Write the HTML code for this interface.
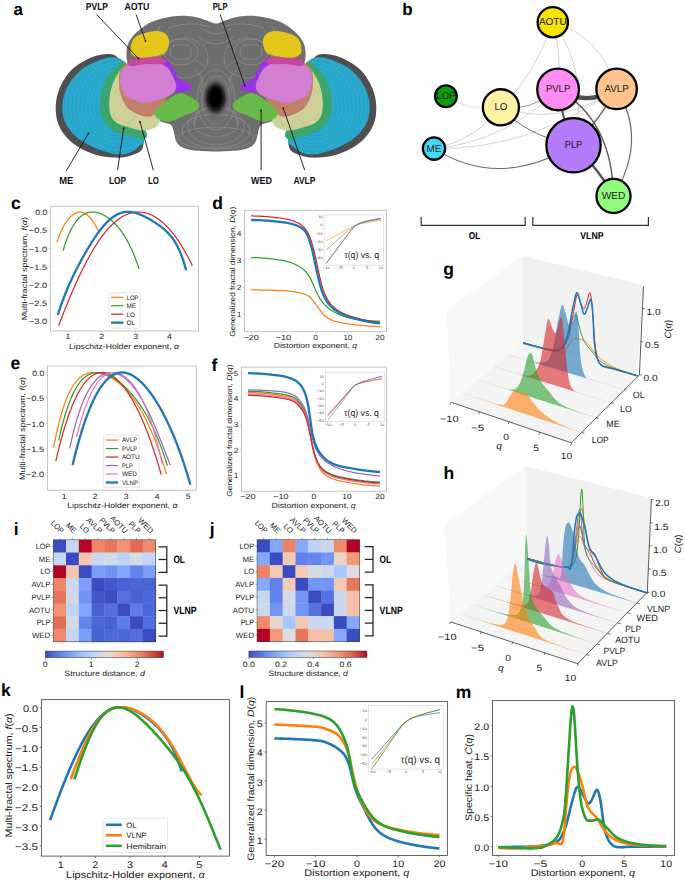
<!DOCTYPE html>
<html><head><meta charset="utf-8"><style>
html,body{margin:0;padding:0;background:#fff;}
body{width:685px;height:883px;overflow:hidden;}
svg{display:block;font-family:"Liberation Sans",sans-serif;text-rendering:geometricPrecision;}
</style></head><body>
<svg width="685" height="883" viewBox="0 0 685 883">
<rect width="685" height="883" fill="#fff"/>
<rect x="50.40" y="206.30" width="148.10" height="124.70" fill="#fff" stroke="#bdbdbd" stroke-width="0.90"/>
<line x1="67.87" y1="331.00" x2="67.87" y2="332.60" stroke="#bdbdbd" stroke-width="0.80"/>
<text x="67.87" y="339.34" font-size="7.75" text-anchor="middle" fill="#1a1a1a" textLength="4.84" lengthAdjust="spacingAndGlyphs">1</text>
<line x1="101.74" y1="331.00" x2="101.74" y2="332.60" stroke="#bdbdbd" stroke-width="0.80"/>
<text x="101.74" y="339.34" font-size="7.75" text-anchor="middle" fill="#1a1a1a" textLength="4.84" lengthAdjust="spacingAndGlyphs">2</text>
<line x1="135.61" y1="331.00" x2="135.61" y2="332.60" stroke="#bdbdbd" stroke-width="0.80"/>
<text x="135.61" y="339.34" font-size="7.75" text-anchor="middle" fill="#1a1a1a" textLength="4.84" lengthAdjust="spacingAndGlyphs">3</text>
<line x1="169.48" y1="331.00" x2="169.48" y2="332.60" stroke="#bdbdbd" stroke-width="0.80"/>
<text x="169.48" y="339.34" font-size="7.75" text-anchor="middle" fill="#1a1a1a" textLength="4.84" lengthAdjust="spacingAndGlyphs">4</text>
<line x1="48.80" y1="212.20" x2="50.40" y2="212.20" stroke="#bdbdbd" stroke-width="0.80"/>
<text x="47.30" y="215.37" font-size="7.75" text-anchor="end" fill="#1a1a1a" textLength="12.09" lengthAdjust="spacingAndGlyphs">0.0</text>
<line x1="48.80" y1="230.30" x2="50.40" y2="230.30" stroke="#bdbdbd" stroke-width="0.80"/>
<text x="47.30" y="233.47" font-size="7.75" text-anchor="end" fill="#1a1a1a" textLength="18.45" lengthAdjust="spacingAndGlyphs">−0.5</text>
<line x1="48.80" y1="248.40" x2="50.40" y2="248.40" stroke="#bdbdbd" stroke-width="0.80"/>
<text x="47.30" y="251.57" font-size="7.75" text-anchor="end" fill="#1a1a1a" textLength="18.45" lengthAdjust="spacingAndGlyphs">−1.0</text>
<line x1="48.80" y1="266.50" x2="50.40" y2="266.50" stroke="#bdbdbd" stroke-width="0.80"/>
<text x="47.30" y="269.67" font-size="7.75" text-anchor="end" fill="#1a1a1a" textLength="18.45" lengthAdjust="spacingAndGlyphs">−1.5</text>
<line x1="48.80" y1="284.60" x2="50.40" y2="284.60" stroke="#bdbdbd" stroke-width="0.80"/>
<text x="47.30" y="287.77" font-size="7.75" text-anchor="end" fill="#1a1a1a" textLength="18.45" lengthAdjust="spacingAndGlyphs">−2.0</text>
<line x1="48.80" y1="302.70" x2="50.40" y2="302.70" stroke="#bdbdbd" stroke-width="0.80"/>
<text x="47.30" y="305.87" font-size="7.75" text-anchor="end" fill="#1a1a1a" textLength="18.45" lengthAdjust="spacingAndGlyphs">−2.5</text>
<line x1="48.80" y1="320.80" x2="50.40" y2="320.80" stroke="#bdbdbd" stroke-width="0.80"/>
<text x="47.30" y="323.97" font-size="7.75" text-anchor="end" fill="#1a1a1a" textLength="18.45" lengthAdjust="spacingAndGlyphs">−3.0</text>
<text x="124.00" y="349.00" font-size="7.75" text-anchor="middle" fill="#1a1a1a" textLength="109.90" lengthAdjust="spacingAndGlyphs">Lipschitz-Holder exponent, <tspan font-style="italic">α</tspan></text>
<text x="26.70" y="268.70" font-size="7.75" text-anchor="middle" fill="#1a1a1a" textLength="103.20" lengthAdjust="spacingAndGlyphs" transform="rotate(-90 26.70 268.70)">Multi-fractal spectrum, <tspan font-style="italic">f</tspan>(<tspan font-style="italic">α</tspan>)</text>
<path d="M56.8 242.4 57.0 241.8 57.2 241.2 57.4 240.6 57.6 239.9 57.8 239.4 58.0 238.8 58.3 238.2 58.5 237.6 58.7 237.1 58.9 236.5 59.1 236.0 59.3 235.4 59.6 234.9 59.8 234.4 60.0 233.9 60.2 233.4 60.4 232.9 60.6 232.4 60.8 231.9 61.1 231.4 61.3 230.9 61.5 230.5 61.7 230.0 61.9 229.6 62.1 229.1 62.3 228.7 62.6 228.3 62.8 227.9 63.0 227.4 63.2 227.0 63.4 226.6 63.6 226.2 63.8 225.8 64.1 225.5 64.3 225.1 64.5 224.7 64.7 224.4 64.9 224.0 65.1 223.6 65.4 223.3 65.6 223.0 65.8 222.6 66.0 222.3 66.2 222.0 66.4 221.7 66.6 221.4 66.9 221.1 67.1 220.8 67.3 220.5 67.5 220.2 67.7 219.9 67.9 219.6 68.1 219.3 68.4 219.1 68.6 218.8 68.8 218.6 69.0 218.3 69.2 218.1 69.4 217.8 69.6 217.6 69.9 217.4 70.1 217.1 70.3 216.9 70.5 216.7 70.7 216.5 70.9 216.3 71.2 216.1 71.4 215.9 71.6 215.7 71.8 215.5 72.0 215.4 72.2 215.2 72.4 215.0 72.7 214.8 72.9 214.7 73.1 214.5 73.3 214.4 73.5 214.2 73.7 214.1 73.9 214.0 74.2 213.8 74.4 213.7 74.6 213.6 74.8 213.5 75.0 213.4 75.2 213.3 75.4 213.2 75.7 213.1 75.9 213.0 76.1 212.9 76.3 212.8 76.5 212.7 76.7 212.7 77.0 212.6 77.2 212.5 77.4 212.5 77.6 212.4 77.8 212.4 78.0 212.3 78.2 212.3 78.5 212.2 78.7 212.2 78.9 212.2 79.1 212.2 79.3 212.2 79.5 212.1 79.7 212.1 80.0 212.1 80.2 212.1 80.4 212.2 80.6 212.2 80.8 212.2 81.0 212.2 81.2 212.2 81.5 212.3 81.7 212.3 81.9 212.4 82.1 212.4 82.3 212.5 82.5 212.5 82.8 212.6 83.0 212.6 83.2 212.7 83.4 212.8 83.6 212.9 83.8 213.0 84.0 213.1 84.3 213.2 84.5 213.3 84.7 213.4 84.9 213.5 85.1 213.6 85.3 213.7 85.5 213.8 85.8 214.0 86.0 214.1 86.2 214.3 86.4 214.4 86.6 214.6 86.8 214.7 87.0 214.9 87.3 215.0 87.5 215.2 87.7 215.4 87.9 215.6 88.1 215.8 88.3 216.0 88.6 216.2 88.8 216.4 89.0 216.6 89.2 216.8 89.4 217.0 89.6 217.2 89.8 217.5 90.1 217.7 90.3 217.9 90.5 218.2 90.7 218.4 90.9 218.7 91.1 219.0 91.3 219.2 91.6 219.5 91.8 219.8 92.0 220.1 92.2 220.4 92.4 220.6 92.6 220.9 92.8 221.3 93.1 221.6 93.3 221.9 93.5 222.2 93.7 222.5 93.9 222.9 94.1 223.2 94.3 223.5 94.6 223.9 94.8 224.2 95.0 224.6 95.2 225.0 95.4 225.3 95.6 225.7 95.9 226.1 96.1 226.5 96.3 226.9 96.5 227.2 96.7 227.6 96.9 228.1 97.1 228.5 97.4 228.9 97.6 229.3 97.8 229.7 98.0 230.2 98.2 230.6 98.4 231.0 98.6 231.5 98.9 231.9 99.1 232.4 99.3 232.9 99.5 233.3" fill="none" stroke="#ff7f0e" stroke-width="1.25" stroke-linejoin="round" stroke-linecap="butt"/>
<path d="M63.1 250.6 63.5 249.3 63.9 248.0 64.2 246.8 64.6 245.6 65.0 244.5 65.4 243.3 65.8 242.2 66.2 241.1 66.5 240.1 66.9 239.1 67.3 238.1 67.7 237.1 68.1 236.1 68.4 235.2 68.8 234.3 69.2 233.4 69.6 232.6 70.0 231.8 70.4 231.0 70.7 230.2 71.1 229.4 71.5 228.7 71.9 228.0 72.3 227.3 72.7 226.6 73.0 225.9 73.4 225.3 73.8 224.7 74.2 224.1 74.6 223.5 75.0 222.9 75.3 222.4 75.7 221.8 76.1 221.3 76.5 220.8 76.9 220.4 77.2 219.9 77.6 219.4 78.0 219.0 78.4 218.6 78.8 218.2 79.2 217.8 79.5 217.5 79.9 217.1 80.3 216.8 80.7 216.4 81.1 216.1 81.5 215.8 81.8 215.5 82.2 215.3 82.6 215.0 83.0 214.8 83.4 214.5 83.7 214.3 84.1 214.1 84.5 213.9 84.9 213.7 85.3 213.5 85.7 213.4 86.0 213.2 86.4 213.1 86.8 212.9 87.2 212.8 87.6 212.7 88.0 212.6 88.3 212.5 88.7 212.4 89.1 212.3 89.5 212.2 89.9 212.2 90.2 212.1 90.6 212.1 91.0 212.1 91.4 212.0 91.8 212.0 92.2 212.0 92.5 212.0 92.9 212.0 93.3 212.0 93.7 212.1 94.1 212.1 94.5 212.1 94.8 212.2 95.2 212.2 95.6 212.3 96.0 212.4 96.4 212.4 96.7 212.5 97.1 212.6 97.5 212.7 97.9 212.8 98.3 212.9 98.7 213.0 99.0 213.1 99.4 213.3 99.8 213.4 100.2 213.5 100.6 213.7 101.0 213.8 101.3 214.0 101.7 214.2 102.1 214.3 102.5 214.5 102.9 214.7 103.3 214.9 103.6 215.1 104.0 215.3 104.4 215.5 104.8 215.7 105.2 215.9 105.5 216.2 105.9 216.4 106.3 216.6 106.7 216.9 107.1 217.1 107.5 217.4 107.8 217.6 108.2 217.9 108.6 218.2 109.0 218.5 109.4 218.8 109.8 219.1 110.1 219.4 110.5 219.7 110.9 220.0 111.3 220.3 111.7 220.6 112.0 221.0 112.4 221.3 112.8 221.6 113.2 222.0 113.6 222.4 114.0 222.7 114.3 223.1 114.7 223.5 115.1 223.9 115.5 224.3 115.9 224.7 116.3 225.1 116.6 225.5 117.0 225.9 117.4 226.4 117.8 226.8 118.2 227.3 118.5 227.7 118.9 228.2 119.3 228.7 119.7 229.2 120.1 229.7 120.5 230.2 120.8 230.7 121.2 231.2 121.6 231.7 122.0 232.3 122.4 232.8 122.8 233.4 123.1 234.0 123.5 234.5 123.9 235.1 124.3 235.7 124.7 236.3 125.0 237.0 125.4 237.6 125.8 238.2 126.2 238.9 126.6 239.6 127.0 240.2 127.3 240.9 127.7 241.6 128.1 242.3 128.5 243.1 128.9 243.8 129.3 244.5 129.6 245.3 130.0 246.1 130.4 246.9 130.8 247.7 131.2 248.5 131.6 249.3 131.9 250.2 132.3 251.0 132.7 251.9 133.1 252.8 133.5 253.7 133.8 254.6 134.2 255.5 134.6 256.5 135.0 257.4 135.4 258.4 135.8 259.4 136.1 260.4 136.5 261.4 136.9 262.5 137.3 263.6 137.7 264.6 138.1 265.7 138.4 266.8 138.8 268.0 139.2 269.1" fill="none" stroke="#2ca02c" stroke-width="1.25" stroke-linejoin="round" stroke-linecap="butt"/>
<path d="M58.7 325.4 59.4 323.7 60.1 321.9 60.7 320.2 61.4 318.4 62.1 316.7 62.8 315.0 63.4 313.3 64.1 311.6 64.8 309.9 65.4 308.2 66.1 306.6 66.8 304.9 67.5 303.3 68.1 301.6 68.8 300.0 69.5 298.4 70.1 296.8 70.8 295.2 71.5 293.6 72.2 292.0 72.8 290.5 73.5 288.9 74.2 287.4 74.8 285.9 75.5 284.3 76.2 282.8 76.9 281.4 77.5 279.9 78.2 278.4 78.9 277.0 79.6 275.6 80.2 274.1 80.9 272.7 81.6 271.3 82.2 270.0 82.9 268.6 83.6 267.3 84.3 265.9 84.9 264.6 85.6 263.3 86.3 262.0 86.9 260.8 87.6 259.5 88.3 258.3 89.0 257.0 89.6 255.8 90.3 254.6 91.0 253.5 91.6 252.3 92.3 251.1 93.0 250.0 93.7 248.9 94.3 247.8 95.0 246.7 95.7 245.6 96.3 244.6 97.0 243.6 97.7 242.5 98.4 241.5 99.0 240.5 99.7 239.6 100.4 238.6 101.0 237.7 101.7 236.8 102.4 235.9 103.1 235.0 103.7 234.1 104.4 233.3 105.1 232.4 105.7 231.6 106.4 230.8 107.1 230.0 107.8 229.2 108.4 228.5 109.1 227.8 109.8 227.0 110.5 226.3 111.1 225.7 111.8 225.0 112.5 224.3 113.1 223.7 113.8 223.1 114.5 222.5 115.2 221.9 115.8 221.3 116.5 220.8 117.2 220.2 117.8 219.7 118.5 219.2 119.2 218.7 119.9 218.3 120.5 217.8 121.2 217.4 121.9 217.0 122.5 216.6 123.2 216.2 123.9 215.8 124.6 215.5 125.2 215.2 125.9 214.8 126.6 214.5 127.2 214.3 127.9 214.0 128.6 213.7 129.3 213.5 129.9 213.3 130.6 213.1 131.3 212.9 131.9 212.8 132.6 212.6 133.3 212.5 134.0 212.4 134.6 212.3 135.3 212.2 136.0 212.1 136.7 212.0 137.3 212.0 138.0 212.0 138.7 212.0 139.3 212.0 140.0 212.0 140.7 212.1 141.4 212.1 142.0 212.2 142.7 212.3 143.4 212.4 144.0 212.6 144.7 212.7 145.4 212.9 146.1 213.0 146.7 213.2 147.4 213.4 148.1 213.7 148.7 213.9 149.4 214.2 150.1 214.4 150.8 214.7 151.4 215.0 152.1 215.3 152.8 215.7 153.4 216.0 154.1 216.4 154.8 216.8 155.5 217.2 156.1 217.6 156.8 218.0 157.5 218.5 158.1 219.0 158.8 219.4 159.5 219.9 160.2 220.5 160.8 221.0 161.5 221.5 162.2 222.1 162.9 222.7 163.5 223.3 164.2 223.9 164.9 224.5 165.5 225.2 166.2 225.8 166.9 226.5 167.6 227.2 168.2 227.9 168.9 228.7 169.6 229.4 170.2 230.2 170.9 231.0 171.6 231.8 172.3 232.6 172.9 233.4 173.6 234.3 174.3 235.1 174.9 236.0 175.6 236.9 176.3 237.9 177.0 238.8 177.6 239.8 178.3 240.7 179.0 241.7 179.6 242.7 180.3 243.8 181.0 244.8 181.7 245.9 182.3 247.0 183.0 248.1 183.7 249.2 184.3 250.4 185.0 251.5 185.7 252.7 186.4 253.9 187.0 255.2 187.7 256.4 188.4 257.7 189.1 259.0 189.7 260.3 190.4 261.6 191.1 262.9 191.7 264.3 192.4 265.7" fill="none" stroke="#d62728" stroke-width="1.25" stroke-linejoin="round" stroke-linecap="butt"/>
<path d="M57.9 315.0 58.6 312.9 59.2 310.8 59.8 308.8 60.5 306.9 61.1 305.0 61.8 303.2 62.4 301.4 63.1 299.6 63.7 297.9 64.4 296.2 65.0 294.6 65.6 293.0 66.3 291.4 66.9 289.8 67.6 288.3 68.2 286.8 68.9 285.3 69.5 283.9 70.1 282.4 70.8 281.0 71.4 279.6 72.1 278.3 72.7 276.9 73.4 275.6 74.0 274.2 74.7 272.9 75.3 271.6 75.9 270.3 76.6 269.1 77.2 267.8 77.9 266.6 78.5 265.3 79.2 264.1 79.8 262.9 80.5 261.7 81.1 260.5 81.7 259.3 82.4 258.1 83.0 257.0 83.7 255.8 84.3 254.7 85.0 253.5 85.6 252.4 86.3 251.3 86.9 250.2 87.5 249.1 88.2 248.0 88.8 247.0 89.5 245.9 90.1 244.8 90.8 243.8 91.4 242.8 92.0 241.8 92.7 240.8 93.3 239.8 94.0 238.8 94.6 237.8 95.3 236.9 95.9 235.9 96.6 235.0 97.2 234.1 97.8 233.2 98.5 232.3 99.1 231.4 99.8 230.6 100.4 229.8 101.1 228.9 101.7 228.1 102.4 227.4 103.0 226.6 103.6 225.8 104.3 225.1 104.9 224.4 105.6 223.7 106.2 223.0 106.9 222.4 107.5 221.7 108.1 221.1 108.8 220.5 109.4 219.9 110.1 219.4 110.7 218.8 111.4 218.3 112.0 217.8 112.7 217.3 113.3 216.8 113.9 216.4 114.6 216.0 115.2 215.6 115.9 215.2 116.5 214.9 117.2 214.5 117.8 214.2 118.5 213.9 119.1 213.6 119.7 213.4 120.4 213.1 121.0 212.9 121.7 212.7 122.3 212.5 123.0 212.4 123.6 212.3 124.2 212.1 124.9 212.0 125.5 212.0 126.2 211.9 126.8 211.9 127.5 211.8 128.1 211.8 128.8 211.8 129.4 211.9 130.0 211.9 130.7 212.0 131.3 212.0 132.0 212.1 132.6 212.2 133.3 212.4 133.9 212.5 134.6 212.6 135.2 212.8 135.8 213.0 136.5 213.2 137.1 213.4 137.8 213.6 138.4 213.8 139.1 214.1 139.7 214.3 140.3 214.6 141.0 214.8 141.6 215.1 142.3 215.4 142.9 215.7 143.6 216.0 144.2 216.3 144.9 216.6 145.5 217.0 146.1 217.3 146.8 217.6 147.4 218.0 148.1 218.3 148.7 218.7 149.4 219.1 150.0 219.4 150.7 219.8 151.3 220.2 151.9 220.6 152.6 221.0 153.2 221.4 153.9 221.8 154.5 222.2 155.2 222.6 155.8 223.1 156.5 223.5 157.1 223.9 157.7 224.4 158.4 224.8 159.0 225.3 159.7 225.8 160.3 226.3 161.0 226.7 161.6 227.2 162.2 227.8 162.9 228.3 163.5 228.8 164.2 229.4 164.8 229.9 165.5 230.5 166.1 231.1 166.8 231.7 167.4 232.4 168.0 233.0 168.7 233.7 169.3 234.4 170.0 235.1 170.6 235.9 171.3 236.7 171.9 237.5 172.6 238.4 173.2 239.3 173.8 240.2 174.5 241.2 175.1 242.2 175.8 243.3 176.4 244.5 177.1 245.6 177.7 246.9 178.3 248.2 179.0 249.6 179.6 251.0 180.3 252.5 180.9 254.1 181.6 255.8 182.2 257.5 182.9 259.4 183.5 261.4 184.1 263.4 184.8 265.6 185.4 267.8 186.1 270.2" fill="none" stroke="#1f77b4" stroke-width="2.30" stroke-linejoin="round" stroke-linecap="butt"/>
<rect x="109.00" y="292.60" width="31.20" height="35.60" fill="#fff" stroke="#dcdcdc" stroke-width="0.70" rx="1.5"/>
<line x1="110.90" y1="297.30" x2="123.40" y2="297.30" stroke="#ff7f0e" stroke-width="1.25"/>
<text x="126.60" y="299.60" font-size="6.43" text-anchor="start" fill="#1a1a1a" textLength="12.04" lengthAdjust="spacingAndGlyphs">LOP</text>
<line x1="110.90" y1="305.75" x2="123.40" y2="305.75" stroke="#2ca02c" stroke-width="1.25"/>
<text x="126.60" y="308.05" font-size="6.43" text-anchor="start" fill="#1a1a1a" textLength="9.42" lengthAdjust="spacingAndGlyphs">ME</text>
<line x1="110.90" y1="314.20" x2="123.40" y2="314.20" stroke="#d62728" stroke-width="1.25"/>
<text x="126.60" y="316.50" font-size="6.43" text-anchor="start" fill="#1a1a1a" textLength="8.25" lengthAdjust="spacingAndGlyphs">LO</text>
<line x1="110.90" y1="322.65" x2="123.40" y2="322.65" stroke="#1f77b4" stroke-width="2.30"/>
<text x="126.60" y="324.95" font-size="6.43" text-anchor="start" fill="#1a1a1a" textLength="8.47" lengthAdjust="spacingAndGlyphs">OL</text>
<rect x="47.40" y="366.10" width="149.00" height="124.10" fill="#fff" stroke="#bdbdbd" stroke-width="0.90"/>
<line x1="64.20" y1="490.20" x2="64.20" y2="491.80" stroke="#bdbdbd" stroke-width="0.80"/>
<text x="64.20" y="498.54" font-size="7.75" text-anchor="middle" fill="#1a1a1a" textLength="4.84" lengthAdjust="spacingAndGlyphs">1</text>
<line x1="95.20" y1="490.20" x2="95.20" y2="491.80" stroke="#bdbdbd" stroke-width="0.80"/>
<text x="95.20" y="498.54" font-size="7.75" text-anchor="middle" fill="#1a1a1a" textLength="4.84" lengthAdjust="spacingAndGlyphs">2</text>
<line x1="126.20" y1="490.20" x2="126.20" y2="491.80" stroke="#bdbdbd" stroke-width="0.80"/>
<text x="126.20" y="498.54" font-size="7.75" text-anchor="middle" fill="#1a1a1a" textLength="4.84" lengthAdjust="spacingAndGlyphs">3</text>
<line x1="157.20" y1="490.20" x2="157.20" y2="491.80" stroke="#bdbdbd" stroke-width="0.80"/>
<text x="157.20" y="498.54" font-size="7.75" text-anchor="middle" fill="#1a1a1a" textLength="4.84" lengthAdjust="spacingAndGlyphs">4</text>
<line x1="188.20" y1="490.20" x2="188.20" y2="491.80" stroke="#bdbdbd" stroke-width="0.80"/>
<text x="188.20" y="498.54" font-size="7.75" text-anchor="middle" fill="#1a1a1a" textLength="4.84" lengthAdjust="spacingAndGlyphs">5</text>
<line x1="45.80" y1="372.50" x2="47.40" y2="372.50" stroke="#bdbdbd" stroke-width="0.80"/>
<text x="44.30" y="375.67" font-size="7.75" text-anchor="end" fill="#1a1a1a" textLength="12.09" lengthAdjust="spacingAndGlyphs">0.0</text>
<line x1="45.80" y1="397.93" x2="47.40" y2="397.93" stroke="#bdbdbd" stroke-width="0.80"/>
<text x="44.30" y="401.10" font-size="7.75" text-anchor="end" fill="#1a1a1a" textLength="18.45" lengthAdjust="spacingAndGlyphs">−0.5</text>
<line x1="45.80" y1="423.35" x2="47.40" y2="423.35" stroke="#bdbdbd" stroke-width="0.80"/>
<text x="44.30" y="426.52" font-size="7.75" text-anchor="end" fill="#1a1a1a" textLength="18.45" lengthAdjust="spacingAndGlyphs">−1.0</text>
<line x1="45.80" y1="448.77" x2="47.40" y2="448.77" stroke="#bdbdbd" stroke-width="0.80"/>
<text x="44.30" y="451.95" font-size="7.75" text-anchor="end" fill="#1a1a1a" textLength="18.45" lengthAdjust="spacingAndGlyphs">−1.5</text>
<line x1="45.80" y1="474.20" x2="47.40" y2="474.20" stroke="#bdbdbd" stroke-width="0.80"/>
<text x="44.30" y="477.37" font-size="7.75" text-anchor="end" fill="#1a1a1a" textLength="18.45" lengthAdjust="spacingAndGlyphs">−2.0</text>
<text x="122.35" y="508.40" font-size="7.75" text-anchor="middle" fill="#1a1a1a" textLength="110.10" lengthAdjust="spacingAndGlyphs">Lipschitz-Holder exponent, <tspan font-style="italic">α</tspan></text>
<text x="24.70" y="428.50" font-size="7.75" text-anchor="middle" fill="#1a1a1a" textLength="102.90" lengthAdjust="spacingAndGlyphs" transform="rotate(-90 24.70 428.50)">Multi-fractal spectrum, <tspan font-style="italic">f</tspan>(<tspan font-style="italic">α</tspan>)</text>
<path d="M53.7 447.7 54.2 444.7 54.8 441.7 55.4 438.9 55.9 436.2 56.5 433.5 57.1 431.0 57.6 428.5 58.2 426.1 58.8 423.8 59.3 421.5 59.9 419.3 60.5 417.2 61.0 415.2 61.6 413.2 62.2 411.3 62.7 409.5 63.3 407.7 63.9 406.0 64.4 404.4 65.0 402.8 65.6 401.2 66.1 399.8 66.7 398.3 67.3 397.0 67.8 395.6 68.4 394.4 69.0 393.2 69.5 392.0 70.1 390.9 70.7 389.8 71.2 388.8 71.8 387.8 72.4 386.8 72.9 385.9 73.5 385.1 74.1 384.2 74.6 383.4 75.2 382.7 75.8 382.0 76.3 381.3 76.9 380.6 77.5 380.0 78.0 379.4 78.6 378.8 79.2 378.3 79.7 377.8 80.3 377.3 80.9 376.9 81.4 376.5 82.0 376.1 82.6 375.7 83.1 375.4 83.7 375.0 84.3 374.7 84.8 374.5 85.4 374.2 86.0 374.0 86.5 373.8 87.1 373.6 87.7 373.4 88.2 373.2 88.8 373.1 89.4 373.0 90.0 372.9 90.5 372.8 91.1 372.7 91.7 372.6 92.2 372.6 92.8 372.6 93.4 372.6 93.9 372.6 94.5 372.6 95.1 372.6 95.6 372.6 96.2 372.7 96.8 372.7 97.3 372.8 97.9 372.9 98.5 373.0 99.0 373.1 99.6 373.2 100.2 373.4 100.7 373.5 101.3 373.7 101.9 373.8 102.4 374.0 103.0 374.2 103.6 374.4 104.1 374.6 104.7 374.8 105.3 375.0 105.8 375.2 106.4 375.5 107.0 375.7 107.5 376.0 108.1 376.2 108.7 376.5 109.2 376.8 109.8 377.1 110.4 377.4 110.9 377.7 111.5 378.0 112.1 378.4 112.6 378.7 113.2 379.1 113.8 379.4 114.3 379.8 114.9 380.2 115.5 380.5 116.0 380.9 116.6 381.3 117.2 381.8 117.7 382.2 118.3 382.6 118.9 383.1 119.4 383.5 120.0 384.0 120.6 384.5 121.1 385.0 121.7 385.5 122.3 386.0 122.8 386.5 123.4 387.0 124.0 387.6 124.5 388.1 125.1 388.7 125.7 389.3 126.2 389.9 126.8 390.5 127.4 391.1 127.9 391.7 128.5 392.4 129.1 393.0 129.6 393.7 130.2 394.4 130.8 395.1 131.3 395.8 131.9 396.5 132.5 397.2 133.0 398.0 133.6 398.8 134.2 399.6 134.7 400.4 135.3 401.2 135.9 402.0 136.4 402.8 137.0 403.7 137.6 404.6 138.1 405.5 138.7 406.4 139.3 407.3 139.8 408.3 140.4 409.2 141.0 410.2 141.6 411.2 142.1 412.2 142.7 413.2 143.3 414.3 143.8 415.4 144.4 416.5 145.0 417.6 145.5 418.7 146.1 419.8 146.7 421.0 147.2 422.2 147.8 423.4 148.4 424.6 148.9 425.8 149.5 427.1 150.1 428.4 150.6 429.7 151.2 431.0 151.8 432.3 152.3 433.7 152.9 435.1 153.5 436.4 154.0 437.9 154.6 439.3 155.2 440.8 155.7 442.2 156.3 443.7 156.9 445.3 157.4 446.8 158.0 448.4 158.6 449.9 159.1 451.5 159.7 453.2 160.3 454.8 160.8 456.5 161.4 458.1 162.0 459.8 162.5 461.6 163.1 463.3 163.7 465.1 164.2 466.8 164.8 468.6 165.4 470.5 165.9 472.3 166.5 474.2" fill="none" stroke="#ff7f0e" stroke-width="1.25" stroke-linejoin="round" stroke-linecap="butt"/>
<path d="M58.6 440.6 59.2 438.1 59.7 435.7 60.3 433.3 60.8 431.0 61.4 428.8 61.9 426.6 62.4 424.5 63.0 422.5 63.5 420.5 64.1 418.5 64.6 416.6 65.2 414.8 65.7 413.0 66.3 411.3 66.8 409.6 67.4 408.0 67.9 406.4 68.5 404.8 69.0 403.4 69.6 401.9 70.1 400.5 70.6 399.2 71.2 397.9 71.7 396.6 72.3 395.4 72.8 394.2 73.4 393.1 73.9 392.0 74.5 390.9 75.0 389.9 75.6 388.9 76.1 388.0 76.7 387.0 77.2 386.2 77.8 385.3 78.3 384.5 78.9 383.7 79.4 383.0 79.9 382.3 80.5 381.6 81.0 380.9 81.6 380.3 82.1 379.7 82.7 379.2 83.2 378.6 83.8 378.1 84.3 377.6 84.9 377.2 85.4 376.7 86.0 376.3 86.5 375.9 87.1 375.6 87.6 375.2 88.1 374.9 88.7 374.6 89.2 374.3 89.8 374.1 90.3 373.9 90.9 373.7 91.4 373.5 92.0 373.3 92.5 373.1 93.1 373.0 93.6 372.9 94.2 372.8 94.7 372.7 95.3 372.6 95.8 372.6 96.3 372.6 96.9 372.5 97.4 372.5 98.0 372.6 98.5 372.6 99.1 372.6 99.6 372.7 100.2 372.8 100.7 372.8 101.3 372.9 101.8 373.1 102.4 373.2 102.9 373.3 103.5 373.5 104.0 373.6 104.5 373.8 105.1 374.0 105.6 374.2 106.2 374.4 106.7 374.6 107.3 374.8 107.8 375.1 108.4 375.3 108.9 375.6 109.5 375.8 110.0 376.1 110.6 376.4 111.1 376.7 111.7 377.0 112.2 377.3 112.8 377.6 113.3 378.0 113.8 378.3 114.4 378.6 114.9 379.0 115.5 379.4 116.0 379.7 116.6 380.1 117.1 380.5 117.7 380.9 118.2 381.3 118.8 381.8 119.3 382.2 119.9 382.6 120.4 383.1 121.0 383.5 121.5 384.0 122.0 384.4 122.6 384.9 123.1 385.4 123.7 385.9 124.2 386.4 124.8 386.9 125.3 387.4 125.9 387.9 126.4 388.5 127.0 389.0 127.5 389.6 128.1 390.1 128.6 390.7 129.2 391.3 129.7 391.9 130.2 392.5 130.8 393.1 131.3 393.7 131.9 394.3 132.4 395.0 133.0 395.6 133.5 396.3 134.1 396.9 134.6 397.6 135.2 398.3 135.7 399.0 136.3 399.7 136.8 400.4 137.4 401.2 137.9 401.9 138.5 402.7 139.0 403.4 139.5 404.2 140.1 405.0 140.6 405.8 141.2 406.6 141.7 407.4 142.3 408.3 142.8 409.1 143.4 410.0 143.9 410.9 144.5 411.8 145.0 412.7 145.6 413.6 146.1 414.5 146.7 415.5 147.2 416.5 147.7 417.4 148.3 418.4 148.8 419.5 149.4 420.5 149.9 421.5 150.5 422.6 151.0 423.7 151.6 424.8 152.1 425.9 152.7 427.0 153.2 428.2 153.8 429.4 154.3 430.6 154.9 431.8 155.4 433.0 155.9 434.2 156.5 435.5 157.0 436.8 157.6 438.1 158.1 439.5 158.7 440.8 159.2 442.2 159.8 443.6 160.3 445.0 160.9 446.5 161.4 447.9 162.0 449.4 162.5 450.9 163.1 452.5 163.6 454.0 164.1 455.6 164.7 457.2 165.2 458.9 165.8 460.6 166.3 462.2 166.9 464.0 167.4 465.7" fill="none" stroke="#2ca02c" stroke-width="1.25" stroke-linejoin="round" stroke-linecap="butt"/>
<path d="M55.8 461.0 56.4 458.7 56.9 456.4 57.4 454.2 57.9 452.0 58.5 449.9 59.0 447.8 59.5 445.7 60.1 443.7 60.6 441.7 61.1 439.7 61.7 437.8 62.2 435.9 62.7 434.0 63.2 432.1 63.8 430.3 64.3 428.6 64.8 426.8 65.4 425.1 65.9 423.5 66.4 421.8 67.0 420.2 67.5 418.7 68.0 417.1 68.5 415.6 69.1 414.1 69.6 412.7 70.1 411.2 70.7 409.8 71.2 408.5 71.7 407.1 72.2 405.8 72.8 404.6 73.3 403.3 73.8 402.1 74.4 400.9 74.9 399.7 75.4 398.6 76.0 397.5 76.5 396.4 77.0 395.4 77.5 394.3 78.1 393.3 78.6 392.4 79.1 391.4 79.7 390.5 80.2 389.6 80.7 388.7 81.3 387.9 81.8 387.1 82.3 386.3 82.8 385.5 83.4 384.7 83.9 384.0 84.4 383.3 85.0 382.6 85.5 382.0 86.0 381.4 86.5 380.7 87.1 380.2 87.6 379.6 88.1 379.1 88.7 378.6 89.2 378.1 89.7 377.6 90.3 377.1 90.8 376.7 91.3 376.3 91.8 375.9 92.4 375.6 92.9 375.2 93.4 374.9 94.0 374.6 94.5 374.3 95.0 374.0 95.6 373.8 96.1 373.6 96.6 373.4 97.1 373.2 97.7 373.0 98.2 372.9 98.7 372.8 99.3 372.7 99.8 372.6 100.3 372.5 100.9 372.5 101.4 372.5 101.9 372.4 102.4 372.4 103.0 372.5 103.5 372.5 104.0 372.6 104.6 372.7 105.1 372.8 105.6 372.9 106.1 373.0 106.7 373.2 107.2 373.3 107.7 373.5 108.3 373.7 108.8 373.9 109.3 374.2 109.9 374.4 110.4 374.7 110.9 375.0 111.4 375.3 112.0 375.6 112.5 375.9 113.0 376.3 113.6 376.7 114.1 377.0 114.6 377.4 115.2 377.9 115.7 378.3 116.2 378.7 116.7 379.2 117.3 379.7 117.8 380.2 118.3 380.7 118.9 381.2 119.4 381.8 119.9 382.3 120.4 382.9 121.0 383.5 121.5 384.1 122.0 384.7 122.6 385.3 123.1 386.0 123.6 386.6 124.2 387.3 124.7 388.0 125.2 388.7 125.7 389.5 126.3 390.2 126.8 390.9 127.3 391.7 127.9 392.5 128.4 393.3 128.9 394.1 129.5 395.0 130.0 395.8 130.5 396.7 131.0 397.5 131.6 398.4 132.1 399.3 132.6 400.3 133.2 401.2 133.7 402.2 134.2 403.1 134.7 404.1 135.3 405.1 135.8 406.1 136.3 407.2 136.9 408.2 137.4 409.3 137.9 410.3 138.5 411.4 139.0 412.6 139.5 413.7 140.0 414.8 140.6 416.0 141.1 417.1 141.6 418.3 142.2 419.5 142.7 420.8 143.2 422.0 143.8 423.3 144.3 424.5 144.8 425.8 145.3 427.1 145.9 428.5 146.4 429.8 146.9 431.1 147.5 432.5 148.0 433.9 148.5 435.3 149.0 436.7 149.6 438.2 150.1 439.6 150.6 441.1 151.2 442.6 151.7 444.1 152.2 445.7 152.8 447.2 153.3 448.8 153.8 450.4 154.3 452.0 154.9 453.6 155.4 455.3 155.9 456.9 156.5 458.6 157.0 460.3 157.5 462.1 158.1 463.8 158.6 465.6 159.1 467.4 159.6 469.2 160.2 471.0 160.7 472.8 161.2 474.7" fill="none" stroke="#d62728" stroke-width="1.25" stroke-linejoin="round" stroke-linecap="butt"/>
<path d="M69.8 448.3 70.3 445.9 70.8 443.5 71.3 441.3 71.8 439.0 72.3 436.9 72.8 434.7 73.3 432.7 73.8 430.7 74.3 428.7 74.8 426.8 75.3 424.9 75.8 423.1 76.3 421.3 76.8 419.6 77.4 417.9 77.9 416.3 78.4 414.7 78.9 413.1 79.4 411.6 79.9 410.2 80.4 408.7 80.9 407.3 81.4 406.0 81.9 404.6 82.4 403.4 82.9 402.1 83.4 400.9 83.9 399.7 84.4 398.6 84.9 397.4 85.4 396.4 85.9 395.3 86.4 394.3 86.9 393.3 87.4 392.3 88.0 391.4 88.5 390.5 89.0 389.6 89.5 388.8 90.0 388.0 90.5 387.2 91.0 386.4 91.5 385.6 92.0 384.9 92.5 384.2 93.0 383.6 93.5 382.9 94.0 382.3 94.5 381.7 95.0 381.1 95.5 380.6 96.0 380.0 96.5 379.5 97.0 379.0 97.5 378.5 98.0 378.1 98.5 377.7 99.1 377.2 99.6 376.9 100.1 376.5 100.6 376.1 101.1 375.8 101.6 375.5 102.1 375.2 102.6 374.9 103.1 374.6 103.6 374.4 104.1 374.2 104.6 373.9 105.1 373.7 105.6 373.6 106.1 373.4 106.6 373.3 107.1 373.1 107.6 373.0 108.1 372.9 108.6 372.8 109.1 372.8 109.7 372.7 110.2 372.7 110.7 372.7 111.2 372.7 111.7 372.7 112.2 372.7 112.7 372.7 113.2 372.8 113.7 372.9 114.2 373.0 114.7 373.1 115.2 373.2 115.7 373.3 116.2 373.4 116.7 373.6 117.2 373.8 117.7 374.0 118.2 374.2 118.7 374.4 119.2 374.6 119.7 374.9 120.3 375.1 120.8 375.4 121.3 375.7 121.8 376.0 122.3 376.3 122.8 376.6 123.3 377.0 123.8 377.3 124.3 377.7 124.8 378.1 125.3 378.5 125.8 378.9 126.3 379.3 126.8 379.8 127.3 380.2 127.8 380.7 128.3 381.2 128.8 381.7 129.3 382.2 129.8 382.7 130.3 383.3 130.9 383.8 131.4 384.4 131.9 385.0 132.4 385.6 132.9 386.2 133.4 386.8 133.9 387.5 134.4 388.1 134.9 388.8 135.4 389.5 135.9 390.2 136.4 390.9 136.9 391.6 137.4 392.4 137.9 393.1 138.4 393.9 138.9 394.7 139.4 395.5 139.9 396.3 140.4 397.1 140.9 398.0 141.5 398.8 142.0 399.7 142.5 400.6 143.0 401.5 143.5 402.4 144.0 403.3 144.5 404.2 145.0 405.2 145.5 406.1 146.0 407.1 146.5 408.1 147.0 409.1 147.5 410.1 148.0 411.1 148.5 412.2 149.0 413.2 149.5 414.3 150.0 415.4 150.5 416.4 151.0 417.5 151.5 418.7 152.0 419.8 152.6 420.9 153.1 422.0 153.6 423.2 154.1 424.4 154.6 425.5 155.1 426.7 155.6 427.9 156.1 429.1 156.6 430.3 157.1 431.5 157.6 432.8 158.1 434.0 158.6 435.2 159.1 436.5 159.6 437.7 160.1 439.0 160.6 440.3 161.1 441.6 161.6 442.8 162.1 444.1 162.6 445.4 163.2 446.7 163.7 448.0 164.2 449.3 164.7 450.6 165.2 451.9 165.7 453.2 166.2 454.6 166.7 455.9 167.2 457.2 167.7 458.5 168.2 459.8 168.7 461.1 169.2 462.4 169.7 463.8 170.2 465.1" fill="none" stroke="#9467bd" stroke-width="1.25" stroke-linejoin="round" stroke-linecap="butt"/>
<path d="M76.6 437.0 77.0 435.3 77.5 433.6 77.9 431.9 78.3 430.2 78.7 428.6 79.2 427.0 79.6 425.4 80.0 423.9 80.5 422.4 80.9 420.9 81.3 419.4 81.8 418.0 82.2 416.6 82.6 415.2 83.0 413.9 83.5 412.6 83.9 411.3 84.3 410.0 84.8 408.8 85.2 407.6 85.6 406.4 86.1 405.2 86.5 404.1 86.9 403.0 87.3 401.9 87.8 400.8 88.2 399.8 88.6 398.8 89.1 397.8 89.5 396.8 89.9 395.9 90.4 395.0 90.8 394.1 91.2 393.2 91.6 392.3 92.1 391.5 92.5 390.7 92.9 389.9 93.4 389.1 93.8 388.4 94.2 387.6 94.7 386.9 95.1 386.2 95.5 385.6 95.9 384.9 96.4 384.3 96.8 383.7 97.2 383.1 97.7 382.5 98.1 381.9 98.5 381.4 99.0 380.9 99.4 380.4 99.8 379.9 100.2 379.4 100.7 379.0 101.1 378.5 101.5 378.1 102.0 377.7 102.4 377.3 102.8 376.9 103.3 376.6 103.7 376.3 104.1 375.9 104.5 375.6 105.0 375.3 105.4 375.1 105.8 374.8 106.3 374.6 106.7 374.3 107.1 374.1 107.6 373.9 108.0 373.7 108.4 373.6 108.8 373.4 109.3 373.3 109.7 373.1 110.1 373.0 110.6 372.9 111.0 372.8 111.4 372.7 111.9 372.7 112.3 372.6 112.7 372.6 113.1 372.6 113.6 372.6 114.0 372.6 114.4 372.6 114.9 372.6 115.3 372.6 115.7 372.7 116.2 372.7 116.6 372.8 117.0 372.9 117.4 373.0 117.9 373.1 118.3 373.3 118.7 373.4 119.2 373.5 119.6 373.7 120.0 373.9 120.5 374.1 120.9 374.3 121.3 374.5 121.7 374.7 122.2 374.9 122.6 375.2 123.0 375.4 123.5 375.7 123.9 376.0 124.3 376.3 124.8 376.6 125.2 376.9 125.6 377.2 126.0 377.6 126.5 377.9 126.9 378.3 127.3 378.7 127.8 379.0 128.2 379.4 128.6 379.9 129.1 380.3 129.5 380.7 129.9 381.2 130.3 381.6 130.8 382.1 131.2 382.6 131.6 383.1 132.1 383.6 132.5 384.1 132.9 384.7 133.4 385.2 133.8 385.8 134.2 386.4 134.6 387.0 135.1 387.6 135.5 388.2 135.9 388.9 136.4 389.5 136.8 390.2 137.2 390.8 137.7 391.5 138.1 392.3 138.5 393.0 138.9 393.7 139.4 394.5 139.8 395.2 140.2 396.0 140.7 396.8 141.1 397.6 141.5 398.5 142.0 399.3 142.4 400.2 142.8 401.1 143.2 402.0 143.7 402.9 144.1 403.8 144.5 404.8 145.0 405.8 145.4 406.8 145.8 407.8 146.3 408.8 146.7 409.9 147.1 410.9 147.5 412.0 148.0 413.1 148.4 414.3 148.8 415.4 149.3 416.6 149.7 417.8 150.1 419.0 150.6 420.3 151.0 421.5 151.4 422.8 151.8 424.1 152.3 425.4 152.7 426.8 153.1 428.2 153.6 429.6 154.0 431.0 154.4 432.5 154.9 434.0 155.3 435.5 155.7 437.0 156.1 438.6 156.6 440.2 157.0 441.8 157.4 443.4 157.9 445.1 158.3 446.8 158.7 448.5 159.2 450.3 159.6 452.1 160.0 453.9 160.4 455.8 160.9 457.7 161.3 459.6 161.7 461.6 162.2 463.6" fill="none" stroke="#e377c2" stroke-width="1.25" stroke-linejoin="round" stroke-linecap="butt"/>
<path d="M72.6 465.0 73.2 462.6 73.8 460.1 74.3 457.8 74.9 455.4 75.5 453.1 76.1 450.8 76.7 448.6 77.3 446.4 77.9 444.3 78.5 442.1 79.1 440.1 79.7 438.0 80.3 436.0 80.9 434.0 81.4 432.1 82.0 430.2 82.6 428.3 83.2 426.5 83.8 424.7 84.4 422.9 85.0 421.2 85.6 419.5 86.2 417.9 86.8 416.2 87.4 414.6 88.0 413.1 88.6 411.6 89.1 410.1 89.7 408.6 90.3 407.2 90.9 405.8 91.5 404.4 92.1 403.1 92.7 401.8 93.3 400.5 93.9 399.3 94.5 398.1 95.1 396.9 95.7 395.8 96.2 394.7 96.8 393.6 97.4 392.5 98.0 391.5 98.6 390.5 99.2 389.6 99.8 388.6 100.4 387.7 101.0 386.9 101.6 386.0 102.2 385.2 102.8 384.4 103.4 383.6 103.9 382.9 104.5 382.2 105.1 381.5 105.7 380.9 106.3 380.2 106.9 379.6 107.5 379.1 108.1 378.5 108.7 378.0 109.3 377.5 109.9 377.0 110.5 376.6 111.0 376.1 111.6 375.7 112.2 375.4 112.8 375.0 113.4 374.7 114.0 374.4 114.6 374.1 115.2 373.8 115.8 373.6 116.4 373.4 117.0 373.2 117.6 373.0 118.2 372.9 118.7 372.8 119.3 372.7 119.9 372.6 120.5 372.5 121.1 372.5 121.7 372.5 122.3 372.5 122.9 372.5 123.5 372.5 124.1 372.6 124.7 372.7 125.3 372.8 125.8 372.9 126.4 373.0 127.0 373.2 127.6 373.4 128.2 373.5 128.8 373.8 129.4 374.0 130.0 374.2 130.6 374.5 131.2 374.8 131.8 375.1 132.4 375.4 132.9 375.7 133.5 376.1 134.1 376.5 134.7 376.9 135.3 377.3 135.9 377.7 136.5 378.1 137.1 378.6 137.7 379.0 138.3 379.5 138.9 380.0 139.5 380.5 140.1 381.1 140.6 381.6 141.2 382.2 141.8 382.8 142.4 383.4 143.0 384.0 143.6 384.6 144.2 385.2 144.8 385.9 145.4 386.6 146.0 387.2 146.6 387.9 147.2 388.7 147.7 389.4 148.3 390.1 148.9 390.9 149.5 391.7 150.1 392.4 150.7 393.2 151.3 394.1 151.9 394.9 152.5 395.7 153.1 396.6 153.7 397.5 154.3 398.4 154.9 399.3 155.4 400.2 156.0 401.1 156.6 402.1 157.2 403.0 157.8 404.0 158.4 405.0 159.0 406.0 159.6 407.0 160.2 408.0 160.8 409.1 161.4 410.2 162.0 411.2 162.5 412.3 163.1 413.4 163.7 414.6 164.3 415.7 164.9 416.9 165.5 418.0 166.1 419.2 166.7 420.4 167.3 421.7 167.9 422.9 168.5 424.2 169.1 425.4 169.7 426.7 170.2 428.0 170.8 429.3 171.4 430.7 172.0 432.1 172.6 433.4 173.2 434.8 173.8 436.2 174.4 437.7 175.0 439.1 175.6 440.6 176.2 442.1 176.8 443.6 177.3 445.1 177.9 446.7 178.5 448.3 179.1 449.9 179.7 451.5 180.3 453.1 180.9 454.8 181.5 456.5 182.1 458.2 182.7 459.9 183.3 461.7 183.9 463.5 184.5 465.3 185.0 467.1 185.6 468.9 186.2 470.8 186.8 472.7 187.4 474.7 188.0 476.6 188.6 478.6 189.2 480.6 189.8 482.7 190.4 484.8" fill="none" stroke="#1f77b4" stroke-width="2.30" stroke-linejoin="round" stroke-linecap="butt"/>
<rect x="103.60" y="435.10" width="35.70" height="52.30" fill="#fff" stroke="#dcdcdc" stroke-width="0.70" rx="1.5"/>
<line x1="105.90" y1="440.10" x2="118.10" y2="440.10" stroke="#ff7f0e" stroke-width="1.25"/>
<text x="121.90" y="442.40" font-size="6.43" text-anchor="start" fill="#1a1a1a" textLength="15.53" lengthAdjust="spacingAndGlyphs">AVLP</text>
<line x1="105.90" y1="448.58" x2="118.10" y2="448.58" stroke="#2ca02c" stroke-width="1.25"/>
<text x="121.90" y="450.88" font-size="6.43" text-anchor="start" fill="#1a1a1a" textLength="15.42" lengthAdjust="spacingAndGlyphs">PVLP</text>
<line x1="105.90" y1="457.06" x2="118.10" y2="457.06" stroke="#d62728" stroke-width="1.25"/>
<text x="121.90" y="459.36" font-size="6.43" text-anchor="start" fill="#1a1a1a" textLength="17.62" lengthAdjust="spacingAndGlyphs">AOTU</text>
<line x1="105.90" y1="465.54" x2="118.10" y2="465.54" stroke="#9467bd" stroke-width="1.25"/>
<text x="121.90" y="467.84" font-size="6.43" text-anchor="start" fill="#1a1a1a" textLength="11.11" lengthAdjust="spacingAndGlyphs">PLP</text>
<line x1="105.90" y1="474.02" x2="118.10" y2="474.02" stroke="#e377c2" stroke-width="1.25"/>
<text x="121.90" y="476.32" font-size="6.43" text-anchor="start" fill="#1a1a1a" textLength="15.06" lengthAdjust="spacingAndGlyphs">WED</text>
<line x1="105.90" y1="482.50" x2="118.10" y2="482.50" stroke="#1f77b4" stroke-width="2.30"/>
<text x="121.90" y="484.80" font-size="6.43" text-anchor="start" fill="#1a1a1a" textLength="16.33" lengthAdjust="spacingAndGlyphs">VLNP</text>
<rect x="41.50" y="699.60" width="188.00" height="156.50" fill="#fff" stroke="#555" stroke-width="0.90"/>
<line x1="60.68" y1="856.10" x2="60.68" y2="857.90" stroke="#555" stroke-width="0.80"/>
<text x="60.68" y="867.63" font-size="9.69" text-anchor="middle" fill="#1a1a1a" textLength="6.04" lengthAdjust="spacingAndGlyphs">1</text>
<line x1="95.36" y1="856.10" x2="95.36" y2="857.90" stroke="#555" stroke-width="0.80"/>
<text x="95.36" y="867.63" font-size="9.69" text-anchor="middle" fill="#1a1a1a" textLength="6.04" lengthAdjust="spacingAndGlyphs">2</text>
<line x1="130.04" y1="856.10" x2="130.04" y2="857.90" stroke="#555" stroke-width="0.80"/>
<text x="130.04" y="867.63" font-size="9.69" text-anchor="middle" fill="#1a1a1a" textLength="6.04" lengthAdjust="spacingAndGlyphs">3</text>
<line x1="164.72" y1="856.10" x2="164.72" y2="857.90" stroke="#555" stroke-width="0.80"/>
<text x="164.72" y="867.63" font-size="9.69" text-anchor="middle" fill="#1a1a1a" textLength="6.04" lengthAdjust="spacingAndGlyphs">4</text>
<line x1="199.40" y1="856.10" x2="199.40" y2="857.90" stroke="#555" stroke-width="0.80"/>
<text x="199.40" y="867.63" font-size="9.69" text-anchor="middle" fill="#1a1a1a" textLength="6.04" lengthAdjust="spacingAndGlyphs">5</text>
<line x1="39.70" y1="707.80" x2="41.50" y2="707.80" stroke="#555" stroke-width="0.80"/>
<text x="38.10" y="712.26" font-size="9.69" text-anchor="end" fill="#1a1a1a" textLength="15.11" lengthAdjust="spacingAndGlyphs">0.0</text>
<line x1="39.70" y1="727.52" x2="41.50" y2="727.52" stroke="#555" stroke-width="0.80"/>
<text x="38.10" y="731.99" font-size="9.69" text-anchor="end" fill="#1a1a1a" textLength="23.07" lengthAdjust="spacingAndGlyphs">−0.5</text>
<line x1="39.70" y1="747.25" x2="41.50" y2="747.25" stroke="#555" stroke-width="0.80"/>
<text x="38.10" y="751.71" font-size="9.69" text-anchor="end" fill="#1a1a1a" textLength="23.07" lengthAdjust="spacingAndGlyphs">−1.0</text>
<line x1="39.70" y1="766.97" x2="41.50" y2="766.97" stroke="#555" stroke-width="0.80"/>
<text x="38.10" y="771.44" font-size="9.69" text-anchor="end" fill="#1a1a1a" textLength="23.07" lengthAdjust="spacingAndGlyphs">−1.5</text>
<line x1="39.70" y1="786.70" x2="41.50" y2="786.70" stroke="#555" stroke-width="0.80"/>
<text x="38.10" y="791.16" font-size="9.69" text-anchor="end" fill="#1a1a1a" textLength="23.07" lengthAdjust="spacingAndGlyphs">−2.0</text>
<line x1="39.70" y1="806.42" x2="41.50" y2="806.42" stroke="#555" stroke-width="0.80"/>
<text x="38.10" y="810.89" font-size="9.69" text-anchor="end" fill="#1a1a1a" textLength="23.07" lengthAdjust="spacingAndGlyphs">−2.5</text>
<line x1="39.70" y1="826.15" x2="41.50" y2="826.15" stroke="#555" stroke-width="0.80"/>
<text x="38.10" y="830.61" font-size="9.69" text-anchor="end" fill="#1a1a1a" textLength="23.07" lengthAdjust="spacingAndGlyphs">−3.0</text>
<line x1="39.70" y1="845.88" x2="41.50" y2="845.88" stroke="#555" stroke-width="0.80"/>
<text x="38.10" y="850.34" font-size="9.69" text-anchor="end" fill="#1a1a1a" textLength="23.07" lengthAdjust="spacingAndGlyphs">−3.5</text>
<text x="135.40" y="877.70" font-size="9.69" text-anchor="middle" fill="#1a1a1a" textLength="138.60" lengthAdjust="spacingAndGlyphs">Lipschitz-Holder exponent, <tspan font-style="italic">α</tspan></text>
<text x="11.60" y="775.40" font-size="9.49" text-anchor="middle" fill="#1a1a1a" textLength="124.10" lengthAdjust="spacingAndGlyphs" transform="rotate(-90 11.60 775.40)">Multi-fractal spectrum, <tspan font-style="italic">f</tspan>(<tspan font-style="italic">α</tspan>)</text>
<path d="M50.1 820.2 50.8 818.3 51.4 816.5 52.1 814.6 52.7 812.8 53.4 810.9 54.1 809.1 54.7 807.3 55.4 805.5 56.1 803.7 56.7 801.9 57.4 800.1 58.0 798.4 58.7 796.6 59.4 794.9 60.0 793.1 60.7 791.4 61.3 789.7 62.0 788.0 62.7 786.3 63.3 784.6 64.0 783.0 64.7 781.3 65.3 779.7 66.0 778.1 66.6 776.4 67.3 774.8 68.0 773.2 68.6 771.7 69.3 770.1 69.9 768.5 70.6 767.0 71.3 765.5 71.9 764.0 72.6 762.5 73.3 761.0 73.9 759.6 74.6 758.1 75.2 756.7 75.9 755.3 76.6 753.9 77.2 752.5 77.9 751.1 78.5 749.8 79.2 748.5 79.9 747.2 80.5 745.9 81.2 744.6 81.8 743.3 82.5 742.1 83.2 740.9 83.8 739.7 84.5 738.5 85.2 737.4 85.8 736.2 86.5 735.1 87.1 734.0 87.8 733.0 88.5 731.9 89.1 730.9 89.8 729.9 90.4 728.9 91.1 727.9 91.8 727.0 92.4 726.1 93.1 725.2 93.8 724.3 94.4 723.4 95.1 722.6 95.7 721.8 96.4 721.0 97.1 720.2 97.7 719.5 98.4 718.8 99.0 718.1 99.7 717.4 100.4 716.7 101.0 716.1 101.7 715.5 102.4 714.9 103.0 714.4 103.7 713.8 104.3 713.3 105.0 712.8 105.7 712.3 106.3 711.9 107.0 711.5 107.6 711.0 108.3 710.7 109.0 710.3 109.6 710.0 110.3 709.6 110.9 709.3 111.6 709.1 112.3 708.8 112.9 708.6 113.6 708.3 114.3 708.1 114.9 708.0 115.6 707.8 116.2 707.7 116.9 707.5 117.6 707.4 118.2 707.4 118.9 707.3 119.5 707.3 120.2 707.2 120.9 707.2 121.5 707.2 122.2 707.3 122.9 707.3 123.5 707.4 124.2 707.4 124.8 707.5 125.5 707.6 126.2 707.7 126.8 707.9 127.5 708.0 128.1 708.2 128.8 708.4 129.5 708.6 130.1 708.8 130.8 709.0 131.4 709.2 132.1 709.5 132.8 709.7 133.4 710.0 134.1 710.3 134.8 710.6 135.4 710.9 136.1 711.2 136.7 711.5 137.4 711.9 138.1 712.2 138.7 712.6 139.4 713.0 140.0 713.3 140.7 713.7 141.4 714.1 142.0 714.6 142.7 715.0 143.4 715.4 144.0 715.8 144.7 716.3 145.3 716.8 146.0 717.2 146.7 717.7 147.3 718.2 148.0 718.7 148.6 719.2 149.3 719.7 150.0 720.2 150.6 720.8 151.3 721.3 152.0 721.9 152.6 722.5 153.3 723.1 153.9 723.6 154.6 724.3 155.3 724.9 155.9 725.5 156.6 726.2 157.2 726.8 157.9 727.5 158.6 728.2 159.2 728.9 159.9 729.6 160.5 730.4 161.2 731.1 161.9 731.9 162.5 732.7 163.2 733.5 163.9 734.4 164.5 735.3 165.2 736.1 165.8 737.1 166.5 738.0 167.2 739.0 167.8 740.0 168.5 741.0 169.1 742.1 169.8 743.2 170.5 744.4 171.1 745.5 171.8 746.8 172.5 748.0 173.1 749.3 173.8 750.7 174.4 752.1 175.1 753.5 175.8 755.0 176.4 756.6 177.1 758.2 177.7 759.8 178.4 761.6 179.1 763.4 179.7 765.2 180.4 767.2 181.1 769.2 181.7 771.3" fill="none" stroke="#1f77b4" stroke-width="2.60" stroke-linejoin="round" stroke-linecap="butt"/>
<path d="M70.7 779.1 71.4 777.4 72.0 775.7 72.7 774.0 73.3 772.3 74.0 770.6 74.6 768.9 75.3 767.2 76.0 765.5 76.6 763.8 77.3 762.1 77.9 760.4 78.6 758.7 79.3 757.1 79.9 755.4 80.6 753.8 81.2 752.2 81.9 750.6 82.5 749.1 83.2 747.5 83.9 746.0 84.5 744.5 85.2 743.1 85.8 741.6 86.5 740.2 87.1 738.8 87.8 737.5 88.5 736.2 89.1 734.9 89.8 733.6 90.4 732.4 91.1 731.2 91.7 730.0 92.4 728.9 93.1 727.8 93.7 726.7 94.4 725.7 95.0 724.6 95.7 723.7 96.4 722.7 97.0 721.8 97.7 720.9 98.3 720.1 99.0 719.2 99.6 718.5 100.3 717.7 101.0 717.0 101.6 716.3 102.3 715.6 102.9 715.0 103.6 714.3 104.2 713.8 104.9 713.2 105.6 712.7 106.2 712.2 106.9 711.7 107.5 711.3 108.2 710.8 108.8 710.5 109.5 710.1 110.2 709.7 110.8 709.4 111.5 709.1 112.1 708.9 112.8 708.6 113.5 708.4 114.1 708.2 114.8 708.0 115.4 707.8 116.1 707.7 116.7 707.5 117.4 707.4 118.1 707.4 118.7 707.3 119.4 707.2 120.0 707.2 120.7 707.2 121.3 707.2 122.0 707.2 122.7 707.2 123.3 707.3 124.0 707.3 124.6 707.4 125.3 707.5 125.9 707.6 126.6 707.7 127.3 707.8 127.9 708.0 128.6 708.1 129.2 708.3 129.9 708.5 130.6 708.6 131.2 708.8 131.9 709.1 132.5 709.3 133.2 709.5 133.8 709.8 134.5 710.0 135.2 710.3 135.8 710.6 136.5 710.8 137.1 711.1 137.8 711.5 138.4 711.8 139.1 712.1 139.8 712.4 140.4 712.8 141.1 713.2 141.7 713.5 142.4 713.9 143.0 714.3 143.7 714.7 144.4 715.1 145.0 715.6 145.7 716.0 146.3 716.4 147.0 716.9 147.7 717.4 148.3 717.9 149.0 718.4 149.6 718.9 150.3 719.4 150.9 719.9 151.6 720.5 152.3 721.1 152.9 721.6 153.6 722.2 154.2 722.8 154.9 723.4 155.5 724.1 156.2 724.7 156.9 725.4 157.5 726.1 158.2 726.8 158.8 727.5 159.5 728.2 160.1 729.0 160.8 729.7 161.5 730.5 162.1 731.3 162.8 732.1 163.4 732.9 164.1 733.8 164.8 734.7 165.4 735.5 166.1 736.4 166.7 737.4 167.4 738.3 168.0 739.3 168.7 740.2 169.4 741.2 170.0 742.2 170.7 743.2 171.3 744.3 172.0 745.3 172.6 746.4 173.3 747.5 174.0 748.6 174.6 749.7 175.3 750.9 175.9 752.0 176.6 753.2 177.2 754.4 177.9 755.6 178.6 756.8 179.2 758.0 179.9 759.2 180.5 760.5 181.2 761.7 181.9 763.0 182.5 764.2 183.2 765.5 183.8 766.8 184.5 768.0 185.1 769.3 185.8 770.6 186.5 771.8 187.1 773.1 187.8 774.4 188.4 775.6 189.1 776.9 189.7 778.1 190.4 779.3 191.1 780.5 191.7 781.7 192.4 782.9 193.0 784.0 193.7 785.1 194.4 786.2 195.0 787.2 195.7 788.2 196.3 789.2 197.0 790.1 197.6 791.0 198.3 791.8 199.0 792.6 199.6 793.3 200.3 793.9 200.9 794.5 201.6 795.0" fill="none" stroke="#ff7f0e" stroke-width="2.60" stroke-linejoin="round" stroke-linecap="butt"/>
<path d="M74.4 779.3 75.1 777.0 75.9 774.8 76.6 772.6 77.4 770.4 78.1 768.2 78.8 766.0 79.6 763.8 80.3 761.7 81.0 759.6 81.8 757.6 82.5 755.5 83.2 753.5 84.0 751.6 84.7 749.6 85.4 747.7 86.2 745.9 86.9 744.1 87.6 742.3 88.4 740.5 89.1 738.8 89.8 737.2 90.6 735.6 91.3 734.0 92.0 732.5 92.8 731.0 93.5 729.6 94.2 728.2 95.0 726.8 95.7 725.6 96.4 724.3 97.2 723.1 97.9 721.9 98.7 720.8 99.4 719.8 100.1 718.8 100.9 717.8 101.6 716.9 102.3 716.0 103.1 715.1 103.8 714.4 104.5 713.6 105.3 712.9 106.0 712.3 106.7 711.6 107.5 711.1 108.2 710.6 108.9 710.1 109.7 709.6 110.4 709.2 111.1 708.9 111.9 708.5 112.6 708.2 113.3 708.0 114.1 707.8 114.8 707.6 115.5 707.5 116.3 707.4 117.0 707.3 117.8 707.3 118.5 707.3 119.2 707.3 120.0 707.4 120.7 707.5 121.4 707.6 122.2 707.7 122.9 707.9 123.6 708.1 124.4 708.4 125.1 708.6 125.8 708.9 126.6 709.2 127.3 709.5 128.0 709.9 128.8 710.3 129.5 710.7 130.2 711.1 131.0 711.5 131.7 712.0 132.4 712.5 133.2 713.0 133.9 713.5 134.6 714.0 135.4 714.5 136.1 715.1 136.9 715.7 137.6 716.3 138.3 716.9 139.1 717.5 139.8 718.1 140.5 718.7 141.3 719.4 142.0 720.1 142.7 720.7 143.5 721.4 144.2 722.1 144.9 722.8 145.7 723.5 146.4 724.2 147.1 724.9 147.9 725.7 148.6 726.4 149.3 727.2 150.1 727.9 150.8 728.7 151.5 729.4 152.3 730.2 153.0 731.0 153.7 731.8 154.5 732.6 155.2 733.4 155.9 734.2 156.7 735.0 157.4 735.8 158.2 736.6 158.9 737.5 159.6 738.3 160.4 739.1 161.1 740.0 161.8 740.8 162.6 741.7 163.3 742.6 164.0 743.4 164.8 744.3 165.5 745.2 166.2 746.1 167.0 747.0 167.7 747.9 168.4 748.8 169.2 749.7 169.9 750.7 170.6 751.6 171.4 752.6 172.1 753.5 172.8 754.5 173.6 755.5 174.3 756.5 175.0 757.5 175.8 758.5 176.5 759.5 177.3 760.6 178.0 761.6 178.7 762.7 179.5 763.8 180.2 764.8 180.9 765.9 181.7 767.1 182.4 768.2 183.1 769.3 183.9 770.5 184.6 771.7 185.3 772.9 186.1 774.1 186.8 775.3 187.5 776.6 188.3 777.8 189.0 779.1 189.7 780.4 190.5 781.7 191.2 783.1 191.9 784.4 192.7 785.8 193.4 787.2 194.1 788.6 194.9 790.0 195.6 791.5 196.3 793.0 197.1 794.4 197.8 795.9 198.6 797.5 199.3 799.0 200.0 800.6 200.8 802.2 201.5 803.8 202.2 805.4 203.0 807.0 203.7 808.7 204.4 810.4 205.2 812.0 205.9 813.7 206.6 815.5 207.4 817.2 208.1 818.9 208.8 820.7 209.6 822.5 210.3 824.2 211.0 826.0 211.8 827.8 212.5 829.6 213.2 831.5 214.0 833.3 214.7 835.1 215.4 836.9 216.2 838.8 216.9 840.6 217.7 842.4 218.4 844.2 219.1 846.0 219.9 847.8 220.6 849.6" fill="none" stroke="#2ca02c" stroke-width="2.60" stroke-linejoin="round" stroke-linecap="butt"/>
<rect x="103.10" y="818.30" width="64.40" height="34.20" fill="#fff" stroke="#dcdcdc" stroke-width="0.70" rx="1.5"/>
<line x1="105.90" y1="824.80" x2="121.80" y2="824.80" stroke="#1f77b4" stroke-width="2.60"/>
<text x="126.30" y="827.61" font-size="7.85" text-anchor="start" fill="#1a1a1a" textLength="10.35" lengthAdjust="spacingAndGlyphs">OL</text>
<line x1="105.90" y1="835.30" x2="121.80" y2="835.30" stroke="#ff7f0e" stroke-width="2.60"/>
<text x="126.30" y="838.11" font-size="7.85" text-anchor="start" fill="#1a1a1a" textLength="19.96" lengthAdjust="spacingAndGlyphs">VLNP</text>
<line x1="105.90" y1="845.80" x2="121.80" y2="845.80" stroke="#2ca02c" stroke-width="2.60"/>
<text x="126.30" y="848.61" font-size="7.85" text-anchor="start" fill="#1a1a1a" textLength="39.96" lengthAdjust="spacingAndGlyphs">Hemibrain</text>
<rect x="244.50" y="210.30" width="142.00" height="121.40" fill="#fff" stroke="#bdbdbd" stroke-width="0.90"/>
<line x1="251.20" y1="331.70" x2="251.20" y2="333.30" stroke="#bdbdbd" stroke-width="0.80"/>
<text x="251.20" y="339.82" font-size="7.45" text-anchor="middle" fill="#1a1a1a" textLength="15.41" lengthAdjust="spacingAndGlyphs">−20</text>
<line x1="283.40" y1="331.70" x2="283.40" y2="333.30" stroke="#bdbdbd" stroke-width="0.80"/>
<text x="283.40" y="339.82" font-size="7.45" text-anchor="middle" fill="#1a1a1a" textLength="15.41" lengthAdjust="spacingAndGlyphs">−10</text>
<line x1="315.60" y1="331.70" x2="315.60" y2="333.30" stroke="#bdbdbd" stroke-width="0.80"/>
<text x="315.60" y="339.82" font-size="7.45" text-anchor="middle" fill="#1a1a1a" textLength="4.64" lengthAdjust="spacingAndGlyphs">0</text>
<line x1="347.80" y1="331.70" x2="347.80" y2="333.30" stroke="#bdbdbd" stroke-width="0.80"/>
<text x="347.80" y="339.82" font-size="7.45" text-anchor="middle" fill="#1a1a1a" textLength="9.29" lengthAdjust="spacingAndGlyphs">10</text>
<line x1="380.00" y1="331.70" x2="380.00" y2="333.30" stroke="#bdbdbd" stroke-width="0.80"/>
<text x="380.00" y="339.82" font-size="7.45" text-anchor="middle" fill="#1a1a1a" textLength="9.29" lengthAdjust="spacingAndGlyphs">20</text>
<line x1="242.90" y1="314.20" x2="244.50" y2="314.20" stroke="#bdbdbd" stroke-width="0.80"/>
<text x="241.40" y="317.26" font-size="7.45" text-anchor="end" fill="#1a1a1a" textLength="4.64" lengthAdjust="spacingAndGlyphs">1</text>
<line x1="242.90" y1="287.20" x2="244.50" y2="287.20" stroke="#bdbdbd" stroke-width="0.80"/>
<text x="241.40" y="290.26" font-size="7.45" text-anchor="end" fill="#1a1a1a" textLength="4.64" lengthAdjust="spacingAndGlyphs">2</text>
<line x1="242.90" y1="260.20" x2="244.50" y2="260.20" stroke="#bdbdbd" stroke-width="0.80"/>
<text x="241.40" y="263.26" font-size="7.45" text-anchor="end" fill="#1a1a1a" textLength="4.64" lengthAdjust="spacingAndGlyphs">3</text>
<line x1="242.90" y1="233.20" x2="244.50" y2="233.20" stroke="#bdbdbd" stroke-width="0.80"/>
<text x="241.40" y="236.26" font-size="7.45" text-anchor="end" fill="#1a1a1a" textLength="4.64" lengthAdjust="spacingAndGlyphs">4</text>
<text x="315.35" y="348.40" font-size="7.45" text-anchor="middle" fill="#1a1a1a" textLength="83.10" lengthAdjust="spacingAndGlyphs">Distortion exponent, <tspan font-style="italic">q</tspan></text>
<text x="235.30" y="271.80" font-size="7.45" text-anchor="middle" fill="#1a1a1a" textLength="130.10" lengthAdjust="spacingAndGlyphs" transform="rotate(-90 235.30 271.80)">Generalized fractal dimension, <tspan font-style="italic">D</tspan>(<tspan font-style="italic">q</tspan>)</text>
<path d="M251.2 289.9 251.8 289.9 252.5 289.9 253.1 289.9 253.8 289.9 254.4 289.9 255.1 289.9 255.7 289.9 256.4 289.9 257.0 289.9 257.7 289.9 258.3 289.9 259.0 290.0 259.6 290.0 260.3 290.0 260.9 290.0 261.6 290.0 262.2 290.0 262.9 290.0 263.5 290.0 264.1 290.0 264.8 290.1 265.4 290.1 266.1 290.1 266.7 290.1 267.4 290.1 268.0 290.1 268.7 290.2 269.3 290.2 270.0 290.2 270.6 290.2 271.3 290.2 271.9 290.2 272.6 290.3 273.2 290.3 273.9 290.3 274.5 290.3 275.1 290.4 275.8 290.4 276.4 290.4 277.1 290.4 277.7 290.4 278.4 290.5 279.0 290.5 279.7 290.5 280.3 290.5 281.0 290.6 281.6 290.6 282.3 290.6 282.9 290.7 283.6 290.7 284.2 290.7 284.9 290.8 285.5 290.8 286.2 290.9 286.8 290.9 287.4 291.0 288.1 291.0 288.7 291.1 289.4 291.1 290.0 291.2 290.7 291.3 291.3 291.4 292.0 291.4 292.6 291.5 293.3 291.6 293.9 291.7 294.6 291.8 295.2 291.9 295.9 292.0 296.5 292.1 297.2 292.3 297.8 292.4 298.4 292.5 299.1 292.6 299.7 292.8 300.4 292.9 301.0 293.1 301.7 293.2 302.3 293.4 303.0 293.6 303.6 293.8 304.3 294.0 304.9 294.3 305.6 294.5 306.2 294.8 306.9 295.2 307.5 295.5 308.2 295.9 308.8 296.3 309.5 296.8 310.1 297.3 310.7 297.9 311.4 298.6 312.0 299.3 312.7 300.0 313.3 300.8 314.0 301.7 314.6 302.5 315.3 303.4 315.9 304.4 316.6 305.3 317.2 306.2 317.9 307.2 318.5 308.1 319.2 309.0 319.8 309.9 320.5 310.8 321.1 311.6 321.7 312.4 322.4 313.2 323.0 313.9 323.7 314.6 324.3 315.3 325.0 315.9 325.6 316.4 326.3 316.9 326.9 317.4 327.6 317.8 328.2 318.2 328.9 318.6 329.5 318.9 330.2 319.3 330.8 319.6 331.5 319.9 332.1 320.1 332.8 320.4 333.4 320.6 334.0 320.9 334.7 321.1 335.3 321.3 336.0 321.5 336.6 321.7 337.3 321.9 337.9 322.0 338.6 322.2 339.2 322.3 339.9 322.5 340.5 322.6 341.2 322.7 341.8 322.9 342.5 323.0 343.1 323.1 343.8 323.2 344.4 323.3 345.0 323.4 345.7 323.5 346.3 323.6 347.0 323.7 347.6 323.8 348.3 323.9 348.9 324.0 349.6 324.1 350.2 324.2 350.9 324.3 351.5 324.3 352.2 324.4 352.8 324.5 353.5 324.6 354.1 324.6 354.8 324.7 355.4 324.8 356.1 324.8 356.7 324.9 357.3 325.0 358.0 325.0 358.6 325.1 359.3 325.2 359.9 325.2 360.6 325.3 361.2 325.4 361.9 325.4 362.5 325.5 363.2 325.5 363.8 325.6 364.5 325.6 365.1 325.7 365.8 325.7 366.4 325.8 367.1 325.9 367.7 325.9 368.3 326.0 369.0 326.0 369.6 326.0 370.3 326.1 370.9 326.1 371.6 326.2 372.2 326.2 372.9 326.3 373.5 326.3 374.2 326.3 374.8 326.4 375.5 326.4 376.1 326.4 376.8 326.5 377.4 326.5 378.1 326.5 378.7 326.6 379.4 326.6 380.0 326.6" fill="none" stroke="#ff7f0e" stroke-width="1.25" stroke-linejoin="round" stroke-linecap="butt"/>
<path d="M251.2 257.5 251.8 257.5 252.5 257.5 253.1 257.5 253.8 257.6 254.4 257.6 255.1 257.6 255.7 257.6 256.4 257.6 257.0 257.7 257.7 257.7 258.3 257.7 259.0 257.7 259.6 257.8 260.3 257.8 260.9 257.9 261.6 257.9 262.2 258.0 262.9 258.0 263.5 258.1 264.1 258.1 264.8 258.2 265.4 258.2 266.1 258.3 266.7 258.4 267.4 258.4 268.0 258.5 268.7 258.6 269.3 258.6 270.0 258.7 270.6 258.8 271.3 258.9 271.9 258.9 272.6 259.0 273.2 259.1 273.9 259.2 274.5 259.3 275.1 259.4 275.8 259.5 276.4 259.5 277.1 259.6 277.7 259.7 278.4 259.8 279.0 259.9 279.7 260.0 280.3 260.1 281.0 260.2 281.6 260.3 282.3 260.4 282.9 260.6 283.6 260.7 284.2 260.8 284.9 260.9 285.5 261.1 286.2 261.2 286.8 261.4 287.4 261.5 288.1 261.7 288.7 261.9 289.4 262.1 290.0 262.3 290.7 262.5 291.3 262.8 292.0 263.0 292.6 263.2 293.3 263.5 293.9 263.8 294.6 264.1 295.2 264.3 295.9 264.6 296.5 265.0 297.2 265.3 297.8 265.6 298.4 266.0 299.1 266.4 299.7 266.7 300.4 267.2 301.0 267.6 301.7 268.0 302.3 268.5 303.0 269.0 303.6 269.6 304.3 270.2 304.9 270.8 305.6 271.5 306.2 272.2 306.9 273.0 307.5 273.8 308.2 274.7 308.8 275.7 309.5 276.7 310.1 277.9 310.7 279.1 311.4 280.4 312.0 281.8 312.7 283.3 313.3 284.7 314.0 286.2 314.6 287.7 315.3 289.2 315.9 290.7 316.6 292.1 317.2 293.5 317.9 294.8 318.5 296.0 319.2 297.2 319.8 298.3 320.5 299.3 321.1 300.3 321.7 301.2 322.4 302.1 323.0 302.9 323.7 303.7 324.3 304.4 325.0 305.1 325.6 305.7 326.3 306.3 326.9 306.9 327.6 307.5 328.2 308.0 328.9 308.5 329.5 309.0 330.2 309.5 330.8 310.0 331.5 310.4 332.1 310.8 332.8 311.2 333.4 311.6 334.0 312.0 334.7 312.3 335.3 312.7 336.0 313.0 336.6 313.3 337.3 313.6 337.9 314.0 338.6 314.3 339.2 314.5 339.9 314.8 340.5 315.1 341.2 315.4 341.8 315.6 342.5 315.8 343.1 316.1 343.8 316.3 344.4 316.5 345.0 316.7 345.7 316.9 346.3 317.1 347.0 317.3 347.6 317.4 348.3 317.6 348.9 317.7 349.6 317.9 350.2 318.0 350.9 318.1 351.5 318.3 352.2 318.4 352.8 318.5 353.5 318.6 354.1 318.7 354.8 318.8 355.4 318.9 356.1 319.0 356.7 319.1 357.3 319.2 358.0 319.3 358.6 319.4 359.3 319.5 359.9 319.6 360.6 319.7 361.2 319.8 361.9 319.9 362.5 320.0 363.2 320.0 363.8 320.1 364.5 320.2 365.1 320.3 365.8 320.3 366.4 320.4 367.1 320.5 367.7 320.5 368.3 320.6 369.0 320.7 369.6 320.7 370.3 320.8 370.9 320.8 371.6 320.9 372.2 320.9 372.9 321.0 373.5 321.0 374.2 321.0 374.8 321.1 375.5 321.1 376.1 321.1 376.8 321.1 377.4 321.2 378.1 321.2 378.7 321.2 379.4 321.2 380.0 321.2" fill="none" stroke="#2ca02c" stroke-width="1.25" stroke-linejoin="round" stroke-linecap="butt"/>
<path d="M251.2 215.9 251.8 215.9 252.5 215.9 253.1 215.9 253.8 216.0 254.4 216.0 255.1 216.0 255.7 216.0 256.4 216.0 257.0 216.0 257.7 216.1 258.3 216.1 259.0 216.1 259.6 216.1 260.3 216.2 260.9 216.2 261.6 216.3 262.2 216.3 262.9 216.3 263.5 216.4 264.1 216.4 264.8 216.5 265.4 216.5 266.1 216.6 266.7 216.6 267.4 216.7 268.0 216.7 268.7 216.8 269.3 216.9 270.0 216.9 270.6 217.0 271.3 217.0 271.9 217.1 272.6 217.2 273.2 217.3 273.9 217.3 274.5 217.4 275.1 217.5 275.8 217.5 276.4 217.6 277.1 217.7 277.7 217.8 278.4 217.9 279.0 217.9 279.7 218.0 280.3 218.1 281.0 218.2 281.6 218.3 282.3 218.4 282.9 218.5 283.6 218.6 284.2 218.7 284.9 218.8 285.5 218.9 286.2 219.0 286.8 219.1 287.4 219.3 288.1 219.4 288.7 219.6 289.4 219.7 290.0 219.9 290.7 220.1 291.3 220.3 292.0 220.5 292.6 220.7 293.3 220.9 293.9 221.1 294.6 221.4 295.2 221.6 295.9 221.9 296.5 222.2 297.2 222.5 297.8 222.8 298.4 223.1 299.1 223.5 299.7 223.9 300.4 224.3 301.0 224.8 301.7 225.3 302.3 225.8 303.0 226.4 303.6 227.0 304.3 227.7 304.9 228.4 305.6 229.2 306.2 230.1 306.9 231.1 307.5 232.2 308.2 233.4 308.8 234.7 309.5 236.1 310.1 237.7 310.7 239.5 311.4 241.3 312.0 243.4 312.7 245.7 313.3 248.1 314.0 250.7 314.6 253.5 315.3 256.4 315.9 259.3 316.6 262.4 317.2 265.5 317.9 268.5 318.5 271.5 319.2 274.5 319.8 277.3 320.5 280.0 321.1 282.6 321.7 284.9 322.4 287.1 323.0 289.2 323.7 291.0 324.3 292.7 325.0 294.3 325.6 295.8 326.3 297.1 326.9 298.4 327.6 299.5 328.2 300.6 328.9 301.6 329.5 302.5 330.2 303.4 330.8 304.2 331.5 304.9 332.1 305.6 332.8 306.3 333.4 306.9 334.0 307.5 334.7 308.0 335.3 308.6 336.0 309.1 336.6 309.5 337.3 310.0 337.9 310.4 338.6 310.8 339.2 311.2 339.9 311.6 340.5 312.0 341.2 312.3 341.8 312.6 342.5 312.9 343.1 313.2 343.8 313.5 344.4 313.8 345.0 314.1 345.7 314.4 346.3 314.7 347.0 314.9 347.6 315.2 348.3 315.4 348.9 315.6 349.6 315.9 350.2 316.1 350.9 316.3 351.5 316.5 352.2 316.7 352.8 317.0 353.5 317.1 354.1 317.3 354.8 317.5 355.4 317.7 356.1 317.9 356.7 318.1 357.3 318.2 358.0 318.4 358.6 318.6 359.3 318.7 359.9 318.9 360.6 319.0 361.2 319.2 361.9 319.3 362.5 319.5 363.2 319.6 363.8 319.7 364.5 319.9 365.1 320.0 365.8 320.1 366.4 320.3 367.1 320.4 367.7 320.5 368.3 320.7 369.0 320.8 369.6 320.9 370.3 321.0 370.9 321.1 371.6 321.2 372.2 321.3 372.9 321.4 373.5 321.5 374.2 321.6 374.8 321.7 375.5 321.8 376.1 321.9 376.8 322.0 377.4 322.0 378.1 322.1 378.7 322.2 379.4 322.2 380.0 322.3" fill="none" stroke="#d62728" stroke-width="1.25" stroke-linejoin="round" stroke-linecap="butt"/>
<path d="M251.2 220.0 251.8 220.0 252.5 220.0 253.1 220.0 253.8 220.0 254.4 220.0 255.1 220.0 255.7 220.0 256.4 220.1 257.0 220.1 257.7 220.1 258.3 220.1 259.0 220.1 259.6 220.2 260.3 220.2 260.9 220.2 261.6 220.3 262.2 220.3 262.9 220.3 263.5 220.4 264.1 220.4 264.8 220.5 265.4 220.5 266.1 220.5 266.7 220.6 267.4 220.6 268.0 220.7 268.7 220.7 269.3 220.8 270.0 220.9 270.6 220.9 271.3 221.0 271.9 221.0 272.6 221.1 273.2 221.2 273.9 221.2 274.5 221.3 275.1 221.3 275.8 221.4 276.4 221.5 277.1 221.6 277.7 221.6 278.4 221.7 279.0 221.8 279.7 221.8 280.3 221.9 281.0 222.0 281.6 222.1 282.3 222.2 282.9 222.2 283.6 222.3 284.2 222.4 284.9 222.5 285.5 222.6 286.2 222.7 286.8 222.8 287.4 222.9 288.1 223.0 288.7 223.2 289.4 223.3 290.0 223.4 290.7 223.6 291.3 223.8 292.0 223.9 292.6 224.1 293.3 224.3 293.9 224.5 294.6 224.7 295.2 224.9 295.9 225.2 296.5 225.4 297.2 225.7 297.8 226.0 298.4 226.2 299.1 226.6 299.7 226.9 300.4 227.2 301.0 227.6 301.7 228.0 302.3 228.5 303.0 229.0 303.6 229.6 304.3 230.2 304.9 231.0 305.6 231.9 306.2 233.0 306.9 234.2 307.5 235.5 308.2 236.9 308.8 238.6 309.5 240.4 310.1 242.3 310.7 244.5 311.4 246.8 312.0 249.3 312.7 252.0 313.3 254.9 314.0 257.8 314.6 260.8 315.3 263.9 315.9 266.9 316.6 270.0 317.2 273.0 317.9 275.9 318.5 278.8 319.2 281.5 319.8 284.0 320.5 286.4 321.1 288.5 321.7 290.5 322.4 292.3 323.0 294.0 323.7 295.5 324.3 296.9 325.0 298.1 325.6 299.3 326.3 300.4 326.9 301.5 327.6 302.4 328.2 303.3 328.9 304.1 329.5 304.9 330.2 305.6 330.8 306.3 331.5 306.9 332.1 307.5 332.8 308.1 333.4 308.6 334.0 309.2 334.7 309.7 335.3 310.1 336.0 310.6 336.6 311.0 337.3 311.4 337.9 311.8 338.6 312.2 339.2 312.6 339.9 312.9 340.5 313.2 341.2 313.6 341.8 313.9 342.5 314.2 343.1 314.5 343.8 314.8 344.4 315.0 345.0 315.3 345.7 315.6 346.3 315.8 347.0 316.1 347.6 316.3 348.3 316.6 348.9 316.8 349.6 317.0 350.2 317.2 350.9 317.5 351.5 317.7 352.2 317.9 352.8 318.1 353.5 318.3 354.1 318.5 354.8 318.6 355.4 318.8 356.1 319.0 356.7 319.2 357.3 319.3 358.0 319.5 358.6 319.6 359.3 319.8 359.9 320.0 360.6 320.1 361.2 320.2 361.9 320.4 362.5 320.5 363.2 320.7 363.8 320.8 364.5 320.9 365.1 321.1 365.8 321.2 366.4 321.3 367.1 321.5 367.7 321.6 368.3 321.7 369.0 321.8 369.6 321.9 370.3 322.1 370.9 322.2 371.6 322.3 372.2 322.4 372.9 322.5 373.5 322.6 374.2 322.7 374.8 322.8 375.5 322.9 376.1 322.9 376.8 323.0 377.4 323.1 378.1 323.2 378.7 323.2 379.4 323.3 380.0 323.4" fill="none" stroke="#1f77b4" stroke-width="2.30" stroke-linejoin="round" stroke-linecap="butt"/>
<rect x="324.10" y="214.90" width="59.20" height="50.20" fill="#fff" stroke="#d0d0d0" stroke-width="0.60"/>
<line x1="323.20" y1="216.72" x2="324.10" y2="216.72" stroke="#bbb" stroke-width="0.40"/>
<text x="322.50" y="217.96" font-size="3.47" text-anchor="end" fill="#444" textLength="4.33" lengthAdjust="spacingAndGlyphs">10</text>
<line x1="323.20" y1="225.00" x2="324.10" y2="225.00" stroke="#bbb" stroke-width="0.40"/>
<text x="322.50" y="226.24" font-size="3.47" text-anchor="end" fill="#444" textLength="2.16" lengthAdjust="spacingAndGlyphs">0</text>
<line x1="323.20" y1="233.28" x2="324.10" y2="233.28" stroke="#bbb" stroke-width="0.40"/>
<text x="322.50" y="234.52" font-size="3.47" text-anchor="end" fill="#444" textLength="7.18" lengthAdjust="spacingAndGlyphs">−10</text>
<line x1="323.20" y1="241.56" x2="324.10" y2="241.56" stroke="#bbb" stroke-width="0.40"/>
<text x="322.50" y="242.80" font-size="3.47" text-anchor="end" fill="#444" textLength="7.18" lengthAdjust="spacingAndGlyphs">−20</text>
<line x1="323.20" y1="249.84" x2="324.10" y2="249.84" stroke="#bbb" stroke-width="0.40"/>
<text x="322.50" y="251.08" font-size="3.47" text-anchor="end" fill="#444" textLength="7.18" lengthAdjust="spacingAndGlyphs">−30</text>
<line x1="323.20" y1="258.12" x2="324.10" y2="258.12" stroke="#bbb" stroke-width="0.40"/>
<text x="322.50" y="259.36" font-size="3.47" text-anchor="end" fill="#444" textLength="7.18" lengthAdjust="spacingAndGlyphs">−40</text>
<line x1="326.30" y1="265.10" x2="326.30" y2="266.00" stroke="#bbb" stroke-width="0.40"/>
<text x="326.30" y="268.60" font-size="3.47" text-anchor="middle" fill="#444" textLength="7.18" lengthAdjust="spacingAndGlyphs">−10</text>
<line x1="339.97" y1="265.10" x2="339.97" y2="266.00" stroke="#bbb" stroke-width="0.40"/>
<text x="339.97" y="268.60" font-size="3.47" text-anchor="middle" fill="#444" textLength="5.01" lengthAdjust="spacingAndGlyphs">−5</text>
<line x1="353.65" y1="265.10" x2="353.65" y2="266.00" stroke="#bbb" stroke-width="0.40"/>
<text x="353.65" y="268.60" font-size="3.47" text-anchor="middle" fill="#444" textLength="2.16" lengthAdjust="spacingAndGlyphs">0</text>
<line x1="367.32" y1="265.10" x2="367.32" y2="266.00" stroke="#bbb" stroke-width="0.40"/>
<text x="367.32" y="268.60" font-size="3.47" text-anchor="middle" fill="#444" textLength="2.16" lengthAdjust="spacingAndGlyphs">5</text>
<line x1="381.00" y1="265.10" x2="381.00" y2="266.00" stroke="#bbb" stroke-width="0.40"/>
<text x="381.00" y="268.60" font-size="3.47" text-anchor="middle" fill="#444" textLength="4.33" lengthAdjust="spacingAndGlyphs">10</text>
<path d="M326.3 240.9 327.0 240.5 327.7 240.1 328.4 239.7 329.0 239.4 329.7 239.0 330.4 238.6 331.1 238.2 331.8 237.8 332.5 237.5 333.1 237.1 333.8 236.7 334.5 236.3 335.2 235.9 335.9 235.6 336.6 235.2 337.2 234.8 337.9 234.4 338.6 234.1 339.3 233.7 340.0 233.3 340.7 232.9 341.3 232.6 342.0 232.2 342.7 231.8 343.4 231.4 344.1 231.1 344.8 230.7 345.4 230.3 346.1 230.0 346.8 229.6 347.5 229.2 348.2 228.9 348.9 228.5 349.5 228.1 350.2 227.8 350.9 227.4 351.6 227.1 352.3 226.7 353.0 226.4 353.6 226.1 354.3 225.8 355.0 225.5 355.7 225.2 356.4 225.0 357.1 224.8 357.8 224.6 358.4 224.4 359.1 224.2 359.8 224.0 360.5 223.9 361.2 223.7 361.9 223.6 362.5 223.5 363.2 223.3 363.9 223.2 364.6 223.1 365.3 222.9 366.0 222.8 366.6 222.7 367.3 222.6 368.0 222.5 368.7 222.4 369.4 222.3 370.1 222.2 370.7 222.1 371.4 221.9 372.1 221.8 372.8 221.7 373.5 221.6 374.2 221.5 374.8 221.4 375.5 221.3 376.2 221.2 376.9 221.1 377.6 221.0 378.3 220.9 378.9 220.8 379.6 220.7 380.3 220.7 381.0 220.6" fill="none" stroke="#ff7f0e" stroke-width="0.60" stroke-linejoin="round" stroke-linecap="butt"/>
<path d="M326.3 250.0 327.0 249.4 327.7 248.8 328.4 248.2 329.0 247.6 329.7 246.9 330.4 246.3 331.1 245.7 331.8 245.1 332.5 244.5 333.1 243.8 333.8 243.2 334.5 242.6 335.2 242.0 335.9 241.3 336.6 240.7 337.2 240.1 337.9 239.5 338.6 238.9 339.3 238.3 340.0 237.7 340.7 237.1 341.3 236.5 342.0 235.9 342.7 235.3 343.4 234.7 344.1 234.1 344.8 233.5 345.4 232.9 346.1 232.3 346.8 231.7 347.5 231.1 348.2 230.6 348.9 230.0 349.5 229.5 350.2 228.9 350.9 228.3 351.6 227.8 352.3 227.3 353.0 226.9 353.6 226.4 354.3 226.0 355.0 225.7 355.7 225.3 356.4 225.0 357.1 224.7 357.8 224.4 358.4 224.2 359.1 223.9 359.8 223.7 360.5 223.4 361.2 223.2 361.9 223.0 362.5 222.8 363.2 222.6 363.9 222.4 364.6 222.2 365.3 222.1 366.0 221.9 366.6 221.7 367.3 221.6 368.0 221.4 368.7 221.3 369.4 221.1 370.1 221.0 370.7 220.8 371.4 220.7 372.1 220.5 372.8 220.4 373.5 220.3 374.2 220.2 374.8 220.0 375.5 219.9 376.2 219.8 376.9 219.7 377.6 219.6 378.3 219.5 378.9 219.4 379.6 219.2 380.3 219.1 381.0 219.0" fill="none" stroke="#2ca02c" stroke-width="0.60" stroke-linejoin="round" stroke-linecap="butt"/>
<path d="M326.3 263.5 327.0 262.6 327.7 261.7 328.4 260.8 329.0 259.8 329.7 258.9 330.4 258.0 331.1 257.1 331.8 256.2 332.5 255.2 333.1 254.3 333.8 253.4 334.5 252.5 335.2 251.6 335.9 250.6 336.6 249.7 337.2 248.8 337.9 247.9 338.6 247.0 339.3 246.1 340.0 245.1 340.7 244.2 341.3 243.3 342.0 242.4 342.7 241.4 343.4 240.5 344.1 239.6 344.8 238.7 345.4 237.8 346.1 236.9 346.8 235.9 347.5 235.0 348.2 234.1 348.9 233.2 349.5 232.3 350.2 231.4 350.9 230.6 351.6 229.8 352.3 228.9 353.0 228.1 353.6 227.4 354.3 226.7 355.0 226.1 355.7 225.5 356.4 225.0 357.1 224.5 357.8 224.1 358.4 223.8 359.1 223.5 359.8 223.2 360.5 222.9 361.2 222.6 361.9 222.4 362.5 222.2 363.2 222.0 363.9 221.8 364.6 221.6 365.3 221.4 366.0 221.3 366.6 221.1 367.3 220.9 368.0 220.8 368.7 220.6 369.4 220.5 370.1 220.3 370.7 220.2 371.4 220.0 372.1 219.9 372.8 219.8 373.5 219.6 374.2 219.5 374.8 219.4 375.5 219.3 376.2 219.1 376.9 219.0 377.6 218.9 378.3 218.8 378.9 218.7 379.6 218.6 380.3 218.4 381.0 218.3" fill="none" stroke="#d62728" stroke-width="0.60" stroke-linejoin="round" stroke-linecap="butt"/>
<path d="M326.3 263.1 327.0 262.2 327.7 261.3 328.4 260.4 329.0 259.5 329.7 258.6 330.4 257.7 331.1 256.8 331.8 255.9 332.5 255.0 333.1 254.1 333.8 253.2 334.5 252.3 335.2 251.4 335.9 250.5 336.6 249.6 337.2 248.6 337.9 247.7 338.6 246.8 339.3 245.9 340.0 245.0 340.7 244.1 341.3 243.2 342.0 242.3 342.7 241.4 343.4 240.5 344.1 239.6 344.8 238.7 345.4 237.8 346.1 236.8 346.8 235.9 347.5 234.9 348.2 234.0 348.9 233.0 349.5 232.1 350.2 231.2 350.9 230.3 351.6 229.5 352.3 228.7 353.0 227.9 353.6 227.2 354.3 226.6 355.0 226.0 355.7 225.5 356.4 225.0 357.1 224.6 357.8 224.2 358.4 223.9 359.1 223.6 359.8 223.3 360.5 223.0 361.2 222.8 361.9 222.5 362.5 222.3 363.2 222.1 363.9 221.9 364.6 221.8 365.3 221.6 366.0 221.4 366.6 221.2 367.3 221.1 368.0 220.9 368.7 220.7 369.4 220.6 370.1 220.4 370.7 220.3 371.4 220.2 372.1 220.0 372.8 219.9 373.5 219.8 374.2 219.6 374.8 219.5 375.5 219.4 376.2 219.3 376.9 219.2 377.6 219.0 378.3 218.9 378.9 218.8 379.6 218.7 380.3 218.6 381.0 218.5" fill="none" stroke="#1f77b4" stroke-width="0.60" stroke-linejoin="round" stroke-linecap="butt"/>
<text x="344.20" y="257.60" font-size="9.18" text-anchor="start" fill="#222" textLength="35.00" lengthAdjust="spacingAndGlyphs">τ(q) vs. q</text>
<rect x="241.50" y="367.10" width="145.00" height="124.10" fill="#fff" stroke="#bdbdbd" stroke-width="0.90"/>
<line x1="247.90" y1="491.20" x2="247.90" y2="492.80" stroke="#bdbdbd" stroke-width="0.80"/>
<text x="247.90" y="499.32" font-size="7.45" text-anchor="middle" fill="#1a1a1a" textLength="15.41" lengthAdjust="spacingAndGlyphs">−20</text>
<line x1="280.90" y1="491.20" x2="280.90" y2="492.80" stroke="#bdbdbd" stroke-width="0.80"/>
<text x="280.90" y="499.32" font-size="7.45" text-anchor="middle" fill="#1a1a1a" textLength="15.41" lengthAdjust="spacingAndGlyphs">−10</text>
<line x1="313.90" y1="491.20" x2="313.90" y2="492.80" stroke="#bdbdbd" stroke-width="0.80"/>
<text x="313.90" y="499.32" font-size="7.45" text-anchor="middle" fill="#1a1a1a" textLength="4.64" lengthAdjust="spacingAndGlyphs">0</text>
<line x1="346.90" y1="491.20" x2="346.90" y2="492.80" stroke="#bdbdbd" stroke-width="0.80"/>
<text x="346.90" y="499.32" font-size="7.45" text-anchor="middle" fill="#1a1a1a" textLength="9.29" lengthAdjust="spacingAndGlyphs">10</text>
<line x1="379.90" y1="491.20" x2="379.90" y2="492.80" stroke="#bdbdbd" stroke-width="0.80"/>
<text x="379.90" y="499.32" font-size="7.45" text-anchor="middle" fill="#1a1a1a" textLength="9.29" lengthAdjust="spacingAndGlyphs">20</text>
<line x1="239.90" y1="475.42" x2="241.50" y2="475.42" stroke="#bdbdbd" stroke-width="0.80"/>
<text x="238.40" y="478.48" font-size="7.45" text-anchor="end" fill="#1a1a1a" textLength="4.64" lengthAdjust="spacingAndGlyphs">1</text>
<line x1="239.90" y1="449.74" x2="241.50" y2="449.74" stroke="#bdbdbd" stroke-width="0.80"/>
<text x="238.40" y="452.80" font-size="7.45" text-anchor="end" fill="#1a1a1a" textLength="4.64" lengthAdjust="spacingAndGlyphs">2</text>
<line x1="239.90" y1="424.06" x2="241.50" y2="424.06" stroke="#bdbdbd" stroke-width="0.80"/>
<text x="238.40" y="427.12" font-size="7.45" text-anchor="end" fill="#1a1a1a" textLength="4.64" lengthAdjust="spacingAndGlyphs">3</text>
<line x1="239.90" y1="398.38" x2="241.50" y2="398.38" stroke="#bdbdbd" stroke-width="0.80"/>
<text x="238.40" y="401.44" font-size="7.45" text-anchor="end" fill="#1a1a1a" textLength="4.64" lengthAdjust="spacingAndGlyphs">4</text>
<line x1="239.90" y1="372.70" x2="241.50" y2="372.70" stroke="#bdbdbd" stroke-width="0.80"/>
<text x="238.40" y="375.76" font-size="7.45" text-anchor="end" fill="#1a1a1a" textLength="4.64" lengthAdjust="spacingAndGlyphs">5</text>
<text x="313.60" y="508.40" font-size="7.45" text-anchor="middle" fill="#1a1a1a" textLength="84.20" lengthAdjust="spacingAndGlyphs">Distortion exponent, <tspan font-style="italic">q</tspan></text>
<text x="231.80" y="430.60" font-size="7.45" text-anchor="middle" fill="#1a1a1a" textLength="132.40" lengthAdjust="spacingAndGlyphs" transform="rotate(-90 231.80 430.60)">Generalized fractal dimension, <tspan font-style="italic">D</tspan>(<tspan font-style="italic">q</tspan>)</text>
<path d="M247.9 392.5 248.6 392.5 249.2 392.5 249.9 392.5 250.6 392.6 251.2 392.6 251.9 392.6 252.5 392.6 253.2 392.6 253.9 392.6 254.5 392.7 255.2 392.7 255.9 392.7 256.5 392.8 257.2 392.8 257.8 392.8 258.5 392.9 259.2 392.9 259.8 393.0 260.5 393.0 261.2 393.1 261.8 393.1 262.5 393.2 263.2 393.2 263.8 393.3 264.5 393.3 265.1 393.4 265.8 393.5 266.5 393.5 267.1 393.6 267.8 393.7 268.5 393.7 269.1 393.8 269.8 393.9 270.5 393.9 271.1 394.0 271.8 394.1 272.4 394.2 273.1 394.2 273.8 394.3 274.4 394.4 275.1 394.5 275.8 394.6 276.4 394.6 277.1 394.7 277.7 394.8 278.4 394.9 279.1 395.0 279.7 395.1 280.4 395.2 281.1 395.2 281.7 395.3 282.4 395.4 283.1 395.6 283.7 395.7 284.4 395.8 285.0 395.9 285.7 396.1 286.4 396.2 287.0 396.4 287.7 396.5 288.4 396.7 289.0 396.9 289.7 397.1 290.4 397.3 291.0 397.5 291.7 397.8 292.3 398.0 293.0 398.3 293.7 398.6 294.3 399.0 295.0 399.4 295.7 399.9 296.3 400.4 297.0 401.0 297.6 401.7 298.3 402.4 299.0 403.2 299.6 404.0 300.3 404.8 301.0 405.7 301.6 406.6 302.3 407.6 303.0 408.6 303.6 409.8 304.3 411.1 304.9 412.5 305.6 414.2 306.3 416.2 306.9 418.6 307.6 421.3 308.3 424.3 308.9 427.6 309.6 431.1 310.3 434.6 310.9 438.1 311.6 441.6 312.2 445.0 312.9 448.3 313.6 451.3 314.2 454.2 314.9 456.7 315.6 458.9 316.2 460.9 316.9 462.7 317.5 464.2 318.2 465.7 318.9 467.0 319.5 468.2 320.2 469.3 320.9 470.3 321.5 471.1 322.2 471.9 322.9 472.6 323.5 473.2 324.2 473.7 324.8 474.3 325.5 474.8 326.2 475.3 326.8 475.7 327.5 476.2 328.2 476.6 328.8 476.9 329.5 477.3 330.2 477.6 330.8 478.0 331.5 478.3 332.1 478.5 332.8 478.8 333.5 479.1 334.1 479.3 334.8 479.5 335.5 479.7 336.1 479.9 336.8 480.1 337.4 480.3 338.1 480.5 338.8 480.6 339.4 480.8 340.1 480.9 340.8 481.1 341.4 481.2 342.1 481.4 342.8 481.5 343.4 481.6 344.1 481.7 344.7 481.9 345.4 482.0 346.1 482.1 346.7 482.2 347.4 482.3 348.1 482.4 348.7 482.6 349.4 482.7 350.1 482.8 350.7 482.9 351.4 483.0 352.0 483.2 352.7 483.3 353.4 483.4 354.0 483.5 354.7 483.6 355.4 483.7 356.0 483.8 356.7 483.9 357.3 484.0 358.0 484.1 358.7 484.2 359.3 484.3 360.0 484.4 360.7 484.5 361.3 484.6 362.0 484.7 362.7 484.8 363.3 484.8 364.0 484.9 364.6 485.0 365.3 485.0 366.0 485.1 366.6 485.2 367.3 485.2 368.0 485.3 368.6 485.4 369.3 485.4 370.0 485.5 370.6 485.5 371.3 485.6 371.9 485.6 372.6 485.7 373.3 485.7 373.9 485.8 374.6 485.8 375.3 485.9 375.9 485.9 376.6 486.0 377.2 486.0 377.9 486.0 378.6 486.1 379.2 486.1 379.9 486.1" fill="none" stroke="#ff7f0e" stroke-width="1.25" stroke-linejoin="round" stroke-linecap="butt"/>
<path d="M247.9 391.2 248.6 391.2 249.2 391.3 249.9 391.3 250.6 391.3 251.2 391.3 251.9 391.3 252.5 391.3 253.2 391.3 253.9 391.4 254.5 391.4 255.2 391.4 255.9 391.4 256.5 391.5 257.2 391.5 257.8 391.6 258.5 391.6 259.2 391.6 259.8 391.7 260.5 391.7 261.2 391.8 261.8 391.8 262.5 391.9 263.2 391.9 263.8 392.0 264.5 392.1 265.1 392.1 265.8 392.2 266.5 392.2 267.1 392.3 267.8 392.4 268.5 392.4 269.1 392.5 269.8 392.6 270.5 392.6 271.1 392.7 271.8 392.8 272.4 392.9 273.1 393.0 273.8 393.0 274.4 393.1 275.1 393.2 275.8 393.3 276.4 393.4 277.1 393.4 277.7 393.5 278.4 393.6 279.1 393.7 279.7 393.8 280.4 393.9 281.1 394.0 281.7 394.1 282.4 394.2 283.1 394.3 283.7 394.4 284.4 394.5 285.0 394.6 285.7 394.8 286.4 394.9 287.0 395.1 287.7 395.3 288.4 395.4 289.0 395.6 289.7 395.8 290.4 396.0 291.0 396.3 291.7 396.5 292.3 396.8 293.0 397.0 293.7 397.3 294.3 397.7 295.0 398.1 295.7 398.6 296.3 399.2 297.0 399.8 297.6 400.4 298.3 401.1 299.0 401.9 299.6 402.7 300.3 403.5 301.0 404.4 301.6 405.3 302.3 406.3 303.0 407.3 303.6 408.5 304.3 409.8 304.9 411.2 305.6 413.0 306.3 415.0 306.9 417.5 307.6 420.4 308.3 423.6 308.9 427.1 309.6 430.7 310.3 434.4 310.9 437.9 311.6 441.4 312.2 444.6 312.9 447.6 313.6 450.3 314.2 452.8 314.9 455.0 315.6 456.9 316.2 458.7 316.9 460.2 317.5 461.7 318.2 463.0 318.9 464.2 319.5 465.3 320.2 466.3 320.9 467.1 321.5 467.9 322.2 468.6 322.9 469.2 323.5 469.8 324.2 470.3 324.8 470.8 325.5 471.2 326.2 471.6 326.8 472.0 327.5 472.4 328.2 472.8 328.8 473.1 329.5 473.4 330.2 473.7 330.8 474.0 331.5 474.3 332.1 474.5 332.8 474.8 333.5 475.0 334.1 475.2 334.8 475.4 335.5 475.6 336.1 475.8 336.8 476.0 337.4 476.2 338.1 476.3 338.8 476.5 339.4 476.7 340.1 476.8 340.8 477.0 341.4 477.1 342.1 477.2 342.8 477.4 343.4 477.5 344.1 477.6 344.7 477.8 345.4 477.9 346.1 478.0 346.7 478.1 347.4 478.2 348.1 478.4 348.7 478.5 349.4 478.6 350.1 478.7 350.7 478.8 351.4 479.0 352.0 479.1 352.7 479.2 353.4 479.3 354.0 479.4 354.7 479.5 355.4 479.6 356.0 479.7 356.7 479.9 357.3 480.0 358.0 480.1 358.7 480.2 359.3 480.3 360.0 480.3 360.7 480.4 361.3 480.5 362.0 480.6 362.7 480.7 363.3 480.7 364.0 480.8 364.6 480.9 365.3 481.0 366.0 481.0 366.6 481.1 367.3 481.2 368.0 481.2 368.6 481.3 369.3 481.3 370.0 481.4 370.6 481.5 371.3 481.5 371.9 481.6 372.6 481.6 373.3 481.7 373.9 481.7 374.6 481.8 375.3 481.8 375.9 481.8 376.6 481.9 377.2 481.9 377.9 482.0 378.6 482.0 379.2 482.0 379.9 482.0" fill="none" stroke="#2ca02c" stroke-width="1.25" stroke-linejoin="round" stroke-linecap="butt"/>
<path d="M247.9 394.0 248.6 394.0 249.2 394.0 249.9 394.0 250.6 394.0 251.2 394.1 251.9 394.1 252.5 394.1 253.2 394.1 253.9 394.1 254.5 394.2 255.2 394.2 255.9 394.2 256.5 394.3 257.2 394.3 257.8 394.3 258.5 394.4 259.2 394.4 259.8 394.5 260.5 394.5 261.2 394.6 261.8 394.6 262.5 394.7 263.2 394.7 263.8 394.8 264.5 394.8 265.1 394.9 265.8 394.9 266.5 395.0 267.1 395.1 267.8 395.1 268.5 395.2 269.1 395.3 269.8 395.4 270.5 395.4 271.1 395.5 271.8 395.6 272.4 395.6 273.1 395.7 273.8 395.8 274.4 395.9 275.1 396.0 275.8 396.0 276.4 396.1 277.1 396.2 277.7 396.3 278.4 396.4 279.1 396.5 279.7 396.6 280.4 396.6 281.1 396.7 281.7 396.8 282.4 396.9 283.1 397.0 283.7 397.2 284.4 397.3 285.0 397.4 285.7 397.6 286.4 397.7 287.0 397.9 287.7 398.0 288.4 398.2 289.0 398.4 289.7 398.6 290.4 398.8 291.0 399.0 291.7 399.3 292.3 399.5 293.0 399.8 293.7 400.1 294.3 400.5 295.0 400.9 295.7 401.4 296.3 401.9 297.0 402.5 297.6 403.2 298.3 403.9 299.0 404.7 299.6 405.5 300.3 406.3 301.0 407.2 301.6 408.1 302.3 409.1 303.0 410.2 303.6 411.3 304.3 412.6 304.9 414.0 305.6 415.7 306.3 417.6 306.9 419.8 307.6 422.4 308.3 425.2 308.9 428.3 309.6 431.5 310.3 434.9 310.9 438.3 311.6 441.6 312.2 444.8 312.9 447.9 313.6 450.8 314.2 453.4 314.9 455.7 315.6 457.8 316.2 459.7 316.9 461.3 317.5 462.8 318.2 464.2 318.9 465.5 319.5 466.6 320.2 467.6 320.9 468.6 321.5 469.4 322.2 470.1 322.9 470.7 323.5 471.3 324.2 471.8 324.8 472.4 325.5 472.8 326.2 473.3 326.8 473.7 327.5 474.1 328.2 474.5 328.8 474.8 329.5 475.2 330.2 475.5 330.8 475.8 331.5 476.1 332.1 476.3 332.8 476.6 333.5 476.8 334.1 477.1 334.8 477.3 335.5 477.5 336.1 477.7 336.8 477.9 337.4 478.0 338.1 478.2 338.8 478.4 339.4 478.5 340.1 478.7 340.8 478.8 341.4 479.0 342.1 479.1 342.8 479.2 343.4 479.4 344.1 479.5 344.7 479.6 345.4 479.7 346.1 479.9 346.7 480.0 347.4 480.1 348.1 480.2 348.7 480.3 349.4 480.4 350.1 480.6 350.7 480.7 351.4 480.8 352.0 480.9 352.7 481.0 353.4 481.1 354.0 481.3 354.7 481.4 355.4 481.5 356.0 481.6 356.7 481.7 357.3 481.8 358.0 481.9 358.7 482.0 359.3 482.1 360.0 482.2 360.7 482.3 361.3 482.4 362.0 482.4 362.7 482.5 363.3 482.6 364.0 482.7 364.6 482.7 365.3 482.8 366.0 482.9 366.6 482.9 367.3 483.0 368.0 483.1 368.6 483.1 369.3 483.2 370.0 483.2 370.6 483.3 371.3 483.4 371.9 483.4 372.6 483.5 373.3 483.5 373.9 483.6 374.6 483.6 375.3 483.7 375.9 483.7 376.6 483.7 377.2 483.8 377.9 483.8 378.6 483.8 379.2 483.9 379.9 483.9" fill="none" stroke="#e377c2" stroke-width="1.25" stroke-linejoin="round" stroke-linecap="butt"/>
<path d="M247.9 395.3 248.6 395.3 249.2 395.3 249.9 395.3 250.6 395.4 251.2 395.4 251.9 395.4 252.5 395.4 253.2 395.4 253.9 395.4 254.5 395.5 255.2 395.5 255.9 395.5 256.5 395.6 257.2 395.6 257.8 395.6 258.5 395.7 259.2 395.7 259.8 395.8 260.5 395.8 261.2 395.9 261.8 395.9 262.5 396.0 263.2 396.0 263.8 396.1 264.5 396.1 265.1 396.2 265.8 396.3 266.5 396.3 267.1 396.4 267.8 396.5 268.5 396.5 269.1 396.6 269.8 396.7 270.5 396.7 271.1 396.8 271.8 396.9 272.4 397.0 273.1 397.0 273.8 397.1 274.4 397.2 275.1 397.3 275.8 397.4 276.4 397.4 277.1 397.5 277.7 397.6 278.4 397.7 279.1 397.8 279.7 397.9 280.4 398.0 281.1 398.0 281.7 398.1 282.4 398.2 283.1 398.4 283.7 398.5 284.4 398.6 285.0 398.7 285.7 398.9 286.4 399.0 287.0 399.2 287.7 399.3 288.4 399.5 289.0 399.7 289.7 399.9 290.4 400.1 291.0 400.3 291.7 400.6 292.3 400.8 293.0 401.1 293.7 401.4 294.3 401.8 295.0 402.2 295.7 402.7 296.3 403.2 297.0 403.8 297.6 404.5 298.3 405.2 299.0 406.0 299.6 406.8 300.3 407.6 301.0 408.5 301.6 409.4 302.3 410.4 303.0 411.5 303.6 412.7 304.3 413.9 304.9 415.4 305.6 417.0 306.3 418.8 306.9 420.9 307.6 423.3 308.3 426.0 308.9 428.9 309.6 431.9 310.3 435.1 310.9 438.4 311.6 441.6 312.2 444.7 312.9 447.7 313.6 450.5 314.2 453.0 314.9 455.2 315.6 457.3 316.2 459.0 316.9 460.6 317.5 462.1 318.2 463.4 318.9 464.7 319.5 465.8 320.2 466.8 320.9 467.7 321.5 468.5 322.2 469.2 322.9 469.8 323.5 470.3 324.2 470.9 324.8 471.4 325.5 471.8 326.2 472.2 326.8 472.7 327.5 473.0 328.2 473.4 328.8 473.8 329.5 474.1 330.2 474.4 330.8 474.7 331.5 474.9 332.1 475.2 332.8 475.5 333.5 475.7 334.1 475.9 334.8 476.1 335.5 476.3 336.1 476.5 336.8 476.7 337.4 476.9 338.1 477.0 338.8 477.2 339.4 477.4 340.1 477.5 340.8 477.7 341.4 477.8 342.1 477.9 342.8 478.1 343.4 478.2 344.1 478.3 344.7 478.5 345.4 478.6 346.1 478.7 346.7 478.8 347.4 478.9 348.1 479.1 348.7 479.2 349.4 479.3 350.1 479.4 350.7 479.5 351.4 479.6 352.0 479.8 352.7 479.9 353.4 480.0 354.0 480.1 354.7 480.2 355.4 480.3 356.0 480.4 356.7 480.5 357.3 480.6 358.0 480.8 358.7 480.8 359.3 480.9 360.0 481.0 360.7 481.1 361.3 481.2 362.0 481.3 362.7 481.4 363.3 481.4 364.0 481.5 364.6 481.6 365.3 481.6 366.0 481.7 366.6 481.8 367.3 481.8 368.0 481.9 368.6 482.0 369.3 482.0 370.0 482.1 370.6 482.1 371.3 482.2 371.9 482.3 372.6 482.3 373.3 482.4 373.9 482.4 374.6 482.5 375.3 482.5 375.9 482.5 376.6 482.6 377.2 482.6 377.9 482.6 378.6 482.7 379.2 482.7 379.9 482.7" fill="none" stroke="#d62728" stroke-width="1.25" stroke-linejoin="round" stroke-linecap="butt"/>
<path d="M247.9 389.9 248.6 389.9 249.2 389.9 249.9 389.9 250.6 389.9 251.2 389.9 251.9 389.9 252.5 389.9 253.2 390.0 253.9 390.0 254.5 390.0 255.2 390.0 255.9 390.0 256.5 390.0 257.2 390.1 257.8 390.1 258.5 390.1 259.2 390.1 259.8 390.1 260.5 390.2 261.2 390.2 261.8 390.2 262.5 390.3 263.2 390.3 263.8 390.3 264.5 390.4 265.1 390.4 265.8 390.4 266.5 390.5 267.1 390.5 267.8 390.6 268.5 390.6 269.1 390.6 269.8 390.7 270.5 390.7 271.1 390.8 271.8 390.8 272.4 390.9 273.1 390.9 273.8 391.0 274.4 391.0 275.1 391.1 275.8 391.1 276.4 391.2 277.1 391.2 277.7 391.3 278.4 391.4 279.1 391.4 279.7 391.5 280.4 391.6 281.1 391.6 281.7 391.7 282.4 391.8 283.1 391.9 283.7 392.0 284.4 392.2 285.0 392.3 285.7 392.5 286.4 392.6 287.0 392.8 287.7 393.0 288.4 393.2 289.0 393.4 289.7 393.6 290.4 393.8 291.0 394.1 291.7 394.3 292.3 394.6 293.0 394.9 293.7 395.2 294.3 395.6 295.0 396.0 295.7 396.4 296.3 397.0 297.0 397.5 297.6 398.2 298.3 398.9 299.0 399.6 299.6 400.4 300.3 401.3 301.0 402.2 301.6 403.1 302.3 404.1 303.0 405.2 303.6 406.4 304.3 407.8 304.9 409.3 305.6 410.9 306.3 412.8 306.9 414.9 307.6 417.3 308.3 419.9 308.9 422.9 309.6 426.0 310.3 429.1 310.9 432.1 311.6 435.0 312.2 437.7 312.9 440.1 313.6 442.4 314.2 444.4 314.9 446.2 315.6 447.9 316.2 449.4 316.9 450.8 317.5 452.1 318.2 453.2 318.9 454.3 319.5 455.3 320.2 456.1 320.9 456.9 321.5 457.7 322.2 458.4 322.9 459.0 323.5 459.6 324.2 460.2 324.8 460.7 325.5 461.2 326.2 461.8 326.8 462.2 327.5 462.7 328.2 463.1 328.8 463.5 329.5 464.0 330.2 464.3 330.8 464.7 331.5 465.1 332.1 465.4 332.8 465.7 333.5 466.1 334.1 466.4 334.8 466.7 335.5 467.0 336.1 467.3 336.8 467.5 337.4 467.8 338.1 468.1 338.8 468.3 339.4 468.6 340.1 468.8 340.8 469.0 341.4 469.3 342.1 469.5 342.8 469.7 343.4 469.9 344.1 470.1 344.7 470.3 345.4 470.5 346.1 470.7 346.7 470.9 347.4 471.0 348.1 471.2 348.7 471.4 349.4 471.5 350.1 471.7 350.7 471.9 351.4 472.0 352.0 472.1 352.7 472.3 353.4 472.4 354.0 472.6 354.7 472.7 355.4 472.8 356.0 472.9 356.7 473.1 357.3 473.2 358.0 473.3 358.7 473.4 359.3 473.5 360.0 473.6 360.7 473.7 361.3 473.8 362.0 473.9 362.7 474.0 363.3 474.1 364.0 474.2 364.6 474.3 365.3 474.4 366.0 474.5 366.6 474.6 367.3 474.7 368.0 474.7 368.6 474.8 369.3 474.9 370.0 475.0 370.6 475.1 371.3 475.1 371.9 475.2 372.6 475.3 373.3 475.3 373.9 475.4 374.6 475.5 375.3 475.5 375.9 475.6 376.6 475.7 377.2 475.7 377.9 475.8 378.6 475.8 379.2 475.9 379.9 475.9" fill="none" stroke="#9467bd" stroke-width="1.25" stroke-linejoin="round" stroke-linecap="butt"/>
<path d="M247.9 373.2 248.6 373.2 249.2 373.2 249.9 373.2 250.6 373.2 251.2 373.3 251.9 373.3 252.5 373.3 253.2 373.3 253.9 373.3 254.5 373.4 255.2 373.4 255.9 373.4 256.5 373.4 257.2 373.5 257.8 373.5 258.5 373.5 259.2 373.6 259.8 373.6 260.5 373.7 261.2 373.7 261.8 373.8 262.5 373.8 263.2 373.9 263.8 373.9 264.5 374.0 265.1 374.0 265.8 374.1 266.5 374.2 267.1 374.2 267.8 374.3 268.5 374.4 269.1 374.4 269.8 374.5 270.5 374.6 271.1 374.6 271.8 374.7 272.4 374.8 273.1 374.9 273.8 374.9 274.4 375.0 275.1 375.1 275.8 375.2 276.4 375.2 277.1 375.3 277.7 375.4 278.4 375.5 279.1 375.6 279.7 375.7 280.4 375.8 281.1 375.9 281.7 376.0 282.4 376.1 283.1 376.2 283.7 376.4 284.4 376.5 285.0 376.6 285.7 376.8 286.4 377.0 287.0 377.2 287.7 377.4 288.4 377.6 289.0 377.8 289.7 378.0 290.4 378.2 291.0 378.5 291.7 378.7 292.3 379.0 293.0 379.3 293.7 379.6 294.3 379.9 295.0 380.3 295.7 380.7 296.3 381.1 297.0 381.6 297.6 382.2 298.3 382.7 299.0 383.4 299.6 384.0 300.3 384.8 301.0 385.6 301.6 386.5 302.3 387.5 303.0 388.6 303.6 389.9 304.3 391.4 304.9 393.0 305.6 394.9 306.3 397.1 306.9 399.7 307.6 402.7 308.3 406.2 308.9 410.3 309.6 414.9 310.3 419.6 310.9 424.3 311.6 428.6 312.2 432.4 312.9 435.7 313.6 438.5 314.2 440.8 314.9 442.8 315.6 444.6 316.2 446.2 316.9 447.7 317.5 449.1 318.2 450.3 318.9 451.4 319.5 452.5 320.2 453.4 320.9 454.3 321.5 455.1 322.2 455.9 322.9 456.6 323.5 457.3 324.2 457.9 324.8 458.5 325.5 459.1 326.2 459.6 326.8 460.1 327.5 460.6 328.2 461.1 328.8 461.5 329.5 461.9 330.2 462.3 330.8 462.6 331.5 463.0 332.1 463.3 332.8 463.6 333.5 463.9 334.1 464.2 334.8 464.5 335.5 464.7 336.1 465.0 336.8 465.2 337.4 465.4 338.1 465.6 338.8 465.8 339.4 466.0 340.1 466.2 340.8 466.4 341.4 466.5 342.1 466.7 342.8 466.8 343.4 467.0 344.1 467.1 344.7 467.2 345.4 467.3 346.1 467.5 346.7 467.6 347.4 467.7 348.1 467.8 348.7 467.9 349.4 468.0 350.1 468.1 350.7 468.2 351.4 468.3 352.0 468.5 352.7 468.6 353.4 468.7 354.0 468.8 354.7 468.9 355.4 469.0 356.0 469.1 356.7 469.3 357.3 469.4 358.0 469.5 358.7 469.6 359.3 469.7 360.0 469.8 360.7 469.9 361.3 470.0 362.0 470.1 362.7 470.2 363.3 470.3 364.0 470.4 364.6 470.4 365.3 470.5 366.0 470.6 366.6 470.7 367.3 470.8 368.0 470.9 368.6 470.9 369.3 471.0 370.0 471.1 370.6 471.2 371.3 471.2 371.9 471.3 372.6 471.4 373.3 471.5 373.9 471.5 374.6 471.6 375.3 471.7 375.9 471.7 376.6 471.8 377.2 471.9 377.9 471.9 378.6 472.0 379.2 472.0 379.9 472.1" fill="none" stroke="#1f77b4" stroke-width="2.30" stroke-linejoin="round" stroke-linecap="butt"/>
<rect x="325.40" y="372.10" width="59.40" height="49.70" fill="#fff" stroke="#d0d0d0" stroke-width="0.60"/>
<line x1="324.50" y1="376.62" x2="325.40" y2="376.62" stroke="#bbb" stroke-width="0.40"/>
<text x="323.80" y="377.86" font-size="3.47" text-anchor="end" fill="#444" textLength="4.33" lengthAdjust="spacingAndGlyphs">10</text>
<line x1="324.50" y1="383.90" x2="325.40" y2="383.90" stroke="#bbb" stroke-width="0.40"/>
<text x="323.80" y="385.14" font-size="3.47" text-anchor="end" fill="#444" textLength="2.16" lengthAdjust="spacingAndGlyphs">0</text>
<line x1="324.50" y1="391.18" x2="325.40" y2="391.18" stroke="#bbb" stroke-width="0.40"/>
<text x="323.80" y="392.42" font-size="3.47" text-anchor="end" fill="#444" textLength="7.18" lengthAdjust="spacingAndGlyphs">−10</text>
<line x1="324.50" y1="398.46" x2="325.40" y2="398.46" stroke="#bbb" stroke-width="0.40"/>
<text x="323.80" y="399.70" font-size="3.47" text-anchor="end" fill="#444" textLength="7.18" lengthAdjust="spacingAndGlyphs">−20</text>
<line x1="324.50" y1="405.74" x2="325.40" y2="405.74" stroke="#bbb" stroke-width="0.40"/>
<text x="323.80" y="406.98" font-size="3.47" text-anchor="end" fill="#444" textLength="7.18" lengthAdjust="spacingAndGlyphs">−30</text>
<line x1="324.50" y1="413.02" x2="325.40" y2="413.02" stroke="#bbb" stroke-width="0.40"/>
<text x="323.80" y="414.26" font-size="3.47" text-anchor="end" fill="#444" textLength="7.18" lengthAdjust="spacingAndGlyphs">−40</text>
<line x1="324.50" y1="420.30" x2="325.40" y2="420.30" stroke="#bbb" stroke-width="0.40"/>
<text x="323.80" y="421.54" font-size="3.47" text-anchor="end" fill="#444" textLength="7.18" lengthAdjust="spacingAndGlyphs">−50</text>
<line x1="328.00" y1="421.80" x2="328.00" y2="422.70" stroke="#bbb" stroke-width="0.40"/>
<text x="328.00" y="426.00" font-size="3.47" text-anchor="middle" fill="#444" textLength="7.18" lengthAdjust="spacingAndGlyphs">−10</text>
<line x1="341.53" y1="421.80" x2="341.53" y2="422.70" stroke="#bbb" stroke-width="0.40"/>
<text x="341.53" y="426.00" font-size="3.47" text-anchor="middle" fill="#444" textLength="5.01" lengthAdjust="spacingAndGlyphs">−5</text>
<line x1="355.05" y1="421.80" x2="355.05" y2="422.70" stroke="#bbb" stroke-width="0.40"/>
<text x="355.05" y="426.00" font-size="3.47" text-anchor="middle" fill="#444" textLength="2.16" lengthAdjust="spacingAndGlyphs">0</text>
<line x1="368.57" y1="421.80" x2="368.57" y2="422.70" stroke="#bbb" stroke-width="0.40"/>
<text x="368.57" y="426.00" font-size="3.47" text-anchor="middle" fill="#444" textLength="2.16" lengthAdjust="spacingAndGlyphs">5</text>
<line x1="382.10" y1="421.80" x2="382.10" y2="422.70" stroke="#bbb" stroke-width="0.40"/>
<text x="382.10" y="426.00" font-size="3.47" text-anchor="middle" fill="#444" textLength="4.33" lengthAdjust="spacingAndGlyphs">10</text>
<path d="M328.0 415.3 328.7 414.5 329.4 413.8 330.0 413.0 330.7 412.3 331.4 411.5 332.1 410.8 332.7 410.0 333.4 409.3 334.1 408.5 334.8 407.7 335.4 407.0 336.1 406.2 336.8 405.5 337.5 404.7 338.1 404.0 338.8 403.2 339.5 402.4 340.2 401.6 340.8 400.8 341.5 400.0 342.2 399.2 342.9 398.4 343.6 397.6 344.2 396.8 344.9 396.0 345.6 395.2 346.3 394.5 346.9 393.7 347.6 392.9 348.3 392.1 349.0 391.3 349.6 390.5 350.3 389.7 351.0 388.8 351.7 388.1 352.3 387.4 353.0 386.7 353.7 386.2 354.4 385.6 355.1 385.2 355.7 384.8 356.4 384.5 357.1 384.2 357.8 383.9 358.4 383.7 359.1 383.4 359.8 383.2 360.5 383.1 361.1 382.9 361.8 382.7 362.5 382.6 363.2 382.4 363.8 382.3 364.5 382.1 365.2 382.0 365.9 381.9 366.5 381.7 367.2 381.6 367.9 381.5 368.6 381.4 369.3 381.3 369.9 381.2 370.6 381.1 371.3 380.9 372.0 380.8 372.6 380.7 373.3 380.6 374.0 380.5 374.7 380.4 375.3 380.3 376.0 380.2 376.7 380.1 377.4 380.0 378.0 379.9 378.7 379.8 379.4 379.7 380.1 379.6 380.7 379.5 381.4 379.4 382.1 379.3" fill="none" stroke="#ff7f0e" stroke-width="0.60" stroke-linejoin="round" stroke-linecap="butt"/>
<path d="M328.0 416.3 328.7 415.6 329.4 414.8 330.0 414.0 330.7 413.3 331.4 412.5 332.1 411.7 332.7 410.9 333.4 410.1 334.1 409.3 334.8 408.6 335.4 407.8 336.1 407.0 336.8 406.2 337.5 405.4 338.1 404.6 338.8 403.8 339.5 403.0 340.2 402.2 340.8 401.4 341.5 400.6 342.2 399.8 342.9 398.9 343.6 398.1 344.2 397.3 344.9 396.5 345.6 395.7 346.3 394.9 346.9 394.1 347.6 393.2 348.3 392.4 349.0 391.6 349.6 390.8 350.3 390.0 351.0 389.2 351.7 388.4 352.3 387.7 353.0 387.0 353.7 386.4 354.4 385.9 355.1 385.4 355.7 385.0 356.4 384.6 357.1 384.2 357.8 383.9 358.4 383.6 359.1 383.3 359.8 383.0 360.5 382.7 361.1 382.4 361.8 382.2 362.5 381.9 363.2 381.7 363.8 381.4 364.5 381.2 365.2 381.0 365.9 380.8 366.5 380.6 367.2 380.4 367.9 380.2 368.6 380.0 369.3 379.8 369.9 379.6 370.6 379.4 371.3 379.2 372.0 379.0 372.6 378.8 373.3 378.7 374.0 378.5 374.7 378.3 375.3 378.2 376.0 378.0 376.7 377.8 377.4 377.7 378.0 377.5 378.7 377.4 379.4 377.2 380.1 377.0 380.7 376.9 381.4 376.7 382.1 376.6" fill="none" stroke="#9467bd" stroke-width="0.60" stroke-linejoin="round" stroke-linecap="butt"/>
<path d="M328.0 414.4 328.7 413.7 329.4 413.0 330.0 412.3 330.7 411.5 331.4 410.8 332.1 410.1 332.7 409.3 333.4 408.6 334.1 407.8 334.8 407.1 335.4 406.4 336.1 405.6 336.8 404.9 337.5 404.2 338.1 403.4 338.8 402.7 339.5 401.9 340.2 401.1 340.8 400.4 341.5 399.6 342.2 398.8 342.9 398.0 343.6 397.2 344.2 396.4 344.9 395.7 345.6 394.9 346.3 394.1 346.9 393.4 347.6 392.6 348.3 391.9 349.0 391.1 349.6 390.3 350.3 389.5 351.0 388.8 351.7 388.1 352.3 387.4 353.0 386.7 353.7 386.2 354.4 385.7 355.1 385.2 355.7 384.8 356.4 384.5 357.1 384.2 357.8 383.9 358.4 383.6 359.1 383.4 359.8 383.2 360.5 383.0 361.1 382.8 361.8 382.6 362.5 382.4 363.2 382.3 363.8 382.1 364.5 381.9 365.2 381.8 365.9 381.6 366.5 381.5 367.2 381.3 367.9 381.2 368.6 381.0 369.3 380.9 369.9 380.8 370.6 380.6 371.3 380.5 372.0 380.4 372.6 380.2 373.3 380.1 374.0 380.0 374.7 379.8 375.3 379.7 376.0 379.6 376.7 379.5 377.4 379.3 378.0 379.2 378.7 379.1 379.4 379.0 380.1 378.9 380.7 378.7 381.4 378.6 382.1 378.5" fill="none" stroke="#d62728" stroke-width="0.60" stroke-linejoin="round" stroke-linecap="butt"/>
<path d="M328.0 420.0 328.7 419.2 329.4 418.3 330.0 417.5 330.7 416.6 331.4 415.7 332.1 414.9 332.7 414.0 333.4 413.1 334.1 412.3 334.8 411.4 335.4 410.5 336.1 409.6 336.8 408.8 337.5 407.9 338.1 407.0 338.8 406.2 339.5 405.3 340.2 404.4 340.8 403.5 341.5 402.7 342.2 401.8 342.9 400.9 343.6 400.0 344.2 399.1 344.9 398.2 345.6 397.3 346.3 396.4 346.9 395.5 347.6 394.6 348.3 393.7 349.0 392.8 349.6 391.8 350.3 390.9 351.0 389.9 351.7 389.0 352.3 388.0 353.0 387.2 353.7 386.6 354.4 386.0 355.1 385.5 355.7 385.0 356.4 384.6 357.1 384.3 357.8 383.9 358.4 383.6 359.1 383.3 359.8 383.0 360.5 382.7 361.1 382.4 361.8 382.1 362.5 381.9 363.2 381.6 363.8 381.4 364.5 381.1 365.2 380.9 365.9 380.7 366.5 380.5 367.2 380.3 367.9 380.1 368.6 379.8 369.3 379.6 369.9 379.4 370.6 379.2 371.3 379.0 372.0 378.8 372.6 378.6 373.3 378.5 374.0 378.3 374.7 378.1 375.3 377.9 376.0 377.7 376.7 377.5 377.4 377.3 378.0 377.1 378.7 376.9 379.4 376.8 380.1 376.6 380.7 376.4 381.4 376.2 382.1 376.0" fill="none" stroke="#1f77b4" stroke-width="0.60" stroke-linejoin="round" stroke-linecap="butt"/>
<text x="344.10" y="415.60" font-size="9.18" text-anchor="start" fill="#222" textLength="34.80" lengthAdjust="spacingAndGlyphs">τ(q) vs. q</text>
<rect x="266.20" y="701.60" width="181.20" height="153.90" fill="#fff" stroke="#555" stroke-width="0.90"/>
<line x1="274.40" y1="855.50" x2="274.40" y2="857.30" stroke="#555" stroke-width="0.80"/>
<text x="274.40" y="866.88" font-size="9.49" text-anchor="middle" fill="#1a1a1a" textLength="19.63" lengthAdjust="spacingAndGlyphs">−20</text>
<line x1="315.65" y1="855.50" x2="315.65" y2="857.30" stroke="#555" stroke-width="0.80"/>
<text x="315.65" y="866.88" font-size="9.49" text-anchor="middle" fill="#1a1a1a" textLength="19.63" lengthAdjust="spacingAndGlyphs">−10</text>
<line x1="356.90" y1="855.50" x2="356.90" y2="857.30" stroke="#555" stroke-width="0.80"/>
<text x="356.90" y="866.88" font-size="9.49" text-anchor="middle" fill="#1a1a1a" textLength="5.92" lengthAdjust="spacingAndGlyphs">0</text>
<line x1="398.15" y1="855.50" x2="398.15" y2="857.30" stroke="#555" stroke-width="0.80"/>
<text x="398.15" y="866.88" font-size="9.49" text-anchor="middle" fill="#1a1a1a" textLength="11.83" lengthAdjust="spacingAndGlyphs">10</text>
<line x1="439.40" y1="855.50" x2="439.40" y2="857.30" stroke="#555" stroke-width="0.80"/>
<text x="439.40" y="866.88" font-size="9.49" text-anchor="middle" fill="#1a1a1a" textLength="11.83" lengthAdjust="spacingAndGlyphs">20</text>
<line x1="264.40" y1="839.17" x2="266.20" y2="839.17" stroke="#555" stroke-width="0.80"/>
<text x="262.80" y="843.56" font-size="9.49" text-anchor="end" fill="#1a1a1a" textLength="5.92" lengthAdjust="spacingAndGlyphs">1</text>
<line x1="264.40" y1="810.14" x2="266.20" y2="810.14" stroke="#555" stroke-width="0.80"/>
<text x="262.80" y="814.53" font-size="9.49" text-anchor="end" fill="#1a1a1a" textLength="5.92" lengthAdjust="spacingAndGlyphs">2</text>
<line x1="264.40" y1="781.11" x2="266.20" y2="781.11" stroke="#555" stroke-width="0.80"/>
<text x="262.80" y="785.50" font-size="9.49" text-anchor="end" fill="#1a1a1a" textLength="5.92" lengthAdjust="spacingAndGlyphs">3</text>
<line x1="264.40" y1="752.08" x2="266.20" y2="752.08" stroke="#555" stroke-width="0.80"/>
<text x="262.80" y="756.47" font-size="9.49" text-anchor="end" fill="#1a1a1a" textLength="5.92" lengthAdjust="spacingAndGlyphs">4</text>
<line x1="264.40" y1="723.05" x2="266.20" y2="723.05" stroke="#555" stroke-width="0.80"/>
<text x="262.80" y="727.44" font-size="9.49" text-anchor="end" fill="#1a1a1a" textLength="5.92" lengthAdjust="spacingAndGlyphs">5</text>
<text x="356.80" y="876.20" font-size="9.49" text-anchor="middle" fill="#1a1a1a" textLength="105.00" lengthAdjust="spacingAndGlyphs">Distortion exponent, <tspan font-style="italic">q</tspan></text>
<text x="254.50" y="778.70" font-size="9.38" text-anchor="middle" fill="#1a1a1a" textLength="163.90" lengthAdjust="spacingAndGlyphs" transform="rotate(-90 254.50 778.70)">Generalized fractal dimension, <tspan font-style="italic">D</tspan>(<tspan font-style="italic">q</tspan>)</text>
<path d="M274.4 738.4 275.2 738.5 276.1 738.5 276.9 738.5 277.7 738.5 278.5 738.5 279.4 738.5 280.2 738.6 281.0 738.6 281.9 738.6 282.7 738.6 283.5 738.7 284.3 738.7 285.2 738.7 286.0 738.7 286.8 738.8 287.7 738.8 288.5 738.8 289.3 738.9 290.2 738.9 291.0 738.9 291.8 739.0 292.6 739.0 293.5 739.0 294.3 739.1 295.1 739.1 296.0 739.2 296.8 739.2 297.6 739.2 298.4 739.3 299.3 739.3 300.1 739.4 300.9 739.4 301.8 739.4 302.6 739.5 303.4 739.5 304.2 739.6 305.1 739.6 305.9 739.6 306.7 739.7 307.6 739.7 308.4 739.8 309.2 739.8 310.1 739.9 310.9 739.9 311.7 740.0 312.5 740.1 313.4 740.1 314.2 740.2 315.0 740.3 315.9 740.3 316.7 740.4 317.5 740.5 318.3 740.6 319.2 740.7 320.0 740.8 320.8 741.0 321.7 741.1 322.5 741.3 323.3 741.6 324.1 741.8 325.0 742.1 325.8 742.4 326.6 742.7 327.5 743.0 328.3 743.4 329.1 743.7 330.0 744.1 330.8 744.5 331.6 744.9 332.4 745.3 333.3 745.7 334.1 746.2 334.9 746.7 335.8 747.2 336.6 747.8 337.4 748.4 338.2 749.0 339.1 749.6 339.9 750.3 340.7 750.9 341.6 751.7 342.4 752.5 343.2 753.3 344.0 754.3 344.9 755.5 345.7 756.8 346.5 758.3 347.4 760.1 348.2 762.3 349.0 764.7 349.9 767.6 350.7 770.8 351.5 774.3 352.3 777.8 353.2 781.2 354.0 784.4 354.8 787.3 355.7 789.9 356.5 792.4 357.3 794.6 358.1 796.6 359.0 798.4 359.8 800.1 360.6 801.7 361.5 803.3 362.3 804.9 363.1 806.6 363.9 808.3 364.8 810.0 365.6 811.7 366.4 813.4 367.3 815.1 368.1 816.7 368.9 818.2 369.8 819.6 370.6 821.0 371.4 822.4 372.2 823.7 373.1 825.0 373.9 826.2 374.7 827.3 375.6 828.4 376.4 829.3 377.2 830.2 378.0 831.0 378.9 831.8 379.7 832.5 380.5 833.1 381.4 833.7 382.2 834.3 383.0 834.9 383.8 835.4 384.7 835.9 385.5 836.4 386.3 836.8 387.2 837.2 388.0 837.6 388.8 838.0 389.7 838.3 390.5 838.7 391.3 839.0 392.1 839.3 393.0 839.6 393.8 839.9 394.6 840.2 395.5 840.5 396.3 840.7 397.1 841.0 397.9 841.2 398.8 841.5 399.6 841.7 400.4 841.9 401.3 842.1 402.1 842.4 402.9 842.6 403.7 842.8 404.6 843.0 405.4 843.2 406.2 843.4 407.1 843.6 407.9 843.8 408.7 843.9 409.6 844.1 410.4 844.3 411.2 844.5 412.0 844.6 412.9 844.8 413.7 845.0 414.5 845.1 415.4 845.3 416.2 845.4 417.0 845.5 417.8 845.7 418.7 845.8 419.5 846.0 420.3 846.1 421.2 846.2 422.0 846.3 422.8 846.5 423.6 846.6 424.5 846.7 425.3 846.8 426.1 847.0 427.0 847.1 427.8 847.2 428.6 847.3 429.5 847.4 430.3 847.5 431.1 847.6 431.9 847.7 432.8 847.8 433.6 847.9 434.4 848.0 435.3 848.1 436.1 848.2 436.9 848.2 437.7 848.3 438.6 848.4 439.4 848.5" fill="none" stroke="#1f77b4" stroke-width="2.60" stroke-linejoin="round" stroke-linecap="butt"/>
<path d="M274.4 724.5 275.2 724.5 276.1 724.6 276.9 724.6 277.7 724.6 278.5 724.6 279.4 724.7 280.2 724.7 281.0 724.7 281.9 724.8 282.7 724.8 283.5 724.9 284.3 724.9 285.2 724.9 286.0 725.0 286.8 725.0 287.7 725.0 288.5 725.1 289.3 725.1 290.2 725.2 291.0 725.2 291.8 725.3 292.6 725.3 293.5 725.3 294.3 725.4 295.1 725.4 296.0 725.5 296.8 725.5 297.6 725.6 298.4 725.6 299.3 725.7 300.1 725.7 300.9 725.8 301.8 725.8 302.6 725.9 303.4 725.9 304.2 725.9 305.1 726.0 305.9 726.0 306.7 726.1 307.6 726.1 308.4 726.2 309.2 726.2 310.1 726.3 310.9 726.3 311.7 726.4 312.5 726.5 313.4 726.5 314.2 726.6 315.0 726.7 315.9 726.7 316.7 726.8 317.5 726.9 318.3 727.0 319.2 727.1 320.0 727.2 320.8 727.4 321.7 727.6 322.5 727.8 323.3 728.0 324.1 728.3 325.0 728.5 325.8 728.8 326.6 729.2 327.5 729.5 328.3 729.8 329.1 730.2 330.0 730.5 330.8 730.8 331.6 731.2 332.4 731.5 333.3 731.9 334.1 732.3 334.9 732.8 335.8 733.3 336.6 733.8 337.4 734.5 338.2 735.2 339.1 736.0 339.9 737.0 340.7 738.0 341.6 739.2 342.4 740.4 343.2 741.7 344.0 743.1 344.9 744.7 345.7 746.3 346.5 748.2 347.4 750.4 348.2 752.9 349.0 755.9 349.9 759.3 350.7 763.1 351.5 767.1 352.3 771.0 353.2 774.7 354.0 778.2 354.8 781.4 355.7 784.5 356.5 787.4 357.3 790.1 358.1 792.7 359.0 795.1 359.8 797.4 360.6 799.5 361.5 801.5 362.3 803.4 363.1 805.1 363.9 806.8 364.8 808.4 365.6 809.9 366.4 811.3 367.3 812.6 368.1 813.8 368.9 814.9 369.8 816.0 370.6 816.9 371.4 817.8 372.2 818.6 373.1 819.4 373.9 820.2 374.7 820.9 375.6 821.5 376.4 822.1 377.2 822.7 378.0 823.2 378.9 823.7 379.7 824.1 380.5 824.4 381.4 824.8 382.2 825.1 383.0 825.4 383.8 825.7 384.7 826.0 385.5 826.3 386.3 826.6 387.2 826.8 388.0 827.1 388.8 827.3 389.7 827.5 390.5 827.8 391.3 828.0 392.1 828.2 393.0 828.4 393.8 828.6 394.6 828.8 395.5 828.9 396.3 829.1 397.1 829.3 397.9 829.5 398.8 829.6 399.6 829.8 400.4 830.0 401.3 830.2 402.1 830.3 402.9 830.5 403.7 830.7 404.6 830.8 405.4 831.0 406.2 831.1 407.1 831.3 407.9 831.4 408.7 831.6 409.6 831.7 410.4 831.9 411.2 832.0 412.0 832.1 412.9 832.2 413.7 832.4 414.5 832.5 415.4 832.6 416.2 832.7 417.0 832.8 417.8 833.0 418.7 833.1 419.5 833.2 420.3 833.3 421.2 833.4 422.0 833.5 422.8 833.6 423.6 833.7 424.5 833.8 425.3 833.8 426.1 833.9 427.0 834.0 427.8 834.1 428.6 834.2 429.5 834.3 430.3 834.4 431.1 834.4 431.9 834.5 432.8 834.6 433.6 834.7 434.4 834.7 435.3 834.8 436.1 834.9 436.9 834.9 437.7 835.0 438.6 835.0 439.4 835.1" fill="none" stroke="#ff7f0e" stroke-width="2.60" stroke-linejoin="round" stroke-linecap="butt"/>
<path d="M274.4 709.1 275.2 709.2 276.1 709.2 276.9 709.2 277.7 709.3 278.5 709.3 279.4 709.4 280.2 709.5 281.0 709.5 281.9 709.6 282.7 709.7 283.5 709.7 284.3 709.8 285.2 709.9 286.0 710.0 286.8 710.0 287.7 710.1 288.5 710.2 289.3 710.3 290.2 710.4 291.0 710.5 291.8 710.6 292.6 710.7 293.5 710.7 294.3 710.8 295.1 710.9 296.0 711.0 296.8 711.1 297.6 711.2 298.4 711.4 299.3 711.5 300.1 711.6 300.9 711.7 301.8 711.8 302.6 711.9 303.4 712.0 304.2 712.1 305.1 712.3 305.9 712.4 306.7 712.5 307.6 712.7 308.4 712.8 309.2 712.9 310.1 713.1 310.9 713.3 311.7 713.4 312.5 713.6 313.4 713.7 314.2 713.9 315.0 714.1 315.9 714.3 316.7 714.5 317.5 714.7 318.3 714.9 319.2 715.1 320.0 715.3 320.8 715.6 321.7 715.8 322.5 716.1 323.3 716.4 324.1 716.7 325.0 717.0 325.8 717.3 326.6 717.7 327.5 718.1 328.3 718.5 329.1 718.9 330.0 719.4 330.8 719.9 331.6 720.5 332.4 721.1 333.3 721.8 334.1 722.5 334.9 723.3 335.8 724.2 336.6 725.1 337.4 726.1 338.2 727.3 339.1 728.5 339.9 729.9 340.7 731.3 341.6 732.9 342.4 734.5 343.2 736.3 344.0 738.2 344.9 740.2 345.7 742.4 346.5 744.9 347.4 747.9 348.2 751.4 349.0 755.6 349.9 760.2 350.7 765.2 351.5 770.1 352.3 774.7 353.2 778.8 354.0 782.2 354.8 785.1 355.7 787.6 356.5 789.7 357.3 791.6 358.1 793.4 359.0 795.0 359.8 796.6 360.6 798.2 361.5 799.7 362.3 801.3 363.1 802.8 363.9 804.3 364.8 805.8 365.6 807.2 366.4 808.5 367.3 809.8 368.1 811.1 368.9 812.3 369.8 813.4 370.6 814.5 371.4 815.6 372.2 816.6 373.1 817.6 373.9 818.5 374.7 819.3 375.6 820.1 376.4 820.8 377.2 821.4 378.0 822.0 378.9 822.6 379.7 823.2 380.5 823.7 381.4 824.2 382.2 824.7 383.0 825.1 383.8 825.6 384.7 826.0 385.5 826.4 386.3 826.7 387.2 827.1 388.0 827.4 388.8 827.7 389.7 828.0 390.5 828.3 391.3 828.5 392.1 828.8 393.0 829.0 393.8 829.3 394.6 829.5 395.5 829.7 396.3 829.9 397.1 830.1 397.9 830.3 398.8 830.5 399.6 830.7 400.4 830.9 401.3 831.1 402.1 831.3 402.9 831.5 403.7 831.7 404.6 831.8 405.4 832.0 406.2 832.2 407.1 832.4 407.9 832.6 408.7 832.7 409.6 832.9 410.4 833.1 411.2 833.2 412.0 833.4 412.9 833.5 413.7 833.7 414.5 833.8 415.4 834.0 416.2 834.1 417.0 834.2 417.8 834.4 418.7 834.5 419.5 834.6 420.3 834.8 421.2 834.9 422.0 835.0 422.8 835.1 423.6 835.2 424.5 835.3 425.3 835.5 426.1 835.6 427.0 835.7 427.8 835.8 428.6 835.9 429.5 836.0 430.3 836.1 431.1 836.2 431.9 836.3 432.8 836.4 433.6 836.5 434.4 836.5 435.3 836.6 436.1 836.7 436.9 836.8 437.7 836.9 438.6 836.9 439.4 837.0" fill="none" stroke="#2ca02c" stroke-width="2.60" stroke-linejoin="round" stroke-linecap="butt"/>
<rect x="368.50" y="705.60" width="75.20" height="63.50" fill="#fff" stroke="#d0d0d0" stroke-width="0.60"/>
<line x1="367.60" y1="710.60" x2="368.50" y2="710.60" stroke="#bbb" stroke-width="0.40"/>
<text x="366.90" y="711.84" font-size="3.47" text-anchor="end" fill="#444" textLength="4.33" lengthAdjust="spacingAndGlyphs">10</text>
<line x1="367.60" y1="719.50" x2="368.50" y2="719.50" stroke="#bbb" stroke-width="0.40"/>
<text x="366.90" y="720.74" font-size="3.47" text-anchor="end" fill="#444" textLength="2.16" lengthAdjust="spacingAndGlyphs">0</text>
<line x1="367.60" y1="728.40" x2="368.50" y2="728.40" stroke="#bbb" stroke-width="0.40"/>
<text x="366.90" y="729.64" font-size="3.47" text-anchor="end" fill="#444" textLength="7.18" lengthAdjust="spacingAndGlyphs">−10</text>
<line x1="367.60" y1="737.30" x2="368.50" y2="737.30" stroke="#bbb" stroke-width="0.40"/>
<text x="366.90" y="738.54" font-size="3.47" text-anchor="end" fill="#444" textLength="7.18" lengthAdjust="spacingAndGlyphs">−20</text>
<line x1="367.60" y1="746.20" x2="368.50" y2="746.20" stroke="#bbb" stroke-width="0.40"/>
<text x="366.90" y="747.44" font-size="3.47" text-anchor="end" fill="#444" textLength="7.18" lengthAdjust="spacingAndGlyphs">−30</text>
<line x1="367.60" y1="755.10" x2="368.50" y2="755.10" stroke="#bbb" stroke-width="0.40"/>
<text x="366.90" y="756.34" font-size="3.47" text-anchor="end" fill="#444" textLength="7.18" lengthAdjust="spacingAndGlyphs">−40</text>
<line x1="367.60" y1="764.00" x2="368.50" y2="764.00" stroke="#bbb" stroke-width="0.40"/>
<text x="366.90" y="765.24" font-size="3.47" text-anchor="end" fill="#444" textLength="7.18" lengthAdjust="spacingAndGlyphs">−50</text>
<line x1="371.70" y1="769.10" x2="371.70" y2="770.00" stroke="#bbb" stroke-width="0.40"/>
<text x="371.70" y="773.00" font-size="3.47" text-anchor="middle" fill="#444" textLength="7.18" lengthAdjust="spacingAndGlyphs">−10</text>
<line x1="388.80" y1="769.10" x2="388.80" y2="770.00" stroke="#bbb" stroke-width="0.40"/>
<text x="388.80" y="773.00" font-size="3.47" text-anchor="middle" fill="#444" textLength="5.01" lengthAdjust="spacingAndGlyphs">−5</text>
<line x1="405.90" y1="769.10" x2="405.90" y2="770.00" stroke="#bbb" stroke-width="0.40"/>
<text x="405.90" y="773.00" font-size="3.47" text-anchor="middle" fill="#444" textLength="2.16" lengthAdjust="spacingAndGlyphs">0</text>
<line x1="423.00" y1="769.10" x2="423.00" y2="770.00" stroke="#bbb" stroke-width="0.40"/>
<text x="423.00" y="773.00" font-size="3.47" text-anchor="middle" fill="#444" textLength="2.16" lengthAdjust="spacingAndGlyphs">5</text>
<line x1="440.10" y1="769.10" x2="440.10" y2="770.00" stroke="#bbb" stroke-width="0.40"/>
<text x="440.10" y="773.00" font-size="3.47" text-anchor="middle" fill="#444" textLength="4.33" lengthAdjust="spacingAndGlyphs">10</text>
<path d="M371.7 759.2 372.6 758.2 373.4 757.3 374.3 756.4 375.1 755.4 376.0 754.5 376.8 753.6 377.7 752.6 378.5 751.6 379.4 750.6 380.2 749.7 381.1 748.7 382.0 747.7 382.8 746.7 383.7 745.7 384.5 744.8 385.4 743.8 386.2 742.8 387.1 741.9 387.9 740.9 388.8 739.9 389.7 739.0 390.5 738.0 391.4 737.0 392.2 736.1 393.1 735.1 393.9 734.2 394.8 733.2 395.6 732.3 396.5 731.4 397.3 730.4 398.2 729.4 399.1 728.4 399.9 727.4 400.8 726.4 401.6 725.4 402.5 724.5 403.3 723.7 404.2 722.9 405.0 722.2 405.9 721.6 406.8 721.0 407.6 720.5 408.5 720.0 409.3 719.5 410.2 719.1 411.0 718.6 411.9 718.2 412.7 717.9 413.6 717.6 414.4 717.3 415.3 717.0 416.2 716.7 417.0 716.5 417.9 716.3 418.7 716.1 419.6 715.9 420.4 715.7 421.3 715.6 422.1 715.4 423.0 715.3 423.9 715.1 424.7 715.0 425.6 714.8 426.4 714.7 427.3 714.5 428.1 714.4 429.0 714.3 429.8 714.1 430.7 714.0 431.5 713.9 432.4 713.8 433.3 713.6 434.1 713.5 435.0 713.4 435.8 713.3 436.7 713.1 437.5 713.0 438.4 712.9 439.2 712.8 440.1 712.7" fill="none" stroke="#1f77b4" stroke-width="0.80" stroke-linejoin="round" stroke-linecap="butt"/>
<path d="M371.7 764.4 372.6 763.3 373.4 762.2 374.3 761.2 375.1 760.1 376.0 759.1 376.8 758.0 377.7 756.9 378.5 755.8 379.4 754.7 380.2 753.6 381.1 752.5 382.0 751.4 382.8 750.3 383.7 749.3 384.5 748.2 385.4 747.1 386.2 746.0 387.1 745.0 387.9 743.9 388.8 742.8 389.7 741.7 390.5 740.6 391.4 739.5 392.2 738.3 393.1 737.2 393.9 736.1 394.8 735.0 395.6 733.8 396.5 732.7 397.3 731.6 398.2 730.5 399.1 729.4 399.9 728.3 400.8 727.1 401.6 726.0 402.5 725.0 403.3 724.1 404.2 723.2 405.0 722.5 405.9 721.8 406.8 721.1 407.6 720.5 408.5 720.0 409.3 719.5 410.2 719.0 411.0 718.6 411.9 718.2 412.7 717.8 413.6 717.4 414.4 717.1 415.3 716.8 416.2 716.5 417.0 716.2 417.9 715.9 418.7 715.6 419.6 715.3 420.4 715.1 421.3 714.8 422.1 714.5 423.0 714.3 423.9 714.0 424.7 713.8 425.6 713.5 426.4 713.3 427.3 713.0 428.1 712.8 429.0 712.5 429.8 712.3 430.7 712.0 431.5 711.8 432.4 711.6 433.3 711.3 434.1 711.1 435.0 710.8 435.8 710.6 436.7 710.4 437.5 710.1 438.4 709.9 439.2 709.7 440.1 709.5" fill="none" stroke="#ff7f0e" stroke-width="0.80" stroke-linejoin="round" stroke-linecap="butt"/>
<path d="M371.7 768.8 372.6 767.6 373.4 766.4 374.3 765.2 375.1 764.0 376.0 762.9 376.8 761.7 377.7 760.5 378.5 759.3 379.4 758.0 380.2 756.8 381.1 755.6 382.0 754.4 382.8 753.2 383.7 752.0 384.5 750.8 385.4 749.6 386.2 748.3 387.1 747.1 387.9 745.8 388.8 744.6 389.7 743.3 390.5 742.1 391.4 740.8 392.2 739.5 393.1 738.3 393.9 737.0 394.8 735.8 395.6 734.5 396.5 733.3 397.3 732.1 398.2 730.9 399.1 729.6 399.9 728.3 400.8 727.0 401.6 725.8 402.5 724.7 403.3 723.9 404.2 723.1 405.0 722.4 405.9 721.7 406.8 721.1 407.6 720.6 408.5 720.0 409.3 719.5 410.2 719.0 411.0 718.5 411.9 718.1 412.7 717.7 413.6 717.3 414.4 717.0 415.3 716.6 416.2 716.3 417.0 716.0 417.9 715.7 418.7 715.4 419.6 715.1 420.4 714.9 421.3 714.6 422.1 714.3 423.0 714.1 423.9 713.8 424.7 713.6 425.6 713.4 426.4 713.1 427.3 712.9 428.1 712.7 429.0 712.4 429.8 712.2 430.7 712.0 431.5 711.8 432.4 711.5 433.3 711.3 434.1 711.1 435.0 710.9 435.8 710.7 436.7 710.4 437.5 710.2 438.4 710.0 439.2 709.8 440.1 709.6" fill="none" stroke="#2ca02c" stroke-width="0.80" stroke-linejoin="round" stroke-linecap="butt"/>
<text x="400.60" y="763.30" font-size="10.20" text-anchor="start" fill="#222" textLength="39.40" lengthAdjust="spacingAndGlyphs">τ(q) vs. q</text>
<rect x="492.50" y="700.60" width="182.00" height="154.80" fill="#fff" stroke="#555" stroke-width="0.90"/>
<line x1="498.25" y1="855.40" x2="498.25" y2="857.20" stroke="#555" stroke-width="0.80"/>
<text x="498.25" y="866.78" font-size="9.49" text-anchor="middle" fill="#1a1a1a" textLength="19.63" lengthAdjust="spacingAndGlyphs">−10</text>
<line x1="540.23" y1="855.40" x2="540.23" y2="857.20" stroke="#555" stroke-width="0.80"/>
<text x="540.23" y="866.78" font-size="9.49" text-anchor="middle" fill="#1a1a1a" textLength="13.71" lengthAdjust="spacingAndGlyphs">−5</text>
<line x1="582.20" y1="855.40" x2="582.20" y2="857.20" stroke="#555" stroke-width="0.80"/>
<text x="582.20" y="866.78" font-size="9.49" text-anchor="middle" fill="#1a1a1a" textLength="5.92" lengthAdjust="spacingAndGlyphs">0</text>
<line x1="624.18" y1="855.40" x2="624.18" y2="857.20" stroke="#555" stroke-width="0.80"/>
<text x="624.18" y="866.78" font-size="9.49" text-anchor="middle" fill="#1a1a1a" textLength="5.92" lengthAdjust="spacingAndGlyphs">5</text>
<line x1="666.15" y1="855.40" x2="666.15" y2="857.20" stroke="#555" stroke-width="0.80"/>
<text x="666.15" y="866.78" font-size="9.49" text-anchor="middle" fill="#1a1a1a" textLength="11.83" lengthAdjust="spacingAndGlyphs">10</text>
<line x1="490.70" y1="846.60" x2="492.50" y2="846.60" stroke="#555" stroke-width="0.80"/>
<text x="489.10" y="850.99" font-size="9.49" text-anchor="end" fill="#1a1a1a" textLength="14.79" lengthAdjust="spacingAndGlyphs">0.0</text>
<line x1="490.70" y1="816.43" x2="492.50" y2="816.43" stroke="#555" stroke-width="0.80"/>
<text x="489.10" y="820.81" font-size="9.49" text-anchor="end" fill="#1a1a1a" textLength="14.79" lengthAdjust="spacingAndGlyphs">0.5</text>
<line x1="490.70" y1="786.25" x2="492.50" y2="786.25" stroke="#555" stroke-width="0.80"/>
<text x="489.10" y="790.64" font-size="9.49" text-anchor="end" fill="#1a1a1a" textLength="14.79" lengthAdjust="spacingAndGlyphs">1.0</text>
<line x1="490.70" y1="756.08" x2="492.50" y2="756.08" stroke="#555" stroke-width="0.80"/>
<text x="489.10" y="760.46" font-size="9.49" text-anchor="end" fill="#1a1a1a" textLength="14.79" lengthAdjust="spacingAndGlyphs">1.5</text>
<line x1="490.70" y1="725.90" x2="492.50" y2="725.90" stroke="#555" stroke-width="0.80"/>
<text x="489.10" y="730.29" font-size="9.49" text-anchor="end" fill="#1a1a1a" textLength="14.79" lengthAdjust="spacingAndGlyphs">2.0</text>
<text x="582.80" y="876.20" font-size="9.49" text-anchor="middle" fill="#1a1a1a" textLength="104.20" lengthAdjust="spacingAndGlyphs">Distortion exponent, <tspan font-style="italic">q</tspan></text>
<text x="472.20" y="777.50" font-size="9.49" text-anchor="middle" fill="#1a1a1a" textLength="86.90" lengthAdjust="spacingAndGlyphs" transform="rotate(-90 472.20 777.50)">Specific heat, <tspan font-style="italic">C</tspan>(<tspan font-style="italic">q</tspan>)</text>
<path d="M498.3 847.2 498.8 847.2 499.4 847.2 499.9 847.2 500.5 847.2 501.1 847.2 501.6 847.1 502.2 847.1 502.7 847.1 503.3 847.1 503.9 847.1 504.4 847.1 505.0 847.1 505.6 847.1 506.1 847.1 506.7 847.1 507.2 847.0 507.8 847.0 508.4 847.0 508.9 847.0 509.5 847.0 510.0 847.0 510.6 847.0 511.2 847.0 511.7 847.0 512.3 847.0 512.9 846.9 513.4 846.9 514.0 846.9 514.5 846.9 515.1 846.9 515.7 846.9 516.2 846.9 516.8 846.9 517.3 846.9 517.9 846.9 518.5 846.8 519.0 846.8 519.6 846.8 520.2 846.8 520.7 846.8 521.3 846.8 521.8 846.8 522.4 846.8 523.0 846.8 523.5 846.8 524.1 846.7 524.6 846.7 525.2 846.7 525.8 846.7 526.3 846.7 526.9 846.7 527.5 846.7 528.0 846.6 528.6 846.6 529.1 846.6 529.7 846.6 530.3 846.6 530.8 846.5 531.4 846.5 531.9 846.5 532.5 846.5 533.1 846.4 533.6 846.4 534.2 846.4 534.8 846.3 535.3 846.3 535.9 846.2 536.4 846.2 537.0 846.1 537.6 846.1 538.1 846.0 538.7 846.0 539.2 845.9 539.8 845.9 540.4 845.8 540.9 845.7 541.5 845.7 542.1 845.6 542.6 845.5 543.2 845.5 543.7 845.4 544.3 845.3 544.9 845.2 545.4 845.2 546.0 845.1 546.5 845.0 547.1 844.9 547.7 844.8 548.2 844.7 548.8 844.6 549.4 844.5 549.9 844.3 550.5 844.2 551.0 844.0 551.6 843.9 552.2 843.7 552.7 843.5 553.3 843.3 553.8 843.1 554.4 842.8 555.0 842.5 555.5 842.3 556.1 842.0 556.7 841.7 557.2 841.3 557.8 840.9 558.3 840.5 558.9 840.0 559.5 839.4 560.0 838.7 560.6 837.9 561.1 836.9 561.7 835.9 562.3 834.8 562.8 833.6 563.4 832.3 564.0 831.0 564.5 829.6 565.1 828.1 565.6 826.5 566.2 824.8 566.8 823.0 567.3 820.9 567.9 818.7 568.4 816.4 569.0 814.0 569.6 811.6 570.1 809.2 570.7 806.9 571.2 804.7 571.8 802.6 572.4 800.5 572.9 798.5 573.5 796.5 574.1 794.5 574.6 792.6 575.2 790.9 575.7 789.4 576.3 788.2 576.9 787.4 577.4 787.0 578.0 786.9 578.6 787.2 579.1 787.7 579.7 788.5 580.2 789.4 580.8 790.4 581.4 791.5 581.9 792.6 582.5 793.7 583.0 794.7 583.6 795.8 584.2 797.0 584.7 798.1 585.3 799.3 585.9 800.4 586.4 801.5 587.0 802.3 587.5 803.0 588.1 803.4 588.7 803.5 589.2 803.3 589.8 802.9 590.3 802.2 590.9 801.3 591.5 800.3 592.0 799.2 592.6 798.1 593.2 796.9 593.7 795.6 594.3 794.3 594.8 792.9 595.4 791.6 596.0 790.6 596.5 789.9 597.1 789.8 597.6 790.3 598.2 791.4 598.8 793.1 599.3 795.3 599.9 797.9 600.5 800.9 601.0 804.3 601.6 808.2 602.1 812.4 602.7 816.7 603.3 820.8 603.8 824.4 604.4 827.5 604.9 830.1 605.5 832.4 606.1 834.3 606.6 836.0 607.2 837.4 607.8 838.7 608.3 839.8 608.9 840.8 609.4 841.7 610.0 842.5 610.6 843.2 611.1 843.8 611.7 844.4 612.2 844.9 612.8 845.3 613.4 845.7 613.9 846.1 614.5 846.4 615.1 846.6 615.6 846.8 616.2 846.9 616.7 847.0 617.3 847.0 617.9 847.1 618.4 847.1 619.0 847.2 619.5 847.2 620.1 847.2 620.7 847.2 621.2 847.2 621.8 847.2 622.4 847.2 622.9 847.1 623.5 847.1 624.0 847.1 624.6 847.0 625.2 847.0 625.7 847.0 626.3 846.9 626.8 846.9 627.4 846.8 628.0 846.8 628.5 846.8 629.1 846.7 629.6 846.7 630.2 846.7 630.8 846.6 631.3 846.6 631.9 846.6 632.5 846.6 633.0 846.6 633.6 846.6 634.1 846.6 634.7 846.6 635.3 846.6 635.8 846.6 636.4 846.6 637.0 846.6 637.5 846.6 638.1 846.6 638.6 846.6 639.2 846.6 639.8 846.6 640.3 846.6 640.9 846.6 641.4 846.6 642.0 846.6 642.6 846.6 643.1 846.6 643.7 846.6 644.2 846.6 644.8 846.6 645.4 846.6 645.9 846.6 646.5 846.6 647.1 846.6 647.6 846.6 648.2 846.6 648.7 846.6 649.3 846.6 649.9 846.6 650.4 846.6 651.0 846.6 651.6 846.6 652.1 846.6 652.7 846.6 653.2 846.6 653.8 846.6 654.4 846.6 654.9 846.6 655.5 846.6 656.0 846.6 656.6 846.6 657.2 846.6 657.7 846.6 658.3 846.6 658.9 846.6 659.4 846.6 660.0 846.6 660.5 846.6 661.1 846.6 661.7 846.6 662.2 846.6 662.8 846.6 663.3 846.6 663.9 846.6 664.5 846.6 665.0 846.6 665.6 846.6 666.2 846.6" fill="none" stroke="#1f77b4" stroke-width="2.60" stroke-linejoin="round" stroke-linecap="butt"/>
<path d="M498.3 847.8 498.8 847.9 499.4 847.9 499.9 848.0 500.5 848.0 501.1 848.0 501.6 848.1 502.2 848.1 502.7 848.2 503.3 848.2 503.9 848.2 504.4 848.2 505.0 848.3 505.6 848.3 506.1 848.3 506.7 848.3 507.2 848.3 507.8 848.3 508.4 848.4 508.9 848.4 509.5 848.4 510.0 848.4 510.6 848.4 511.2 848.4 511.7 848.4 512.3 848.4 512.9 848.4 513.4 848.4 514.0 848.4 514.5 848.4 515.1 848.4 515.7 848.4 516.2 848.4 516.8 848.4 517.3 848.3 517.9 848.3 518.5 848.3 519.0 848.3 519.6 848.2 520.2 848.2 520.7 848.1 521.3 848.1 521.8 848.0 522.4 848.0 523.0 847.9 523.5 847.8 524.1 847.8 524.6 847.7 525.2 847.6 525.8 847.6 526.3 847.5 526.9 847.5 527.5 847.4 528.0 847.3 528.6 847.3 529.1 847.2 529.7 847.2 530.3 847.1 530.8 847.1 531.4 847.0 531.9 846.9 532.5 846.9 533.1 846.8 533.6 846.8 534.2 846.7 534.8 846.6 535.3 846.6 535.9 846.5 536.4 846.5 537.0 846.4 537.6 846.3 538.1 846.3 538.7 846.2 539.2 846.1 539.8 846.0 540.4 846.0 540.9 845.9 541.5 845.8 542.1 845.8 542.6 845.7 543.2 845.6 543.7 845.5 544.3 845.5 544.9 845.4 545.4 845.3 546.0 845.2 546.5 845.2 547.1 845.1 547.7 845.0 548.2 844.9 548.8 844.8 549.4 844.7 549.9 844.6 550.5 844.5 551.0 844.4 551.6 844.2 552.2 844.1 552.7 843.9 553.3 843.7 553.8 843.5 554.4 843.3 555.0 843.2 555.5 843.1 556.1 843.1 556.7 843.1 557.2 843.1 557.8 843.2 558.3 843.3 558.9 843.5 559.5 843.8 560.0 844.0 560.6 844.1 561.1 844.0 561.7 843.3 562.3 842.1 562.8 840.3 563.4 837.5 564.0 833.6 564.5 828.5 565.1 822.1 565.6 814.8 566.2 807.3 566.8 800.2 567.3 793.8 567.9 788.4 568.4 783.8 569.0 780.0 569.6 776.7 570.1 774.0 570.7 771.8 571.2 770.2 571.8 769.0 572.4 768.2 572.9 767.5 573.5 767.1 574.1 766.8 574.6 766.8 575.2 767.0 575.7 767.5 576.3 768.3 576.9 769.4 577.4 770.7 578.0 772.0 578.6 773.5 579.1 775.0 579.7 776.7 580.2 778.4 580.8 780.2 581.4 782.2 581.9 784.2 582.5 786.3 583.0 788.6 583.6 790.9 584.2 793.4 584.7 795.8 585.3 798.2 585.9 800.5 586.4 802.6 587.0 804.4 587.5 806.1 588.1 807.4 588.7 808.6 589.2 809.6 589.8 810.5 590.3 811.3 590.9 812.1 591.5 812.7 592.0 813.3 592.6 813.8 593.2 814.3 593.7 814.8 594.3 815.3 594.8 815.8 595.4 816.4 596.0 817.0 596.5 817.8 597.1 818.5 597.6 819.3 598.2 820.1 598.8 821.0 599.3 821.9 599.9 822.8 600.5 823.8 601.0 824.7 601.6 825.6 602.1 826.5 602.7 827.4 603.3 828.2 603.8 829.0 604.4 829.8 604.9 830.6 605.5 831.3 606.1 832.1 606.6 832.8 607.2 833.5 607.8 834.1 608.3 834.7 608.9 835.3 609.4 835.9 610.0 836.4 610.6 836.9 611.1 837.3 611.7 837.7 612.2 838.0 612.8 838.4 613.4 838.7 613.9 839.0 614.5 839.3 615.1 839.6 615.6 839.9 616.2 840.2 616.7 840.5 617.3 840.7 617.9 840.9 618.4 841.2 619.0 841.4 619.5 841.6 620.1 841.8 620.7 842.0 621.2 842.2 621.8 842.3 622.4 842.5 622.9 842.7 623.5 842.8 624.0 842.9 624.6 843.1 625.2 843.2 625.7 843.3 626.3 843.4 626.8 843.5 627.4 843.6 628.0 843.7 628.5 843.9 629.1 844.0 629.6 844.1 630.2 844.1 630.8 844.2 631.3 844.3 631.9 844.4 632.5 844.5 633.0 844.6 633.6 844.7 634.1 844.7 634.7 844.8 635.3 844.9 635.8 844.9 636.4 845.0 637.0 845.1 637.5 845.1 638.1 845.2 638.6 845.2 639.2 845.3 639.8 845.3 640.3 845.3 640.9 845.4 641.4 845.4 642.0 845.5 642.6 845.5 643.1 845.5 643.7 845.6 644.2 845.6 644.8 845.6 645.4 845.6 645.9 845.7 646.5 845.7 647.1 845.7 647.6 845.8 648.2 845.8 648.7 845.8 649.3 845.8 649.9 845.9 650.4 845.9 651.0 845.9 651.6 846.0 652.1 846.0 652.7 846.0 653.2 846.0 653.8 846.0 654.4 846.1 654.9 846.1 655.5 846.1 656.0 846.1 656.6 846.1 657.2 846.2 657.7 846.2 658.3 846.2 658.9 846.2 659.4 846.2 660.0 846.2 660.5 846.2 661.1 846.3 661.7 846.3 662.2 846.3 662.8 846.3 663.3 846.3 663.9 846.3 664.5 846.3 665.0 846.3 665.6 846.3 666.2 846.3" fill="none" stroke="#ff7f0e" stroke-width="2.60" stroke-linejoin="round" stroke-linecap="butt"/>
<path d="M498.3 847.2 498.8 847.2 499.4 847.2 499.9 847.3 500.5 847.3 501.1 847.3 501.6 847.3 502.2 847.3 502.7 847.4 503.3 847.4 503.9 847.4 504.4 847.4 505.0 847.4 505.6 847.5 506.1 847.5 506.7 847.5 507.2 847.5 507.8 847.5 508.4 847.6 508.9 847.6 509.5 847.6 510.0 847.6 510.6 847.6 511.2 847.7 511.7 847.7 512.3 847.7 512.9 847.7 513.4 847.7 514.0 847.8 514.5 847.8 515.1 847.8 515.7 847.8 516.2 847.9 516.8 847.9 517.3 847.9 517.9 847.9 518.5 848.0 519.0 848.0 519.6 848.0 520.2 848.1 520.7 848.1 521.3 848.1 521.8 848.2 522.4 848.2 523.0 848.2 523.5 848.2 524.1 848.3 524.6 848.3 525.2 848.3 525.8 848.3 526.3 848.4 526.9 848.4 527.5 848.4 528.0 848.4 528.6 848.4 529.1 848.4 529.7 848.4 530.3 848.4 530.8 848.4 531.4 848.4 531.9 848.4 532.5 848.4 533.1 848.3 533.6 848.3 534.2 848.3 534.8 848.2 535.3 848.2 535.9 848.2 536.4 848.1 537.0 848.1 537.6 848.1 538.1 848.0 538.7 848.0 539.2 847.9 539.8 847.8 540.4 847.8 540.9 847.7 541.5 847.6 542.1 847.4 542.6 847.2 543.2 847.0 543.7 846.7 544.3 846.5 544.9 846.2 545.4 845.9 546.0 845.6 546.5 845.3 547.1 845.0 547.7 844.7 548.2 844.4 548.8 844.0 549.4 843.7 549.9 843.4 550.5 843.0 551.0 842.7 551.6 842.3 552.2 841.9 552.7 841.5 553.3 841.0 553.8 840.5 554.4 840.0 555.0 839.4 555.5 838.8 556.1 838.1 556.7 837.4 557.2 836.6 557.8 835.7 558.3 834.7 558.9 833.5 559.5 832.2 560.0 830.7 560.6 829.1 561.1 827.3 561.7 825.3 562.3 823.2 562.8 820.8 563.4 818.1 564.0 814.9 564.5 810.6 565.1 805.0 565.6 798.0 566.2 790.1 566.8 781.6 567.3 772.7 567.9 763.9 568.4 755.2 569.0 746.4 569.6 737.2 570.1 728.3 570.7 720.3 571.2 713.8 571.8 709.1 572.4 706.4 572.9 706.6 573.5 709.6 574.1 714.7 574.6 721.6 575.2 730.2 575.7 740.0 576.3 750.1 576.9 759.4 577.4 767.4 578.0 774.6 578.6 781.0 579.1 786.8 579.7 791.9 580.2 796.5 580.8 800.6 581.4 804.2 581.9 807.1 582.5 809.4 583.0 811.4 583.6 813.2 584.2 814.9 584.7 816.4 585.3 817.7 585.9 818.8 586.4 819.7 587.0 820.2 587.5 820.5 588.1 820.6 588.7 820.6 589.2 820.6 589.8 820.6 590.3 820.6 590.9 820.6 591.5 820.6 592.0 820.6 592.6 820.6 593.2 820.5 593.7 820.4 594.3 820.3 594.8 820.1 595.4 819.9 596.0 819.8 596.5 819.6 597.1 819.5 597.6 819.5 598.2 819.6 598.8 819.7 599.3 820.0 599.9 820.4 600.5 820.8 601.0 821.3 601.6 821.9 602.1 822.5 602.7 823.1 603.3 823.8 603.8 824.5 604.4 825.1 604.9 825.7 605.5 826.3 606.1 826.9 606.6 827.4 607.2 828.0 607.8 828.6 608.3 829.2 608.9 829.8 609.4 830.5 610.0 831.1 610.6 831.7 611.1 832.4 611.7 833.0 612.2 833.6 612.8 834.2 613.4 834.7 613.9 835.3 614.5 835.8 615.1 836.3 615.6 836.7 616.2 837.1 616.7 837.5 617.3 837.8 617.9 838.1 618.4 838.4 619.0 838.7 619.5 838.9 620.1 839.2 620.7 839.5 621.2 839.7 621.8 839.9 622.4 840.2 622.9 840.4 623.5 840.6 624.0 840.8 624.6 841.1 625.2 841.3 625.7 841.4 626.3 841.6 626.8 841.8 627.4 842.0 628.0 842.1 628.5 842.3 629.1 842.4 629.6 842.6 630.2 842.7 630.8 842.8 631.3 842.9 631.9 843.1 632.5 843.2 633.0 843.3 633.6 843.4 634.1 843.5 634.7 843.6 635.3 843.7 635.8 843.8 636.4 843.9 637.0 844.0 637.5 844.1 638.1 844.2 638.6 844.2 639.2 844.3 639.8 844.4 640.3 844.5 640.9 844.6 641.4 844.6 642.0 844.7 642.6 844.8 643.1 844.9 643.7 844.9 644.2 845.0 644.8 845.0 645.4 845.1 645.9 845.1 646.5 845.2 647.1 845.2 647.6 845.3 648.2 845.3 648.7 845.4 649.3 845.4 649.9 845.4 650.4 845.5 651.0 845.5 651.6 845.5 652.1 845.5 652.7 845.6 653.2 845.6 653.8 845.6 654.4 845.7 654.9 845.7 655.5 845.7 656.0 845.7 656.6 845.8 657.2 845.8 657.7 845.8 658.3 845.8 658.9 845.9 659.4 845.9 660.0 845.9 660.5 845.9 661.1 845.9 661.7 845.9 662.2 846.0 662.8 846.0 663.3 846.0 663.9 846.0 664.5 846.0 665.0 846.0 665.6 846.0 666.2 846.0" fill="none" stroke="#2ca02c" stroke-width="2.60" stroke-linejoin="round" stroke-linecap="butt"/>
<rect x="53.20" y="539.80" width="13.16" height="13.10" fill="#3b4cc0" stroke="none" stroke-width="1.00"/>
<rect x="66.01" y="539.80" width="13.16" height="13.10" fill="#c5d6f2" stroke="none" stroke-width="1.00"/>
<rect x="78.83" y="539.80" width="13.16" height="13.10" fill="#b40426" stroke="none" stroke-width="1.00"/>
<rect x="91.64" y="539.80" width="13.16" height="13.10" fill="#ee8468" stroke="none" stroke-width="1.00"/>
<rect x="104.45" y="539.80" width="13.16" height="13.10" fill="#e8765c" stroke="none" stroke-width="1.00"/>
<rect x="117.26" y="539.80" width="13.16" height="13.10" fill="#f29274" stroke="none" stroke-width="1.00"/>
<rect x="130.07" y="539.80" width="13.16" height="13.10" fill="#e36c55" stroke="none" stroke-width="1.00"/>
<rect x="142.89" y="539.80" width="13.16" height="13.10" fill="#f08a6c" stroke="none" stroke-width="1.00"/>
<rect x="53.20" y="552.55" width="13.16" height="13.10" fill="#c5d6f2" stroke="none" stroke-width="1.00"/>
<rect x="66.01" y="552.55" width="13.16" height="13.10" fill="#3b4cc0" stroke="none" stroke-width="1.00"/>
<rect x="78.83" y="552.55" width="13.16" height="13.10" fill="#f4c6af" stroke="none" stroke-width="1.00"/>
<rect x="91.64" y="552.55" width="13.16" height="13.10" fill="#c9d7f0" stroke="none" stroke-width="1.00"/>
<rect x="104.45" y="552.55" width="13.16" height="13.10" fill="#d1dae9" stroke="none" stroke-width="1.00"/>
<rect x="117.26" y="552.55" width="13.16" height="13.10" fill="#bfd3f6" stroke="none" stroke-width="1.00"/>
<rect x="130.07" y="552.55" width="13.16" height="13.10" fill="#d5dbe5" stroke="none" stroke-width="1.00"/>
<rect x="142.89" y="552.55" width="13.16" height="13.10" fill="#c3d5f4" stroke="none" stroke-width="1.00"/>
<rect x="53.20" y="565.30" width="13.16" height="13.10" fill="#b40426" stroke="none" stroke-width="1.00"/>
<rect x="66.01" y="565.30" width="13.16" height="13.10" fill="#f4c6af" stroke="none" stroke-width="1.00"/>
<rect x="78.83" y="565.30" width="13.16" height="13.10" fill="#3b4cc0" stroke="none" stroke-width="1.00"/>
<rect x="91.64" y="565.30" width="13.16" height="13.10" fill="#7b9ff9" stroke="none" stroke-width="1.00"/>
<rect x="104.45" y="565.30" width="13.16" height="13.10" fill="#6f92f3" stroke="none" stroke-width="1.00"/>
<rect x="117.26" y="565.30" width="13.16" height="13.10" fill="#84a7fc" stroke="none" stroke-width="1.00"/>
<rect x="130.07" y="565.30" width="13.16" height="13.10" fill="#6485ec" stroke="none" stroke-width="1.00"/>
<rect x="142.89" y="565.30" width="13.16" height="13.10" fill="#7a9df8" stroke="none" stroke-width="1.00"/>
<rect x="53.20" y="578.05" width="13.16" height="13.10" fill="#ee8468" stroke="none" stroke-width="1.00"/>
<rect x="66.01" y="578.05" width="13.16" height="13.10" fill="#c9d7f0" stroke="none" stroke-width="1.00"/>
<rect x="78.83" y="578.05" width="13.16" height="13.10" fill="#7b9ff9" stroke="none" stroke-width="1.00"/>
<rect x="91.64" y="578.05" width="13.16" height="13.10" fill="#3b4cc0" stroke="none" stroke-width="1.00"/>
<rect x="104.45" y="578.05" width="13.16" height="13.10" fill="#4257c9" stroke="none" stroke-width="1.00"/>
<rect x="117.26" y="578.05" width="13.16" height="13.10" fill="#4961d2" stroke="none" stroke-width="1.00"/>
<rect x="130.07" y="578.05" width="13.16" height="13.10" fill="#4c66d6" stroke="none" stroke-width="1.00"/>
<rect x="142.89" y="578.05" width="13.16" height="13.10" fill="#4a63d3" stroke="none" stroke-width="1.00"/>
<rect x="53.20" y="590.80" width="13.16" height="13.10" fill="#e8765c" stroke="none" stroke-width="1.00"/>
<rect x="66.01" y="590.80" width="13.16" height="13.10" fill="#d1dae9" stroke="none" stroke-width="1.00"/>
<rect x="78.83" y="590.80" width="13.16" height="13.10" fill="#6f92f3" stroke="none" stroke-width="1.00"/>
<rect x="91.64" y="590.80" width="13.16" height="13.10" fill="#4257c9" stroke="none" stroke-width="1.00"/>
<rect x="104.45" y="590.80" width="13.16" height="13.10" fill="#3b4cc0" stroke="none" stroke-width="1.00"/>
<rect x="117.26" y="590.80" width="13.16" height="13.10" fill="#5470de" stroke="none" stroke-width="1.00"/>
<rect x="130.07" y="590.80" width="13.16" height="13.10" fill="#4961d2" stroke="none" stroke-width="1.00"/>
<rect x="142.89" y="590.80" width="13.16" height="13.10" fill="#4f69d9" stroke="none" stroke-width="1.00"/>
<rect x="53.20" y="603.55" width="13.16" height="13.10" fill="#f29274" stroke="none" stroke-width="1.00"/>
<rect x="66.01" y="603.55" width="13.16" height="13.10" fill="#bfd3f6" stroke="none" stroke-width="1.00"/>
<rect x="78.83" y="603.55" width="13.16" height="13.10" fill="#84a7fc" stroke="none" stroke-width="1.00"/>
<rect x="91.64" y="603.55" width="13.16" height="13.10" fill="#4961d2" stroke="none" stroke-width="1.00"/>
<rect x="104.45" y="603.55" width="13.16" height="13.10" fill="#5470de" stroke="none" stroke-width="1.00"/>
<rect x="117.26" y="603.55" width="13.16" height="13.10" fill="#3b4cc0" stroke="none" stroke-width="1.00"/>
<rect x="130.07" y="603.55" width="13.16" height="13.10" fill="#5d7ce6" stroke="none" stroke-width="1.00"/>
<rect x="142.89" y="603.55" width="13.16" height="13.10" fill="#4c66d6" stroke="none" stroke-width="1.00"/>
<rect x="53.20" y="616.30" width="13.16" height="13.10" fill="#e36c55" stroke="none" stroke-width="1.00"/>
<rect x="66.01" y="616.30" width="13.16" height="13.10" fill="#d5dbe5" stroke="none" stroke-width="1.00"/>
<rect x="78.83" y="616.30" width="13.16" height="13.10" fill="#6485ec" stroke="none" stroke-width="1.00"/>
<rect x="91.64" y="616.30" width="13.16" height="13.10" fill="#4c66d6" stroke="none" stroke-width="1.00"/>
<rect x="104.45" y="616.30" width="13.16" height="13.10" fill="#4961d2" stroke="none" stroke-width="1.00"/>
<rect x="117.26" y="616.30" width="13.16" height="13.10" fill="#5d7ce6" stroke="none" stroke-width="1.00"/>
<rect x="130.07" y="616.30" width="13.16" height="13.10" fill="#3b4cc0" stroke="none" stroke-width="1.00"/>
<rect x="142.89" y="616.30" width="13.16" height="13.10" fill="#536edd" stroke="none" stroke-width="1.00"/>
<rect x="53.20" y="629.05" width="13.16" height="13.10" fill="#f08a6c" stroke="none" stroke-width="1.00"/>
<rect x="66.01" y="629.05" width="13.16" height="13.10" fill="#c3d5f4" stroke="none" stroke-width="1.00"/>
<rect x="78.83" y="629.05" width="13.16" height="13.10" fill="#7a9df8" stroke="none" stroke-width="1.00"/>
<rect x="91.64" y="629.05" width="13.16" height="13.10" fill="#4a63d3" stroke="none" stroke-width="1.00"/>
<rect x="104.45" y="629.05" width="13.16" height="13.10" fill="#4f69d9" stroke="none" stroke-width="1.00"/>
<rect x="117.26" y="629.05" width="13.16" height="13.10" fill="#4c66d6" stroke="none" stroke-width="1.00"/>
<rect x="130.07" y="629.05" width="13.16" height="13.10" fill="#536edd" stroke="none" stroke-width="1.00"/>
<rect x="142.89" y="629.05" width="13.16" height="13.10" fill="#3b4cc0" stroke="none" stroke-width="1.00"/>
<rect x="53.20" y="539.80" width="102.50" height="102.00" fill="none" stroke="#333" stroke-width="0.50"/>
<line x1="51.40" y1="546.17" x2="53.20" y2="546.17" stroke="#666" stroke-width="0.60"/>
<text x="50.20" y="548.95" font-size="7.75" text-anchor="end" fill="#1a1a1a" textLength="14.53" lengthAdjust="spacingAndGlyphs">LOP</text>
<line x1="59.61" y1="538.00" x2="59.61" y2="539.80" stroke="#666" stroke-width="0.60"/>
<text x="60.61" y="533.90" font-size="7.75" text-anchor="end" fill="#1a1a1a" textLength="14.53" lengthAdjust="spacingAndGlyphs" transform="rotate(45 60.61 533.90)">LOP</text>
<line x1="51.40" y1="558.92" x2="53.20" y2="558.92" stroke="#666" stroke-width="0.60"/>
<text x="50.20" y="561.70" font-size="7.75" text-anchor="end" fill="#1a1a1a" textLength="11.36" lengthAdjust="spacingAndGlyphs">ME</text>
<line x1="72.42" y1="538.00" x2="72.42" y2="539.80" stroke="#666" stroke-width="0.60"/>
<text x="73.42" y="533.90" font-size="7.75" text-anchor="end" fill="#1a1a1a" textLength="11.36" lengthAdjust="spacingAndGlyphs" transform="rotate(45 73.42 533.90)">ME</text>
<line x1="51.40" y1="571.67" x2="53.20" y2="571.67" stroke="#666" stroke-width="0.60"/>
<text x="50.20" y="574.45" font-size="7.75" text-anchor="end" fill="#1a1a1a" textLength="9.95" lengthAdjust="spacingAndGlyphs">LO</text>
<line x1="85.23" y1="538.00" x2="85.23" y2="539.80" stroke="#666" stroke-width="0.60"/>
<text x="86.23" y="533.90" font-size="7.75" text-anchor="end" fill="#1a1a1a" textLength="9.95" lengthAdjust="spacingAndGlyphs" transform="rotate(45 86.23 533.90)">LO</text>
<line x1="51.40" y1="584.42" x2="53.20" y2="584.42" stroke="#666" stroke-width="0.60"/>
<text x="50.20" y="587.20" font-size="7.75" text-anchor="end" fill="#1a1a1a" textLength="18.73" lengthAdjust="spacingAndGlyphs">AVLP</text>
<line x1="98.04" y1="538.00" x2="98.04" y2="539.80" stroke="#666" stroke-width="0.60"/>
<text x="99.04" y="533.90" font-size="7.75" text-anchor="end" fill="#1a1a1a" textLength="18.73" lengthAdjust="spacingAndGlyphs" transform="rotate(45 99.04 533.90)">AVLP</text>
<line x1="51.40" y1="597.17" x2="53.20" y2="597.17" stroke="#666" stroke-width="0.60"/>
<text x="50.20" y="599.95" font-size="7.75" text-anchor="end" fill="#1a1a1a" textLength="18.60" lengthAdjust="spacingAndGlyphs">PVLP</text>
<line x1="110.86" y1="538.00" x2="110.86" y2="539.80" stroke="#666" stroke-width="0.60"/>
<text x="111.86" y="533.90" font-size="7.75" text-anchor="end" fill="#1a1a1a" textLength="18.60" lengthAdjust="spacingAndGlyphs" transform="rotate(45 111.86 533.90)">PVLP</text>
<line x1="51.40" y1="609.92" x2="53.20" y2="609.92" stroke="#666" stroke-width="0.60"/>
<text x="50.20" y="612.70" font-size="7.75" text-anchor="end" fill="#1a1a1a" textLength="21.25" lengthAdjust="spacingAndGlyphs">AOTU</text>
<line x1="123.67" y1="538.00" x2="123.67" y2="539.80" stroke="#666" stroke-width="0.60"/>
<text x="124.67" y="533.90" font-size="7.75" text-anchor="end" fill="#1a1a1a" textLength="21.25" lengthAdjust="spacingAndGlyphs" transform="rotate(45 124.67 533.90)">AOTU</text>
<line x1="51.40" y1="622.67" x2="53.20" y2="622.67" stroke="#666" stroke-width="0.60"/>
<text x="50.20" y="625.45" font-size="7.75" text-anchor="end" fill="#1a1a1a" textLength="13.40" lengthAdjust="spacingAndGlyphs">PLP</text>
<line x1="136.48" y1="538.00" x2="136.48" y2="539.80" stroke="#666" stroke-width="0.60"/>
<text x="137.48" y="533.90" font-size="7.75" text-anchor="end" fill="#1a1a1a" textLength="13.40" lengthAdjust="spacingAndGlyphs" transform="rotate(45 137.48 533.90)">PLP</text>
<line x1="51.40" y1="635.42" x2="53.20" y2="635.42" stroke="#666" stroke-width="0.60"/>
<text x="50.20" y="638.20" font-size="7.75" text-anchor="end" fill="#1a1a1a" textLength="18.17" lengthAdjust="spacingAndGlyphs">WED</text>
<line x1="149.29" y1="538.00" x2="149.29" y2="539.80" stroke="#666" stroke-width="0.60"/>
<text x="150.29" y="533.90" font-size="7.75" text-anchor="end" fill="#1a1a1a" textLength="18.17" lengthAdjust="spacingAndGlyphs" transform="rotate(45 150.29 533.90)">WED</text>
<path d="M158.60 546.77 L166.80 546.77 L166.80 572.27 L158.60 572.27" fill="none" stroke="#222" stroke-width="1.25"/>
<line x1="158.60" y1="559.52" x2="166.80" y2="559.52" stroke="#222" stroke-width="1.25"/>
<text x="173.40" y="563.40" font-size="10.60" font-weight="bold" text-anchor="start" fill="#000" textLength="11.50" lengthAdjust="spacingAndGlyphs">OL</text>
<path d="M158.60 585.02 L166.80 585.02 L166.80 636.02 L158.60 636.02" fill="none" stroke="#222" stroke-width="1.25"/>
<line x1="158.60" y1="597.77" x2="166.80" y2="597.77" stroke="#222" stroke-width="1.25"/>
<line x1="158.60" y1="610.52" x2="166.80" y2="610.52" stroke="#222" stroke-width="1.25"/>
<line x1="158.60" y1="623.27" x2="166.80" y2="623.27" stroke="#222" stroke-width="1.25"/>
<text x="173.40" y="614.10" font-size="10.60" font-weight="bold" text-anchor="start" fill="#000" textLength="23.20" lengthAdjust="spacingAndGlyphs">VLNP</text>
<defs><linearGradient id="g53" x1="0" y1="0" x2="1" y2="0"><stop offset="0.000" stop-color="#3b4cc0"/><stop offset="0.017" stop-color="#3f53c6"/><stop offset="0.033" stop-color="#445acc"/><stop offset="0.050" stop-color="#4961d2"/><stop offset="0.067" stop-color="#4f69d9"/><stop offset="0.083" stop-color="#5470de"/><stop offset="0.100" stop-color="#5977e3"/><stop offset="0.117" stop-color="#5e7de7"/><stop offset="0.133" stop-color="#6485ec"/><stop offset="0.150" stop-color="#6a8bef"/><stop offset="0.167" stop-color="#6f92f3"/><stop offset="0.183" stop-color="#7597f6"/><stop offset="0.200" stop-color="#7b9ff9"/><stop offset="0.217" stop-color="#81a4fb"/><stop offset="0.233" stop-color="#86a9fc"/><stop offset="0.250" stop-color="#8db0fe"/><stop offset="0.267" stop-color="#93b5fe"/><stop offset="0.283" stop-color="#98b9ff"/><stop offset="0.300" stop-color="#9ebeff"/><stop offset="0.317" stop-color="#a5c3fe"/><stop offset="0.333" stop-color="#aac7fd"/><stop offset="0.350" stop-color="#afcafc"/><stop offset="0.367" stop-color="#b5cdfa"/><stop offset="0.383" stop-color="#bbd1f8"/><stop offset="0.400" stop-color="#c0d4f5"/><stop offset="0.417" stop-color="#c5d6f2"/><stop offset="0.433" stop-color="#cad8ef"/><stop offset="0.450" stop-color="#cfdaea"/><stop offset="0.467" stop-color="#d4dbe6"/><stop offset="0.483" stop-color="#d8dce2"/><stop offset="0.500" stop-color="#dddcdc"/><stop offset="0.517" stop-color="#e1dad6"/><stop offset="0.533" stop-color="#e5d8d1"/><stop offset="0.550" stop-color="#e9d5cb"/><stop offset="0.567" stop-color="#edd2c3"/><stop offset="0.583" stop-color="#efcebd"/><stop offset="0.600" stop-color="#f2cbb7"/><stop offset="0.617" stop-color="#f3c7b1"/><stop offset="0.633" stop-color="#f5c1a9"/><stop offset="0.650" stop-color="#f6bda2"/><stop offset="0.667" stop-color="#f7b89c"/><stop offset="0.683" stop-color="#f7b396"/><stop offset="0.700" stop-color="#f7ac8e"/><stop offset="0.717" stop-color="#f7a688"/><stop offset="0.733" stop-color="#f5a081"/><stop offset="0.750" stop-color="#f4987a"/><stop offset="0.767" stop-color="#f29274"/><stop offset="0.783" stop-color="#f08b6e"/><stop offset="0.800" stop-color="#ee8468"/><stop offset="0.817" stop-color="#ea7b60"/><stop offset="0.833" stop-color="#e7745b"/><stop offset="0.850" stop-color="#e36c55"/><stop offset="0.867" stop-color="#e0654f"/><stop offset="0.883" stop-color="#da5a49"/><stop offset="0.900" stop-color="#d65244"/><stop offset="0.917" stop-color="#d1493f"/><stop offset="0.933" stop-color="#cc403a"/><stop offset="0.950" stop-color="#c53334"/><stop offset="0.967" stop-color="#c0282f"/><stop offset="0.983" stop-color="#ba162b"/><stop offset="1.000" stop-color="#b40426"/></linearGradient></defs>
<rect x="45.30" y="651.10" width="118.10" height="6.60" fill="url(#g53)" stroke="#333" stroke-width="0.50"/>
<line x1="45.30" y1="657.70" x2="45.30" y2="659.50" stroke="#444" stroke-width="0.60"/>
<text x="45.30" y="666.80" font-size="7.75" text-anchor="middle" fill="#1a1a1a" textLength="4.84" lengthAdjust="spacingAndGlyphs">0</text>
<line x1="91.25" y1="657.70" x2="91.25" y2="659.50" stroke="#444" stroke-width="0.60"/>
<text x="91.25" y="666.80" font-size="7.75" text-anchor="middle" fill="#1a1a1a" textLength="4.84" lengthAdjust="spacingAndGlyphs">1</text>
<line x1="137.21" y1="657.70" x2="137.21" y2="659.50" stroke="#444" stroke-width="0.60"/>
<text x="137.21" y="666.80" font-size="7.75" text-anchor="middle" fill="#1a1a1a" textLength="4.84" lengthAdjust="spacingAndGlyphs">2</text>
<text x="104.55" y="676.30" font-size="7.75" text-anchor="middle" fill="#1a1a1a" textLength="80.50" lengthAdjust="spacingAndGlyphs">Structure distance, <tspan font-style="italic">d</tspan></text>
<rect x="257.05" y="539.70" width="13.16" height="13.09" fill="#3b4cc0" stroke="none" stroke-width="1.00"/>
<rect x="269.86" y="539.70" width="13.16" height="13.09" fill="#84a7fc" stroke="none" stroke-width="1.00"/>
<rect x="282.66" y="539.70" width="13.16" height="13.09" fill="#ee8468" stroke="none" stroke-width="1.00"/>
<rect x="295.47" y="539.70" width="13.16" height="13.09" fill="#86a9fc" stroke="none" stroke-width="1.00"/>
<rect x="308.27" y="539.70" width="13.16" height="13.09" fill="#bfd3f6" stroke="none" stroke-width="1.00"/>
<rect x="321.08" y="539.70" width="13.16" height="13.09" fill="#c9d7f0" stroke="none" stroke-width="1.00"/>
<rect x="333.89" y="539.70" width="13.16" height="13.09" fill="#f08a6c" stroke="none" stroke-width="1.00"/>
<rect x="346.69" y="539.70" width="13.16" height="13.09" fill="#b40426" stroke="none" stroke-width="1.00"/>
<rect x="257.05" y="552.44" width="13.16" height="13.09" fill="#84a7fc" stroke="none" stroke-width="1.00"/>
<rect x="269.86" y="552.44" width="13.16" height="13.09" fill="#3b4cc0" stroke="none" stroke-width="1.00"/>
<rect x="282.66" y="552.44" width="13.16" height="13.09" fill="#f2cbb7" stroke="none" stroke-width="1.00"/>
<rect x="295.47" y="552.44" width="13.16" height="13.09" fill="#6180e9" stroke="none" stroke-width="1.00"/>
<rect x="308.27" y="552.44" width="13.16" height="13.09" fill="#6384eb" stroke="none" stroke-width="1.00"/>
<rect x="321.08" y="552.44" width="13.16" height="13.09" fill="#7396f5" stroke="none" stroke-width="1.00"/>
<rect x="333.89" y="552.44" width="13.16" height="13.09" fill="#ead4c8" stroke="none" stroke-width="1.00"/>
<rect x="346.69" y="552.44" width="13.16" height="13.09" fill="#f4987a" stroke="none" stroke-width="1.00"/>
<rect x="257.05" y="565.18" width="13.16" height="13.09" fill="#ee8468" stroke="none" stroke-width="1.00"/>
<rect x="269.86" y="565.18" width="13.16" height="13.09" fill="#f2cbb7" stroke="none" stroke-width="1.00"/>
<rect x="282.66" y="565.18" width="13.16" height="13.09" fill="#3b4cc0" stroke="none" stroke-width="1.00"/>
<rect x="295.47" y="565.18" width="13.16" height="13.09" fill="#f2cab5" stroke="none" stroke-width="1.00"/>
<rect x="308.27" y="565.18" width="13.16" height="13.09" fill="#d5dbe5" stroke="none" stroke-width="1.00"/>
<rect x="321.08" y="565.18" width="13.16" height="13.09" fill="#cbd8ee" stroke="none" stroke-width="1.00"/>
<rect x="333.89" y="565.18" width="13.16" height="13.09" fill="#aac7fd" stroke="none" stroke-width="1.00"/>
<rect x="346.69" y="565.18" width="13.16" height="13.09" fill="#dddcdc" stroke="none" stroke-width="1.00"/>
<rect x="257.05" y="577.91" width="13.16" height="13.09" fill="#86a9fc" stroke="none" stroke-width="1.00"/>
<rect x="269.86" y="577.91" width="13.16" height="13.09" fill="#6180e9" stroke="none" stroke-width="1.00"/>
<rect x="282.66" y="577.91" width="13.16" height="13.09" fill="#f2cab5" stroke="none" stroke-width="1.00"/>
<rect x="295.47" y="577.91" width="13.16" height="13.09" fill="#3b4cc0" stroke="none" stroke-width="1.00"/>
<rect x="308.27" y="577.91" width="13.16" height="13.09" fill="#7396f5" stroke="none" stroke-width="1.00"/>
<rect x="321.08" y="577.91" width="13.16" height="13.09" fill="#7396f5" stroke="none" stroke-width="1.00"/>
<rect x="333.89" y="577.91" width="13.16" height="13.09" fill="#f2c9b4" stroke="none" stroke-width="1.00"/>
<rect x="346.69" y="577.91" width="13.16" height="13.09" fill="#e8765c" stroke="none" stroke-width="1.00"/>
<rect x="257.05" y="590.65" width="13.16" height="13.09" fill="#c5d6f2" stroke="none" stroke-width="1.00"/>
<rect x="269.86" y="590.65" width="13.16" height="13.09" fill="#6384eb" stroke="none" stroke-width="1.00"/>
<rect x="282.66" y="590.65" width="13.16" height="13.09" fill="#d5dbe5" stroke="none" stroke-width="1.00"/>
<rect x="295.47" y="590.65" width="13.16" height="13.09" fill="#7396f5" stroke="none" stroke-width="1.00"/>
<rect x="308.27" y="590.65" width="13.16" height="13.09" fill="#3b4cc0" stroke="none" stroke-width="1.00"/>
<rect x="321.08" y="590.65" width="13.16" height="13.09" fill="#5572df" stroke="none" stroke-width="1.00"/>
<rect x="333.89" y="590.65" width="13.16" height="13.09" fill="#cad8ef" stroke="none" stroke-width="1.00"/>
<rect x="346.69" y="590.65" width="13.16" height="13.09" fill="#f5c0a7" stroke="none" stroke-width="1.00"/>
<rect x="257.05" y="603.39" width="13.16" height="13.09" fill="#cbd8ee" stroke="none" stroke-width="1.00"/>
<rect x="269.86" y="603.39" width="13.16" height="13.09" fill="#7396f5" stroke="none" stroke-width="1.00"/>
<rect x="282.66" y="603.39" width="13.16" height="13.09" fill="#cbd8ee" stroke="none" stroke-width="1.00"/>
<rect x="295.47" y="603.39" width="13.16" height="13.09" fill="#7396f5" stroke="none" stroke-width="1.00"/>
<rect x="308.27" y="603.39" width="13.16" height="13.09" fill="#5572df" stroke="none" stroke-width="1.00"/>
<rect x="321.08" y="603.39" width="13.16" height="13.09" fill="#3b4cc0" stroke="none" stroke-width="1.00"/>
<rect x="333.89" y="603.39" width="13.16" height="13.09" fill="#cad8ef" stroke="none" stroke-width="1.00"/>
<rect x="346.69" y="603.39" width="13.16" height="13.09" fill="#f5c0a7" stroke="none" stroke-width="1.00"/>
<rect x="257.05" y="616.12" width="13.16" height="13.09" fill="#f08a6c" stroke="none" stroke-width="1.00"/>
<rect x="269.86" y="616.12" width="13.16" height="13.09" fill="#e6d7cf" stroke="none" stroke-width="1.00"/>
<rect x="282.66" y="616.12" width="13.16" height="13.09" fill="#aac7fd" stroke="none" stroke-width="1.00"/>
<rect x="295.47" y="616.12" width="13.16" height="13.09" fill="#f2c9b4" stroke="none" stroke-width="1.00"/>
<rect x="308.27" y="616.12" width="13.16" height="13.09" fill="#cad8ef" stroke="none" stroke-width="1.00"/>
<rect x="321.08" y="616.12" width="13.16" height="13.09" fill="#cad8ef" stroke="none" stroke-width="1.00"/>
<rect x="333.89" y="616.12" width="13.16" height="13.09" fill="#3b4cc0" stroke="none" stroke-width="1.00"/>
<rect x="346.69" y="616.12" width="13.16" height="13.09" fill="#86a9fc" stroke="none" stroke-width="1.00"/>
<rect x="257.05" y="628.86" width="13.16" height="13.09" fill="#b40426" stroke="none" stroke-width="1.00"/>
<rect x="269.86" y="628.86" width="13.16" height="13.09" fill="#f4987a" stroke="none" stroke-width="1.00"/>
<rect x="282.66" y="628.86" width="13.16" height="13.09" fill="#dddcdc" stroke="none" stroke-width="1.00"/>
<rect x="295.47" y="628.86" width="13.16" height="13.09" fill="#e8765c" stroke="none" stroke-width="1.00"/>
<rect x="308.27" y="628.86" width="13.16" height="13.09" fill="#f5c0a7" stroke="none" stroke-width="1.00"/>
<rect x="321.08" y="628.86" width="13.16" height="13.09" fill="#f5c0a7" stroke="none" stroke-width="1.00"/>
<rect x="333.89" y="628.86" width="13.16" height="13.09" fill="#86a9fc" stroke="none" stroke-width="1.00"/>
<rect x="346.69" y="628.86" width="13.16" height="13.09" fill="#3b4cc0" stroke="none" stroke-width="1.00"/>
<rect x="257.05" y="539.70" width="102.45" height="101.90" fill="none" stroke="#333" stroke-width="0.50"/>
<line x1="255.25" y1="546.07" x2="257.05" y2="546.07" stroke="#666" stroke-width="0.60"/>
<text x="254.05" y="548.84" font-size="7.75" text-anchor="end" fill="#1a1a1a" textLength="14.53" lengthAdjust="spacingAndGlyphs">LOP</text>
<line x1="263.45" y1="537.90" x2="263.45" y2="539.70" stroke="#666" stroke-width="0.60"/>
<text x="264.45" y="533.80" font-size="7.75" text-anchor="end" fill="#1a1a1a" textLength="14.53" lengthAdjust="spacingAndGlyphs" transform="rotate(45 264.45 533.80)">LOP</text>
<line x1="255.25" y1="558.81" x2="257.05" y2="558.81" stroke="#666" stroke-width="0.60"/>
<text x="254.05" y="561.58" font-size="7.75" text-anchor="end" fill="#1a1a1a" textLength="11.36" lengthAdjust="spacingAndGlyphs">ME</text>
<line x1="276.26" y1="537.90" x2="276.26" y2="539.70" stroke="#666" stroke-width="0.60"/>
<text x="277.26" y="533.80" font-size="7.75" text-anchor="end" fill="#1a1a1a" textLength="11.36" lengthAdjust="spacingAndGlyphs" transform="rotate(45 277.26 533.80)">ME</text>
<line x1="255.25" y1="571.54" x2="257.05" y2="571.54" stroke="#666" stroke-width="0.60"/>
<text x="254.05" y="574.31" font-size="7.75" text-anchor="end" fill="#1a1a1a" textLength="9.95" lengthAdjust="spacingAndGlyphs">LO</text>
<line x1="289.07" y1="537.90" x2="289.07" y2="539.70" stroke="#666" stroke-width="0.60"/>
<text x="290.07" y="533.80" font-size="7.75" text-anchor="end" fill="#1a1a1a" textLength="9.95" lengthAdjust="spacingAndGlyphs" transform="rotate(45 290.07 533.80)">LO</text>
<line x1="255.25" y1="584.28" x2="257.05" y2="584.28" stroke="#666" stroke-width="0.60"/>
<text x="254.05" y="587.05" font-size="7.75" text-anchor="end" fill="#1a1a1a" textLength="18.73" lengthAdjust="spacingAndGlyphs">AVLP</text>
<line x1="301.87" y1="537.90" x2="301.87" y2="539.70" stroke="#666" stroke-width="0.60"/>
<text x="302.87" y="533.80" font-size="7.75" text-anchor="end" fill="#1a1a1a" textLength="18.73" lengthAdjust="spacingAndGlyphs" transform="rotate(45 302.87 533.80)">AVLP</text>
<line x1="255.25" y1="597.02" x2="257.05" y2="597.02" stroke="#666" stroke-width="0.60"/>
<text x="254.05" y="599.79" font-size="7.75" text-anchor="end" fill="#1a1a1a" textLength="18.60" lengthAdjust="spacingAndGlyphs">PVLP</text>
<line x1="314.68" y1="537.90" x2="314.68" y2="539.70" stroke="#666" stroke-width="0.60"/>
<text x="315.68" y="533.80" font-size="7.75" text-anchor="end" fill="#1a1a1a" textLength="18.60" lengthAdjust="spacingAndGlyphs" transform="rotate(45 315.68 533.80)">PVLP</text>
<line x1="255.25" y1="609.76" x2="257.05" y2="609.76" stroke="#666" stroke-width="0.60"/>
<text x="254.05" y="612.53" font-size="7.75" text-anchor="end" fill="#1a1a1a" textLength="21.25" lengthAdjust="spacingAndGlyphs">AOTU</text>
<line x1="327.48" y1="537.90" x2="327.48" y2="539.70" stroke="#666" stroke-width="0.60"/>
<text x="328.48" y="533.80" font-size="7.75" text-anchor="end" fill="#1a1a1a" textLength="21.25" lengthAdjust="spacingAndGlyphs" transform="rotate(45 328.48 533.80)">AOTU</text>
<line x1="255.25" y1="622.49" x2="257.05" y2="622.49" stroke="#666" stroke-width="0.60"/>
<text x="254.05" y="625.26" font-size="7.75" text-anchor="end" fill="#1a1a1a" textLength="13.40" lengthAdjust="spacingAndGlyphs">PLP</text>
<line x1="340.29" y1="537.90" x2="340.29" y2="539.70" stroke="#666" stroke-width="0.60"/>
<text x="341.29" y="533.80" font-size="7.75" text-anchor="end" fill="#1a1a1a" textLength="13.40" lengthAdjust="spacingAndGlyphs" transform="rotate(45 341.29 533.80)">PLP</text>
<line x1="255.25" y1="635.23" x2="257.05" y2="635.23" stroke="#666" stroke-width="0.60"/>
<text x="254.05" y="638.00" font-size="7.75" text-anchor="end" fill="#1a1a1a" textLength="18.17" lengthAdjust="spacingAndGlyphs">WED</text>
<line x1="353.10" y1="537.90" x2="353.10" y2="539.70" stroke="#666" stroke-width="0.60"/>
<text x="354.10" y="533.80" font-size="7.75" text-anchor="end" fill="#1a1a1a" textLength="18.17" lengthAdjust="spacingAndGlyphs" transform="rotate(45 354.10 533.80)">WED</text>
<path d="M364.80 546.67 L373.00 546.67 L373.00 572.14 L364.80 572.14" fill="none" stroke="#222" stroke-width="1.25"/>
<line x1="364.80" y1="559.41" x2="373.00" y2="559.41" stroke="#222" stroke-width="1.25"/>
<text x="379.60" y="563.40" font-size="10.60" font-weight="bold" text-anchor="start" fill="#000" textLength="11.50" lengthAdjust="spacingAndGlyphs">OL</text>
<path d="M364.80 584.88 L373.00 584.88 L373.00 635.83 L364.80 635.83" fill="none" stroke="#222" stroke-width="1.25"/>
<line x1="364.80" y1="597.62" x2="373.00" y2="597.62" stroke="#222" stroke-width="1.25"/>
<line x1="364.80" y1="610.36" x2="373.00" y2="610.36" stroke="#222" stroke-width="1.25"/>
<line x1="364.80" y1="623.09" x2="373.00" y2="623.09" stroke="#222" stroke-width="1.25"/>
<text x="379.60" y="614.10" font-size="10.60" font-weight="bold" text-anchor="start" fill="#000" textLength="23.20" lengthAdjust="spacingAndGlyphs">VLNP</text>
<defs><linearGradient id="g257" x1="0" y1="0" x2="1" y2="0"><stop offset="0.000" stop-color="#3b4cc0"/><stop offset="0.017" stop-color="#3f53c6"/><stop offset="0.033" stop-color="#445acc"/><stop offset="0.050" stop-color="#4961d2"/><stop offset="0.067" stop-color="#4f69d9"/><stop offset="0.083" stop-color="#5470de"/><stop offset="0.100" stop-color="#5977e3"/><stop offset="0.117" stop-color="#5e7de7"/><stop offset="0.133" stop-color="#6485ec"/><stop offset="0.150" stop-color="#6a8bef"/><stop offset="0.167" stop-color="#6f92f3"/><stop offset="0.183" stop-color="#7597f6"/><stop offset="0.200" stop-color="#7b9ff9"/><stop offset="0.217" stop-color="#81a4fb"/><stop offset="0.233" stop-color="#86a9fc"/><stop offset="0.250" stop-color="#8db0fe"/><stop offset="0.267" stop-color="#93b5fe"/><stop offset="0.283" stop-color="#98b9ff"/><stop offset="0.300" stop-color="#9ebeff"/><stop offset="0.317" stop-color="#a5c3fe"/><stop offset="0.333" stop-color="#aac7fd"/><stop offset="0.350" stop-color="#afcafc"/><stop offset="0.367" stop-color="#b5cdfa"/><stop offset="0.383" stop-color="#bbd1f8"/><stop offset="0.400" stop-color="#c0d4f5"/><stop offset="0.417" stop-color="#c5d6f2"/><stop offset="0.433" stop-color="#cad8ef"/><stop offset="0.450" stop-color="#cfdaea"/><stop offset="0.467" stop-color="#d4dbe6"/><stop offset="0.483" stop-color="#d8dce2"/><stop offset="0.500" stop-color="#dddcdc"/><stop offset="0.517" stop-color="#e1dad6"/><stop offset="0.533" stop-color="#e5d8d1"/><stop offset="0.550" stop-color="#e9d5cb"/><stop offset="0.567" stop-color="#edd2c3"/><stop offset="0.583" stop-color="#efcebd"/><stop offset="0.600" stop-color="#f2cbb7"/><stop offset="0.617" stop-color="#f3c7b1"/><stop offset="0.633" stop-color="#f5c1a9"/><stop offset="0.650" stop-color="#f6bda2"/><stop offset="0.667" stop-color="#f7b89c"/><stop offset="0.683" stop-color="#f7b396"/><stop offset="0.700" stop-color="#f7ac8e"/><stop offset="0.717" stop-color="#f7a688"/><stop offset="0.733" stop-color="#f5a081"/><stop offset="0.750" stop-color="#f4987a"/><stop offset="0.767" stop-color="#f29274"/><stop offset="0.783" stop-color="#f08b6e"/><stop offset="0.800" stop-color="#ee8468"/><stop offset="0.817" stop-color="#ea7b60"/><stop offset="0.833" stop-color="#e7745b"/><stop offset="0.850" stop-color="#e36c55"/><stop offset="0.867" stop-color="#e0654f"/><stop offset="0.883" stop-color="#da5a49"/><stop offset="0.900" stop-color="#d65244"/><stop offset="0.917" stop-color="#d1493f"/><stop offset="0.933" stop-color="#cc403a"/><stop offset="0.950" stop-color="#c53334"/><stop offset="0.967" stop-color="#c0282f"/><stop offset="0.983" stop-color="#ba162b"/><stop offset="1.000" stop-color="#b40426"/></linearGradient></defs>
<rect x="248.90" y="651.00" width="118.00" height="6.40" fill="url(#g257)" stroke="#333" stroke-width="0.50"/>
<line x1="248.90" y1="657.40" x2="248.90" y2="659.20" stroke="#444" stroke-width="0.60"/>
<text x="248.90" y="666.80" font-size="7.75" text-anchor="middle" fill="#1a1a1a" textLength="12.09" lengthAdjust="spacingAndGlyphs">0.0</text>
<line x1="281.14" y1="657.40" x2="281.14" y2="659.20" stroke="#444" stroke-width="0.60"/>
<text x="281.14" y="666.80" font-size="7.75" text-anchor="middle" fill="#1a1a1a" textLength="12.09" lengthAdjust="spacingAndGlyphs">0.2</text>
<line x1="313.38" y1="657.40" x2="313.38" y2="659.20" stroke="#444" stroke-width="0.60"/>
<text x="313.38" y="666.80" font-size="7.75" text-anchor="middle" fill="#1a1a1a" textLength="12.09" lengthAdjust="spacingAndGlyphs">0.4</text>
<line x1="345.62" y1="657.40" x2="345.62" y2="659.20" stroke="#444" stroke-width="0.60"/>
<text x="345.62" y="666.80" font-size="7.75" text-anchor="middle" fill="#1a1a1a" textLength="12.09" lengthAdjust="spacingAndGlyphs">0.6</text>
<text x="308.20" y="676.30" font-size="7.75" text-anchor="middle" fill="#1a1a1a" textLength="79.30" lengthAdjust="spacingAndGlyphs">Structure distance, <tspan font-style="italic">d</tspan></text>
<path d="M216.00 23.60 C213.00 23.60 210.33 21.57 207.00 20.50 C203.67 19.43 200.33 17.98 196.00 17.20 C191.67 16.42 185.83 15.75 181.00 15.80 C176.17 15.85 171.83 16.50 167.00 17.50 C162.17 18.50 156.33 19.97 152.00 21.80 C147.67 23.63 144.08 26.22 141.00 28.50 C137.92 30.78 135.58 33.08 133.50 35.50 C131.42 37.92 129.67 40.25 128.50 43.00 C127.33 45.75 126.58 48.50 126.50 52.00 C126.42 55.50 126.08 57.67 128.00 64.00 C129.92 70.33 134.33 82.00 138.00 90.00 C141.67 98.00 146.33 106.83 150.00 112.00 C153.67 117.17 156.50 118.83 160.00 121.00 C163.50 123.17 168.67 123.00 171.00 125.00 C173.33 127.00 173.00 130.00 174.00 133.00 C175.00 136.00 175.17 140.42 177.00 143.00 C178.83 145.58 181.50 147.20 185.00 148.50 C188.50 149.80 192.83 150.30 198.00 150.80 C203.17 151.30 210.00 151.50 216.00 151.50 C222.00 151.50 228.83 151.30 234.00 150.80 C239.17 150.30 243.50 149.80 247.00 148.50 C250.50 147.20 253.17 145.58 255.00 143.00 C256.83 140.42 257.00 136.00 258.00 133.00 C259.00 130.00 258.67 127.00 261.00 125.00 C263.33 123.00 268.50 123.17 272.00 121.00 C275.50 118.83 278.33 117.17 282.00 112.00 C285.67 106.83 290.33 98.00 294.00 90.00 C297.67 82.00 302.08 70.33 304.00 64.00 C305.92 57.67 305.58 55.50 305.50 52.00 C305.42 48.50 304.67 45.75 303.50 43.00 C302.33 40.25 300.58 37.92 298.50 35.50 C296.42 33.08 294.08 30.78 291.00 28.50 C287.92 26.22 284.33 23.63 280.00 21.80 C275.67 19.97 269.83 18.50 265.00 17.50 C260.17 16.50 255.83 15.85 251.00 15.80 C246.17 15.75 240.33 16.42 236.00 17.20 C231.67 17.98 228.33 19.43 225.00 20.50 C221.67 21.57 219.00 23.60 216.00 23.60Z" fill="#6e6e6e" stroke="none" stroke-width="0.00"/>
<g fill="none" stroke="#a8a8a8" stroke-width="0.55" opacity="0.75">
<ellipse cx="181.0" cy="52.0" rx="11.0" ry="8.0"/>
<ellipse cx="251.0" cy="52.0" rx="11.0" ry="8.0"/>
<ellipse cx="181.0" cy="52.0" rx="17.0" ry="13.0"/>
<ellipse cx="251.0" cy="52.0" rx="17.0" ry="13.0"/>
<ellipse cx="184.0" cy="58.0" rx="24.0" ry="20.0"/>
<ellipse cx="248.0" cy="58.0" rx="24.0" ry="20.0"/>
<ellipse cx="216.0" cy="122.0" rx="22.0" ry="15.0"/>
<ellipse cx="216.0" cy="126.0" rx="28.0" ry="19.0"/>
<ellipse cx="216.0" cy="131.0" rx="34.0" ry="17.0"/>
<ellipse cx="216.0" cy="138.0" rx="38.0" ry="11.0"/>
<ellipse cx="216.0" cy="100.0" rx="14.0" ry="24.0"/>
<ellipse cx="216.0" cy="100.0" rx="19.0" ry="30.0"/>
<path d="M198 36 Q216 52 234 36 M200 28 Q216 40 232 28 M196 70 Q206 80 200 92 M236 70 Q226 80 232 92 M190 100 Q200 110 194 125 M242 100 Q232 110 238 125 M168 28 Q190 20 210 27 M264 28 Q242 20 222 27 M160 26 Q150 40 158 60 M272 26 Q282 40 274 60 M176 75 Q186 85 178 100 M256 75 Q246 85 254 100 M196 60 L204 66 M236 60 L228 66"/>
</g>
<defs><radialGradient id="hole" cx="0.5" cy="0.5" r="0.5"><stop offset="0" stop-color="#000"/><stop offset="0.45" stop-color="#050505"/><stop offset="0.7" stop-color="#2a2a2a"/><stop offset="1" stop-color="#5a5a5a" stop-opacity="0"/></radialGradient></defs>
<ellipse cx="215.5" cy="98" rx="13" ry="19" fill="url(#hole)"/>
<ellipse cx="215.5" cy="96.5" rx="5.2" ry="10" fill="#000"/>
<path d="M104.60 54.20 C99.48 54.40 93.08 56.30 87.30 59.20 C81.52 62.10 74.72 66.22 69.90 71.60 C65.08 76.98 60.75 84.80 58.40 91.50 C56.05 98.20 55.40 105.47 55.80 111.80 C56.20 118.13 57.68 124.03 60.80 129.50 C63.92 134.97 68.85 140.42 74.50 144.60 C80.15 148.78 88.02 152.43 94.70 154.60 C101.38 156.77 108.55 157.45 114.60 157.60 C120.65 157.75 126.27 157.27 131.00 155.50 C135.73 153.73 141.50 152.92 143.00 147.00 C144.50 141.08 143.00 131.17 140.00 120.00 C137.00 108.83 128.67 90.33 125.00 80.00 C121.33 69.67 121.40 62.30 118.00 58.00 C114.60 53.70 109.72 54.00 104.60 54.20Z" fill="#4f4f4f" stroke="none" stroke-width="0.00"/>
<path d="M314.00 58.00 C310.60 62.30 310.67 69.67 307.00 80.00 C303.33 90.33 295.00 108.83 292.00 120.00 C289.00 131.17 287.50 141.08 289.00 147.00 C290.50 152.92 296.27 153.73 301.00 155.50 C305.73 157.27 311.35 157.75 317.40 157.60 C323.45 157.45 330.62 156.77 337.30 154.60 C343.98 152.43 351.85 148.78 357.50 144.60 C363.15 140.42 368.08 134.97 371.20 129.50 C374.32 124.03 375.80 118.13 376.20 111.80 C376.60 105.47 375.95 98.20 373.60 91.50 C371.25 84.80 366.92 76.98 362.10 71.60 C357.28 66.22 350.48 62.10 344.70 59.20 C338.92 56.30 332.52 54.40 327.40 54.20 C322.28 54.00 317.40 53.70 314.00 58.00Z" fill="#4f4f4f" stroke="none" stroke-width="0.00"/>
<path d="M113.30 57.20 C108.83 56.87 102.78 58.72 97.20 61.00 C91.62 63.28 84.77 66.57 79.80 70.90 C74.83 75.23 70.30 81.42 67.40 87.00 C64.50 92.58 62.82 98.60 62.40 104.40 C61.98 110.20 62.62 116.42 64.90 121.80 C67.18 127.18 71.13 132.37 76.10 136.70 C81.07 141.03 88.28 144.92 94.70 147.80 C101.12 150.68 108.80 153.17 114.60 154.00 C120.40 154.83 125.17 154.25 129.50 152.80 C133.83 151.35 138.18 147.60 140.60 145.30 C143.02 143.00 144.93 143.55 144.00 139.00 C143.07 134.45 138.00 126.50 135.00 118.00 C132.00 109.50 127.83 97.17 126.00 88.00 C124.17 78.83 126.12 68.13 124.00 63.00 C121.88 57.87 117.77 57.53 113.30 57.20Z" fill="#2aa9cc" stroke="none" stroke-width="0.00"/>
<path d="M308.00 63.00 C305.88 68.13 307.83 78.83 306.00 88.00 C304.17 97.17 300.00 109.50 297.00 118.00 C294.00 126.50 288.93 134.45 288.00 139.00 C287.07 143.55 288.98 143.00 291.40 145.30 C293.82 147.60 298.17 151.35 302.50 152.80 C306.83 154.25 311.60 154.83 317.40 154.00 C323.20 153.17 330.88 150.68 337.30 147.80 C343.72 144.92 350.93 141.03 355.90 136.70 C360.87 132.37 364.82 127.18 367.10 121.80 C369.38 116.42 370.02 110.20 369.60 104.40 C369.18 98.60 367.50 92.58 364.60 87.00 C361.70 81.42 357.17 75.23 352.20 70.90 C347.23 66.57 340.38 63.28 334.80 61.00 C329.22 58.72 323.17 56.87 318.70 57.20 C314.23 57.53 310.12 57.87 308.00 63.00Z" fill="#2aa9cc" stroke="none" stroke-width="0.00"/>
<defs><clipPath id="meclipL"><path d="M113.30 57.20 C108.83 56.87 102.78 58.72 97.20 61.00 C91.62 63.28 84.77 66.57 79.80 70.90 C74.83 75.23 70.30 81.42 67.40 87.00 C64.50 92.58 62.82 98.60 62.40 104.40 C61.98 110.20 62.62 116.42 64.90 121.80 C67.18 127.18 71.13 132.37 76.10 136.70 C81.07 141.03 88.28 144.92 94.70 147.80 C101.12 150.68 108.80 153.17 114.60 154.00 C120.40 154.83 125.17 154.25 129.50 152.80 C133.83 151.35 138.18 147.60 140.60 145.30 C143.02 143.00 144.93 143.55 144.00 139.00 C143.07 134.45 138.00 126.50 135.00 118.00 C132.00 109.50 127.83 97.17 126.00 88.00 C124.17 78.83 126.12 68.13 124.00 63.00 C121.88 57.87 117.77 57.53 113.30 57.20Z"/></clipPath><clipPath id="meclipR"><path d="M308.00 63.00 C305.88 68.13 307.83 78.83 306.00 88.00 C304.17 97.17 300.00 109.50 297.00 118.00 C294.00 126.50 288.93 134.45 288.00 139.00 C287.07 143.55 288.98 143.00 291.40 145.30 C293.82 147.60 298.17 151.35 302.50 152.80 C306.83 154.25 311.60 154.83 317.40 154.00 C323.20 153.17 330.88 150.68 337.30 147.80 C343.72 144.92 350.93 141.03 355.90 136.70 C360.87 132.37 364.82 127.18 367.10 121.80 C369.38 116.42 370.02 110.20 369.60 104.40 C369.18 98.60 367.50 92.58 364.60 87.00 C361.70 81.42 357.17 75.23 352.20 70.90 C347.23 66.57 340.38 63.28 334.80 61.00 C329.22 58.72 323.17 56.87 318.70 57.20 C314.23 57.53 310.12 57.87 308.00 63.00Z"/></clipPath></defs>
<g clip-path="url(#meclipL)" fill="none" stroke="#1b8db0" stroke-width="0.5" opacity="0.55"><ellipse cx="118.0" cy="106" rx="18.0" ry="22.0"/><ellipse cx="118.0" cy="106" rx="22.0" ry="26.0"/><ellipse cx="118.0" cy="106" rx="26.0" ry="30.0"/><ellipse cx="118.0" cy="106" rx="30.0" ry="34.0"/><ellipse cx="118.0" cy="106" rx="34.0" ry="38.0"/><ellipse cx="118.0" cy="106" rx="38.0" ry="42.0"/><ellipse cx="118.0" cy="106" rx="42.0" ry="46.0"/><ellipse cx="118.0" cy="106" rx="46.0" ry="50.0"/><ellipse cx="118.0" cy="106" rx="50.0" ry="54.0"/><ellipse cx="118.0" cy="106" rx="54.0" ry="58.0"/></g>
<g clip-path="url(#meclipR)" fill="none" stroke="#1b8db0" stroke-width="0.5" opacity="0.55"><ellipse cx="314.0" cy="106" rx="18.0" ry="22.0"/><ellipse cx="314.0" cy="106" rx="22.0" ry="26.0"/><ellipse cx="314.0" cy="106" rx="26.0" ry="30.0"/><ellipse cx="314.0" cy="106" rx="30.0" ry="34.0"/><ellipse cx="314.0" cy="106" rx="34.0" ry="38.0"/><ellipse cx="314.0" cy="106" rx="38.0" ry="42.0"/><ellipse cx="314.0" cy="106" rx="42.0" ry="46.0"/><ellipse cx="314.0" cy="106" rx="46.0" ry="50.0"/><ellipse cx="314.0" cy="106" rx="50.0" ry="54.0"/><ellipse cx="314.0" cy="106" rx="54.0" ry="58.0"/></g>
<path d="M120.80 61.00 C119.35 60.95 120.58 62.02 118.30 64.70 C116.02 67.38 110.00 72.13 107.10 77.10 C104.20 82.07 101.93 88.72 100.90 94.50 C99.87 100.28 99.65 106.43 100.90 111.80 C102.15 117.17 104.88 123.00 108.40 126.70 C111.92 130.40 117.23 132.12 122.00 134.00 C126.77 135.88 133.50 137.08 137.00 138.00 C140.50 138.92 141.33 140.17 143.00 139.50 C144.67 138.83 147.83 137.58 147.00 134.00 C146.17 130.42 141.17 125.33 138.00 118.00 C134.83 110.67 129.83 98.83 128.00 90.00 C126.17 81.17 128.20 69.83 127.00 65.00 C125.80 60.17 122.25 61.05 120.80 61.00Z" fill="#3aa66c" stroke="none" stroke-width="0.00"/>
<path d="M305.00 65.00 C303.80 69.83 305.83 81.17 304.00 90.00 C302.17 98.83 297.17 110.67 294.00 118.00 C290.83 125.33 285.83 130.42 285.00 134.00 C284.17 137.58 287.33 138.83 289.00 139.50 C290.67 140.17 291.50 138.92 295.00 138.00 C298.50 137.08 305.23 135.88 310.00 134.00 C314.77 132.12 320.08 130.40 323.60 126.70 C327.12 123.00 329.85 117.17 331.10 111.80 C332.35 106.43 332.13 100.28 331.10 94.50 C330.07 88.72 327.80 82.07 324.90 77.10 C322.00 72.13 315.98 67.38 313.70 64.70 C311.42 62.02 312.65 60.95 311.20 61.00 C309.75 61.05 306.20 60.17 305.00 65.00Z" fill="#3aa66c" stroke="none" stroke-width="0.00"/>
<path d="M124.30 65.50 C121.40 68.10 117.05 74.37 114.60 79.60 C112.15 84.83 110.35 91.28 109.60 96.90 C108.85 102.52 108.95 108.98 110.10 113.30 C111.25 117.62 113.27 120.42 116.50 122.80 C119.73 125.18 125.25 126.33 129.50 127.60 C133.75 128.87 138.25 130.20 142.00 130.40 C145.75 130.60 149.25 129.78 152.00 128.80 C154.75 127.82 157.17 127.30 158.50 124.50 C159.83 121.70 161.42 119.42 160.00 112.00 C158.58 104.58 154.67 88.00 150.00 80.00 C145.33 72.00 136.28 66.42 132.00 64.00 C127.72 61.58 127.20 62.90 124.30 65.50Z" fill="#cdd197" stroke="none" stroke-width="0.00"/>
<path d="M300.00 64.00 C295.72 66.42 286.67 72.00 282.00 80.00 C277.33 88.00 273.42 104.58 272.00 112.00 C270.58 119.42 272.17 121.70 273.50 124.50 C274.83 127.30 277.25 127.82 280.00 128.80 C282.75 129.78 286.25 130.60 290.00 130.40 C293.75 130.20 298.25 128.87 302.50 127.60 C306.75 126.33 312.27 125.18 315.50 122.80 C318.73 120.42 320.75 117.62 321.90 113.30 C323.05 108.98 323.15 102.52 322.40 96.90 C321.65 91.28 319.85 84.83 317.40 79.60 C314.95 74.37 310.60 68.10 307.70 65.50 C304.80 62.90 304.28 61.58 300.00 64.00Z" fill="#cdd197" stroke="none" stroke-width="0.00"/>
<path d="M120.50 70.00 C122.00 67.17 124.42 64.50 128.00 63.00 C131.58 61.50 137.00 61.00 142.00 61.00 C147.00 61.00 154.00 60.67 158.00 63.00 C162.00 65.33 164.50 69.67 166.00 75.00 C167.50 80.33 168.00 89.17 167.00 95.00 C166.00 100.83 162.83 106.42 160.00 110.00 C157.17 113.58 153.83 115.83 150.00 116.50 C146.17 117.17 141.00 115.75 137.00 114.00 C133.00 112.25 128.83 109.67 126.00 106.00 C123.17 102.33 121.17 96.33 120.00 92.00 C118.83 87.67 118.92 83.67 119.00 80.00 C119.08 76.33 119.00 72.83 120.50 70.00Z" fill="#c2806a" stroke="none" stroke-width="0.00"/>
<path d="M313.00 80.00 C313.08 83.67 313.17 87.67 312.00 92.00 C310.83 96.33 308.83 102.33 306.00 106.00 C303.17 109.67 299.00 112.25 295.00 114.00 C291.00 115.75 285.83 117.17 282.00 116.50 C278.17 115.83 274.83 113.58 272.00 110.00 C269.17 106.42 266.00 100.83 265.00 95.00 C264.00 89.17 264.50 80.33 266.00 75.00 C267.50 69.67 270.00 65.33 274.00 63.00 C278.00 60.67 285.00 61.00 290.00 61.00 C295.00 61.00 300.42 61.50 304.00 63.00 C307.58 64.50 310.00 67.17 311.50 70.00 C313.00 72.83 312.92 76.33 313.00 80.00Z" fill="#c2806a" stroke="none" stroke-width="0.00"/>
<path d="M161.70 57.20 C163.15 55.90 167.13 60.13 169.20 62.20 C171.27 64.27 172.80 67.22 174.10 69.60 C175.40 71.98 175.33 74.52 177.00 76.50 C178.67 78.48 181.68 80.03 184.10 81.50 C186.52 82.97 190.38 84.00 191.50 85.30 C192.62 86.60 192.45 88.18 190.80 89.30 C189.15 90.42 184.65 91.63 181.60 92.00 C178.55 92.37 175.10 92.75 172.50 91.50 C169.90 90.25 168.00 88.08 166.00 84.50 C164.00 80.92 161.22 74.55 160.50 70.00 C159.78 65.45 160.25 58.50 161.70 57.20Z" fill="#9a33e6" stroke="none" stroke-width="0.00"/>
<path d="M271.50 70.00 C270.78 74.55 268.00 80.92 266.00 84.50 C264.00 88.08 262.10 90.25 259.50 91.50 C256.90 92.75 253.45 92.37 250.40 92.00 C247.35 91.63 242.85 90.42 241.20 89.30 C239.55 88.18 239.38 86.60 240.50 85.30 C241.62 84.00 245.48 82.97 247.90 81.50 C250.32 80.03 253.33 78.48 255.00 76.50 C256.67 74.52 256.60 71.98 257.90 69.60 C259.20 67.22 260.73 64.27 262.80 62.20 C264.87 60.13 268.85 55.90 270.30 57.20 C271.75 58.50 272.22 65.45 271.50 70.00Z" fill="#9a33e6" stroke="none" stroke-width="0.00"/>
<path d="M122.00 69.60 C123.95 66.72 128.27 65.93 132.00 64.70 C135.73 63.47 139.87 62.42 144.40 62.20 C148.93 61.98 155.07 62.17 159.20 63.40 C163.33 64.63 166.72 66.90 169.20 69.60 C171.68 72.30 172.92 76.70 174.10 79.60 C175.28 82.50 176.70 84.52 176.30 87.00 C175.90 89.48 174.55 92.43 171.70 94.50 C168.85 96.57 163.35 98.05 159.20 99.40 C155.05 100.75 150.93 102.47 146.80 102.60 C142.67 102.73 138.12 101.55 134.40 100.20 C130.68 98.85 126.85 97.53 124.50 94.50 C122.15 91.47 120.72 86.15 120.30 82.00 C119.88 77.85 120.05 72.48 122.00 69.60Z" fill="#d27fd2" stroke="none" stroke-width="0.00"/>
<path d="M311.70 82.00 C311.28 86.15 309.85 91.47 307.50 94.50 C305.15 97.53 301.32 98.85 297.60 100.20 C293.88 101.55 289.33 102.73 285.20 102.60 C281.07 102.47 276.95 100.75 272.80 99.40 C268.65 98.05 263.15 96.57 260.30 94.50 C257.45 92.43 256.10 89.48 255.70 87.00 C255.30 84.52 256.72 82.50 257.90 79.60 C259.08 76.70 260.32 72.30 262.80 69.60 C265.28 66.90 268.67 64.63 272.80 63.40 C276.93 62.17 283.07 61.98 287.60 62.20 C292.13 62.42 296.27 63.47 300.00 64.70 C303.73 65.93 308.05 66.72 310.00 69.60 C311.95 72.48 312.12 77.85 311.70 82.00Z" fill="#d27fd2" stroke="none" stroke-width="0.00"/>
<path d="M127.00 63.50 C127.17 62.20 130.50 59.42 134.00 58.20 C137.50 56.98 143.50 56.35 148.00 56.20 C152.50 56.05 157.83 56.33 161.00 57.30 C164.17 58.27 167.50 60.85 167.00 62.00 C166.50 63.15 161.67 63.87 158.00 64.20 C154.33 64.53 149.17 63.70 145.00 64.00 C140.83 64.30 136.00 66.08 133.00 66.00 C130.00 65.92 126.83 64.80 127.00 63.50Z" fill="#c8489e" stroke="none" stroke-width="0.00"/>
<path d="M299.00 66.00 C296.00 66.08 291.17 64.30 287.00 64.00 C282.83 63.70 277.67 64.53 274.00 64.20 C270.33 63.87 265.50 63.15 265.00 62.00 C264.50 60.85 267.83 58.27 271.00 57.30 C274.17 56.33 279.50 56.05 284.00 56.20 C288.50 56.35 294.50 56.98 298.00 58.20 C301.50 59.42 304.83 62.20 305.00 63.50 C305.17 64.80 302.00 65.92 299.00 66.00Z" fill="#c8489e" stroke="none" stroke-width="0.00"/>
<path d="M131.90 42.30 C132.93 39.60 134.42 37.75 136.90 36.10 C139.38 34.45 143.08 33.22 146.80 32.40 C150.52 31.58 155.88 30.78 159.20 31.20 C162.52 31.62 165.03 33.05 166.70 34.90 C168.37 36.75 169.20 39.62 169.20 42.30 C169.20 44.98 167.95 48.93 166.70 51.00 C165.45 53.07 164.60 53.67 161.70 54.70 C158.80 55.73 153.43 56.78 149.30 57.20 C145.17 57.62 140.00 58.02 136.90 57.20 C133.80 56.38 131.53 54.78 130.70 52.30 C129.87 49.82 130.87 45.00 131.90 42.30Z" fill="#e3c51b" stroke="none" stroke-width="0.00"/>
<path d="M301.30 52.30 C300.47 54.78 298.20 56.38 295.10 57.20 C292.00 58.02 286.83 57.62 282.70 57.20 C278.57 56.78 273.20 55.73 270.30 54.70 C267.40 53.67 266.55 53.07 265.30 51.00 C264.05 48.93 262.80 44.98 262.80 42.30 C262.80 39.62 263.63 36.75 265.30 34.90 C266.97 33.05 269.48 31.62 272.80 31.20 C276.12 30.78 281.48 31.58 285.20 32.40 C288.92 33.22 292.62 34.45 295.10 36.10 C297.58 37.75 299.07 39.60 300.10 42.30 C301.13 45.00 302.13 49.82 301.30 52.30Z" fill="#e3c51b" stroke="none" stroke-width="0.00"/>
<path d="M154.30 111.80 C155.12 109.53 158.80 106.88 161.70 104.40 C164.60 101.92 168.38 98.77 171.70 96.90 C175.02 95.03 178.50 93.20 181.60 93.20 C184.70 93.20 187.62 95.45 190.30 96.90 C192.98 98.35 196.25 100.23 197.70 101.90 C199.15 103.57 199.62 105.25 199.00 106.90 C198.38 108.55 196.48 110.35 194.00 111.80 C191.52 113.25 187.00 114.35 184.10 115.60 C181.20 116.85 179.50 118.27 176.60 119.30 C173.70 120.33 170.00 122.02 166.70 121.80 C163.40 121.58 158.87 119.67 156.80 118.00 C154.73 116.33 153.48 114.07 154.30 111.80Z" fill="#68bb4a" stroke="none" stroke-width="0.00"/>
<path d="M275.20 118.00 C273.13 119.67 268.60 121.58 265.30 121.80 C262.00 122.02 258.30 120.33 255.40 119.30 C252.50 118.27 250.80 116.85 247.90 115.60 C245.00 114.35 240.48 113.25 238.00 111.80 C235.52 110.35 233.62 108.55 233.00 106.90 C232.38 105.25 232.85 103.57 234.30 101.90 C235.75 100.23 239.02 98.35 241.70 96.90 C244.38 95.45 247.30 93.20 250.40 93.20 C253.50 93.20 256.98 95.03 260.30 96.90 C263.62 98.77 267.40 101.92 270.30 104.40 C273.20 106.88 276.88 109.53 277.70 111.80 C278.52 114.07 277.27 116.33 275.20 118.00Z" fill="#68bb4a" stroke="none" stroke-width="0.00"/>
<line x1="96.60" y1="14.50" x2="138.50" y2="58.50" stroke="#111" stroke-width="0.90"/>
<circle cx="138.5" cy="58.5" r="0.9" fill="#111"/>
<line x1="136.10" y1="14.50" x2="145.50" y2="41.00" stroke="#111" stroke-width="0.90"/>
<circle cx="145.5" cy="41.0" r="0.9" fill="#111"/>
<line x1="220.20" y1="14.50" x2="244.80" y2="85.50" stroke="#111" stroke-width="0.90"/>
<circle cx="244.8" cy="85.5" r="0.9" fill="#111"/>
<line x1="66.20" y1="170.90" x2="88.40" y2="133.50" stroke="#111" stroke-width="0.90"/>
<circle cx="88.4" cy="133.5" r="0.9" fill="#111"/>
<line x1="117.60" y1="170.20" x2="123.60" y2="128.20" stroke="#111" stroke-width="0.90"/>
<circle cx="123.6" cy="128.2" r="0.9" fill="#111"/>
<line x1="153.30" y1="170.20" x2="140.00" y2="121.90" stroke="#111" stroke-width="0.90"/>
<circle cx="140.0" cy="121.9" r="0.9" fill="#111"/>
<line x1="261.10" y1="170.10" x2="261.10" y2="110.50" stroke="#111" stroke-width="0.90"/>
<circle cx="261.1" cy="110.5" r="0.9" fill="#111"/>
<line x1="304.70" y1="170.10" x2="283.30" y2="108.20" stroke="#111" stroke-width="0.90"/>
<circle cx="283.3" cy="108.2" r="0.9" fill="#111"/>
<text x="85.80" y="9.90" font-size="10.20" font-weight="bold" text-anchor="start" fill="#111" textLength="22.20" lengthAdjust="spacingAndGlyphs">PVLP</text>
<text x="124.40" y="9.90" font-size="10.20" font-weight="bold" text-anchor="start" fill="#111" textLength="25.00" lengthAdjust="spacingAndGlyphs">AOTU</text>
<text x="212.70" y="9.90" font-size="10.20" font-weight="bold" text-anchor="start" fill="#111" textLength="14.90" lengthAdjust="spacingAndGlyphs">PLP</text>
<text x="59.20" y="183.50" font-size="10.20" font-weight="bold" text-anchor="start" fill="#111" textLength="14.00" lengthAdjust="spacingAndGlyphs">ME</text>
<text x="108.90" y="183.50" font-size="10.20" font-weight="bold" text-anchor="start" fill="#111" textLength="17.10" lengthAdjust="spacingAndGlyphs">LOP</text>
<text x="147.90" y="183.50" font-size="10.20" font-weight="bold" text-anchor="start" fill="#111" textLength="10.80" lengthAdjust="spacingAndGlyphs">LO</text>
<text x="251.00" y="183.50" font-size="10.20" font-weight="bold" text-anchor="start" fill="#111" textLength="21.00" lengthAdjust="spacingAndGlyphs">WED</text>
<text x="293.50" y="183.50" font-size="10.20" font-weight="bold" text-anchor="start" fill="#111" textLength="21.80" lengthAdjust="spacingAndGlyphs">AVLP</text>
<path d="M445.90 96.30 Q470.00 112.00 500.90 107.30" fill="none" stroke="#d4d4d4" stroke-width="0.75"/>
<path d="M434.00 148.60 Q475.00 140.00 500.90 107.30" fill="none" stroke="#c4c4c4" stroke-width="0.75"/>
<path d="M434.00 148.60 Q505.00 142.00 558.10 89.40" fill="none" stroke="#c4c4c4" stroke-width="0.75"/>
<path d="M434.00 148.60 Q530.00 150.00 616.60 88.90" fill="none" stroke="#c4c4c4" stroke-width="0.70"/>
<path d="M500.90 107.30 Q535.00 75.00 552.80 22.20" fill="none" stroke="#c4c4c4" stroke-width="0.75"/>
<path d="M500.90 107.30 Q560.00 128.00 616.60 88.90" fill="none" stroke="#c4c4c4" stroke-width="0.75"/>
<path d="M552.80 22.20 Q562.00 55.00 558.10 89.40" fill="none" stroke="#c4c4c4" stroke-width="0.75"/>
<path d="M552.80 22.20 Q600.00 35.00 616.60 88.90" fill="none" stroke="#c4c4c4" stroke-width="0.75"/>
<path d="M552.80 22.20 Q590.00 70.00 573.50 145.30" fill="none" stroke="#c4c4c4" stroke-width="0.75"/>
<path d="M500.90 107.30 Q530.00 112.00 558.10 89.40" fill="none" stroke="#8a8a8a" stroke-width="0.90"/>
<path d="M434.00 148.60 Q500.00 190.00 573.50 145.30" fill="none" stroke="#6a6a6a" stroke-width="1.10"/>
<path d="M500.90 107.30 Q525.00 135.00 573.50 145.30" fill="none" stroke="#707070" stroke-width="1.00"/>
<path d="M616.60 88.90 Q600.00 120.00 573.50 145.30" fill="none" stroke="#676767" stroke-width="1.40"/>
<path d="M616.60 88.90 Q648.00 140.00 613.50 196.00" fill="none" stroke="#6a6a6a" stroke-width="1.20"/>
<path d="M558.10 89.40 Q612.00 120.00 613.50 196.00" fill="none" stroke="#5a5a5a" stroke-width="1.40"/>
<path d="M558.10 89.40 Q587.00 107.00 616.60 88.90" fill="none" stroke="#505050" stroke-width="4.30"/>
<path d="M558.10 89.40 Q562.00 118.00 573.50 145.30" fill="none" stroke="#555" stroke-width="2.00"/>
<path d="M573.50 145.30 Q600.00 170.00 613.50 196.00" fill="none" stroke="#555" stroke-width="2.40"/>
<circle cx="552.80" cy="22.20" r="15.15" fill="#f5e400" stroke="#000" stroke-width="2.3"/>
<text x="552.80" y="25.10" font-size="10.10" text-anchor="middle" fill="#222" textLength="27.68" lengthAdjust="spacingAndGlyphs">AOTU</text>
<circle cx="445.90" cy="96.30" r="10.85" fill="#0aa00a" stroke="#000" stroke-width="2.3"/>
<text x="445.90" y="99.20" font-size="10.10" text-anchor="middle" fill="#222" textLength="18.93" lengthAdjust="spacingAndGlyphs">LOP</text>
<circle cx="500.90" cy="107.30" r="18.05" fill="#fdf1a6" stroke="#000" stroke-width="2.3"/>
<text x="500.90" y="110.20" font-size="10.10" text-anchor="middle" fill="#222" textLength="12.96" lengthAdjust="spacingAndGlyphs">LO</text>
<circle cx="558.10" cy="89.40" r="20.85" fill="#ff8cf2" stroke="#000" stroke-width="2.3"/>
<text x="558.10" y="92.30" font-size="10.10" text-anchor="middle" fill="#222" textLength="24.23" lengthAdjust="spacingAndGlyphs">PVLP</text>
<circle cx="616.60" cy="88.90" r="20.25" fill="#ffc48d" stroke="#000" stroke-width="2.3"/>
<text x="616.60" y="91.80" font-size="10.10" text-anchor="middle" fill="#222" textLength="24.40" lengthAdjust="spacingAndGlyphs">AVLP</text>
<circle cx="434.00" cy="148.60" r="11.15" fill="#3fdcf7" stroke="#000" stroke-width="2.3"/>
<text x="434.00" y="151.50" font-size="10.10" text-anchor="middle" fill="#222" textLength="14.80" lengthAdjust="spacingAndGlyphs">ME</text>
<circle cx="573.50" cy="145.30" r="27.15" fill="#b47bfa" stroke="#000" stroke-width="2.3"/>
<text x="573.50" y="148.20" font-size="10.10" text-anchor="middle" fill="#222" textLength="17.45" lengthAdjust="spacingAndGlyphs">PLP</text>
<circle cx="613.50" cy="196.00" r="17.05" fill="#8efb7d" stroke="#000" stroke-width="2.3"/>
<text x="613.50" y="198.90" font-size="10.10" text-anchor="middle" fill="#222" textLength="23.67" lengthAdjust="spacingAndGlyphs">WED</text>
<path d="M421.2 217 L421.2 225.4 L525.2 225.4 L525.2 217" fill="none" stroke="#333" stroke-width="1.2"/>
<path d="M532.8 217 L532.8 225.4 L648.4 225.4 L648.4 217" fill="none" stroke="#333" stroke-width="1.2"/>
<text x="468.80" y="239.20" font-size="10.00" font-weight="bold" text-anchor="start" fill="#000" textLength="11.60" lengthAdjust="spacingAndGlyphs">OL</text>
<text x="580.30" y="239.20" font-size="10.00" font-weight="bold" text-anchor="start" fill="#000" textLength="23.30" lengthAdjust="spacingAndGlyphs">VLNP</text>
<path d="M451.3 401.9 523.1 342.6 522.6 256.0 446.5 310.2Z" fill="#f8f8f8"/>
<path d="M523.1 342.6 637.5 375.8 643.4 285.0 522.6 256.0Z" fill="#f1f1f1"/>
<path d="M451.3 401.9 571.8 442.8 637.5 375.8 523.1 342.6Z" fill="#f4f4f4"/>
<path d="M523.1 342.6 523.6 342.7 524.1 342.9 524.6 343.0 525.1 343.1 525.6 343.3 526.1 343.4 526.6 343.6 527.0 343.7 527.5 343.8 528.0 344.0 528.5 344.1 529.0 344.3 529.5 344.4 530.0 344.5 530.5 344.7 531.0 344.8 531.5 344.9 532.0 345.1 532.5 345.2 533.0 345.4 533.5 345.5 534.0 345.6 534.5 345.8 535.0 345.9 535.4 346.0 535.9 346.2 536.4 346.3 536.9 346.4 537.4 346.6 537.9 346.7 538.4 346.9 538.9 347.0 539.4 347.1 539.9 347.3 540.4 347.4 540.9 347.5 541.4 347.7 541.9 347.8 542.4 347.9 542.9 348.1 543.4 348.2 543.9 348.3 544.4 348.5 544.9 348.6 545.4 348.8 545.9 348.9 546.5 349.0 547.0 349.2 547.5 349.3 548.0 349.4 548.5 349.6 549.0 349.7 549.5 349.8 550.0 350.0 550.5 350.1 551.0 350.2 551.5 350.4 552.0 350.5 552.5 350.6 553.0 350.8 553.5 350.9 554.0 351.0 554.5 351.2 555.1 351.3 555.6 351.4 556.1 351.5 556.6 351.7 557.1 351.8 557.6 351.9 558.1 352.0 558.6 352.1 559.1 352.2 559.6 352.3 560.2 352.4 560.7 352.5 561.2 352.5 561.7 352.6 562.2 352.6 562.7 352.6 563.2 352.4 563.8 352.1 564.3 351.6 564.8 351.0 565.4 350.3 565.9 349.7 566.4 349.0 567.0 348.1 567.5 347.2 568.0 346.2 568.6 345.3 569.1 344.3 569.7 343.5 570.2 342.7 570.7 341.9 571.3 341.2 571.8 340.5 572.4 339.9 572.9 339.5 573.4 339.2 574.0 339.0 574.5 338.9 575.0 338.8 575.6 338.7 576.1 338.7 576.6 338.7 577.2 338.8 577.7 338.9 578.2 338.9 578.7 339.0 579.3 339.1 579.8 339.2 580.3 339.3 580.9 339.5 581.4 339.6 581.9 339.8 582.5 340.0 583.0 340.2 583.5 340.4 584.0 340.6 584.6 340.8 585.1 341.1 585.6 341.4 586.2 341.8 586.7 342.4 587.2 343.0 587.7 343.6 588.2 344.3 588.7 345.0 589.2 345.7 589.8 346.4 590.3 347.1 590.8 347.8 591.3 348.4 591.8 349.1 592.3 349.8 592.9 350.5 593.4 351.2 593.9 351.9 594.4 352.5 594.9 353.2 595.4 353.8 596.0 354.3 596.5 354.9 597.0 355.4 597.5 355.9 598.0 356.4 598.6 356.8 599.1 357.3 599.6 357.8 600.1 358.2 600.7 358.6 601.2 359.1 601.7 359.5 602.2 359.9 602.8 360.3 603.3 360.7 603.8 361.1 604.4 361.5 604.9 361.8 605.4 362.2 606.0 362.5 606.5 362.9 607.0 363.2 607.5 363.6 608.1 363.9 608.6 364.2 609.1 364.6 609.7 364.9 610.2 365.2 610.7 365.5 611.3 365.8 611.8 366.2 612.4 366.5 612.9 366.7 613.4 367.0 614.0 367.3 614.5 367.6 615.0 367.8 615.6 368.0 616.1 368.3 616.7 368.5 617.2 368.7 617.8 368.9 618.3 369.1 618.8 369.4 619.4 369.6 619.9 369.8 620.5 370.0 621.0 370.2 621.6 370.4 622.1 370.6 622.7 370.8 623.2 371.0 623.7 371.2 624.3 371.4 624.8 371.6 625.4 371.8 625.9 372.0 626.5 372.2 627.0 372.4 627.6 372.6 628.1 372.8 628.7 373.0 629.2 373.2 629.8 373.4 630.3 373.6 630.9 373.8 631.4 373.9 632.0 374.1 632.5 374.3 633.1 374.5 633.7 374.7 634.2 374.8 634.8 375.0 635.3 375.2 635.9 375.3 636.4 375.5 637.0 375.7 637.5 375.8" fill="none" stroke="#ff7f0e" stroke-width="1.00" stroke-linejoin="round" stroke-linecap="butt"/>
<path d="M523.1 342.6 523.6 342.7 524.1 342.9 524.6 343.0 525.1 343.2 525.6 343.3 526.1 343.4 526.6 343.6 527.0 343.7 527.5 343.9 528.0 344.0 528.5 344.2 529.0 344.3 529.5 344.4 530.0 344.6 530.5 344.7 531.0 344.9 531.5 345.0 532.0 345.2 532.5 345.3 533.0 345.5 533.5 345.6 534.0 345.7 534.5 345.9 535.0 346.0 535.4 346.2 535.9 346.3 536.4 346.5 536.9 346.6 537.4 346.8 537.9 346.9 538.4 347.0 538.9 347.2 539.4 347.3 539.9 347.5 540.4 347.6 540.9 347.8 541.4 347.9 541.9 348.1 542.4 348.2 542.9 348.3 543.4 348.5 543.9 348.6 544.4 348.8 544.9 348.9 545.4 349.1 545.9 349.2 546.4 349.4 547.0 349.5 547.5 349.7 548.0 349.8 548.5 350.0 549.0 350.1 549.5 350.2 550.0 350.4 550.5 350.5 551.0 350.7 551.5 350.8 552.0 350.9 552.5 351.0 553.0 351.1 553.5 351.1 554.0 351.1 554.5 351.1 555.1 351.1 555.6 351.0 556.1 351.0 556.6 350.9 557.1 350.8 557.6 350.7 558.1 350.6 558.6 350.4 559.2 350.3 559.7 350.0 560.2 349.6 560.7 349.2 561.2 348.6 561.8 348.0 562.3 347.3 562.8 346.6 563.4 345.7 563.9 344.9 564.4 344.0 565.0 342.9 565.5 341.5 566.1 340.0 566.6 338.3 567.2 336.5 567.8 334.6 568.3 332.7 568.9 330.8 569.5 328.7 570.0 326.4 570.6 324.1 571.2 322.0 571.8 320.1 572.3 318.7 572.9 317.6 573.4 316.7 574.0 316.0 574.5 315.3 575.1 314.9 575.6 314.8 576.2 315.2 576.7 316.3 577.2 318.0 577.6 320.1 578.1 322.3 578.6 324.4 579.1 326.2 579.6 328.0 580.1 329.8 580.6 331.6 581.0 333.3 581.5 334.9 582.0 336.3 582.5 337.5 583.0 338.7 583.5 339.8 584.0 340.8 584.5 341.8 585.1 342.7 585.6 343.5 586.1 344.4 586.6 345.1 587.1 345.8 587.6 346.5 588.1 347.1 588.6 347.7 589.2 348.3 589.7 348.9 590.2 349.5 590.7 350.0 591.2 350.6 591.8 351.2 592.3 351.9 592.8 352.5 593.3 353.2 593.8 353.9 594.3 354.6 594.8 355.2 595.4 355.9 595.9 356.5 596.4 357.1 596.9 357.7 597.4 358.3 598.0 358.8 598.5 359.3 599.0 359.9 599.5 360.4 600.0 360.9 600.6 361.3 601.1 361.8 601.6 362.2 602.1 362.6 602.7 362.9 603.2 363.3 603.7 363.6 604.3 363.9 604.8 364.2 605.3 364.5 605.9 364.8 606.4 365.1 606.9 365.3 607.5 365.6 608.0 365.9 608.5 366.1 609.1 366.4 609.6 366.6 610.1 366.9 610.7 367.1 611.2 367.3 611.8 367.6 612.3 367.8 612.8 368.0 613.4 368.2 613.9 368.4 614.5 368.5 615.0 368.7 615.5 368.9 616.1 369.1 616.6 369.3 617.2 369.5 617.7 369.6 618.3 369.8 618.8 370.0 619.4 370.2 619.9 370.4 620.4 370.5 621.0 370.7 621.5 370.9 622.1 371.1 622.6 371.3 623.2 371.4 623.7 371.6 624.3 371.8 624.8 372.0 625.4 372.1 625.9 372.3 626.5 372.5 627.0 372.7 627.6 372.8 628.1 373.0 628.7 373.2 629.2 373.3 629.8 373.5 630.3 373.7 630.9 373.9 631.4 374.0 632.0 374.2 632.5 374.4 633.1 374.5 633.7 374.7 634.2 374.9 634.8 375.0 635.3 375.2 635.9 375.4 636.4 375.5 637.0 375.7 637.5 375.8" fill="none" stroke="#2ca02c" stroke-width="1.00" stroke-linejoin="round" stroke-linecap="butt"/>
<path d="M523.1 342.6 523.6 342.7 524.1 342.9 524.6 343.0 525.1 343.2 525.6 343.3 526.1 343.4 526.6 343.6 527.0 343.7 527.5 343.9 528.0 344.0 528.5 344.2 529.0 344.3 529.5 344.4 530.0 344.6 530.5 344.7 531.0 344.9 531.5 345.0 532.0 345.2 532.5 345.3 533.0 345.5 533.5 345.6 534.0 345.7 534.5 345.9 535.0 346.0 535.4 346.2 535.9 346.3 536.4 346.5 536.9 346.6 537.4 346.8 537.9 346.9 538.4 347.0 538.9 347.2 539.4 347.3 539.9 347.5 540.4 347.6 540.9 347.8 541.4 347.9 541.9 348.1 542.4 348.2 542.9 348.3 543.4 348.5 543.9 348.6 544.4 348.8 544.9 348.9 545.4 349.1 545.9 349.2 546.4 349.3 547.0 349.5 547.5 349.6 548.0 349.7 548.5 349.8 549.0 349.9 549.5 350.0 550.0 350.1 550.5 350.2 551.0 350.3 551.5 350.4 552.0 350.4 552.5 350.5 553.0 350.6 553.5 350.6 554.0 350.7 554.5 350.7 555.1 350.8 555.6 350.8 556.1 350.9 556.6 350.9 557.1 350.8 557.6 350.7 558.1 350.6 558.6 350.4 559.2 350.1 559.7 349.9 560.2 349.6 560.7 349.3 561.2 349.0 561.8 348.6 562.3 348.1 562.8 347.6 563.3 347.0 563.9 346.3 564.4 345.5 564.9 344.7 565.5 343.8 566.0 342.9 566.6 341.9 567.1 340.8 567.7 339.5 568.2 338.1 568.8 336.2 569.3 333.9 569.9 331.1 570.5 328.0 571.1 324.7 571.7 321.4 572.3 318.1 573.0 314.8 573.6 311.4 574.2 307.9 574.8 304.7 575.4 301.6 576.0 298.5 576.6 296.0 577.2 294.9 577.8 295.2 578.3 296.2 578.8 297.6 579.3 299.1 579.8 300.7 580.3 302.2 580.8 303.4 581.3 304.6 581.8 305.8 582.3 307.0 582.9 308.0 583.4 308.7 583.9 309.1 584.5 308.7 585.0 307.6 585.6 305.9 586.3 303.9 586.9 302.0 587.5 299.9 588.1 297.4 588.7 295.0 589.4 293.3 589.9 292.7 590.4 293.7 590.9 296.2 591.4 299.8 591.8 303.9 592.2 308.1 592.6 312.3 593.0 316.9 593.3 322.0 593.7 327.4 594.0 332.7 594.4 337.7 594.8 342.0 595.2 345.5 595.6 348.5 596.1 351.3 596.5 353.9 597.0 356.3 597.4 358.3 597.9 359.9 598.4 361.0 598.9 361.8 599.4 362.4 600.0 363.0 600.5 363.5 601.0 364.0 601.5 364.5 602.0 364.9 602.6 365.3 603.1 365.6 603.6 365.9 604.2 366.1 604.7 366.3 605.2 366.5 605.8 366.6 606.3 366.8 606.9 366.9 607.4 367.1 607.9 367.2 608.5 367.4 609.0 367.6 609.5 367.7 610.1 367.9 610.6 368.0 611.2 368.2 611.7 368.3 612.3 368.5 612.8 368.7 613.3 368.8 613.9 369.0 614.4 369.1 615.0 369.3 615.5 369.4 616.1 369.6 616.6 369.8 617.1 369.9 617.7 370.1 618.2 370.2 618.8 370.4 619.3 370.6 619.9 370.7 620.4 370.9 621.0 371.0 621.5 371.2 622.1 371.3 622.6 371.5 623.2 371.7 623.7 371.8 624.3 372.0 624.8 372.1 625.4 372.3 625.9 372.5 626.5 372.6 627.0 372.8 627.6 372.9 628.1 373.1 628.7 373.3 629.2 373.4 629.8 373.6 630.3 373.7 630.9 373.9 631.4 374.1 632.0 374.2 632.5 374.4 633.1 374.6 633.7 374.7 634.2 374.9 634.8 375.0 635.3 375.2 635.9 375.4 636.4 375.5 637.0 375.7 637.5 375.8" fill="none" stroke="#d62728" stroke-width="1.00" stroke-linejoin="round" stroke-linecap="butt"/>
<path d="M523.1 343.2 523.6 343.3 524.1 343.5 524.6 343.6 525.1 343.7 525.6 343.9 526.1 344.0 526.6 344.1 527.0 344.2 527.5 344.4 528.0 344.5 528.5 344.6 529.0 344.8 529.5 344.9 530.0 345.0 530.5 345.1 531.0 345.3 531.5 345.4 532.0 345.5 532.5 345.7 533.0 345.8 533.5 345.9 534.0 346.0 534.5 346.2 535.0 346.3 535.4 346.4 535.9 346.6 536.4 346.7 536.9 346.8 537.4 347.0 537.9 347.1 538.4 347.2 538.9 347.4 539.4 347.5 539.9 347.6 540.4 347.7 540.9 347.9 541.4 348.0 541.9 348.1 542.4 348.2 542.9 348.4 543.4 348.5 543.9 348.6 544.4 348.7 544.9 348.8 545.4 348.9 545.9 349.0 546.4 349.1 547.0 349.2 547.5 349.3 548.0 349.4 548.5 349.5 549.0 349.5 549.5 349.6 550.0 349.7 550.5 349.7 551.0 349.8 551.5 349.8 552.0 349.9 552.5 349.9 553.0 350.0 553.5 350.0 554.0 350.0 554.6 350.1 555.1 350.1 555.6 350.1 556.1 350.1 556.6 350.1 557.1 350.0 557.6 349.9 558.1 349.8 558.7 349.7 559.2 349.6 559.7 349.4 560.2 349.2 560.7 348.9 561.2 348.6 561.8 348.3 562.3 347.9 562.8 347.5 563.3 346.8 563.9 345.8 564.4 344.7 565.0 343.3 565.5 341.7 566.1 340.0 566.6 338.2 567.2 336.3 567.8 334.3 568.3 331.9 568.9 329.2 569.5 326.0 570.1 322.6 570.7 319.1 571.3 315.6 571.9 312.3 572.5 309.3 573.1 306.5 573.8 303.6 574.4 300.7 575.0 297.9 575.6 295.5 576.2 293.7 576.7 292.8 577.3 292.8 577.8 293.6 578.3 294.8 578.8 296.5 579.3 298.3 579.8 300.2 580.3 301.9 580.8 303.6 581.3 305.5 581.8 307.4 582.3 309.4 582.8 311.3 583.3 312.8 583.8 313.8 584.3 314.2 584.9 313.9 585.4 313.0 586.0 311.7 586.6 310.1 587.2 308.6 587.8 307.0 588.4 305.1 589.0 303.0 589.7 300.9 590.3 299.5 590.8 299.1 591.3 300.3 591.8 303.0 592.2 306.7 592.6 311.0 593.0 316.0 593.3 322.3 593.6 329.5 593.9 336.4 594.3 341.7 594.7 345.7 595.1 349.0 595.5 351.7 596.0 354.0 596.4 355.9 596.9 357.6 597.4 359.0 597.9 360.3 598.4 361.4 598.9 362.3 599.4 363.2 599.9 363.9 600.4 364.6 600.9 365.2 601.5 365.6 602.0 365.9 602.5 366.1 603.1 366.4 603.6 366.6 604.1 366.8 604.7 366.9 605.2 367.1 605.7 367.2 606.3 367.4 606.8 367.5 607.4 367.6 607.9 367.7 608.5 367.8 609.0 367.9 609.5 368.0 610.1 368.1 610.6 368.2 611.2 368.3 611.7 368.4 612.3 368.5 612.8 368.7 613.3 368.8 613.9 369.0 614.4 369.1 615.0 369.3 615.5 369.4 616.1 369.6 616.6 369.8 617.1 369.9 617.7 370.1 618.2 370.2 618.8 370.4 619.3 370.6 619.9 370.7 620.4 370.9 621.0 371.0 621.5 371.2 622.1 371.3 622.6 371.5 623.2 371.7 623.7 371.8 624.3 372.0 624.8 372.1 625.4 372.3 625.9 372.5 626.5 372.6 627.0 372.8 627.6 372.9 628.1 373.1 628.7 373.3 629.2 373.4 629.8 373.6 630.3 373.7 630.9 373.9 631.4 374.1 632.0 374.2 632.5 374.4 633.1 374.6 633.7 374.7 634.2 374.9 634.8 375.0 635.3 375.2 635.9 375.4 636.4 375.5 637.0 375.7 637.5 375.8" fill="none" stroke="#1f77b4" stroke-width="1.50" stroke-linejoin="round" stroke-linecap="butt"/>
<path d="M508.4 354.7 508.9 354.9 509.4 355.0 509.9 355.2 510.4 355.3 510.8 355.5 511.3 355.6 511.8 355.8 512.3 355.9 512.8 356.1 513.3 356.2 513.8 356.4 514.3 356.5 514.8 356.7 515.3 356.8 515.8 357.0 516.3 357.1 516.8 357.3 517.3 357.4 517.8 357.6 518.3 357.7 518.8 357.9 519.3 358.0 519.8 358.2 520.3 358.3 520.8 358.5 521.3 358.6 521.8 358.8 522.3 358.9 522.8 359.1 523.3 359.2 523.8 359.4 524.4 359.5 524.9 359.7 525.4 359.9 525.9 360.0 526.4 360.2 526.9 360.3 527.4 360.5 527.9 360.6 528.4 360.8 528.9 360.9 529.4 361.0 529.9 361.1 530.4 361.3 530.9 361.4 531.4 361.5 531.9 361.6 532.5 361.7 533.0 361.8 533.5 361.8 534.0 361.9 534.5 362.0 535.0 362.1 535.5 362.2 536.0 362.2 536.5 362.3 537.0 362.3 537.6 362.4 538.1 362.4 538.6 362.5 539.1 362.5 539.6 362.6 540.1 362.6 540.6 362.6 541.2 362.6 541.7 362.6 542.2 362.6 542.7 362.6 543.2 362.5 543.7 362.4 544.3 362.3 544.8 362.1 545.3 362.0 545.8 361.8 546.3 361.5 546.9 361.2 547.4 360.9 547.9 360.5 548.4 360.1 549.0 359.4 549.5 358.4 550.0 357.2 550.6 355.8 551.1 354.3 551.7 352.6 552.2 350.7 552.8 348.8 553.3 346.8 553.9 344.4 554.4 341.6 555.0 338.4 555.6 334.9 556.2 331.4 556.8 327.9 557.3 324.6 557.9 321.5 558.5 318.7 559.1 315.8 559.7 312.8 560.3 309.9 560.9 307.5 561.4 305.7 562.0 304.8 562.6 304.9 563.1 305.6 563.6 306.9 564.1 308.6 564.7 310.4 565.2 312.3 565.7 314.1 566.2 315.8 566.7 317.7 567.2 319.7 567.7 321.7 568.2 323.6 568.8 325.1 569.3 326.2 569.8 326.6 570.4 326.2 571.0 325.3 571.5 324.0 572.1 322.5 572.7 320.9 573.3 319.3 573.9 317.4 574.5 315.2 575.1 313.2 575.7 311.7 576.3 311.4 576.8 312.5 577.3 315.3 577.8 319.1 578.2 323.5 578.6 328.5 579.0 334.9 579.4 342.2 579.7 349.1 580.1 354.5 580.6 358.6 581.0 361.9 581.5 364.7 581.9 367.0 582.4 368.9 582.9 370.6 583.4 372.1 583.9 373.4 584.5 374.5 585.0 375.4 585.5 376.3 586.0 377.1 586.5 377.8 587.1 378.4 587.6 378.5 588.1 378.7 588.7 378.9 589.2 379.0 589.8 379.2 590.3 379.4 590.9 379.5 591.4 379.7 591.9 379.8 592.5 380.0 593.0 380.2 593.6 380.3 594.1 380.5 594.7 380.7 595.2 380.8 595.8 381.0 596.3 381.2 596.9 381.3 597.4 381.5 598.0 381.7 598.5 381.8 599.1 382.0 599.6 382.2 600.2 382.3 600.7 382.5 601.3 382.6 601.8 382.8 602.4 383.0 602.9 383.1 603.5 383.3 604.0 383.5 604.6 383.6 605.1 383.8 605.7 384.0 606.2 384.1 606.8 384.3 607.3 384.5 607.9 384.6 608.4 384.8 609.0 385.0 609.6 385.1 610.1 385.3 610.7 385.5 611.2 385.6 611.8 385.8 612.3 386.0 612.9 386.1 613.4 386.3 614.0 386.5 614.6 386.6 615.1 386.8 615.7 387.0 616.2 387.1 616.8 387.3 617.4 387.5 617.9 387.7 618.5 387.8 619.0 388.0 619.6 388.2 620.2 388.3 620.7 388.5 621.3 388.7 621.9 388.8 622.4 389.0 623.0 389.2 623.6 389.3 624.1 389.5 624.1 389.5 623.6 389.3 623.0 389.2 622.4 389.0 621.9 388.8 621.3 388.7 620.7 388.5 620.2 388.3 619.6 388.2 619.0 388.0 618.5 387.8 617.9 387.7 617.4 387.5 616.8 387.3 616.2 387.1 615.7 387.0 615.1 386.8 614.6 386.6 614.0 386.5 613.4 386.3 612.9 386.1 612.3 386.0 611.8 385.8 611.2 385.6 610.7 385.5 610.1 385.3 609.6 385.1 609.0 385.0 608.4 384.8 607.9 384.6 607.3 384.5 606.8 384.3 606.2 384.1 605.7 384.0 605.1 383.8 604.6 383.6 604.0 383.5 603.5 383.3 602.9 383.1 602.4 383.0 601.8 382.8 601.3 382.6 600.7 382.5 600.2 382.3 599.6 382.2 599.1 382.0 598.5 381.8 598.0 381.7 597.4 381.5 596.9 381.3 596.3 381.2 595.8 381.0 595.2 380.8 594.7 380.7 594.1 380.5 593.6 380.3 593.0 380.2 592.5 380.0 591.9 379.8 591.4 379.7 590.9 379.5 590.3 379.4 589.8 379.2 589.2 379.0 588.7 378.9 588.1 378.7 587.6 378.5 587.1 378.4 586.5 378.2 586.0 378.1 585.4 377.9 584.9 377.7 584.4 377.6 583.8 377.4 583.3 377.2 582.7 377.1 582.2 376.9 581.7 376.8 581.1 376.6 580.6 376.4 580.0 376.3 579.5 376.1 579.0 376.0 578.4 375.8 577.9 375.6 577.4 375.5 576.8 375.3 576.3 375.1 575.8 375.0 575.2 374.8 574.7 374.7 574.2 374.5 573.6 374.3 573.1 374.2 572.6 374.0 572.0 373.9 571.5 373.7 571.0 373.5 570.4 373.4 569.9 373.2 569.4 373.1 568.8 372.9 568.3 372.7 567.8 372.6 567.2 372.4 566.7 372.3 566.2 372.1 565.7 372.0 565.1 371.8 564.6 371.6 564.1 371.5 563.5 371.3 563.0 371.2 562.5 371.0 562.0 370.8 561.4 370.7 560.9 370.5 560.4 370.4 559.9 370.2 559.3 370.1 558.8 369.9 558.3 369.7 557.8 369.6 557.2 369.4 556.7 369.3 556.2 369.1 555.7 369.0 555.1 368.8 554.6 368.6 554.1 368.5 553.6 368.3 553.1 368.2 552.5 368.0 552.0 367.9 551.5 367.7 551.0 367.5 550.5 367.4 549.9 367.2 549.4 367.1 548.9 366.9 548.4 366.8 547.9 366.6 547.3 366.5 546.8 366.3 546.3 366.1 545.8 366.0 545.3 365.8 544.8 365.7 544.2 365.5 543.7 365.4 543.2 365.2 542.7 365.1 542.2 364.9 541.7 364.7 541.1 364.6 540.6 364.4 540.1 364.3 539.6 364.1 539.1 364.0 538.6 363.8 538.1 363.7 537.6 363.5 537.0 363.4 536.5 363.2 536.0 363.1 535.5 362.9 535.0 362.7 534.5 362.6 534.0 362.4 533.5 362.3 533.0 362.1 532.5 362.0 531.9 361.8 531.4 361.7 530.9 361.5 530.4 361.4 529.9 361.2 529.4 361.1 528.9 360.9 528.4 360.8 527.9 360.6 527.4 360.5 526.9 360.3 526.4 360.2 525.9 360.0 525.4 359.9 524.9 359.7 524.4 359.5 523.8 359.4 523.3 359.2 522.8 359.1 522.3 358.9 521.8 358.8 521.3 358.6 520.8 358.5 520.3 358.3 519.8 358.2 519.3 358.0 518.8 357.9 518.3 357.7 517.8 357.6 517.3 357.4 516.8 357.3 516.3 357.1 515.8 357.0 515.3 356.8 514.8 356.7 514.3 356.5 513.8 356.4 513.3 356.2 512.8 356.1 512.3 355.9 511.8 355.8 511.3 355.6 510.8 355.5 510.4 355.3 509.9 355.2 509.4 355.0 508.9 354.9 508.4 354.7Z" fill="#1f77b4" fill-opacity="0.60" stroke="none"/>
<path d="M508.4 354.7 508.9 354.9 509.4 355.0 509.9 355.2 510.4 355.3 510.8 355.5 511.3 355.6 511.8 355.8 512.3 355.9 512.8 356.1 513.3 356.2 513.8 356.4 514.3 356.5 514.8 356.7 515.3 356.8 515.8 357.0 516.3 357.1 516.8 357.3 517.3 357.4 517.8 357.6 518.3 357.7 518.8 357.9 519.3 358.0 519.8 358.2 520.3 358.3 520.8 358.5 521.3 358.6 521.8 358.8 522.3 358.9 522.8 359.1 523.3 359.2 523.8 359.4 524.4 359.5 524.9 359.7 525.4 359.9 525.9 360.0 526.4 360.2 526.9 360.3 527.4 360.5 527.9 360.6 528.4 360.8 528.9 360.9 529.4 361.1 529.9 361.2 530.4 361.4 530.9 361.5 531.4 361.7 531.9 361.8 532.5 362.0 533.0 362.1 533.5 362.3 534.0 362.4 534.5 362.6 535.0 362.7 535.5 362.9 536.0 363.1 536.5 363.2 537.0 363.4 537.6 363.5 538.1 363.7 538.6 363.8 539.1 364.0 539.6 364.1 540.1 364.3 540.6 364.4 541.1 364.6 541.7 364.7 542.2 364.9 542.7 365.1 543.2 365.2 543.7 365.4 544.2 365.5 544.8 365.7 545.3 365.8 545.8 366.0 546.3 366.1 546.8 366.3 547.3 366.5 547.9 366.6 548.4 366.8 548.9 366.9 549.4 367.1 549.9 367.2 550.5 367.4 551.0 367.5 551.5 367.7 552.0 367.9 552.5 368.0 553.1 368.2 553.6 368.3 554.1 368.5 554.6 368.6 555.1 368.8 555.7 369.0 556.2 369.1 556.7 369.3 557.2 369.4 557.8 369.6 558.3 369.7 558.8 369.9 559.3 370.1 559.9 370.2 560.4 370.4 560.9 370.5 561.4 370.7 562.0 370.8 562.5 371.0 563.0 371.2 563.5 371.3 564.1 371.5 564.6 371.6 565.1 371.8 565.7 372.0 566.2 372.1 566.7 372.3 567.2 372.4 567.8 372.6 568.3 372.7 568.8 372.9 569.4 373.1 569.9 373.2 570.4 373.4 571.0 373.5 571.5 373.7 572.0 373.9 572.6 374.0 573.1 374.2 573.6 374.3 574.2 374.5 574.7 374.7 575.2 374.8 575.8 375.0 576.3 375.1 576.8 375.3 577.4 375.5 577.9 375.6 578.4 375.8 579.0 376.0 579.5 376.1 580.0 376.3 580.6 376.4 581.1 376.6 581.7 376.8 582.2 376.9 582.7 377.1 583.3 377.2 583.8 377.4 584.4 377.6 584.9 377.7 585.4 377.9 586.0 378.1 586.5 378.2 587.1 378.4 587.6 378.5 588.1 378.7 588.7 378.9 589.2 379.0 589.8 379.2 590.3 379.4 590.9 379.5 591.4 379.7 591.9 379.8 592.5 380.0 593.0 380.2 593.6 380.3 594.1 380.5 594.7 380.7 595.2 380.8 595.8 381.0 596.3 381.2 596.9 381.3 597.4 381.5 598.0 381.7 598.5 381.8 599.1 382.0 599.6 382.2 600.2 382.3 600.7 382.5 601.3 382.6 601.8 382.8 602.4 383.0 602.9 383.1 603.5 383.3 604.0 383.5 604.6 383.6 605.1 383.8 605.7 384.0 606.2 384.1 606.8 384.3 607.3 384.5 607.9 384.6 608.4 384.8 609.0 385.0 609.6 385.1 610.1 385.3 610.7 385.5 611.2 385.6 611.8 385.8 612.3 386.0 612.9 386.1 613.4 386.3 614.0 386.5 614.6 386.6 615.1 386.8 615.7 387.0 616.2 387.1 616.8 387.3 617.4 387.5 617.9 387.7 618.5 387.8 619.0 388.0 619.6 388.2 620.2 388.3 620.7 388.5 621.3 388.7 621.9 388.8 622.4 389.0 623.0 389.2 623.6 389.3 624.1 389.5" fill="none" stroke="#1f77b4" stroke-width="0.60" stroke-opacity="0.16"/>
<path d="M494.1 366.5 494.6 366.7 495.1 366.8 495.6 367.0 496.1 367.1 496.6 367.3 497.1 367.4 497.6 367.6 498.1 367.7 498.6 367.9 499.1 368.1 499.6 368.2 500.1 368.4 500.6 368.5 501.1 368.7 501.6 368.8 502.1 369.0 502.7 369.1 503.2 369.3 503.7 369.5 504.2 369.6 504.7 369.8 505.2 369.9 505.7 370.1 506.2 370.2 506.7 370.4 507.2 370.6 507.7 370.7 508.2 370.9 508.7 371.0 509.2 371.2 509.7 371.3 510.3 371.5 510.8 371.7 511.3 371.8 511.8 372.0 512.3 372.1 512.8 372.3 513.3 372.5 513.8 372.6 514.3 372.8 514.8 372.9 515.4 373.1 515.9 373.2 516.4 373.4 516.9 373.6 517.4 373.7 517.9 373.8 518.4 374.0 518.9 374.1 519.5 374.2 520.0 374.4 520.5 374.5 521.0 374.6 521.5 374.7 522.0 374.8 522.6 374.9 523.1 375.0 523.6 375.1 524.1 375.2 524.6 375.2 525.1 375.3 525.7 375.4 526.2 375.4 526.7 375.5 527.2 375.6 527.7 375.6 528.3 375.6 528.8 375.6 529.3 375.5 529.8 375.3 530.3 375.1 530.9 374.9 531.4 374.7 531.9 374.4 532.4 374.1 532.9 373.7 533.5 373.4 534.0 372.9 534.5 372.4 535.0 371.8 535.6 371.0 536.1 370.3 536.6 369.4 537.2 368.6 537.7 367.6 538.2 366.6 538.8 365.5 539.3 364.2 539.8 362.7 540.4 360.8 540.9 358.4 541.5 355.6 542.0 352.4 542.6 349.1 543.1 345.7 543.7 342.4 544.3 339.0 544.8 335.5 545.4 332.0 546.0 328.7 546.5 325.5 547.1 322.3 547.7 319.8 548.3 318.7 548.8 319.0 549.4 320.0 549.9 321.4 550.4 323.0 551.0 324.7 551.5 326.2 552.1 327.4 552.6 328.7 553.1 329.9 553.7 331.1 554.2 332.1 554.8 332.9 555.3 333.3 555.9 333.0 556.5 331.8 557.0 330.1 557.6 328.1 558.2 326.1 558.8 323.9 559.4 321.4 560.0 319.0 560.6 317.2 561.2 316.6 561.7 317.7 562.2 320.2 562.7 323.9 563.2 328.1 563.7 332.4 564.2 336.7 564.7 341.5 565.1 346.8 565.6 352.3 566.0 357.7 566.5 362.8 567.0 367.2 567.4 370.9 567.9 373.9 568.4 376.8 568.9 379.5 569.4 381.9 569.9 384.0 570.4 385.6 571.0 386.8 571.5 387.6 572.0 388.2 572.6 388.8 573.1 389.4 573.6 389.9 574.2 390.4 574.7 390.9 575.3 391.3 575.8 391.6 576.4 391.9 576.9 392.1 577.5 392.3 578.0 392.5 578.6 392.7 579.1 392.8 579.7 393.0 580.2 393.2 580.8 393.4 581.3 393.5 581.9 393.7 582.4 393.9 583.0 394.0 583.5 394.2 584.1 394.4 584.6 394.6 585.2 394.7 585.7 394.9 586.3 395.1 586.9 395.2 587.4 395.4 588.0 395.6 588.5 395.8 589.1 395.9 589.6 396.1 590.2 396.3 590.8 396.5 591.3 396.6 591.9 396.8 592.4 397.0 593.0 397.1 593.6 397.3 594.1 397.5 594.7 397.7 595.2 397.8 595.8 398.0 596.4 398.2 596.9 398.4 597.5 398.5 598.1 398.7 598.6 398.9 599.2 399.1 599.7 399.2 600.3 399.4 600.9 399.6 601.4 399.8 602.0 399.9 602.6 400.1 603.1 400.3 603.7 400.5 604.3 400.6 604.8 400.8 605.4 401.0 606.0 401.2 606.5 401.3 607.1 401.5 607.7 401.7 608.2 401.9 608.8 402.0 609.4 402.2 610.0 402.4 610.5 402.6 611.1 402.8 611.1 402.8 610.5 402.6 610.0 402.4 609.4 402.2 608.8 402.0 608.2 401.9 607.7 401.7 607.1 401.5 606.5 401.3 606.0 401.2 605.4 401.0 604.8 400.8 604.3 400.6 603.7 400.5 603.1 400.3 602.6 400.1 602.0 399.9 601.4 399.8 600.9 399.6 600.3 399.4 599.7 399.2 599.2 399.1 598.6 398.9 598.1 398.7 597.5 398.5 596.9 398.4 596.4 398.2 595.8 398.0 595.2 397.8 594.7 397.7 594.1 397.5 593.6 397.3 593.0 397.1 592.4 397.0 591.9 396.8 591.3 396.6 590.8 396.5 590.2 396.3 589.6 396.1 589.1 395.9 588.5 395.8 588.0 395.6 587.4 395.4 586.9 395.2 586.3 395.1 585.7 394.9 585.2 394.7 584.6 394.6 584.1 394.4 583.5 394.2 583.0 394.0 582.4 393.9 581.9 393.7 581.3 393.5 580.8 393.4 580.2 393.2 579.7 393.0 579.1 392.8 578.6 392.7 578.0 392.5 577.5 392.3 576.9 392.2 576.4 392.0 575.8 391.8 575.3 391.6 574.7 391.5 574.2 391.3 573.6 391.1 573.1 391.0 572.5 390.8 572.0 390.6 571.4 390.5 570.9 390.3 570.3 390.1 569.8 390.0 569.2 389.8 568.7 389.6 568.2 389.4 567.6 389.3 567.1 389.1 566.5 388.9 566.0 388.8 565.4 388.6 564.9 388.4 564.4 388.3 563.8 388.1 563.3 387.9 562.7 387.8 562.2 387.6 561.6 387.4 561.1 387.3 560.6 387.1 560.0 386.9 559.5 386.8 558.9 386.6 558.4 386.4 557.9 386.3 557.3 386.1 556.8 385.9 556.3 385.8 555.7 385.6 555.2 385.4 554.6 385.3 554.1 385.1 553.6 384.9 553.0 384.8 552.5 384.6 552.0 384.4 551.4 384.3 550.9 384.1 550.4 383.9 549.8 383.8 549.3 383.6 548.8 383.4 548.2 383.3 547.7 383.1 547.2 382.9 546.6 382.8 546.1 382.6 545.6 382.5 545.1 382.3 544.5 382.1 544.0 382.0 543.5 381.8 542.9 381.6 542.4 381.5 541.9 381.3 541.4 381.1 540.8 381.0 540.3 380.8 539.8 380.6 539.2 380.5 538.7 380.3 538.2 380.2 537.7 380.0 537.1 379.8 536.6 379.7 536.1 379.5 535.6 379.3 535.0 379.2 534.5 379.0 534.0 378.9 533.5 378.7 532.9 378.5 532.4 378.4 531.9 378.2 531.4 378.1 530.9 377.9 530.3 377.7 529.8 377.6 529.3 377.4 528.8 377.2 528.3 377.1 527.7 376.9 527.2 376.8 526.7 376.6 526.2 376.4 525.7 376.3 525.1 376.1 524.6 376.0 524.1 375.8 523.6 375.6 523.1 375.5 522.6 375.3 522.0 375.2 521.5 375.0 521.0 374.8 520.5 374.7 520.0 374.5 519.5 374.4 518.9 374.2 518.4 374.0 517.9 373.9 517.4 373.7 516.9 373.6 516.4 373.4 515.9 373.2 515.4 373.1 514.8 372.9 514.3 372.8 513.8 372.6 513.3 372.5 512.8 372.3 512.3 372.1 511.8 372.0 511.3 371.8 510.8 371.7 510.3 371.5 509.7 371.3 509.2 371.2 508.7 371.0 508.2 370.9 507.7 370.7 507.2 370.6 506.7 370.4 506.2 370.2 505.7 370.1 505.2 369.9 504.7 369.8 504.2 369.6 503.7 369.5 503.2 369.3 502.7 369.1 502.1 369.0 501.6 368.8 501.1 368.7 500.6 368.5 500.1 368.4 499.6 368.2 499.1 368.1 498.6 367.9 498.1 367.7 497.6 367.6 497.1 367.4 496.6 367.3 496.1 367.1 495.6 367.0 495.1 366.8 494.6 366.7 494.1 366.5Z" fill="#d62728" fill-opacity="0.60" stroke="none"/>
<path d="M494.1 366.5 494.6 366.7 495.1 366.8 495.6 367.0 496.1 367.1 496.6 367.3 497.1 367.4 497.6 367.6 498.1 367.7 498.6 367.9 499.1 368.1 499.6 368.2 500.1 368.4 500.6 368.5 501.1 368.7 501.6 368.8 502.1 369.0 502.7 369.1 503.2 369.3 503.7 369.5 504.2 369.6 504.7 369.8 505.2 369.9 505.7 370.1 506.2 370.2 506.7 370.4 507.2 370.6 507.7 370.7 508.2 370.9 508.7 371.0 509.2 371.2 509.7 371.3 510.3 371.5 510.8 371.7 511.3 371.8 511.8 372.0 512.3 372.1 512.8 372.3 513.3 372.5 513.8 372.6 514.3 372.8 514.8 372.9 515.4 373.1 515.9 373.2 516.4 373.4 516.9 373.6 517.4 373.7 517.9 373.9 518.4 374.0 518.9 374.2 519.5 374.4 520.0 374.5 520.5 374.7 521.0 374.8 521.5 375.0 522.0 375.2 522.6 375.3 523.1 375.5 523.6 375.6 524.1 375.8 524.6 376.0 525.1 376.1 525.7 376.3 526.2 376.4 526.7 376.6 527.2 376.8 527.7 376.9 528.3 377.1 528.8 377.2 529.3 377.4 529.8 377.6 530.3 377.7 530.9 377.9 531.4 378.1 531.9 378.2 532.4 378.4 532.9 378.5 533.5 378.7 534.0 378.9 534.5 379.0 535.0 379.2 535.6 379.3 536.1 379.5 536.6 379.7 537.1 379.8 537.7 380.0 538.2 380.2 538.7 380.3 539.2 380.5 539.8 380.6 540.3 380.8 540.8 381.0 541.4 381.1 541.9 381.3 542.4 381.5 542.9 381.6 543.5 381.8 544.0 382.0 544.5 382.1 545.1 382.3 545.6 382.5 546.1 382.6 546.6 382.8 547.2 382.9 547.7 383.1 548.2 383.3 548.8 383.4 549.3 383.6 549.8 383.8 550.4 383.9 550.9 384.1 551.4 384.3 552.0 384.4 552.5 384.6 553.0 384.8 553.6 384.9 554.1 385.1 554.6 385.3 555.2 385.4 555.7 385.6 556.3 385.8 556.8 385.9 557.3 386.1 557.9 386.3 558.4 386.4 558.9 386.6 559.5 386.8 560.0 386.9 560.6 387.1 561.1 387.3 561.6 387.4 562.2 387.6 562.7 387.8 563.3 387.9 563.8 388.1 564.4 388.3 564.9 388.4 565.4 388.6 566.0 388.8 566.5 388.9 567.1 389.1 567.6 389.3 568.2 389.4 568.7 389.6 569.2 389.8 569.8 390.0 570.3 390.1 570.9 390.3 571.4 390.5 572.0 390.6 572.5 390.8 573.1 391.0 573.6 391.1 574.2 391.3 574.7 391.5 575.3 391.6 575.8 391.8 576.4 392.0 576.9 392.2 577.5 392.3 578.0 392.5 578.6 392.7 579.1 392.8 579.7 393.0 580.2 393.2 580.8 393.4 581.3 393.5 581.9 393.7 582.4 393.9 583.0 394.0 583.5 394.2 584.1 394.4 584.6 394.6 585.2 394.7 585.7 394.9 586.3 395.1 586.9 395.2 587.4 395.4 588.0 395.6 588.5 395.8 589.1 395.9 589.6 396.1 590.2 396.3 590.8 396.5 591.3 396.6 591.9 396.8 592.4 397.0 593.0 397.1 593.6 397.3 594.1 397.5 594.7 397.7 595.2 397.8 595.8 398.0 596.4 398.2 596.9 398.4 597.5 398.5 598.1 398.7 598.6 398.9 599.2 399.1 599.7 399.2 600.3 399.4 600.9 399.6 601.4 399.8 602.0 399.9 602.6 400.1 603.1 400.3 603.7 400.5 604.3 400.6 604.8 400.8 605.4 401.0 606.0 401.2 606.5 401.3 607.1 401.5 607.7 401.7 608.2 401.9 608.8 402.0 609.4 402.2 610.0 402.4 610.5 402.6 611.1 402.8" fill="none" stroke="#d62728" stroke-width="0.60" stroke-opacity="0.16"/>
<path d="M477.9 379.9 478.4 380.1 478.9 380.2 479.4 380.4 479.9 380.5 480.4 380.7 480.9 380.9 481.4 381.0 481.9 381.2 482.4 381.4 482.9 381.5 483.4 381.7 483.9 381.9 484.5 382.0 485.0 382.2 485.5 382.3 486.0 382.5 486.5 382.7 487.0 382.8 487.5 383.0 488.0 383.2 488.5 383.3 489.0 383.5 489.6 383.7 490.1 383.8 490.6 384.0 491.1 384.1 491.6 384.3 492.1 384.5 492.6 384.6 493.1 384.8 493.7 385.0 494.2 385.1 494.7 385.3 495.2 385.5 495.7 385.6 496.2 385.8 496.7 386.0 497.3 386.1 497.8 386.3 498.3 386.5 498.8 386.6 499.3 386.8 499.9 387.0 500.4 387.1 500.9 387.3 501.4 387.5 501.9 387.6 502.4 387.8 503.0 388.0 503.5 388.1 504.0 388.3 504.5 388.5 505.0 388.6 505.6 388.8 506.1 389.0 506.6 389.1 507.1 389.3 507.7 389.4 508.2 389.5 508.7 389.6 509.2 389.6 509.7 389.6 510.3 389.7 510.8 389.6 511.3 389.6 511.8 389.6 512.4 389.5 512.9 389.4 513.4 389.3 513.9 389.2 514.4 389.1 515.0 388.9 515.5 388.7 516.0 388.3 516.5 387.9 517.1 387.3 517.6 386.7 518.1 386.0 518.6 385.2 519.2 384.4 519.7 383.5 520.2 382.6 520.7 381.5 521.2 380.1 521.8 378.5 522.3 376.8 522.8 374.9 523.3 373.0 523.9 371.1 524.4 369.1 524.9 366.9 525.5 364.6 526.0 362.2 526.5 360.0 527.1 358.1 527.6 356.6 528.1 355.5 528.7 354.6 529.2 353.8 529.8 353.2 530.3 352.7 530.9 352.6 531.4 353.1 532.0 354.2 532.6 356.1 533.1 358.2 533.7 360.5 534.2 362.7 534.8 364.6 535.3 366.5 535.9 368.4 536.4 370.3 537.0 372.1 537.5 373.7 538.0 375.1 538.6 376.4 539.1 377.7 539.7 378.8 540.2 379.9 540.8 380.9 541.3 381.9 541.9 382.8 542.4 383.6 543.0 384.4 543.5 385.2 544.1 385.9 544.6 386.6 545.2 387.2 545.7 387.9 546.3 388.5 546.8 389.1 547.3 389.7 547.9 390.3 548.4 391.0 549.0 391.6 549.5 392.3 550.1 393.0 550.6 393.7 551.2 394.5 551.7 395.2 552.3 395.9 552.8 396.5 553.4 397.2 553.9 397.8 554.5 398.4 555.0 399.0 555.6 399.5 556.1 400.1 556.7 400.6 557.2 401.2 557.8 401.7 558.3 402.2 558.9 402.6 559.4 403.0 560.0 403.4 560.5 403.7 561.1 404.1 561.6 404.4 562.2 404.8 562.7 405.1 563.3 405.4 563.9 405.7 564.4 406.0 565.0 406.3 565.5 406.6 566.1 406.9 566.6 407.2 567.2 407.5 567.8 407.7 568.3 408.0 568.9 408.2 569.4 408.5 570.0 408.7 570.6 408.9 571.1 409.2 571.7 409.4 572.3 409.6 572.8 409.8 573.4 410.0 573.9 410.2 574.5 410.4 575.1 410.6 575.6 410.8 576.2 411.0 576.8 411.2 577.3 411.4 577.9 411.6 578.5 411.8 579.0 412.1 579.6 412.3 580.2 412.5 580.7 412.7 581.3 412.9 581.9 413.1 582.4 413.3 583.0 413.5 583.6 413.7 584.2 413.9 584.7 414.1 585.3 414.3 585.9 414.4 586.4 414.6 587.0 414.8 587.6 415.0 588.2 415.2 588.7 415.4 589.3 415.6 589.9 415.8 590.5 416.0 591.0 416.2 591.6 416.4 592.2 416.6 592.8 416.8 593.3 417.0 593.9 417.1 594.5 417.3 595.1 417.5 595.6 417.7 596.2 417.9 596.2 417.9 595.6 417.7 595.1 417.5 594.5 417.3 593.9 417.1 593.3 417.0 592.8 416.8 592.2 416.6 591.6 416.4 591.0 416.2 590.5 416.0 589.9 415.9 589.3 415.7 588.7 415.5 588.2 415.3 587.6 415.1 587.0 414.9 586.4 414.7 585.9 414.6 585.3 414.4 584.7 414.2 584.1 414.0 583.6 413.8 583.0 413.6 582.4 413.5 581.9 413.3 581.3 413.1 580.7 412.9 580.2 412.7 579.6 412.6 579.0 412.4 578.5 412.2 577.9 412.0 577.3 411.8 576.8 411.6 576.2 411.5 575.6 411.3 575.1 411.1 574.5 410.9 573.9 410.7 573.4 410.6 572.8 410.4 572.2 410.2 571.7 410.0 571.1 409.8 570.5 409.6 570.0 409.5 569.4 409.3 568.9 409.1 568.3 408.9 567.7 408.7 567.2 408.6 566.6 408.4 566.1 408.2 565.5 408.0 564.9 407.8 564.4 407.7 563.8 407.5 563.3 407.3 562.7 407.1 562.2 407.0 561.6 406.8 561.0 406.6 560.5 406.4 559.9 406.2 559.4 406.1 558.8 405.9 558.3 405.7 557.7 405.5 557.2 405.4 556.6 405.2 556.0 405.0 555.5 404.8 554.9 404.6 554.4 404.5 553.8 404.3 553.3 404.1 552.7 403.9 552.2 403.8 551.6 403.6 551.1 403.4 550.5 403.2 550.0 403.0 549.4 402.9 548.9 402.7 548.3 402.5 547.8 402.3 547.2 402.2 546.7 402.0 546.1 401.8 545.6 401.6 545.1 401.5 544.5 401.3 544.0 401.1 543.4 400.9 542.9 400.8 542.3 400.6 541.8 400.4 541.2 400.2 540.7 400.1 540.2 399.9 539.6 399.7 539.1 399.5 538.5 399.4 538.0 399.2 537.4 399.0 536.9 398.8 536.4 398.7 535.8 398.5 535.3 398.3 534.7 398.2 534.2 398.0 533.7 397.8 533.1 397.6 532.6 397.5 532.0 397.3 531.5 397.1 531.0 396.9 530.4 396.8 529.9 396.6 529.4 396.4 528.8 396.3 528.3 396.1 527.8 395.9 527.2 395.7 526.7 395.6 526.2 395.4 525.6 395.2 525.1 395.1 524.6 394.9 524.0 394.7 523.5 394.5 523.0 394.4 522.4 394.2 521.9 394.0 521.4 393.9 520.8 393.7 520.3 393.5 519.8 393.3 519.2 393.2 518.7 393.0 518.2 392.8 517.6 392.7 517.1 392.5 516.6 392.3 516.1 392.2 515.5 392.0 515.0 391.8 514.5 391.7 514.0 391.5 513.4 391.3 512.9 391.1 512.4 391.0 511.8 390.8 511.3 390.6 510.8 390.5 510.3 390.3 509.7 390.1 509.2 390.0 508.7 389.8 508.2 389.6 507.7 389.5 507.1 389.3 506.6 389.1 506.1 389.0 505.6 388.8 505.0 388.6 504.5 388.5 504.0 388.3 503.5 388.1 503.0 388.0 502.4 387.8 501.9 387.6 501.4 387.5 500.9 387.3 500.4 387.1 499.9 387.0 499.3 386.8 498.8 386.6 498.3 386.5 497.8 386.3 497.3 386.1 496.7 386.0 496.2 385.8 495.7 385.6 495.2 385.5 494.7 385.3 494.2 385.1 493.7 385.0 493.1 384.8 492.6 384.6 492.1 384.5 491.6 384.3 491.1 384.1 490.6 384.0 490.1 383.8 489.6 383.7 489.0 383.5 488.5 383.3 488.0 383.2 487.5 383.0 487.0 382.8 486.5 382.7 486.0 382.5 485.5 382.3 485.0 382.2 484.5 382.0 483.9 381.9 483.4 381.7 482.9 381.5 482.4 381.4 481.9 381.2 481.4 381.0 480.9 380.9 480.4 380.7 479.9 380.5 479.4 380.4 478.9 380.2 478.4 380.1 477.9 379.9Z" fill="#2ca02c" fill-opacity="0.60" stroke="none"/>
<path d="M477.9 379.9 478.4 380.1 478.9 380.2 479.4 380.4 479.9 380.5 480.4 380.7 480.9 380.9 481.4 381.0 481.9 381.2 482.4 381.4 482.9 381.5 483.4 381.7 483.9 381.9 484.5 382.0 485.0 382.2 485.5 382.3 486.0 382.5 486.5 382.7 487.0 382.8 487.5 383.0 488.0 383.2 488.5 383.3 489.0 383.5 489.6 383.7 490.1 383.8 490.6 384.0 491.1 384.1 491.6 384.3 492.1 384.5 492.6 384.6 493.1 384.8 493.7 385.0 494.2 385.1 494.7 385.3 495.2 385.5 495.7 385.6 496.2 385.8 496.7 386.0 497.3 386.1 497.8 386.3 498.3 386.5 498.8 386.6 499.3 386.8 499.9 387.0 500.4 387.1 500.9 387.3 501.4 387.5 501.9 387.6 502.4 387.8 503.0 388.0 503.5 388.1 504.0 388.3 504.5 388.5 505.0 388.6 505.6 388.8 506.1 389.0 506.6 389.1 507.1 389.3 507.7 389.5 508.2 389.6 508.7 389.8 509.2 390.0 509.7 390.1 510.3 390.3 510.8 390.5 511.3 390.6 511.8 390.8 512.4 391.0 512.9 391.1 513.4 391.3 514.0 391.5 514.5 391.7 515.0 391.8 515.5 392.0 516.1 392.2 516.6 392.3 517.1 392.5 517.6 392.7 518.2 392.8 518.7 393.0 519.2 393.2 519.8 393.3 520.3 393.5 520.8 393.7 521.4 393.9 521.9 394.0 522.4 394.2 523.0 394.4 523.5 394.5 524.0 394.7 524.6 394.9 525.1 395.1 525.6 395.2 526.2 395.4 526.7 395.6 527.2 395.7 527.8 395.9 528.3 396.1 528.8 396.3 529.4 396.4 529.9 396.6 530.4 396.8 531.0 396.9 531.5 397.1 532.0 397.3 532.6 397.5 533.1 397.6 533.7 397.8 534.2 398.0 534.7 398.2 535.3 398.3 535.8 398.5 536.4 398.7 536.9 398.8 537.4 399.0 538.0 399.2 538.5 399.4 539.1 399.5 539.6 399.7 540.2 399.9 540.7 400.1 541.2 400.2 541.8 400.4 542.3 400.6 542.9 400.8 543.4 400.9 544.0 401.1 544.5 401.3 545.1 401.5 545.6 401.6 546.1 401.8 546.7 402.0 547.2 402.2 547.8 402.3 548.3 402.5 548.9 402.7 549.4 402.9 550.0 403.0 550.5 403.2 551.1 403.4 551.6 403.6 552.2 403.8 552.7 403.9 553.3 404.1 553.8 404.3 554.4 404.5 554.9 404.6 555.5 404.8 556.0 405.0 556.6 405.2 557.2 405.4 557.7 405.5 558.3 405.7 558.8 405.9 559.4 406.1 559.9 406.2 560.5 406.4 561.0 406.6 561.6 406.8 562.2 407.0 562.7 407.1 563.3 407.3 563.8 407.5 564.4 407.7 564.9 407.8 565.5 408.0 566.1 408.2 566.6 408.4 567.2 408.6 567.7 408.7 568.3 408.9 568.9 409.1 569.4 409.3 570.0 409.5 570.5 409.6 571.1 409.8 571.7 410.0 572.2 410.2 572.8 410.4 573.4 410.6 573.9 410.7 574.5 410.9 575.1 411.1 575.6 411.3 576.2 411.5 576.8 411.6 577.3 411.8 577.9 412.0 578.5 412.2 579.0 412.4 579.6 412.6 580.2 412.7 580.7 412.9 581.3 413.1 581.9 413.3 582.4 413.5 583.0 413.6 583.6 413.8 584.1 414.0 584.7 414.2 585.3 414.4 585.9 414.6 586.4 414.7 587.0 414.9 587.6 415.1 588.2 415.3 588.7 415.5 589.3 415.7 589.9 415.9 590.5 416.0 591.0 416.2 591.6 416.4 592.2 416.6 592.8 416.8 593.3 417.0 593.9 417.1 594.5 417.3 595.1 417.5 595.6 417.7 596.2 417.9" fill="none" stroke="#2ca02c" stroke-width="0.60" stroke-opacity="0.16"/>
<path d="M462.1 392.9 462.6 393.1 463.1 393.2 463.6 393.4 464.1 393.6 464.7 393.7 465.2 393.9 465.7 394.1 466.2 394.2 466.7 394.4 467.2 394.6 467.7 394.7 468.2 394.9 468.7 395.1 469.3 395.2 469.8 395.4 470.3 395.5 470.8 395.7 471.3 395.9 471.8 396.0 472.3 396.2 472.9 396.4 473.4 396.5 473.9 396.7 474.4 396.9 474.9 397.0 475.4 397.2 476.0 397.3 476.5 397.5 477.0 397.7 477.5 397.8 478.0 398.0 478.6 398.2 479.1 398.3 479.6 398.5 480.1 398.6 480.6 398.8 481.2 399.0 481.7 399.1 482.2 399.3 482.7 399.5 483.2 399.6 483.8 399.8 484.3 400.0 484.8 400.1 485.3 400.3 485.9 400.4 486.4 400.6 486.9 400.8 487.4 400.9 488.0 401.1 488.5 401.3 489.0 401.4 489.5 401.6 490.1 401.8 490.6 401.9 491.1 402.1 491.6 402.2 492.2 402.4 492.7 402.6 493.2 402.7 493.8 402.9 494.3 403.0 494.8 403.2 495.3 403.3 495.9 403.5 496.4 403.6 496.9 403.8 497.5 403.9 498.0 404.1 498.5 404.2 499.1 404.3 499.6 404.5 500.1 404.6 500.7 404.7 501.2 404.8 501.7 404.9 502.3 405.0 502.8 405.0 503.3 405.0 503.8 404.9 504.4 404.5 504.9 404.0 505.4 403.4 505.9 402.8 506.5 402.1 507.0 401.4 507.5 400.5 508.0 399.6 508.6 398.6 509.1 397.6 509.6 396.7 510.1 395.8 510.7 395.0 511.2 394.2 511.7 393.4 512.3 392.7 512.8 392.1 513.3 391.7 513.9 391.4 514.4 391.3 515.0 391.1 515.5 391.1 516.1 391.0 516.6 391.0 517.2 391.1 517.7 391.2 518.3 391.3 518.8 391.4 519.4 391.5 519.9 391.6 520.5 391.7 521.0 391.9 521.6 392.0 522.1 392.2 522.7 392.4 523.2 392.6 523.8 392.9 524.4 393.1 524.9 393.3 525.5 393.6 526.0 393.9 526.6 394.2 527.1 394.7 527.7 395.3 528.3 396.0 528.8 396.7 529.4 397.4 529.9 398.2 530.5 399.0 531.1 399.7 531.6 400.4 532.2 401.1 532.7 401.9 533.3 402.6 533.9 403.3 534.4 404.1 535.0 404.8 535.5 405.6 536.1 406.3 536.7 407.0 537.2 407.6 537.8 408.3 538.3 408.8 538.9 409.4 539.5 409.9 540.0 410.5 540.6 411.0 541.1 411.5 541.7 412.0 542.3 412.5 542.8 413.0 543.4 413.5 543.9 413.9 544.5 414.4 545.1 414.8 545.6 415.3 546.2 415.7 546.7 416.1 547.3 416.5 547.9 416.9 548.4 417.3 549.0 417.7 549.6 418.1 550.1 418.4 550.7 418.8 551.3 419.2 551.8 419.6 552.4 419.9 553.0 420.3 553.5 420.6 554.1 421.0 554.7 421.3 555.2 421.7 555.8 422.0 556.4 422.3 556.9 422.6 557.5 422.9 558.1 423.2 558.6 423.5 559.2 423.7 559.8 424.0 560.3 424.3 560.9 424.5 561.5 424.7 562.1 425.0 562.6 425.2 563.2 425.5 563.8 425.7 564.4 426.0 564.9 426.2 565.5 426.5 566.1 426.7 566.7 426.9 567.2 427.2 567.8 427.4 568.4 427.6 569.0 427.9 569.5 428.1 570.1 428.3 570.7 428.6 571.3 428.8 571.8 429.0 572.4 429.3 573.0 429.5 573.6 429.7 574.2 429.9 574.7 430.1 575.3 430.4 575.9 430.6 576.5 430.8 577.1 431.0 577.7 431.2 578.2 431.4 578.8 431.6 579.4 431.8 580.0 432.0 580.6 432.2 581.2 432.4 581.7 432.6 581.7 432.6 581.2 432.4 580.6 432.2 580.0 432.0 579.4 431.8 578.8 431.6 578.2 431.5 577.7 431.3 577.1 431.1 576.5 430.9 575.9 430.7 575.3 430.5 574.7 430.3 574.2 430.1 573.6 429.9 573.0 429.7 572.4 429.5 571.8 429.3 571.3 429.1 570.7 428.9 570.1 428.8 569.5 428.6 568.9 428.4 568.4 428.2 567.8 428.0 567.2 427.8 566.6 427.6 566.1 427.4 565.5 427.2 564.9 427.0 564.3 426.8 563.8 426.7 563.2 426.5 562.6 426.3 562.0 426.1 561.5 425.9 560.9 425.7 560.3 425.5 559.8 425.3 559.2 425.1 558.6 424.9 558.0 424.8 557.5 424.6 556.9 424.4 556.3 424.2 555.8 424.0 555.2 423.8 554.6 423.6 554.1 423.4 553.5 423.2 552.9 423.1 552.4 422.9 551.8 422.7 551.2 422.5 550.7 422.3 550.1 422.1 549.5 421.9 549.0 421.7 548.4 421.5 547.8 421.4 547.3 421.2 546.7 421.0 546.1 420.8 545.6 420.6 545.0 420.4 544.5 420.2 543.9 420.1 543.3 419.9 542.8 419.7 542.2 419.5 541.7 419.3 541.1 419.1 540.5 418.9 540.0 418.8 539.4 418.6 538.9 418.4 538.3 418.2 537.7 418.0 537.2 417.8 536.6 417.6 536.1 417.5 535.5 417.3 535.0 417.1 534.4 416.9 533.9 416.7 533.3 416.5 532.7 416.4 532.2 416.2 531.6 416.0 531.1 415.8 530.5 415.6 530.0 415.4 529.4 415.3 528.9 415.1 528.3 414.9 527.8 414.7 527.2 414.5 526.7 414.3 526.1 414.2 525.6 414.0 525.0 413.8 524.5 413.6 523.9 413.4 523.4 413.2 522.8 413.1 522.3 412.9 521.7 412.7 521.2 412.5 520.6 412.3 520.1 412.2 519.6 412.0 519.0 411.8 518.5 411.6 517.9 411.4 517.4 411.3 516.8 411.1 516.3 410.9 515.7 410.7 515.2 410.5 514.7 410.3 514.1 410.2 513.6 410.0 513.0 409.8 512.5 409.6 512.0 409.5 511.4 409.3 510.9 409.1 510.3 408.9 509.8 408.7 509.3 408.6 508.7 408.4 508.2 408.2 507.6 408.0 507.1 407.8 506.6 407.7 506.0 407.5 505.5 407.3 505.0 407.1 504.4 406.9 503.9 406.8 503.3 406.6 502.8 406.4 502.3 406.2 501.7 406.1 501.2 405.9 500.7 405.7 500.1 405.5 499.6 405.4 499.1 405.2 498.5 405.0 498.0 404.8 497.5 404.6 496.9 404.5 496.4 404.3 495.9 404.1 495.4 403.9 494.8 403.8 494.3 403.6 493.8 403.4 493.2 403.2 492.7 403.1 492.2 402.9 491.7 402.7 491.1 402.5 490.6 402.4 490.1 402.2 489.5 402.0 489.0 401.8 488.5 401.7 488.0 401.5 487.4 401.3 486.9 401.1 486.4 401.0 485.9 400.8 485.3 400.6 484.8 400.4 484.3 400.3 483.8 400.1 483.3 399.9 482.7 399.8 482.2 399.6 481.7 399.4 481.2 399.2 480.6 399.1 480.1 398.9 479.6 398.7 479.1 398.5 478.6 398.4 478.0 398.2 477.5 398.0 477.0 397.9 476.5 397.7 476.0 397.5 475.5 397.3 474.9 397.2 474.4 397.0 473.9 396.8 473.4 396.6 472.9 396.5 472.4 396.3 471.8 396.1 471.3 396.0 470.8 395.8 470.3 395.6 469.8 395.5 469.3 395.3 468.8 395.1 468.2 394.9 467.7 394.8 467.2 394.6 466.7 394.4 466.2 394.3 465.7 394.1 465.2 393.9 464.7 393.7 464.1 393.6 463.6 393.4 463.1 393.2 462.6 393.1 462.1 392.9Z" fill="#ff7f0e" fill-opacity="0.60" stroke="none"/>
<path d="M462.1 392.9 462.6 393.1 463.1 393.2 463.6 393.4 464.1 393.6 464.7 393.7 465.2 393.9 465.7 394.1 466.2 394.3 466.7 394.4 467.2 394.6 467.7 394.8 468.2 394.9 468.8 395.1 469.3 395.3 469.8 395.5 470.3 395.6 470.8 395.8 471.3 396.0 471.8 396.1 472.4 396.3 472.9 396.5 473.4 396.6 473.9 396.8 474.4 397.0 474.9 397.2 475.5 397.3 476.0 397.5 476.5 397.7 477.0 397.9 477.5 398.0 478.0 398.2 478.6 398.4 479.1 398.5 479.6 398.7 480.1 398.9 480.6 399.1 481.2 399.2 481.7 399.4 482.2 399.6 482.7 399.8 483.3 399.9 483.8 400.1 484.3 400.3 484.8 400.4 485.3 400.6 485.9 400.8 486.4 401.0 486.9 401.1 487.4 401.3 488.0 401.5 488.5 401.7 489.0 401.8 489.5 402.0 490.1 402.2 490.6 402.4 491.1 402.5 491.7 402.7 492.2 402.9 492.7 403.1 493.2 403.2 493.8 403.4 494.3 403.6 494.8 403.8 495.4 403.9 495.9 404.1 496.4 404.3 496.9 404.5 497.5 404.6 498.0 404.8 498.5 405.0 499.1 405.2 499.6 405.4 500.1 405.5 500.7 405.7 501.2 405.9 501.7 406.1 502.3 406.2 502.8 406.4 503.3 406.6 503.9 406.8 504.4 406.9 505.0 407.1 505.5 407.3 506.0 407.5 506.6 407.7 507.1 407.8 507.6 408.0 508.2 408.2 508.7 408.4 509.3 408.6 509.8 408.7 510.3 408.9 510.9 409.1 511.4 409.3 512.0 409.5 512.5 409.6 513.0 409.8 513.6 410.0 514.1 410.2 514.7 410.3 515.2 410.5 515.7 410.7 516.3 410.9 516.8 411.1 517.4 411.3 517.9 411.4 518.5 411.6 519.0 411.8 519.6 412.0 520.1 412.2 520.6 412.3 521.2 412.5 521.7 412.7 522.3 412.9 522.8 413.1 523.4 413.2 523.9 413.4 524.5 413.6 525.0 413.8 525.6 414.0 526.1 414.2 526.7 414.3 527.2 414.5 527.8 414.7 528.3 414.9 528.9 415.1 529.4 415.3 530.0 415.4 530.5 415.6 531.1 415.8 531.6 416.0 532.2 416.2 532.7 416.4 533.3 416.5 533.9 416.7 534.4 416.9 535.0 417.1 535.5 417.3 536.1 417.5 536.6 417.6 537.2 417.8 537.7 418.0 538.3 418.2 538.9 418.4 539.4 418.6 540.0 418.8 540.5 418.9 541.1 419.1 541.7 419.3 542.2 419.5 542.8 419.7 543.3 419.9 543.9 420.1 544.5 420.2 545.0 420.4 545.6 420.6 546.1 420.8 546.7 421.0 547.3 421.2 547.8 421.4 548.4 421.5 549.0 421.7 549.5 421.9 550.1 422.1 550.7 422.3 551.2 422.5 551.8 422.7 552.4 422.9 552.9 423.1 553.5 423.2 554.1 423.4 554.6 423.6 555.2 423.8 555.8 424.0 556.3 424.2 556.9 424.4 557.5 424.6 558.0 424.8 558.6 424.9 559.2 425.1 559.8 425.3 560.3 425.5 560.9 425.7 561.5 425.9 562.0 426.1 562.6 426.3 563.2 426.5 563.8 426.7 564.3 426.8 564.9 427.0 565.5 427.2 566.1 427.4 566.6 427.6 567.2 427.8 567.8 428.0 568.4 428.2 568.9 428.4 569.5 428.6 570.1 428.8 570.7 428.9 571.3 429.1 571.8 429.3 572.4 429.5 573.0 429.7 573.6 429.9 574.2 430.1 574.7 430.3 575.3 430.5 575.9 430.7 576.5 430.9 577.1 431.1 577.7 431.3 578.2 431.5 578.8 431.6 579.4 431.8 580.0 432.0 580.6 432.2 581.2 432.4 581.7 432.6" fill="none" stroke="#ff7f0e" stroke-width="0.60" stroke-opacity="0.16"/>
<line x1="451.40" y1="402.40" x2="571.30" y2="442.80" stroke="#333" stroke-width="0.80"/>
<line x1="571.30" y1="442.80" x2="639.40" y2="374.90" stroke="#333" stroke-width="0.80"/>
<line x1="639.40" y1="374.90" x2="643.50" y2="286.30" stroke="#333" stroke-width="0.80"/>
<line x1="451.25" y1="401.85" x2="450.05" y2="404.45" stroke="#333" stroke-width="0.70"/>
<text x="449.30" y="421.90" font-size="9.08" text-anchor="middle" fill="#1a1a1a" textLength="18.78" lengthAdjust="spacingAndGlyphs">−10</text>
<line x1="479.80" y1="411.55" x2="478.60" y2="414.15" stroke="#333" stroke-width="0.70"/>
<text x="477.50" y="430.50" font-size="9.08" text-anchor="middle" fill="#1a1a1a" textLength="13.12" lengthAdjust="spacingAndGlyphs">−5</text>
<line x1="509.36" y1="421.59" x2="508.16" y2="424.19" stroke="#333" stroke-width="0.70"/>
<text x="506.10" y="440.00" font-size="9.08" text-anchor="middle" fill="#1a1a1a" textLength="5.66" lengthAdjust="spacingAndGlyphs">0</text>
<line x1="540.00" y1="431.99" x2="538.80" y2="434.59" stroke="#333" stroke-width="0.70"/>
<text x="536.00" y="450.80" font-size="9.08" text-anchor="middle" fill="#1a1a1a" textLength="5.66" lengthAdjust="spacingAndGlyphs">5</text>
<line x1="571.76" y1="442.78" x2="570.56" y2="445.38" stroke="#333" stroke-width="0.70"/>
<text x="566.50" y="459.40" font-size="9.08" text-anchor="middle" fill="#1a1a1a" textLength="11.33" lengthAdjust="spacingAndGlyphs">10</text>
<text x="499.00" y="449.20" font-size="9.08" text-anchor="middle" fill="#1a1a1a" textLength="5.65" lengthAdjust="spacingAndGlyphs"><tspan font-style="italic">q</tspan></text>
<line x1="581.75" y1="432.62" x2="584.35" y2="433.22" stroke="#333" stroke-width="0.70"/>
<text x="600.20" y="442.70" font-size="9.08" text-anchor="middle" fill="#1a1a1a" textLength="17.01" lengthAdjust="spacingAndGlyphs">LOP</text>
<line x1="596.22" y1="417.89" x2="598.82" y2="418.49" stroke="#333" stroke-width="0.70"/>
<text x="613.00" y="427.30" font-size="9.08" text-anchor="middle" fill="#1a1a1a" textLength="13.30" lengthAdjust="spacingAndGlyphs">ME</text>
<line x1="611.10" y1="402.75" x2="613.70" y2="403.35" stroke="#333" stroke-width="0.70"/>
<text x="625.90" y="412.20" font-size="9.08" text-anchor="middle" fill="#1a1a1a" textLength="11.65" lengthAdjust="spacingAndGlyphs">LO</text>
<line x1="624.11" y1="389.51" x2="626.71" y2="390.11" stroke="#333" stroke-width="0.70"/>
<text x="638.70" y="398.40" font-size="9.08" text-anchor="middle" fill="#1a1a1a" textLength="11.96" lengthAdjust="spacingAndGlyphs">OL</text>
<line x1="639.40" y1="374.90" x2="641.80" y2="374.90" stroke="#333" stroke-width="0.70"/>
<text x="643.40" y="380.60" font-size="9.08" text-anchor="start" fill="#1a1a1a" textLength="14.15" lengthAdjust="spacingAndGlyphs">0.0</text>
<line x1="640.93" y1="341.80" x2="643.33" y2="341.80" stroke="#333" stroke-width="0.70"/>
<text x="644.93" y="348.00" font-size="9.08" text-anchor="start" fill="#1a1a1a" textLength="14.15" lengthAdjust="spacingAndGlyphs">0.5</text>
<line x1="642.46" y1="308.70" x2="644.86" y2="308.70" stroke="#333" stroke-width="0.70"/>
<text x="646.46" y="314.70" font-size="9.08" text-anchor="start" fill="#1a1a1a" textLength="14.15" lengthAdjust="spacingAndGlyphs">1.0</text>
<text x="670.60" y="329.20" font-size="9.08" text-anchor="middle" fill="#1a1a1a" textLength="18.81" lengthAdjust="spacingAndGlyphs" transform="rotate(-90 670.60 329.20)"><tspan font-style="italic">C</tspan>(<tspan font-style="italic">q</tspan>)</text>
<path d="M450.8 621.6 527.0 558.2 525.0 466.1 444.6 524.0Z" fill="#f8f8f8"/>
<path d="M527.0 558.2 647.5 593.1 651.2 497.9 525.0 466.1Z" fill="#f1f1f1"/>
<path d="M450.8 621.6 578.6 663.2 647.5 593.1 527.0 558.2Z" fill="#f4f4f4"/>
<path d="M527.0 558.2 527.6 558.4 528.1 558.5 528.6 558.7 529.1 558.8 529.7 559.0 530.2 559.1 530.7 559.3 531.2 559.4 531.8 559.6 532.3 559.7 532.8 559.9 533.3 560.0 533.9 560.1 534.4 560.3 534.9 560.4 535.5 560.6 536.0 560.7 536.5 560.9 537.0 561.0 537.6 561.2 538.1 561.3 538.6 561.4 539.2 561.6 539.7 561.7 540.2 561.9 540.7 562.0 541.3 562.2 541.8 562.3 542.3 562.4 542.9 562.6 543.4 562.7 543.9 562.9 544.5 563.0 545.0 563.1 545.5 563.3 546.1 563.4 546.6 563.5 547.1 563.7 547.6 563.8 548.2 564.0 548.7 564.1 549.2 564.2 549.8 564.4 550.3 564.5 550.9 564.7 551.4 564.8 551.9 564.9 552.5 565.0 553.0 565.2 553.5 565.3 554.1 565.4 554.6 565.6 555.1 565.7 555.7 565.8 556.2 565.9 556.7 566.0 557.3 566.1 557.8 566.2 558.4 566.3 558.9 566.5 559.4 566.6 560.0 566.7 560.5 566.8 561.0 566.9 561.6 566.9 562.1 567.0 562.7 567.1 563.2 567.2 563.7 567.3 564.3 567.4 564.8 567.4 565.4 567.5 565.9 567.5 566.4 567.5 567.0 567.5 567.5 567.5 568.1 567.5 568.6 567.4 569.2 567.2 569.7 566.8 570.2 566.1 570.8 565.1 571.3 563.8 571.9 562.4 572.4 560.8 573.0 559.2 573.5 557.3 574.1 554.9 574.6 552.1 575.2 549.1 575.7 546.2 576.3 543.6 576.9 541.6 577.4 540.0 578.0 538.6 578.5 537.4 579.1 536.4 579.7 535.9 580.2 536.0 580.8 536.7 581.3 537.9 581.9 539.6 582.4 541.4 583.0 543.3 583.5 545.1 584.1 546.7 584.6 548.1 585.2 549.6 585.7 551.1 586.3 552.5 586.8 554.0 587.4 555.4 587.9 556.7 588.4 558.1 589.0 559.3 589.5 560.6 590.1 561.7 590.6 562.9 591.2 563.9 591.7 565.0 592.3 566.0 592.8 567.1 593.4 568.1 593.9 569.1 594.5 570.0 595.0 570.8 595.5 571.6 596.1 572.2 596.6 572.8 597.2 573.4 597.7 573.9 598.3 574.5 598.9 575.0 599.4 575.4 600.0 575.8 600.5 576.2 601.1 576.6 601.6 576.9 602.2 577.2 602.7 577.5 603.3 577.8 603.8 578.1 604.4 578.4 605.0 578.7 605.5 579.0 606.1 579.2 606.6 579.5 607.2 579.7 607.7 580.0 608.3 580.2 608.9 580.4 609.4 580.7 610.0 580.9 610.5 581.1 611.1 581.3 611.7 581.5 612.2 581.7 612.8 581.9 613.3 582.1 613.9 582.3 614.5 582.5 615.0 582.7 615.6 582.9 616.2 583.1 616.7 583.3 617.3 583.5 617.8 583.7 618.4 583.8 619.0 584.0 619.5 584.2 620.1 584.4 620.7 584.6 621.2 584.8 621.8 585.0 622.4 585.2 622.9 585.3 623.5 585.5 624.1 585.7 624.6 585.9 625.2 586.1 625.8 586.3 626.3 586.4 626.9 586.6 627.5 586.8 628.0 587.0 628.6 587.2 629.2 587.4 629.7 587.5 630.3 587.7 630.9 587.9 631.4 588.1 632.0 588.3 632.6 588.4 633.1 588.6 633.7 588.8 634.3 589.0 634.9 589.2 635.4 589.4 636.0 589.5 636.6 589.7 637.1 589.9 637.7 590.1 638.3 590.3 638.9 590.4 639.4 590.6 640.0 590.8 640.6 591.0 641.2 591.2 641.7 591.3 642.3 591.5 642.9 591.7 643.5 591.9 644.0 592.0 644.6 592.2 645.2 592.4 645.8 592.6 646.3 592.7 646.9 592.9 647.5 593.1" fill="none" stroke="#e377c2" stroke-width="1.00" stroke-linejoin="round" stroke-linecap="butt"/>
<path d="M527.0 558.2 527.6 558.4 528.1 558.5 528.6 558.7 529.1 558.8 529.7 559.0 530.2 559.1 530.7 559.3 531.2 559.4 531.8 559.6 532.3 559.7 532.8 559.9 533.3 560.0 533.9 560.1 534.4 560.3 534.9 560.4 535.5 560.6 536.0 560.7 536.5 560.9 537.0 561.0 537.6 561.2 538.1 561.3 538.6 561.4 539.2 561.6 539.7 561.7 540.2 561.9 540.7 562.0 541.3 562.2 541.8 562.3 542.3 562.4 542.9 562.6 543.4 562.7 543.9 562.9 544.5 563.0 545.0 563.1 545.5 563.3 546.1 563.4 546.6 563.5 547.1 563.7 547.6 563.8 548.2 564.0 548.7 564.1 549.2 564.2 549.8 564.4 550.3 564.5 550.9 564.7 551.4 564.8 551.9 564.9 552.5 565.1 553.0 565.2 553.5 565.3 554.1 565.4 554.6 565.6 555.1 565.7 555.7 565.8 556.2 565.9 556.7 566.0 557.3 566.1 557.8 566.3 558.4 566.4 558.9 566.5 559.4 566.6 560.0 566.7 560.5 566.8 561.0 566.9 561.6 567.0 562.1 567.0 562.7 567.1 563.2 567.2 563.7 567.3 564.3 567.3 564.8 567.3 565.4 567.4 565.9 567.4 566.4 567.3 567.0 567.3 567.5 567.2 568.1 567.1 568.6 567.0 569.2 566.8 569.7 566.3 570.2 565.4 570.8 564.2 571.3 562.7 571.9 561.0 572.4 559.1 573.0 557.1 573.5 554.8 574.1 552.0 574.6 548.5 575.2 544.8 575.8 541.1 576.3 537.7 576.9 534.9 577.5 532.3 578.0 529.9 578.6 527.8 579.2 526.3 579.7 525.8 580.3 526.5 580.8 528.4 581.4 531.0 581.9 533.7 582.5 536.2 583.0 538.5 583.6 540.9 584.1 543.1 584.6 545.0 585.2 546.3 585.7 547.1 586.3 547.8 586.9 548.5 587.4 549.0 588.0 549.5 588.5 549.9 589.1 550.2 589.6 550.5 590.2 550.7 590.7 550.9 591.3 551.2 591.9 551.4 592.4 551.7 593.0 552.0 593.5 552.4 594.1 552.9 594.6 553.6 595.2 554.7 595.7 556.1 596.3 557.7 596.8 559.5 597.4 561.2 597.9 562.7 598.4 564.1 599.0 565.4 599.5 566.7 600.1 568.1 600.6 569.4 601.2 570.7 601.7 571.9 602.2 573.0 602.8 574.0 603.3 574.9 603.9 575.6 604.4 576.2 605.0 576.7 605.5 577.2 606.1 577.6 606.7 578.0 607.2 578.5 607.8 578.9 608.3 579.2 608.9 579.6 609.4 579.9 610.0 580.3 610.5 580.6 611.1 580.9 611.7 581.1 612.2 581.4 612.8 581.7 613.3 581.9 613.9 582.1 614.5 582.3 615.0 582.5 615.6 582.7 616.2 583.0 616.7 583.2 617.3 583.4 617.8 583.6 618.4 583.8 619.0 584.0 619.5 584.2 620.1 584.4 620.7 584.6 621.2 584.7 621.8 584.9 622.4 585.1 622.9 585.3 623.5 585.5 624.1 585.7 624.6 585.9 625.2 586.1 625.8 586.2 626.3 586.4 626.9 586.6 627.5 586.8 628.0 587.0 628.6 587.2 629.2 587.4 629.7 587.5 630.3 587.7 630.9 587.9 631.4 588.1 632.0 588.3 632.6 588.5 633.1 588.6 633.7 588.8 634.3 589.0 634.9 589.2 635.4 589.4 636.0 589.6 636.6 589.7 637.1 589.9 637.7 590.1 638.3 590.3 638.9 590.5 639.4 590.6 640.0 590.8 640.6 591.0 641.2 591.2 641.7 591.4 642.3 591.5 642.9 591.7 643.5 591.9 644.0 592.1 644.6 592.2 645.2 592.4 645.8 592.6 646.3 592.7 646.9 592.9 647.5 593.1" fill="none" stroke="#d62728" stroke-width="1.00" stroke-linejoin="round" stroke-linecap="butt"/>
<path d="M527.0 558.2 527.6 558.4 528.1 558.5 528.6 558.7 529.1 558.8 529.7 559.0 530.2 559.1 530.7 559.3 531.2 559.4 531.8 559.6 532.3 559.7 532.8 559.9 533.3 560.0 533.9 560.1 534.4 560.3 534.9 560.4 535.5 560.6 536.0 560.7 536.5 560.9 537.0 561.0 537.6 561.2 538.1 561.3 538.6 561.4 539.2 561.6 539.7 561.7 540.2 561.9 540.7 562.0 541.3 562.2 541.8 562.3 542.3 562.4 542.9 562.6 543.4 562.7 543.9 562.9 544.5 563.0 545.0 563.1 545.5 563.3 546.1 563.4 546.6 563.5 547.1 563.7 547.6 563.8 548.2 564.0 548.7 564.1 549.2 564.2 549.8 564.4 550.3 564.5 550.9 564.7 551.4 564.8 551.9 564.9 552.5 565.1 553.0 565.2 553.5 565.3 554.1 565.4 554.6 565.6 555.1 565.7 555.7 565.8 556.2 565.9 556.7 566.0 557.3 566.1 557.8 566.3 558.4 566.4 558.9 566.5 559.4 566.6 560.0 566.7 560.5 566.8 561.0 566.9 561.6 567.0 562.1 567.0 562.7 567.1 563.2 567.2 563.7 567.3 564.3 567.3 564.8 567.3 565.4 567.3 565.9 567.3 566.4 567.3 567.0 567.3 567.5 567.2 568.1 567.1 568.6 566.9 569.2 566.5 569.7 566.0 570.2 565.3 570.8 564.4 571.3 563.3 571.9 562.2 572.4 560.9 573.0 559.3 573.5 557.3 574.1 554.6 574.6 551.6 575.2 548.3 575.8 544.7 576.3 541.1 576.9 536.9 577.5 532.2 578.0 527.2 578.6 522.5 579.2 518.5 579.8 515.2 580.3 512.3 580.9 509.9 581.5 508.4 582.1 508.5 582.6 510.4 583.2 513.6 583.7 517.1 584.2 520.5 584.8 523.7 585.3 526.9 585.9 530.2 586.4 533.5 586.9 536.5 587.5 539.2 588.0 541.8 588.6 544.2 589.1 546.6 589.6 548.9 590.2 551.0 590.7 553.0 591.3 554.8 591.8 556.5 592.4 557.9 592.9 559.3 593.4 560.5 594.0 561.6 594.5 562.7 595.1 563.7 595.6 564.7 596.2 565.6 596.7 566.4 597.3 567.3 597.8 568.0 598.4 568.8 598.9 569.6 599.5 570.4 600.0 571.3 600.6 572.3 601.1 573.3 601.7 574.3 602.2 575.2 602.8 576.1 603.3 576.8 603.9 577.5 604.4 578.0 605.0 578.3 605.5 578.7 606.1 579.0 606.6 579.3 607.2 579.6 607.7 579.9 608.3 580.2 608.9 580.5 609.4 580.7 610.0 581.0 610.5 581.2 611.1 581.4 611.7 581.6 612.2 581.8 612.8 582.1 613.3 582.3 613.9 582.5 614.5 582.7 615.0 582.9 615.6 583.1 616.1 583.3 616.7 583.5 617.3 583.7 617.8 583.9 618.4 584.1 619.0 584.3 619.5 584.4 620.1 584.6 620.7 584.8 621.2 585.0 621.8 585.2 622.3 585.4 622.9 585.5 623.5 585.7 624.0 585.9 624.6 586.1 625.2 586.3 625.7 586.4 626.3 586.6 626.9 586.8 627.4 587.0 628.0 587.2 628.6 587.3 629.2 587.5 629.7 587.7 630.3 587.9 630.9 588.1 631.4 588.2 632.0 588.4 632.6 588.6 633.1 588.8 633.7 588.9 634.3 589.1 634.9 589.3 635.4 589.5 636.0 589.7 636.6 589.8 637.1 590.0 637.7 590.2 638.3 590.4 638.9 590.5 639.4 590.7 640.0 590.9 640.6 591.0 641.2 591.2 641.7 591.4 642.3 591.6 642.9 591.7 643.4 591.9 644.0 592.1 644.6 592.2 645.2 592.4 645.8 592.6 646.3 592.8 646.9 592.9 647.5 593.1" fill="none" stroke="#ff7f0e" stroke-width="1.00" stroke-linejoin="round" stroke-linecap="butt"/>
<path d="M527.0 558.2 527.6 558.4 528.1 558.5 528.6 558.7 529.1 558.8 529.7 559.0 530.2 559.1 530.7 559.3 531.2 559.4 531.8 559.6 532.3 559.7 532.8 559.9 533.3 560.0 533.9 560.1 534.4 560.3 534.9 560.4 535.5 560.6 536.0 560.7 536.5 560.9 537.0 561.0 537.6 561.2 538.1 561.3 538.6 561.4 539.2 561.6 539.7 561.7 540.2 561.9 540.7 562.0 541.3 562.2 541.8 562.3 542.3 562.4 542.9 562.6 543.4 562.7 543.9 562.9 544.5 563.0 545.0 563.1 545.5 563.3 546.1 563.4 546.6 563.5 547.1 563.7 547.6 563.8 548.2 564.0 548.7 564.1 549.2 564.2 549.8 564.4 550.3 564.5 550.9 564.7 551.4 564.8 551.9 564.9 552.5 565.1 553.0 565.2 553.5 565.3 554.1 565.4 554.6 565.6 555.1 565.7 555.7 565.8 556.2 565.9 556.7 566.0 557.3 566.1 557.8 566.2 558.4 566.4 558.9 566.5 559.4 566.6 560.0 566.7 560.5 566.8 561.0 566.9 561.6 567.0 562.1 567.0 562.7 567.1 563.2 567.2 563.7 567.3 564.3 567.4 564.8 567.4 565.4 567.4 565.9 567.5 566.4 567.5 567.0 567.5 567.5 567.4 568.1 567.4 568.6 567.3 569.2 567.2 569.7 567.0 570.2 566.4 570.8 565.3 571.3 563.8 571.9 561.9 572.4 559.7 573.0 557.3 573.5 554.5 574.1 550.7 574.6 546.1 575.2 540.9 575.8 535.5 576.3 530.4 576.9 525.8 577.5 521.3 578.1 516.8 578.6 512.7 579.2 509.8 579.8 508.9 580.3 510.8 580.9 515.0 581.4 520.7 581.9 528.1 582.5 535.5 583.0 539.7 583.5 541.8 584.1 543.5 584.6 544.8 585.2 545.9 585.7 546.9 586.3 547.8 586.8 548.7 587.4 549.7 588.0 550.8 588.5 551.8 589.0 552.9 589.6 553.9 590.1 554.8 590.7 555.8 591.2 556.8 591.8 557.8 592.3 558.9 592.9 560.0 593.4 561.2 594.0 562.4 594.5 563.6 595.1 564.7 595.6 565.8 596.2 566.8 596.7 567.7 597.3 568.5 597.8 569.3 598.4 570.0 598.9 570.8 599.5 571.5 600.0 572.2 600.6 572.9 601.1 573.6 601.7 574.2 602.2 574.8 602.8 575.4 603.3 575.9 603.9 576.4 604.4 576.9 605.0 577.3 605.5 577.7 606.1 578.1 606.6 578.5 607.2 578.8 607.8 579.1 608.3 579.5 608.9 579.8 609.4 580.1 610.0 580.4 610.5 580.6 611.1 580.9 611.7 581.2 612.2 581.4 612.8 581.7 613.3 581.9 613.9 582.1 614.5 582.3 615.0 582.5 615.6 582.7 616.2 582.9 616.7 583.1 617.3 583.4 617.8 583.6 618.4 583.8 619.0 584.0 619.5 584.2 620.1 584.3 620.7 584.5 621.2 584.7 621.8 584.9 622.4 585.1 622.9 585.3 623.5 585.5 624.1 585.7 624.6 585.9 625.2 586.1 625.8 586.2 626.3 586.4 626.9 586.6 627.5 586.8 628.0 587.0 628.6 587.2 629.2 587.4 629.7 587.5 630.3 587.7 630.9 587.9 631.4 588.1 632.0 588.3 632.6 588.5 633.1 588.6 633.7 588.8 634.3 589.0 634.9 589.2 635.4 589.4 636.0 589.6 636.6 589.7 637.1 589.9 637.7 590.1 638.3 590.3 638.9 590.5 639.4 590.6 640.0 590.8 640.6 591.0 641.2 591.2 641.7 591.4 642.3 591.5 642.9 591.7 643.5 591.9 644.0 592.1 644.6 592.2 645.2 592.4 645.8 592.6 646.3 592.7 646.9 592.9 647.5 593.1" fill="none" stroke="#9467bd" stroke-width="1.00" stroke-linejoin="round" stroke-linecap="butt"/>
<path d="M527.0 558.2 527.6 558.4 528.1 558.5 528.6 558.7 529.1 558.8 529.7 559.0 530.2 559.1 530.7 559.3 531.2 559.4 531.8 559.6 532.3 559.7 532.8 559.9 533.3 560.0 533.9 560.1 534.4 560.3 534.9 560.4 535.5 560.6 536.0 560.7 536.5 560.9 537.0 561.0 537.6 561.2 538.1 561.3 538.6 561.4 539.2 561.6 539.7 561.7 540.2 561.9 540.7 562.0 541.3 562.2 541.8 562.3 542.3 562.4 542.9 562.6 543.4 562.7 543.9 562.9 544.5 563.0 545.0 563.1 545.5 563.3 546.1 563.4 546.6 563.5 547.1 563.7 547.6 563.8 548.2 564.0 548.7 564.1 549.2 564.2 549.8 564.4 550.3 564.5 550.9 564.7 551.4 564.8 551.9 564.9 552.5 565.0 553.0 565.2 553.5 565.3 554.1 565.4 554.6 565.6 555.1 565.7 555.7 565.8 556.2 565.9 556.7 566.0 557.3 566.1 557.8 566.2 558.4 566.4 558.9 566.5 559.4 566.6 560.0 566.7 560.5 566.8 561.0 566.9 561.6 566.9 562.1 567.0 562.7 567.1 563.2 567.2 563.7 567.3 564.3 567.4 564.8 567.4 565.4 567.5 565.9 567.5 566.4 567.5 567.0 567.5 567.5 567.5 568.1 567.5 568.6 567.5 569.2 567.4 569.7 567.3 570.2 567.2 570.8 567.0 571.3 566.6 571.9 566.0 572.4 565.3 573.0 564.4 573.5 563.5 574.1 562.5 574.6 561.4 575.2 560.0 575.7 558.2 576.3 556.1 576.8 553.2 577.4 548.9 578.0 542.8 578.6 535.3 579.2 525.8 579.8 514.1 580.4 503.0 581.0 494.1 581.6 489.0 582.2 491.3 582.7 500.2 583.2 512.4 583.6 526.5 584.1 538.1 584.6 544.8 585.2 548.9 585.7 551.8 586.3 553.7 586.8 555.2 587.3 556.4 587.9 557.4 588.4 558.3 589.0 559.2 589.5 560.0 590.1 560.8 590.6 561.5 591.2 562.2 591.7 562.8 592.3 563.4 592.8 564.1 593.4 564.7 593.9 565.3 594.5 565.9 595.1 566.5 595.6 567.1 596.2 567.8 596.7 568.5 597.3 569.2 597.8 569.9 598.4 570.6 598.9 571.3 599.5 572.0 600.0 572.7 600.6 573.4 601.1 574.1 601.7 574.7 602.2 575.3 602.8 575.8 603.3 576.3 603.9 576.7 604.4 577.1 605.0 577.5 605.5 577.9 606.1 578.2 606.6 578.5 607.2 578.9 607.8 579.2 608.3 579.5 608.9 579.8 609.4 580.1 610.0 580.4 610.5 580.7 611.1 580.9 611.7 581.2 612.2 581.4 612.8 581.7 613.3 581.9 613.9 582.1 614.5 582.3 615.0 582.5 615.6 582.7 616.2 582.9 616.7 583.1 617.3 583.3 617.8 583.6 618.4 583.8 619.0 584.0 619.5 584.1 620.1 584.3 620.7 584.5 621.2 584.7 621.8 584.9 622.4 585.1 622.9 585.3 623.5 585.5 624.1 585.7 624.6 585.9 625.2 586.1 625.8 586.2 626.3 586.4 626.9 586.6 627.5 586.8 628.0 587.0 628.6 587.2 629.2 587.4 629.7 587.5 630.3 587.7 630.9 587.9 631.4 588.1 632.0 588.3 632.6 588.5 633.1 588.6 633.7 588.8 634.3 589.0 634.9 589.2 635.4 589.4 636.0 589.6 636.6 589.7 637.1 589.9 637.7 590.1 638.3 590.3 638.9 590.5 639.4 590.6 640.0 590.8 640.6 591.0 641.2 591.2 641.7 591.4 642.3 591.5 642.9 591.7 643.5 591.9 644.0 592.1 644.6 592.2 645.2 592.4 645.8 592.6 646.3 592.7 646.9 592.9 647.5 593.1" fill="none" stroke="#2ca02c" stroke-width="1.00" stroke-linejoin="round" stroke-linecap="butt"/>
<path d="M527.1 559.1 527.6 559.3 528.1 559.5 528.6 559.7 529.1 559.9 529.7 560.1 530.2 560.2 530.7 560.4 531.2 560.6 531.8 560.8 532.3 560.9 532.8 561.1 533.3 561.3 533.8 561.4 534.4 561.6 534.9 561.8 535.4 561.9 535.9 562.1 536.5 562.2 537.0 562.4 537.5 562.5 538.0 562.7 538.6 562.8 539.1 563.0 539.6 563.1 540.1 563.2 540.7 563.3 541.2 563.4 541.7 563.5 542.2 563.6 542.8 563.7 543.3 563.8 543.8 563.9 544.3 564.0 544.9 564.1 545.4 564.2 545.9 564.3 546.4 564.4 547.0 564.5 547.5 564.6 548.0 564.7 548.6 564.8 549.1 564.9 549.6 565.0 550.1 565.1 550.7 565.2 551.2 565.3 551.7 565.4 552.3 565.4 552.8 565.5 553.3 565.6 553.9 565.7 554.4 565.8 554.9 565.9 555.5 566.0 556.0 566.1 556.5 566.1 557.0 566.2 557.6 566.3 558.1 566.4 558.6 566.5 559.2 566.5 559.7 566.6 560.3 566.7 560.8 566.8 561.3 566.8 561.9 566.9 562.4 566.9 562.9 567.0 563.5 567.0 564.0 567.0 564.5 566.9 565.1 566.8 565.6 566.8 566.1 566.9 566.7 567.1 567.2 567.3 567.8 567.5 568.3 567.8 568.8 568.3 569.4 568.9 569.9 569.1 570.5 568.7 571.0 567.4 571.5 565.3 572.1 561.7 572.6 555.6 573.2 547.6 573.7 539.3 574.3 532.4 574.9 527.3 575.4 523.3 576.0 519.9 576.5 517.1 577.1 515.4 577.7 514.4 578.2 513.9 578.8 513.5 579.4 513.2 579.9 513.3 580.5 513.9 581.0 514.9 581.6 516.3 582.1 518.0 582.7 519.6 583.2 521.4 583.8 523.3 584.3 525.4 584.9 527.6 585.4 529.9 586.0 532.3 586.5 535.0 587.0 537.8 587.6 540.5 588.1 543.0 588.6 545.1 589.2 546.8 589.7 548.1 590.3 549.3 590.8 550.3 591.4 551.2 591.9 552.0 592.5 552.7 593.0 553.3 593.6 553.9 594.1 554.6 594.7 555.3 595.2 556.2 595.8 557.1 596.3 558.0 596.8 559.0 597.4 560.1 597.9 561.2 598.5 562.3 599.0 563.5 599.6 564.5 600.1 565.5 600.6 566.5 601.2 567.4 601.7 568.3 602.3 569.2 602.8 570.1 603.4 571.0 603.9 571.8 604.5 572.5 605.0 573.2 605.5 573.8 606.1 574.4 606.6 574.9 607.2 575.4 607.7 575.9 608.3 576.4 608.9 576.8 609.4 577.2 610.0 577.7 610.5 578.1 611.1 578.5 611.6 578.9 612.2 579.2 612.7 579.6 613.3 579.9 613.8 580.3 614.4 580.6 614.9 580.9 615.5 581.2 616.1 581.4 616.6 581.7 617.2 582.0 617.7 582.3 618.3 582.5 618.8 582.8 619.4 583.1 620.0 583.3 620.5 583.6 621.1 583.8 621.6 584.1 622.2 584.3 622.8 584.6 623.3 584.8 623.9 585.0 624.4 585.2 625.0 585.5 625.6 585.7 626.1 585.9 626.7 586.1 627.2 586.3 627.8 586.5 628.4 586.7 628.9 586.9 629.5 587.1 630.1 587.3 630.6 587.5 631.2 587.7 631.8 587.9 632.3 588.1 632.9 588.3 633.5 588.4 634.0 588.6 634.6 588.8 635.2 589.0 635.7 589.2 636.3 589.4 636.9 589.6 637.4 589.8 638.0 590.0 638.6 590.1 639.1 590.3 639.7 590.5 640.3 590.7 640.8 590.9 641.4 591.0 642.0 591.2 642.5 591.4 643.1 591.6 643.7 591.7 644.3 591.9 644.8 592.1 645.4 592.3 646.0 592.4 646.5 592.6" fill="none" stroke="#1f77b4" stroke-width="1.50" stroke-linejoin="round" stroke-linecap="butt"/>
<path d="M516.0 567.4 516.5 567.6 517.0 567.7 517.6 567.9 518.1 568.0 518.6 568.2 519.1 568.3 519.7 568.5 520.2 568.6 520.7 568.8 521.2 568.9 521.8 569.1 522.3 569.3 522.8 569.4 523.4 569.6 523.9 569.7 524.4 569.9 524.9 570.0 525.5 570.2 526.0 570.3 526.5 570.5 527.1 570.7 527.6 570.8 528.1 571.0 528.6 571.1 529.2 571.3 529.7 571.4 530.2 571.6 530.8 571.8 531.3 571.9 531.8 572.1 532.4 572.2 532.9 572.4 533.4 572.5 534.0 572.7 534.5 572.8 535.0 573.0 535.6 573.2 536.1 573.3 536.6 573.5 537.2 573.6 537.7 573.8 538.2 574.0 538.8 574.1 539.3 574.3 539.8 574.4 540.4 574.6 540.9 574.7 541.4 574.8 542.0 574.9 542.5 575.0 543.0 575.1 543.6 575.2 544.1 575.3 544.6 575.4 545.2 575.5 545.7 575.5 546.3 575.6 546.8 575.7 547.3 575.8 547.9 575.9 548.4 576.0 548.9 576.0 549.5 576.1 550.0 576.2 550.6 576.3 551.1 576.3 551.6 576.4 552.2 576.4 552.7 576.4 553.3 576.4 553.8 576.4 554.3 576.3 554.9 576.3 555.4 576.4 556.0 576.6 556.5 576.8 557.0 577.0 557.6 577.3 558.1 577.8 558.7 578.4 559.2 578.6 559.8 578.2 560.3 576.9 560.8 574.7 561.4 571.1 561.9 565.0 562.4 557.0 562.9 548.6 563.4 541.6 564.0 536.5 564.5 532.4 565.1 529.0 565.6 526.2 566.2 524.4 566.7 523.5 567.3 522.9 567.9 522.5 568.4 522.3 569.0 522.4 569.6 522.9 570.1 524.0 570.7 525.4 571.3 527.1 571.8 528.8 572.4 530.5 572.9 532.4 573.5 534.6 574.1 536.8 574.6 539.1 575.2 541.6 575.7 544.3 576.3 547.1 576.9 549.8 577.4 552.3 578.0 554.5 578.5 556.2 579.1 557.5 579.6 558.7 580.2 559.7 580.7 560.7 581.3 561.5 581.9 562.2 582.4 562.8 583.0 563.4 583.5 564.1 584.1 564.8 584.6 565.7 585.2 566.6 585.8 567.6 586.3 568.6 586.9 569.6 587.4 570.7 588.0 571.9 588.5 573.1 589.1 574.1 589.6 575.1 590.2 576.1 590.7 577.1 591.3 578.0 591.8 578.9 592.4 579.8 592.9 580.6 593.5 581.5 594.0 582.2 594.6 582.9 595.2 583.5 595.7 584.1 596.3 584.6 596.8 585.2 597.4 585.6 597.9 586.1 598.5 586.6 599.1 587.0 599.6 587.5 600.2 587.9 600.7 588.3 601.3 588.7 601.9 589.0 602.4 589.4 603.0 589.8 603.5 590.1 604.1 590.4 604.7 590.7 605.2 591.0 605.8 591.3 606.4 591.6 606.9 591.9 607.5 592.1 608.0 592.4 608.6 592.7 609.2 593.0 609.7 593.2 610.3 593.5 610.9 593.7 611.4 594.0 612.0 594.2 612.6 594.5 613.1 594.7 613.7 594.9 614.3 595.2 614.8 595.4 615.4 595.6 616.0 595.8 616.5 596.0 617.1 596.3 617.7 596.5 618.2 596.7 618.8 596.9 619.4 597.1 619.9 597.3 620.5 597.5 621.1 597.7 621.7 597.9 622.2 598.1 622.8 598.3 623.4 598.5 623.9 598.6 624.5 598.8 625.1 599.0 625.7 599.2 626.2 599.4 626.8 599.6 627.4 599.8 627.9 600.0 628.5 600.2 629.1 600.4 629.7 600.6 630.2 600.7 630.8 600.9 631.4 601.1 632.0 601.3 632.5 601.5 633.1 601.7 633.7 601.8 634.3 602.0 634.9 602.2 635.4 602.4 636.0 602.5 636.6 602.7 636.6 602.9 636.0 602.8 635.4 602.6 634.8 602.4 634.3 602.3 633.7 602.1 633.1 601.9 632.5 601.7 632.0 601.6 631.4 601.4 630.8 601.2 630.2 601.1 629.7 600.9 629.1 600.7 628.5 600.6 627.9 600.4 627.4 600.2 626.8 600.0 626.2 599.9 625.6 599.7 625.1 599.5 624.5 599.4 623.9 599.2 623.4 599.0 622.8 598.9 622.2 598.7 621.6 598.5 621.1 598.4 620.5 598.2 619.9 598.0 619.4 597.9 618.8 597.7 618.2 597.5 617.6 597.4 617.1 597.2 616.5 597.0 615.9 596.9 615.4 596.7 614.8 596.5 614.2 596.3 613.7 596.2 613.1 596.0 612.5 595.8 612.0 595.7 611.4 595.5 610.8 595.3 610.3 595.2 609.7 595.0 609.1 594.8 608.6 594.7 608.0 594.5 607.4 594.3 606.9 594.2 606.3 594.0 605.7 593.8 605.2 593.7 604.6 593.5 604.1 593.3 603.5 593.2 602.9 593.0 602.4 592.9 601.8 592.7 601.2 592.5 600.7 592.4 600.1 592.2 599.6 592.0 599.0 591.9 598.4 591.7 597.9 591.5 597.3 591.4 596.7 591.2 596.2 591.0 595.6 590.9 595.1 590.7 594.5 590.5 594.0 590.4 593.4 590.2 592.8 590.0 592.3 589.9 591.7 589.7 591.2 589.6 590.6 589.4 590.0 589.2 589.5 589.1 588.9 588.9 588.4 588.7 587.8 588.6 587.3 588.4 586.7 588.2 586.2 588.1 585.6 587.9 585.0 587.7 584.5 587.6 583.9 587.4 583.4 587.3 582.8 587.1 582.3 586.9 581.7 586.8 581.2 586.6 580.6 586.4 580.1 586.3 579.5 586.1 579.0 586.0 578.4 585.8 577.9 585.6 577.3 585.5 576.7 585.3 576.2 585.1 575.6 585.0 575.1 584.8 574.5 584.7 574.0 584.5 573.4 584.3 572.9 584.2 572.3 584.0 571.8 583.8 571.2 583.7 570.7 583.5 570.2 583.4 569.6 583.2 569.1 583.0 568.5 582.9 568.0 582.7 567.4 582.6 566.9 582.4 566.3 582.2 565.8 582.1 565.2 581.9 564.7 581.7 564.1 581.6 563.6 581.4 563.0 581.3 562.5 581.1 562.0 580.9 561.4 580.8 560.9 580.6 560.3 580.5 559.8 580.3 559.2 580.1 558.7 580.0 558.1 579.8 557.6 579.7 557.1 579.5 556.5 579.3 556.0 579.2 555.4 579.0 554.9 578.9 554.4 578.7 553.8 578.5 553.3 578.4 552.7 578.2 552.2 578.1 551.6 577.9 551.1 577.7 550.6 577.6 550.0 577.4 549.5 577.3 549.0 577.1 548.4 577.0 547.9 576.8 547.3 576.6 546.8 576.5 546.3 576.3 545.7 576.2 545.2 576.0 544.6 575.8 544.1 575.7 543.6 575.5 543.0 575.4 542.5 575.2 542.0 575.1 541.4 574.9 540.9 574.7 540.4 574.6 539.8 574.4 539.3 574.3 538.8 574.1 538.2 574.0 537.7 573.8 537.2 573.6 536.6 573.5 536.1 573.3 535.6 573.2 535.0 573.0 534.5 572.8 534.0 572.7 533.4 572.5 532.9 572.4 532.4 572.2 531.8 572.1 531.3 571.9 530.8 571.8 530.2 571.6 529.7 571.4 529.2 571.3 528.6 571.1 528.1 571.0 527.6 570.8 527.1 570.7 526.5 570.5 526.0 570.3 525.5 570.2 524.9 570.0 524.4 569.9 523.9 569.7 523.4 569.6 522.8 569.4 522.3 569.3 521.8 569.1 521.2 568.9 520.7 568.8 520.2 568.6 519.7 568.5 519.1 568.3 518.6 568.2 518.1 568.0 517.6 567.9 517.0 567.7 516.5 567.6 516.0 567.4Z" fill="#1f77b4" fill-opacity="0.60" stroke="none"/>
<path d="M516.0 567.4 516.5 567.6 517.0 567.7 517.6 567.9 518.1 568.0 518.6 568.2 519.1 568.3 519.7 568.5 520.2 568.6 520.7 568.8 521.2 568.9 521.8 569.1 522.3 569.3 522.8 569.4 523.4 569.6 523.9 569.7 524.4 569.9 524.9 570.0 525.5 570.2 526.0 570.3 526.5 570.5 527.1 570.7 527.6 570.8 528.1 571.0 528.6 571.1 529.2 571.3 529.7 571.4 530.2 571.6 530.8 571.8 531.3 571.9 531.8 572.1 532.4 572.2 532.9 572.4 533.4 572.5 534.0 572.7 534.5 572.8 535.0 573.0 535.6 573.2 536.1 573.3 536.6 573.5 537.2 573.6 537.7 573.8 538.2 574.0 538.8 574.1 539.3 574.3 539.8 574.4 540.4 574.6 540.9 574.7 541.4 574.9 542.0 575.1 542.5 575.2 543.0 575.4 543.6 575.5 544.1 575.7 544.6 575.8 545.2 576.0 545.7 576.2 546.3 576.3 546.8 576.5 547.3 576.6 547.9 576.8 548.4 577.0 549.0 577.1 549.5 577.3 550.0 577.4 550.6 577.6 551.1 577.7 551.6 577.9 552.2 578.1 552.7 578.2 553.3 578.4 553.8 578.5 554.4 578.7 554.9 578.9 555.4 579.0 556.0 579.2 556.5 579.3 557.1 579.5 557.6 579.7 558.1 579.8 558.7 580.0 559.2 580.1 559.8 580.3 560.3 580.5 560.9 580.6 561.4 580.8 562.0 580.9 562.5 581.1 563.0 581.3 563.6 581.4 564.1 581.6 564.7 581.7 565.2 581.9 565.8 582.1 566.3 582.2 566.9 582.4 567.4 582.6 568.0 582.7 568.5 582.9 569.1 583.0 569.6 583.2 570.2 583.4 570.7 583.5 571.2 583.7 571.8 583.8 572.3 584.0 572.9 584.2 573.4 584.3 574.0 584.5 574.5 584.7 575.1 584.8 575.6 585.0 576.2 585.1 576.7 585.3 577.3 585.5 577.9 585.6 578.4 585.8 579.0 586.0 579.5 586.1 580.1 586.3 580.6 586.4 581.2 586.6 581.7 586.8 582.3 586.9 582.8 587.1 583.4 587.3 583.9 587.4 584.5 587.6 585.0 587.7 585.6 587.9 586.2 588.1 586.7 588.2 587.3 588.4 587.8 588.6 588.4 588.7 588.9 588.9 589.5 589.1 590.0 589.2 590.6 589.4 591.2 589.6 591.7 589.7 592.3 589.9 592.8 590.0 593.4 590.2 594.0 590.4 594.5 590.5 595.1 590.7 595.6 590.9 596.2 591.0 596.7 591.2 597.3 591.4 597.9 591.5 598.4 591.7 599.0 591.9 599.6 592.0 600.1 592.2 600.7 592.4 601.2 592.5 601.8 592.7 602.4 592.9 602.9 593.0 603.5 593.2 604.1 593.3 604.6 593.5 605.2 593.7 605.7 593.8 606.3 594.0 606.9 594.2 607.4 594.3 608.0 594.5 608.6 594.7 609.1 594.8 609.7 595.0 610.3 595.2 610.8 595.3 611.4 595.5 612.0 595.7 612.5 595.8 613.1 596.0 613.7 596.2 614.2 596.3 614.8 596.5 615.4 596.7 615.9 596.9 616.5 597.0 617.1 597.2 617.6 597.4 618.2 597.5 618.8 597.7 619.4 597.9 619.9 598.0 620.5 598.2 621.1 598.4 621.6 598.5 622.2 598.7 622.8 598.9 623.4 599.0 623.9 599.2 624.5 599.4 625.1 599.5 625.6 599.7 626.2 599.9 626.8 600.0 627.4 600.2 627.9 600.4 628.5 600.6 629.1 600.7 629.7 600.9 630.2 601.1 630.8 601.2 631.4 601.4 632.0 601.6 632.5 601.7 633.1 601.9 633.7 602.1 634.3 602.3 634.8 602.4 635.4 602.6 636.0 602.8 636.6 602.9" fill="none" stroke="#1f77b4" stroke-width="0.60" stroke-opacity="0.16"/>
<path d="M505.3 576.3 505.8 576.4 506.4 576.6 506.9 576.8 507.4 576.9 508.0 577.1 508.5 577.2 509.0 577.4 509.6 577.5 510.1 577.7 510.6 577.8 511.2 578.0 511.7 578.2 512.2 578.3 512.8 578.5 513.3 578.6 513.9 578.8 514.4 578.9 514.9 579.1 515.5 579.2 516.0 579.4 516.5 579.5 517.1 579.7 517.6 579.8 518.2 580.0 518.7 580.1 519.2 580.3 519.8 580.4 520.3 580.6 520.8 580.7 521.4 580.9 521.9 581.0 522.5 581.2 523.0 581.3 523.5 581.5 524.1 581.6 524.6 581.8 525.2 581.9 525.7 582.0 526.3 582.2 526.8 582.3 527.3 582.5 527.9 582.6 528.4 582.8 529.0 582.9 529.5 583.1 530.1 583.2 530.6 583.3 531.1 583.5 531.7 583.6 532.2 583.8 532.8 583.9 533.3 584.0 533.9 584.1 534.4 584.3 535.0 584.4 535.5 584.5 536.0 584.6 536.6 584.8 537.1 584.9 537.7 585.0 538.2 585.1 538.8 585.2 539.3 585.3 539.9 585.4 540.4 585.5 541.0 585.6 541.5 585.7 542.1 585.8 542.6 585.9 543.2 586.0 543.7 586.0 544.3 586.1 544.8 586.1 545.4 586.1 545.9 586.2 546.5 586.1 547.0 586.1 547.6 586.0 548.1 585.9 548.6 585.5 549.2 584.8 549.7 583.7 550.3 582.4 550.8 581.0 551.3 579.4 551.9 577.7 552.4 575.8 553.0 573.4 553.5 570.6 554.0 567.5 554.6 564.5 555.1 561.9 555.6 559.9 556.2 558.3 556.8 556.9 557.3 555.6 557.9 554.6 558.4 554.1 559.0 554.2 559.6 554.9 560.1 556.2 560.7 557.9 561.3 559.7 561.9 561.7 562.4 563.5 563.0 565.1 563.6 566.6 564.2 568.1 564.7 569.6 565.3 571.1 565.9 572.6 566.4 574.0 567.0 575.4 567.6 576.8 568.1 578.1 568.7 579.3 569.3 580.5 569.8 581.7 570.4 582.8 571.0 583.8 571.5 584.9 572.1 585.9 572.7 587.0 573.2 588.0 573.8 589.0 574.4 589.8 574.9 590.6 575.5 591.2 576.1 591.9 576.6 592.4 577.2 593.0 577.8 593.5 578.3 594.0 578.9 594.5 579.5 594.9 580.0 595.3 580.6 595.7 581.2 596.0 581.7 596.4 582.3 596.7 582.9 597.0 583.4 597.3 584.0 597.6 584.6 597.9 585.1 598.2 585.7 598.5 586.3 598.7 586.8 599.0 587.4 599.2 588.0 599.5 588.5 599.7 589.1 600.0 589.7 600.2 590.2 600.4 590.8 600.6 591.4 600.8 592.0 601.1 592.5 601.3 593.1 601.5 593.7 601.7 594.3 601.9 594.8 602.1 595.4 602.3 596.0 602.5 596.5 602.7 597.1 602.9 597.7 603.1 598.3 603.3 598.8 603.5 599.4 603.7 600.0 603.9 600.6 604.1 601.1 604.3 601.7 604.5 602.3 604.7 602.9 604.9 603.4 605.1 604.0 605.3 604.6 605.4 605.2 605.6 605.8 605.8 606.3 606.0 606.9 606.2 607.5 606.4 608.1 606.6 608.6 606.8 609.2 607.0 609.8 607.2 610.4 607.4 611.0 607.6 611.5 607.7 612.1 607.9 612.7 608.1 613.3 608.3 613.9 608.5 614.5 608.7 615.0 608.9 615.6 609.1 616.2 609.3 616.8 609.5 617.4 609.7 617.9 609.8 618.5 610.0 619.1 610.2 619.7 610.4 620.3 610.6 620.9 610.8 621.5 611.0 622.0 611.2 622.6 611.3 623.2 611.5 623.8 611.7 624.4 611.9 625.0 612.1 625.6 612.3 626.1 612.5 626.7 612.6 627.3 612.8 627.9 613.0 627.9 613.0 627.3 612.8 626.7 612.7 626.1 612.5 625.6 612.3 625.0 612.1 624.4 612.0 623.8 611.8 623.2 611.6 622.6 611.4 622.0 611.3 621.5 611.1 620.9 610.9 620.3 610.7 619.7 610.6 619.1 610.4 618.5 610.2 617.9 610.0 617.4 609.9 616.8 609.7 616.2 609.5 615.6 609.3 615.0 609.2 614.4 609.0 613.9 608.8 613.3 608.6 612.7 608.5 612.1 608.3 611.5 608.1 611.0 607.9 610.4 607.8 609.8 607.6 609.2 607.4 608.6 607.2 608.1 607.1 607.5 606.9 606.9 606.7 606.3 606.5 605.7 606.4 605.2 606.2 604.6 606.0 604.0 605.9 603.4 605.7 602.9 605.5 602.3 605.3 601.7 605.2 601.1 605.0 600.6 604.8 600.0 604.6 599.4 604.5 598.8 604.3 598.3 604.1 597.7 604.0 597.1 603.8 596.5 603.6 596.0 603.4 595.4 603.3 594.8 603.1 594.2 602.9 593.7 602.8 593.1 602.6 592.5 602.4 592.0 602.2 591.4 602.1 590.8 601.9 590.2 601.7 589.7 601.6 589.1 601.4 588.5 601.2 588.0 601.0 587.4 600.9 586.8 600.7 586.2 600.5 585.7 600.4 585.1 600.2 584.5 600.0 584.0 599.9 583.4 599.7 582.8 599.5 582.3 599.3 581.7 599.2 581.1 599.0 580.6 598.8 580.0 598.7 579.4 598.5 578.9 598.3 578.3 598.2 577.7 598.0 577.2 597.8 576.6 597.6 576.0 597.5 575.5 597.3 574.9 597.1 574.4 597.0 573.8 596.8 573.2 596.6 572.7 596.5 572.1 596.3 571.5 596.1 571.0 596.0 570.4 595.8 569.9 595.6 569.3 595.5 568.7 595.3 568.2 595.1 567.6 594.9 567.0 594.8 566.5 594.6 565.9 594.4 565.4 594.3 564.8 594.1 564.2 593.9 563.7 593.8 563.1 593.6 562.6 593.4 562.0 593.3 561.5 593.1 560.9 592.9 560.3 592.8 559.8 592.6 559.2 592.4 558.7 592.3 558.1 592.1 557.6 591.9 557.0 591.8 556.4 591.6 555.9 591.4 555.3 591.3 554.8 591.1 554.2 590.9 553.7 590.8 553.1 590.6 552.6 590.4 552.0 590.3 551.5 590.1 550.9 589.9 550.3 589.8 549.8 589.6 549.2 589.4 548.7 589.3 548.1 589.1 547.6 588.9 547.0 588.8 546.5 588.6 545.9 588.5 545.4 588.3 544.8 588.1 544.3 588.0 543.7 587.8 543.2 587.6 542.6 587.5 542.1 587.3 541.5 587.1 541.0 587.0 540.4 586.8 539.9 586.6 539.3 586.5 538.8 586.3 538.2 586.1 537.7 586.0 537.2 585.8 536.6 585.7 536.1 585.5 535.5 585.3 535.0 585.2 534.4 585.0 533.9 584.8 533.3 584.7 532.8 584.5 532.2 584.3 531.7 584.2 531.1 584.0 530.6 583.9 530.1 583.7 529.5 583.5 529.0 583.4 528.4 583.2 527.9 583.0 527.3 582.9 526.8 582.7 526.3 582.6 525.7 582.4 525.2 582.2 524.6 582.1 524.1 581.9 523.6 581.7 523.0 581.6 522.5 581.4 521.9 581.3 521.4 581.1 520.9 580.9 520.3 580.8 519.8 580.6 519.2 580.5 518.7 580.3 518.2 580.1 517.6 580.0 517.1 579.8 516.5 579.6 516.0 579.5 515.5 579.3 514.9 579.2 514.4 579.0 513.9 578.8 513.3 578.7 512.8 578.5 512.2 578.4 511.7 578.2 511.2 578.0 510.6 577.9 510.1 577.7 509.6 577.6 509.0 577.4 508.5 577.2 508.0 577.1 507.4 576.9 506.9 576.8 506.4 576.6 505.8 576.4 505.3 576.3Z" fill="#e377c2" fill-opacity="0.60" stroke="none"/>
<path d="M505.3 576.3 505.8 576.4 506.4 576.6 506.9 576.8 507.4 576.9 508.0 577.1 508.5 577.2 509.0 577.4 509.6 577.6 510.1 577.7 510.6 577.9 511.2 578.0 511.7 578.2 512.2 578.4 512.8 578.5 513.3 578.7 513.9 578.8 514.4 579.0 514.9 579.2 515.5 579.3 516.0 579.5 516.5 579.6 517.1 579.8 517.6 580.0 518.2 580.1 518.7 580.3 519.2 580.5 519.8 580.6 520.3 580.8 520.9 580.9 521.4 581.1 521.9 581.3 522.5 581.4 523.0 581.6 523.6 581.7 524.1 581.9 524.6 582.1 525.2 582.2 525.7 582.4 526.3 582.6 526.8 582.7 527.3 582.9 527.9 583.0 528.4 583.2 529.0 583.4 529.5 583.5 530.1 583.7 530.6 583.9 531.1 584.0 531.7 584.2 532.2 584.3 532.8 584.5 533.3 584.7 533.9 584.8 534.4 585.0 535.0 585.2 535.5 585.3 536.1 585.5 536.6 585.7 537.2 585.8 537.7 586.0 538.2 586.1 538.8 586.3 539.3 586.5 539.9 586.6 540.4 586.8 541.0 587.0 541.5 587.1 542.1 587.3 542.6 587.5 543.2 587.6 543.7 587.8 544.3 588.0 544.8 588.1 545.4 588.3 545.9 588.5 546.5 588.6 547.0 588.8 547.6 588.9 548.1 589.1 548.7 589.3 549.2 589.4 549.8 589.6 550.3 589.8 550.9 589.9 551.5 590.1 552.0 590.3 552.6 590.4 553.1 590.6 553.7 590.8 554.2 590.9 554.8 591.1 555.3 591.3 555.9 591.4 556.4 591.6 557.0 591.8 557.6 591.9 558.1 592.1 558.7 592.3 559.2 592.4 559.8 592.6 560.3 592.8 560.9 592.9 561.5 593.1 562.0 593.3 562.6 593.4 563.1 593.6 563.7 593.8 564.2 593.9 564.8 594.1 565.4 594.3 565.9 594.4 566.5 594.6 567.0 594.8 567.6 594.9 568.2 595.1 568.7 595.3 569.3 595.5 569.9 595.6 570.4 595.8 571.0 596.0 571.5 596.1 572.1 596.3 572.7 596.5 573.2 596.6 573.8 596.8 574.4 597.0 574.9 597.1 575.5 597.3 576.0 597.5 576.6 597.6 577.2 597.8 577.7 598.0 578.3 598.2 578.9 598.3 579.4 598.5 580.0 598.7 580.6 598.8 581.1 599.0 581.7 599.2 582.3 599.3 582.8 599.5 583.4 599.7 584.0 599.9 584.5 600.0 585.1 600.2 585.7 600.4 586.2 600.5 586.8 600.7 587.4 600.9 588.0 601.0 588.5 601.2 589.1 601.4 589.7 601.6 590.2 601.7 590.8 601.9 591.4 602.1 592.0 602.2 592.5 602.4 593.1 602.6 593.7 602.8 594.2 602.9 594.8 603.1 595.4 603.3 596.0 603.4 596.5 603.6 597.1 603.8 597.7 604.0 598.3 604.1 598.8 604.3 599.4 604.5 600.0 604.6 600.6 604.8 601.1 605.0 601.7 605.2 602.3 605.3 602.9 605.5 603.4 605.7 604.0 605.9 604.6 606.0 605.2 606.2 605.7 606.4 606.3 606.5 606.9 606.7 607.5 606.9 608.1 607.1 608.6 607.2 609.2 607.4 609.8 607.6 610.4 607.8 611.0 607.9 611.5 608.1 612.1 608.3 612.7 608.5 613.3 608.6 613.9 608.8 614.4 609.0 615.0 609.2 615.6 609.3 616.2 609.5 616.8 609.7 617.4 609.9 617.9 610.0 618.5 610.2 619.1 610.4 619.7 610.6 620.3 610.7 620.9 610.9 621.5 611.1 622.0 611.3 622.6 611.4 623.2 611.6 623.8 611.8 624.4 612.0 625.0 612.1 625.6 612.3 626.1 612.5 626.7 612.7 627.3 612.8 627.9 613.0" fill="none" stroke="#e377c2" stroke-width="0.60" stroke-opacity="0.16"/>
<path d="M494.3 585.4 494.8 585.6 495.3 585.8 495.9 585.9 496.4 586.1 497.0 586.3 497.5 586.4 498.0 586.6 498.6 586.7 499.1 586.9 499.7 587.1 500.2 587.2 500.7 587.4 501.3 587.5 501.8 587.7 502.4 587.8 502.9 588.0 503.4 588.2 504.0 588.3 504.5 588.5 505.1 588.6 505.6 588.8 506.1 588.9 506.7 589.1 507.2 589.2 507.8 589.4 508.3 589.5 508.9 589.7 509.4 589.9 509.9 590.0 510.5 590.2 511.0 590.3 511.6 590.5 512.1 590.6 512.7 590.8 513.2 590.9 513.8 591.1 514.3 591.2 514.8 591.4 515.4 591.5 515.9 591.7 516.5 591.8 517.0 592.0 517.6 592.1 518.1 592.3 518.7 592.4 519.2 592.6 519.8 592.7 520.3 592.8 520.9 593.0 521.4 593.1 522.0 593.3 522.5 593.4 523.1 593.5 523.6 593.7 524.2 593.8 524.7 593.9 525.3 594.0 525.8 594.2 526.4 594.3 526.9 594.4 527.5 594.5 528.0 594.6 528.6 594.7 529.1 594.8 529.7 594.9 530.2 595.0 530.8 595.1 531.3 595.2 531.9 595.3 532.4 595.4 533.0 595.5 533.5 595.5 534.1 595.5 534.6 595.6 535.2 595.6 535.7 595.5 536.3 595.5 536.9 595.4 537.4 595.3 538.0 595.1 538.5 594.5 539.0 593.4 539.6 591.9 540.1 589.9 540.6 587.7 541.1 585.2 541.7 582.3 542.2 578.5 542.7 573.7 543.2 568.4 543.6 562.9 544.1 557.7 544.6 552.9 545.2 548.4 545.7 543.8 546.2 539.6 546.7 536.6 547.3 535.7 547.9 537.6 548.5 541.9 549.2 547.8 549.8 555.4 550.5 563.0 551.1 567.3 551.7 569.5 552.3 571.2 552.9 572.6 553.4 573.8 554.0 574.8 554.6 575.7 555.2 576.7 555.8 577.7 556.3 578.8 556.9 579.9 557.5 580.9 558.1 582.0 558.7 583.0 559.2 584.0 559.8 585.0 560.4 586.1 561.0 587.2 561.6 588.3 562.1 589.6 562.7 590.8 563.3 592.0 563.9 593.2 564.4 594.3 565.0 595.4 565.6 596.3 566.2 597.1 566.7 597.9 567.3 598.7 567.9 599.5 568.5 600.2 569.0 601.0 569.6 601.7 570.2 602.4 570.8 603.0 571.3 603.6 571.9 604.2 572.5 604.8 573.0 605.3 573.6 605.8 574.2 606.3 574.8 606.7 575.3 607.1 575.9 607.5 576.5 607.8 577.1 608.2 577.6 608.5 578.2 608.8 578.8 609.2 579.4 609.5 579.9 609.8 580.5 610.1 581.1 610.3 581.7 610.6 582.2 610.8 582.8 611.1 583.4 611.3 584.0 611.5 584.6 611.8 585.1 612.0 585.7 612.2 586.3 612.4 586.9 612.7 587.5 612.9 588.0 613.1 588.6 613.3 589.2 613.5 589.8 613.7 590.4 613.9 590.9 614.1 591.5 614.3 592.1 614.6 592.7 614.8 593.3 615.0 593.8 615.2 594.4 615.4 595.0 615.6 595.6 615.8 596.2 616.0 596.8 616.2 597.3 616.4 597.9 616.6 598.5 616.8 599.1 617.0 599.7 617.2 600.3 617.4 600.9 617.6 601.4 617.7 602.0 617.9 602.6 618.1 603.2 618.3 603.8 618.5 604.4 618.7 605.0 618.9 605.5 619.1 606.1 619.3 606.7 619.5 607.3 619.7 607.9 619.9 608.5 620.1 609.1 620.3 609.7 620.5 610.3 620.7 610.8 620.9 611.4 621.1 612.0 621.3 612.6 621.5 613.2 621.6 613.8 621.8 614.4 622.0 615.0 622.2 615.6 622.4 616.2 622.6 616.8 622.8 617.4 623.0 618.0 623.1 618.0 623.1 617.4 623.0 616.8 622.8 616.2 622.6 615.6 622.4 615.0 622.2 614.4 622.1 613.8 621.9 613.2 621.7 612.6 621.5 612.0 621.3 611.4 621.2 610.8 621.0 610.3 620.8 609.7 620.6 609.1 620.4 608.5 620.3 607.9 620.1 607.3 619.9 606.7 619.7 606.1 619.5 605.5 619.4 605.0 619.2 604.4 619.0 603.8 618.8 603.2 618.6 602.6 618.5 602.0 618.3 601.4 618.1 600.8 617.9 600.3 617.8 599.7 617.6 599.1 617.4 598.5 617.2 597.9 617.0 597.3 616.9 596.8 616.7 596.2 616.5 595.6 616.3 595.0 616.1 594.4 616.0 593.8 615.8 593.3 615.6 592.7 615.4 592.1 615.3 591.5 615.1 590.9 614.9 590.3 614.7 589.8 614.6 589.2 614.4 588.6 614.2 588.0 614.0 587.4 613.8 586.9 613.7 586.3 613.5 585.7 613.3 585.1 613.1 584.6 613.0 584.0 612.8 583.4 612.6 582.8 612.4 582.2 612.3 581.7 612.1 581.1 611.9 580.5 611.7 579.9 611.6 579.4 611.4 578.8 611.2 578.2 611.0 577.6 610.9 577.1 610.7 576.5 610.5 575.9 610.3 575.3 610.2 574.8 610.0 574.2 609.8 573.6 609.6 573.0 609.5 572.5 609.3 571.9 609.1 571.3 608.9 570.8 608.8 570.2 608.6 569.6 608.4 569.0 608.2 568.5 608.1 567.9 607.9 567.3 607.7 566.8 607.5 566.2 607.4 565.6 607.2 565.0 607.0 564.5 606.8 563.9 606.7 563.3 606.5 562.8 606.3 562.2 606.2 561.6 606.0 561.1 605.8 560.5 605.6 559.9 605.5 559.4 605.3 558.8 605.1 558.2 604.9 557.7 604.8 557.1 604.6 556.5 604.4 556.0 604.3 555.4 604.1 554.8 603.9 554.3 603.7 553.7 603.6 553.1 603.4 552.6 603.2 552.0 603.0 551.5 602.9 550.9 602.7 550.3 602.5 549.8 602.4 549.2 602.2 548.6 602.0 548.1 601.8 547.5 601.7 547.0 601.5 546.4 601.3 545.8 601.2 545.3 601.0 544.7 600.8 544.2 600.7 543.6 600.5 543.0 600.3 542.5 600.1 541.9 600.0 541.4 599.8 540.8 599.6 540.3 599.5 539.7 599.3 539.1 599.1 538.6 598.9 538.0 598.8 537.5 598.6 536.9 598.4 536.4 598.3 535.8 598.1 535.2 597.9 534.7 597.8 534.1 597.6 533.6 597.4 533.0 597.3 532.5 597.1 531.9 596.9 531.4 596.7 530.8 596.6 530.3 596.4 529.7 596.2 529.1 596.1 528.6 595.9 528.0 595.7 527.5 595.6 526.9 595.4 526.4 595.2 525.8 595.1 525.3 594.9 524.7 594.7 524.2 594.6 523.6 594.4 523.1 594.2 522.5 594.1 522.0 593.9 521.4 593.7 520.9 593.6 520.3 593.4 519.8 593.2 519.2 593.1 518.7 592.9 518.1 592.7 517.6 592.5 517.0 592.4 516.5 592.2 515.9 592.0 515.4 591.9 514.9 591.7 514.3 591.5 513.8 591.4 513.2 591.2 512.7 591.1 512.1 590.9 511.6 590.7 511.0 590.6 510.5 590.4 509.9 590.2 509.4 590.1 508.9 589.9 508.3 589.7 507.8 589.6 507.2 589.4 506.7 589.2 506.1 589.1 505.6 588.9 505.1 588.7 504.5 588.6 504.0 588.4 503.4 588.2 502.9 588.1 502.4 587.9 501.8 587.7 501.3 587.6 500.7 587.4 500.2 587.2 499.7 587.1 499.1 586.9 498.6 586.8 498.0 586.6 497.5 586.4 497.0 586.3 496.4 586.1 495.9 585.9 495.3 585.8 494.8 585.6 494.3 585.4Z" fill="#9467bd" fill-opacity="0.60" stroke="none"/>
<path d="M494.3 585.4 494.8 585.6 495.3 585.8 495.9 585.9 496.4 586.1 497.0 586.3 497.5 586.4 498.0 586.6 498.6 586.8 499.1 586.9 499.7 587.1 500.2 587.2 500.7 587.4 501.3 587.6 501.8 587.7 502.4 587.9 502.9 588.1 503.4 588.2 504.0 588.4 504.5 588.6 505.1 588.7 505.6 588.9 506.1 589.1 506.7 589.2 507.2 589.4 507.8 589.6 508.3 589.7 508.9 589.9 509.4 590.1 509.9 590.2 510.5 590.4 511.0 590.6 511.6 590.7 512.1 590.9 512.7 591.1 513.2 591.2 513.8 591.4 514.3 591.5 514.9 591.7 515.4 591.9 515.9 592.0 516.5 592.2 517.0 592.4 517.6 592.5 518.1 592.7 518.7 592.9 519.2 593.1 519.8 593.2 520.3 593.4 520.9 593.6 521.4 593.7 522.0 593.9 522.5 594.1 523.1 594.2 523.6 594.4 524.2 594.6 524.7 594.7 525.3 594.9 525.8 595.1 526.4 595.2 526.9 595.4 527.5 595.6 528.0 595.7 528.6 595.9 529.1 596.1 529.7 596.2 530.3 596.4 530.8 596.6 531.4 596.7 531.9 596.9 532.5 597.1 533.0 597.3 533.6 597.4 534.1 597.6 534.7 597.8 535.2 597.9 535.8 598.1 536.4 598.3 536.9 598.4 537.5 598.6 538.0 598.8 538.6 598.9 539.1 599.1 539.7 599.3 540.3 599.5 540.8 599.6 541.4 599.8 541.9 600.0 542.5 600.1 543.0 600.3 543.6 600.5 544.2 600.7 544.7 600.8 545.3 601.0 545.8 601.2 546.4 601.3 547.0 601.5 547.5 601.7 548.1 601.8 548.6 602.0 549.2 602.2 549.8 602.4 550.3 602.5 550.9 602.7 551.5 602.9 552.0 603.0 552.6 603.2 553.1 603.4 553.7 603.6 554.3 603.7 554.8 603.9 555.4 604.1 556.0 604.3 556.5 604.4 557.1 604.6 557.7 604.8 558.2 604.9 558.8 605.1 559.4 605.3 559.9 605.5 560.5 605.6 561.1 605.8 561.6 606.0 562.2 606.2 562.8 606.3 563.3 606.5 563.9 606.7 564.5 606.8 565.0 607.0 565.6 607.2 566.2 607.4 566.8 607.5 567.3 607.7 567.9 607.9 568.5 608.1 569.0 608.2 569.6 608.4 570.2 608.6 570.8 608.8 571.3 608.9 571.9 609.1 572.5 609.3 573.0 609.5 573.6 609.6 574.2 609.8 574.8 610.0 575.3 610.2 575.9 610.3 576.5 610.5 577.1 610.7 577.6 610.9 578.2 611.0 578.8 611.2 579.4 611.4 579.9 611.6 580.5 611.7 581.1 611.9 581.7 612.1 582.2 612.3 582.8 612.4 583.4 612.6 584.0 612.8 584.6 613.0 585.1 613.1 585.7 613.3 586.3 613.5 586.9 613.7 587.4 613.8 588.0 614.0 588.6 614.2 589.2 614.4 589.8 614.6 590.3 614.7 590.9 614.9 591.5 615.1 592.1 615.3 592.7 615.4 593.3 615.6 593.8 615.8 594.4 616.0 595.0 616.1 595.6 616.3 596.2 616.5 596.8 616.7 597.3 616.9 597.9 617.0 598.5 617.2 599.1 617.4 599.7 617.6 600.3 617.8 600.8 617.9 601.4 618.1 602.0 618.3 602.6 618.5 603.2 618.6 603.8 618.8 604.4 619.0 605.0 619.2 605.5 619.4 606.1 619.5 606.7 619.7 607.3 619.9 607.9 620.1 608.5 620.3 609.1 620.4 609.7 620.6 610.3 620.8 610.8 621.0 611.4 621.2 612.0 621.3 612.6 621.5 613.2 621.7 613.8 621.9 614.4 622.1 615.0 622.2 615.6 622.4 616.2 622.6 616.8 622.8 617.4 623.0 618.0 623.1" fill="none" stroke="#9467bd" stroke-width="0.60" stroke-opacity="0.16"/>
<path d="M483.0 594.8 483.5 595.0 484.0 595.2 484.6 595.3 485.1 595.5 485.7 595.7 486.2 595.8 486.7 596.0 487.3 596.2 487.8 596.3 488.4 596.5 488.9 596.7 489.5 596.8 490.0 597.0 490.6 597.1 491.1 597.3 491.6 597.5 492.2 597.6 492.7 597.8 493.3 597.9 493.8 598.1 494.4 598.3 494.9 598.4 495.5 598.6 496.0 598.7 496.6 598.9 497.1 599.1 497.7 599.2 498.2 599.4 498.8 599.5 499.3 599.7 499.8 599.8 500.4 600.0 500.9 600.2 501.5 600.3 502.0 600.5 502.6 600.6 503.1 600.8 503.7 600.9 504.2 601.1 504.8 601.2 505.3 601.4 505.9 601.5 506.5 601.7 507.0 601.9 507.6 602.0 508.1 602.2 508.7 602.3 509.2 602.5 509.8 602.6 510.3 602.7 510.9 602.9 511.4 603.0 512.0 603.2 512.5 603.3 513.1 603.4 513.6 603.6 514.2 603.7 514.8 603.8 515.3 603.9 515.9 604.1 516.4 604.2 517.0 604.3 517.5 604.4 518.1 604.5 518.6 604.6 519.2 604.7 519.8 604.8 520.3 604.9 520.9 605.0 521.4 605.0 522.0 605.1 522.5 605.1 523.1 605.1 523.6 605.1 524.2 605.1 524.8 605.0 525.3 604.9 525.9 604.8 526.4 604.6 527.0 604.1 527.5 603.2 528.0 602.0 528.6 600.4 529.1 598.7 529.6 596.7 530.1 594.7 530.6 592.4 531.2 589.4 531.7 585.9 532.1 582.0 532.6 578.2 533.1 574.7 533.7 571.7 534.2 569.2 534.7 566.7 535.2 564.5 535.8 562.9 536.4 562.4 537.0 563.2 537.6 565.2 538.2 567.9 538.8 570.7 539.4 573.3 540.0 575.7 540.7 578.1 541.3 580.5 541.9 582.4 542.5 583.7 543.1 584.7 543.6 585.4 544.2 586.0 544.8 586.6 545.4 587.1 546.0 587.5 546.6 587.9 547.1 588.2 547.7 588.5 548.3 588.7 548.9 588.9 549.5 589.2 550.0 589.5 550.6 589.9 551.2 590.3 551.8 590.8 552.4 591.5 553.0 592.6 553.6 594.1 554.2 595.9 554.7 597.7 555.3 599.4 555.9 601.0 556.5 602.4 557.1 603.8 557.7 605.2 558.3 606.6 558.9 608.0 559.5 609.3 560.0 610.6 560.6 611.7 561.2 612.8 561.8 613.7 562.4 614.5 563.0 615.1 563.5 615.6 564.1 616.1 564.7 616.6 565.3 617.1 565.9 617.5 566.4 617.9 567.0 618.3 567.6 618.7 568.2 619.1 568.8 619.4 569.4 619.8 569.9 620.1 570.5 620.4 571.1 620.7 571.7 620.9 572.3 621.2 572.9 621.4 573.4 621.7 574.0 621.9 574.6 622.1 575.2 622.4 575.8 622.6 576.4 622.8 576.9 623.0 577.5 623.3 578.1 623.5 578.7 623.7 579.3 623.9 579.9 624.1 580.5 624.3 581.0 624.5 581.6 624.7 582.2 625.0 582.8 625.2 583.4 625.4 584.0 625.6 584.6 625.8 585.2 626.0 585.7 626.2 586.3 626.4 586.9 626.6 587.5 626.8 588.1 627.0 588.7 627.2 589.3 627.4 589.9 627.6 590.5 627.8 591.1 628.0 591.6 628.2 592.2 628.4 592.8 628.6 593.4 628.8 594.0 629.0 594.6 629.2 595.2 629.4 595.8 629.6 596.4 629.8 597.0 630.0 597.6 630.2 598.2 630.4 598.8 630.6 599.4 630.8 600.0 631.0 600.6 631.2 601.2 631.4 601.7 631.6 602.3 631.8 602.9 632.0 603.5 632.2 604.1 632.4 604.7 632.6 605.3 632.8 605.9 633.0 606.5 633.2 607.1 633.4 607.7 633.6 607.7 633.6 607.1 633.4 606.5 633.2 605.9 633.0 605.3 632.8 604.7 632.6 604.1 632.4 603.5 632.3 602.9 632.1 602.3 631.9 601.7 631.7 601.2 631.5 600.6 631.3 600.0 631.1 599.4 631.0 598.8 630.8 598.2 630.6 597.6 630.4 597.0 630.2 596.4 630.0 595.8 629.8 595.2 629.7 594.6 629.5 594.0 629.3 593.4 629.1 592.8 628.9 592.2 628.7 591.6 628.6 591.1 628.4 590.5 628.2 589.9 628.0 589.3 627.8 588.7 627.6 588.1 627.5 587.5 627.3 586.9 627.1 586.3 626.9 585.7 626.7 585.2 626.5 584.6 626.4 584.0 626.2 583.4 626.0 582.8 625.8 582.2 625.6 581.6 625.5 581.0 625.3 580.5 625.1 579.9 624.9 579.3 624.7 578.7 624.5 578.1 624.4 577.5 624.2 576.9 624.0 576.4 623.8 575.8 623.6 575.2 623.5 574.6 623.3 574.0 623.1 573.4 622.9 572.8 622.7 572.3 622.6 571.7 622.4 571.1 622.2 570.5 622.0 569.9 621.8 569.4 621.6 568.8 621.5 568.2 621.3 567.6 621.1 567.0 620.9 566.5 620.7 565.9 620.6 565.3 620.4 564.7 620.2 564.1 620.0 563.6 619.8 563.0 619.7 562.4 619.5 561.8 619.3 561.2 619.1 560.7 619.0 560.1 618.8 559.5 618.6 558.9 618.4 558.4 618.2 557.8 618.1 557.2 617.9 556.6 617.7 556.1 617.5 555.5 617.3 554.9 617.2 554.3 617.0 553.8 616.8 553.2 616.6 552.6 616.5 552.0 616.3 551.5 616.1 550.9 615.9 550.3 615.7 549.7 615.6 549.2 615.4 548.6 615.2 548.0 615.0 547.5 614.9 546.9 614.7 546.3 614.5 545.7 614.3 545.2 614.1 544.6 614.0 544.0 613.8 543.5 613.6 542.9 613.4 542.3 613.3 541.8 613.1 541.2 612.9 540.6 612.7 540.1 612.6 539.5 612.4 538.9 612.2 538.4 612.0 537.8 611.9 537.2 611.7 536.7 611.5 536.1 611.3 535.5 611.2 535.0 611.0 534.4 610.8 533.8 610.6 533.3 610.5 532.7 610.3 532.1 610.1 531.6 609.9 531.0 609.8 530.4 609.6 529.9 609.4 529.3 609.2 528.8 609.1 528.2 608.9 527.6 608.7 527.1 608.5 526.5 608.4 525.9 608.2 525.4 608.0 524.8 607.8 524.3 607.7 523.7 607.5 523.1 607.3 522.6 607.1 522.0 607.0 521.5 606.8 520.9 606.6 520.4 606.4 519.8 606.3 519.2 606.1 518.7 605.9 518.1 605.8 517.6 605.6 517.0 605.4 516.4 605.2 515.9 605.1 515.3 604.9 514.8 604.7 514.2 604.5 513.7 604.4 513.1 604.2 512.6 604.0 512.0 603.9 511.4 603.7 510.9 603.5 510.3 603.3 509.8 603.2 509.2 603.0 508.7 602.8 508.1 602.7 507.6 602.5 507.0 602.3 506.5 602.1 505.9 602.0 505.4 601.8 504.8 601.6 504.3 601.5 503.7 601.3 503.2 601.1 502.6 600.9 502.1 600.8 501.5 600.6 501.0 600.4 500.4 600.3 499.9 600.1 499.3 599.9 498.8 599.7 498.2 599.6 497.7 599.4 497.1 599.2 496.6 599.1 496.0 598.9 495.5 598.7 494.9 598.6 494.4 598.4 493.8 598.2 493.3 598.0 492.7 597.9 492.2 597.7 491.6 597.5 491.1 597.4 490.6 597.2 490.0 597.0 489.5 596.9 488.9 596.7 488.4 596.5 487.8 596.4 487.3 596.2 486.7 596.0 486.2 595.9 485.7 595.7 485.1 595.5 484.6 595.3 484.0 595.2 483.5 595.0 483.0 594.8Z" fill="#d62728" fill-opacity="0.60" stroke="none"/>
<path d="M483.0 594.8 483.5 595.0 484.0 595.2 484.6 595.3 485.1 595.5 485.7 595.7 486.2 595.9 486.7 596.0 487.3 596.2 487.8 596.4 488.4 596.5 488.9 596.7 489.5 596.9 490.0 597.0 490.6 597.2 491.1 597.4 491.6 597.5 492.2 597.7 492.7 597.9 493.3 598.0 493.8 598.2 494.4 598.4 494.9 598.6 495.5 598.7 496.0 598.9 496.6 599.1 497.1 599.2 497.7 599.4 498.2 599.6 498.8 599.7 499.3 599.9 499.9 600.1 500.4 600.3 501.0 600.4 501.5 600.6 502.1 600.8 502.6 600.9 503.2 601.1 503.7 601.3 504.3 601.5 504.8 601.6 505.4 601.8 505.9 602.0 506.5 602.1 507.0 602.3 507.6 602.5 508.1 602.7 508.7 602.8 509.2 603.0 509.8 603.2 510.3 603.3 510.9 603.5 511.4 603.7 512.0 603.9 512.6 604.0 513.1 604.2 513.7 604.4 514.2 604.5 514.8 604.7 515.3 604.9 515.9 605.1 516.4 605.2 517.0 605.4 517.6 605.6 518.1 605.8 518.7 605.9 519.2 606.1 519.8 606.3 520.4 606.4 520.9 606.6 521.5 606.8 522.0 607.0 522.6 607.1 523.1 607.3 523.7 607.5 524.3 607.7 524.8 607.8 525.4 608.0 525.9 608.2 526.5 608.4 527.1 608.5 527.6 608.7 528.2 608.9 528.8 609.1 529.3 609.2 529.9 609.4 530.4 609.6 531.0 609.8 531.6 609.9 532.1 610.1 532.7 610.3 533.3 610.5 533.8 610.6 534.4 610.8 535.0 611.0 535.5 611.2 536.1 611.3 536.7 611.5 537.2 611.7 537.8 611.9 538.4 612.0 538.9 612.2 539.5 612.4 540.1 612.6 540.6 612.7 541.2 612.9 541.8 613.1 542.3 613.3 542.9 613.4 543.5 613.6 544.0 613.8 544.6 614.0 545.2 614.1 545.7 614.3 546.3 614.5 546.9 614.7 547.5 614.9 548.0 615.0 548.6 615.2 549.2 615.4 549.7 615.6 550.3 615.7 550.9 615.9 551.5 616.1 552.0 616.3 552.6 616.5 553.2 616.6 553.8 616.8 554.3 617.0 554.9 617.2 555.5 617.3 556.1 617.5 556.6 617.7 557.2 617.9 557.8 618.1 558.4 618.2 558.9 618.4 559.5 618.6 560.1 618.8 560.7 619.0 561.2 619.1 561.8 619.3 562.4 619.5 563.0 619.7 563.6 619.8 564.1 620.0 564.7 620.2 565.3 620.4 565.9 620.6 566.5 620.7 567.0 620.9 567.6 621.1 568.2 621.3 568.8 621.5 569.4 621.6 569.9 621.8 570.5 622.0 571.1 622.2 571.7 622.4 572.3 622.6 572.8 622.7 573.4 622.9 574.0 623.1 574.6 623.3 575.2 623.5 575.8 623.6 576.4 623.8 576.9 624.0 577.5 624.2 578.1 624.4 578.7 624.5 579.3 624.7 579.9 624.9 580.5 625.1 581.0 625.3 581.6 625.5 582.2 625.6 582.8 625.8 583.4 626.0 584.0 626.2 584.6 626.4 585.2 626.5 585.7 626.7 586.3 626.9 586.9 627.1 587.5 627.3 588.1 627.5 588.7 627.6 589.3 627.8 589.9 628.0 590.5 628.2 591.1 628.4 591.6 628.6 592.2 628.7 592.8 628.9 593.4 629.1 594.0 629.3 594.6 629.5 595.2 629.7 595.8 629.8 596.4 630.0 597.0 630.2 597.6 630.4 598.2 630.6 598.8 630.8 599.4 631.0 600.0 631.1 600.6 631.3 601.2 631.5 601.7 631.7 602.3 631.9 602.9 632.1 603.5 632.3 604.1 632.4 604.7 632.6 605.3 632.8 605.9 633.0 606.5 633.2 607.1 633.4 607.7 633.6" fill="none" stroke="#d62728" stroke-width="0.60" stroke-opacity="0.16"/>
<path d="M471.5 604.4 472.0 604.5 472.6 604.7 473.1 604.9 473.7 605.0 474.2 605.2 474.8 605.4 475.3 605.6 475.9 605.7 476.4 605.9 477.0 606.1 477.5 606.2 478.1 606.4 478.6 606.6 479.2 606.7 479.7 606.9 480.3 607.1 480.8 607.2 481.4 607.4 481.9 607.5 482.5 607.7 483.0 607.9 483.6 608.0 484.1 608.2 484.7 608.4 485.2 608.5 485.8 608.7 486.3 608.9 486.9 609.0 487.4 609.2 488.0 609.3 488.5 609.5 489.1 609.7 489.6 609.8 490.2 610.0 490.7 610.1 491.3 610.3 491.9 610.5 492.4 610.6 493.0 610.8 493.5 610.9 494.1 611.1 494.6 611.2 495.2 611.4 495.7 611.6 496.3 611.7 496.9 611.9 497.4 612.0 498.0 612.2 498.5 612.3 499.1 612.5 499.6 612.6 500.2 612.8 500.8 612.9 501.3 613.0 501.9 613.2 502.4 613.3 503.0 613.4 503.6 613.6 504.1 613.7 504.7 613.8 505.2 613.9 505.8 614.1 506.4 614.2 506.9 614.3 507.5 614.4 508.0 614.5 508.6 614.6 509.2 614.7 509.7 614.8 510.3 614.9 510.8 615.0 511.4 615.0 512.0 615.1 512.5 615.1 513.1 615.2 513.6 615.2 514.2 615.2 514.8 615.1 515.3 615.1 515.9 615.0 516.4 614.9 517.0 614.7 517.6 614.3 518.1 613.7 518.6 613.0 519.2 612.1 519.7 611.2 520.3 610.1 520.8 608.9 521.3 607.5 521.9 605.7 522.4 603.5 522.9 600.5 523.3 596.0 523.8 589.7 524.1 581.9 524.5 572.0 524.8 559.8 525.1 548.2 525.5 538.9 526.0 533.5 526.6 536.0 527.4 545.3 528.3 558.1 529.2 572.8 530.0 585.0 530.7 592.0 531.4 596.3 532.0 599.3 532.7 601.3 533.3 602.9 533.9 604.1 534.5 605.2 535.1 606.2 535.7 607.1 536.2 607.9 536.8 608.7 537.4 609.5 538.0 610.2 538.6 610.9 539.2 611.6 539.8 612.3 540.4 612.9 541.0 613.6 541.6 614.2 542.1 614.9 542.7 615.6 543.3 616.3 543.9 617.0 544.5 617.8 545.1 618.5 545.7 619.3 546.3 620.0 546.9 620.8 547.5 621.5 548.1 622.2 548.6 622.9 549.2 623.6 549.8 624.2 550.4 624.8 551.0 625.3 551.6 625.8 552.2 626.2 552.8 626.6 553.3 627.0 553.9 627.4 554.5 627.8 555.1 628.1 555.7 628.5 556.3 628.8 556.9 629.1 557.5 629.5 558.0 629.8 558.6 630.1 559.2 630.4 559.8 630.7 560.4 630.9 561.0 631.2 561.6 631.4 562.2 631.7 562.7 631.9 563.3 632.1 563.9 632.4 564.5 632.6 565.1 632.8 565.7 633.1 566.3 633.3 566.9 633.5 567.5 633.7 568.1 634.0 568.7 634.2 569.2 634.4 569.8 634.6 570.4 634.8 571.0 635.1 571.6 635.3 572.2 635.5 572.8 635.7 573.4 635.9 574.0 636.1 574.6 636.3 575.2 636.5 575.8 636.8 576.4 637.0 577.0 637.2 577.6 637.4 578.2 637.6 578.7 637.8 579.3 638.0 579.9 638.2 580.5 638.4 581.1 638.6 581.7 638.8 582.3 639.0 582.9 639.2 583.5 639.5 584.1 639.7 584.7 639.9 585.3 640.1 585.9 640.3 586.5 640.5 587.1 640.7 587.7 640.9 588.3 641.1 588.9 641.3 589.5 641.5 590.1 641.7 590.7 641.9 591.3 642.1 591.9 642.3 592.5 642.5 593.1 642.7 593.7 642.9 594.3 643.1 594.9 643.3 595.6 643.5 596.2 643.7 596.8 643.9 597.4 644.1 597.4 644.1 596.8 643.9 596.2 643.7 595.6 643.5 594.9 643.3 594.3 643.1 593.7 643.0 593.1 642.8 592.5 642.6 591.9 642.4 591.3 642.2 590.7 642.0 590.1 641.8 589.5 641.6 588.9 641.4 588.3 641.2 587.7 641.1 587.1 640.9 586.5 640.7 585.9 640.5 585.3 640.3 584.7 640.1 584.1 639.9 583.5 639.7 582.9 639.5 582.3 639.4 581.7 639.2 581.1 639.0 580.5 638.8 579.9 638.6 579.3 638.4 578.7 638.2 578.1 638.0 577.6 637.8 577.0 637.7 576.4 637.5 575.8 637.3 575.2 637.1 574.6 636.9 574.0 636.7 573.4 636.5 572.8 636.3 572.2 636.2 571.6 636.0 571.0 635.8 570.4 635.6 569.8 635.4 569.2 635.2 568.7 635.0 568.1 634.8 567.5 634.7 566.9 634.5 566.3 634.3 565.7 634.1 565.1 633.9 564.5 633.7 563.9 633.5 563.3 633.4 562.8 633.2 562.2 633.0 561.6 632.8 561.0 632.6 560.4 632.4 559.8 632.2 559.2 632.1 558.6 631.9 558.1 631.7 557.5 631.5 556.9 631.3 556.3 631.1 555.7 630.9 555.1 630.8 554.5 630.6 554.0 630.4 553.4 630.2 552.8 630.0 552.2 629.8 551.6 629.7 551.0 629.5 550.5 629.3 549.9 629.1 549.3 628.9 548.7 628.7 548.1 628.6 547.5 628.4 547.0 628.2 546.4 628.0 545.8 627.8 545.2 627.6 544.6 627.5 544.1 627.3 543.5 627.1 542.9 626.9 542.3 626.7 541.7 626.5 541.2 626.4 540.6 626.2 540.0 626.0 539.4 625.8 538.9 625.6 538.3 625.4 537.7 625.3 537.1 625.1 536.5 624.9 536.0 624.7 535.4 624.5 534.8 624.4 534.2 624.2 533.7 624.0 533.1 623.8 532.5 623.6 531.9 623.4 531.4 623.3 530.8 623.1 530.2 622.9 529.7 622.7 529.1 622.5 528.5 622.4 527.9 622.2 527.4 622.0 526.8 621.8 526.2 621.6 525.7 621.5 525.1 621.3 524.5 621.1 523.9 620.9 523.4 620.7 522.8 620.6 522.2 620.4 521.7 620.2 521.1 620.0 520.5 619.8 520.0 619.7 519.4 619.5 518.8 619.3 518.3 619.1 517.7 618.9 517.1 618.8 516.5 618.6 516.0 618.4 515.4 618.2 514.9 618.0 514.3 617.9 513.7 617.7 513.2 617.5 512.6 617.3 512.0 617.2 511.5 617.0 510.9 616.8 510.3 616.6 509.8 616.4 509.2 616.3 508.6 616.1 508.1 615.9 507.5 615.7 507.0 615.6 506.4 615.4 505.8 615.2 505.3 615.0 504.7 614.8 504.1 614.7 503.6 614.5 503.0 614.3 502.5 614.1 501.9 614.0 501.3 613.8 500.8 613.6 500.2 613.4 499.7 613.3 499.1 613.1 498.5 612.9 498.0 612.7 497.4 612.5 496.9 612.4 496.3 612.2 495.8 612.0 495.2 611.8 494.6 611.7 494.1 611.5 493.5 611.3 493.0 611.1 492.4 611.0 491.9 610.8 491.3 610.6 490.8 610.4 490.2 610.3 489.6 610.1 489.1 609.9 488.5 609.7 488.0 609.6 487.4 609.4 486.9 609.2 486.3 609.0 485.8 608.9 485.2 608.7 484.7 608.5 484.1 608.3 483.6 608.2 483.0 608.0 482.5 607.8 481.9 607.6 481.4 607.5 480.8 607.3 480.3 607.1 479.7 607.0 479.2 606.8 478.6 606.6 478.1 606.4 477.5 606.3 477.0 606.1 476.4 605.9 475.9 605.7 475.3 605.6 474.8 605.4 474.2 605.2 473.7 605.0 473.1 604.9 472.6 604.7 472.0 604.5 471.5 604.4Z" fill="#2ca02c" fill-opacity="0.60" stroke="none"/>
<path d="M471.5 604.4 472.0 604.5 472.6 604.7 473.1 604.9 473.7 605.0 474.2 605.2 474.8 605.4 475.3 605.6 475.9 605.7 476.4 605.9 477.0 606.1 477.5 606.3 478.1 606.4 478.6 606.6 479.2 606.8 479.7 607.0 480.3 607.1 480.8 607.3 481.4 607.5 481.9 607.6 482.5 607.8 483.0 608.0 483.6 608.2 484.1 608.3 484.7 608.5 485.2 608.7 485.8 608.9 486.3 609.0 486.9 609.2 487.4 609.4 488.0 609.6 488.5 609.7 489.1 609.9 489.6 610.1 490.2 610.3 490.8 610.4 491.3 610.6 491.9 610.8 492.4 611.0 493.0 611.1 493.5 611.3 494.1 611.5 494.6 611.7 495.2 611.8 495.8 612.0 496.3 612.2 496.9 612.4 497.4 612.5 498.0 612.7 498.5 612.9 499.1 613.1 499.7 613.3 500.2 613.4 500.8 613.6 501.3 613.8 501.9 614.0 502.5 614.1 503.0 614.3 503.6 614.5 504.1 614.7 504.7 614.8 505.3 615.0 505.8 615.2 506.4 615.4 507.0 615.6 507.5 615.7 508.1 615.9 508.6 616.1 509.2 616.3 509.8 616.4 510.3 616.6 510.9 616.8 511.5 617.0 512.0 617.2 512.6 617.3 513.2 617.5 513.7 617.7 514.3 617.9 514.9 618.0 515.4 618.2 516.0 618.4 516.5 618.6 517.1 618.8 517.7 618.9 518.3 619.1 518.8 619.3 519.4 619.5 520.0 619.7 520.5 619.8 521.1 620.0 521.7 620.2 522.2 620.4 522.8 620.6 523.4 620.7 523.9 620.9 524.5 621.1 525.1 621.3 525.7 621.5 526.2 621.6 526.8 621.8 527.4 622.0 527.9 622.2 528.5 622.4 529.1 622.5 529.7 622.7 530.2 622.9 530.8 623.1 531.4 623.3 531.9 623.4 532.5 623.6 533.1 623.8 533.7 624.0 534.2 624.2 534.8 624.4 535.4 624.5 536.0 624.7 536.5 624.9 537.1 625.1 537.7 625.3 538.3 625.4 538.9 625.6 539.4 625.8 540.0 626.0 540.6 626.2 541.2 626.4 541.7 626.5 542.3 626.7 542.9 626.9 543.5 627.1 544.1 627.3 544.6 627.5 545.2 627.6 545.8 627.8 546.4 628.0 547.0 628.2 547.5 628.4 548.1 628.6 548.7 628.7 549.3 628.9 549.9 629.1 550.5 629.3 551.0 629.5 551.6 629.7 552.2 629.8 552.8 630.0 553.4 630.2 554.0 630.4 554.5 630.6 555.1 630.8 555.7 630.9 556.3 631.1 556.9 631.3 557.5 631.5 558.1 631.7 558.6 631.9 559.2 632.1 559.8 632.2 560.4 632.4 561.0 632.6 561.6 632.8 562.2 633.0 562.8 633.2 563.3 633.4 563.9 633.5 564.5 633.7 565.1 633.9 565.7 634.1 566.3 634.3 566.9 634.5 567.5 634.7 568.1 634.8 568.7 635.0 569.2 635.2 569.8 635.4 570.4 635.6 571.0 635.8 571.6 636.0 572.2 636.2 572.8 636.3 573.4 636.5 574.0 636.7 574.6 636.9 575.2 637.1 575.8 637.3 576.4 637.5 577.0 637.7 577.6 637.8 578.1 638.0 578.7 638.2 579.3 638.4 579.9 638.6 580.5 638.8 581.1 639.0 581.7 639.2 582.3 639.4 582.9 639.5 583.5 639.7 584.1 639.9 584.7 640.1 585.3 640.3 585.9 640.5 586.5 640.7 587.1 640.9 587.7 641.1 588.3 641.2 588.9 641.4 589.5 641.6 590.1 641.8 590.7 642.0 591.3 642.2 591.9 642.4 592.5 642.6 593.1 642.8 593.7 643.0 594.3 643.1 594.9 643.3 595.6 643.5 596.2 643.7 596.8 643.9 597.4 644.1" fill="none" stroke="#2ca02c" stroke-width="0.60" stroke-opacity="0.16"/>
<path d="M459.9 614.0 460.5 614.2 461.0 614.3 461.6 614.5 462.1 614.7 462.7 614.9 463.2 615.0 463.8 615.2 464.3 615.4 464.9 615.6 465.4 615.7 466.0 615.9 466.5 616.1 467.1 616.2 467.6 616.4 468.2 616.6 468.7 616.8 469.3 616.9 469.8 617.1 470.4 617.3 471.0 617.4 471.5 617.6 472.1 617.8 472.6 617.9 473.2 618.1 473.7 618.3 474.3 618.4 474.8 618.6 475.4 618.8 476.0 618.9 476.5 619.1 477.1 619.3 477.6 619.4 478.2 619.6 478.7 619.8 479.3 619.9 479.9 620.1 480.4 620.2 481.0 620.4 481.5 620.6 482.1 620.7 482.7 620.9 483.2 621.1 483.8 621.2 484.3 621.4 484.9 621.5 485.5 621.7 486.0 621.9 486.6 622.0 487.2 622.2 487.7 622.3 488.3 622.5 488.8 622.6 489.4 622.8 490.0 622.9 490.5 623.1 491.1 623.2 491.7 623.3 492.2 623.5 492.8 623.6 493.3 623.7 493.9 623.9 494.5 624.0 495.0 624.1 495.6 624.2 496.2 624.3 496.7 624.4 497.3 624.5 497.9 624.6 498.4 624.7 499.0 624.8 499.6 624.8 500.1 624.9 500.7 624.9 501.2 624.9 501.8 624.8 502.4 624.8 502.9 624.7 503.5 624.5 504.0 624.2 504.6 623.6 505.1 622.8 505.7 621.9 506.2 620.9 506.7 619.7 507.3 618.3 507.8 616.7 508.3 614.5 508.8 611.8 509.2 608.6 509.7 605.1 510.1 601.5 510.6 597.6 511.1 593.3 511.5 588.3 511.9 583.1 512.3 578.2 512.8 574.0 513.3 570.5 513.8 567.5 514.3 564.9 514.9 563.4 515.5 563.5 516.1 565.5 516.8 568.9 517.5 572.7 518.2 576.2 518.9 579.6 519.5 583.1 520.2 586.5 520.9 589.9 521.6 593.1 522.2 596.1 522.9 598.8 523.5 601.4 524.2 603.9 524.8 606.3 525.5 608.5 526.1 610.6 526.7 612.6 527.3 614.3 528.0 615.9 528.6 617.3 529.2 618.6 529.8 619.8 530.4 621.0 531.0 622.1 531.6 623.1 532.2 624.1 532.8 625.0 533.4 625.9 534.0 626.7 534.6 627.5 535.2 628.4 535.8 629.3 536.4 630.2 537.0 631.3 537.6 632.3 538.3 633.4 538.9 634.4 539.5 635.3 540.1 636.2 540.7 636.8 541.2 637.4 541.8 637.8 542.4 638.2 543.0 638.5 543.6 638.9 544.2 639.2 544.8 639.5 545.4 639.9 546.0 640.1 546.6 640.4 547.2 640.7 547.8 641.0 548.4 641.2 549.0 641.5 549.5 641.7 550.1 642.0 550.7 642.2 551.3 642.4 551.9 642.7 552.5 642.9 553.1 643.1 553.7 643.4 554.3 643.6 554.9 643.8 555.5 644.0 556.1 644.3 556.7 644.5 557.3 644.7 557.9 644.9 558.5 645.1 559.1 645.3 559.7 645.6 560.3 645.8 560.9 646.0 561.5 646.2 562.1 646.4 562.7 646.6 563.3 646.8 563.9 647.0 564.5 647.2 565.1 647.4 565.7 647.7 566.3 647.9 566.9 648.1 567.5 648.3 568.1 648.5 568.7 648.7 569.3 648.9 569.9 649.1 570.5 649.3 571.1 649.5 571.7 649.7 572.3 649.9 572.9 650.1 573.5 650.4 574.1 650.6 574.7 650.8 575.3 651.0 575.9 651.2 576.5 651.4 577.1 651.6 577.7 651.8 578.3 652.0 578.9 652.2 579.6 652.4 580.2 652.6 580.8 652.8 581.4 653.0 582.0 653.2 582.6 653.4 583.2 653.6 583.8 653.8 584.4 654.0 585.0 654.2 585.6 654.4 586.3 654.6 586.9 654.8 586.9 654.8 586.3 654.6 585.6 654.4 585.0 654.2 584.4 654.0 583.8 653.8 583.2 653.6 582.6 653.4 582.0 653.2 581.4 653.0 580.8 652.8 580.2 652.6 579.6 652.4 578.9 652.2 578.3 652.0 577.7 651.9 577.1 651.7 576.5 651.5 575.9 651.3 575.3 651.1 574.7 650.9 574.1 650.7 573.5 650.5 572.9 650.3 572.3 650.1 571.7 649.9 571.1 649.7 570.5 649.5 569.9 649.3 569.3 649.1 568.7 648.9 568.1 648.7 567.5 648.6 566.9 648.4 566.3 648.2 565.7 648.0 565.1 647.8 564.5 647.6 563.9 647.4 563.3 647.2 562.7 647.0 562.1 646.8 561.5 646.6 560.9 646.4 560.3 646.2 559.7 646.0 559.1 645.9 558.5 645.7 557.9 645.5 557.3 645.3 556.7 645.1 556.1 644.9 555.5 644.7 554.9 644.5 554.3 644.3 553.7 644.1 553.1 643.9 552.5 643.8 551.9 643.6 551.3 643.4 550.7 643.2 550.2 643.0 549.6 642.8 549.0 642.6 548.4 642.4 547.8 642.2 547.2 642.0 546.6 641.8 546.0 641.7 545.4 641.5 544.8 641.3 544.2 641.1 543.6 640.9 543.1 640.7 542.5 640.5 541.9 640.3 541.3 640.1 540.7 640.0 540.1 639.8 539.5 639.6 538.9 639.4 538.4 639.2 537.8 639.0 537.2 638.8 536.6 638.6 536.0 638.4 535.4 638.3 534.8 638.1 534.2 637.9 533.7 637.7 533.1 637.5 532.5 637.3 531.9 637.1 531.3 636.9 530.7 636.8 530.2 636.6 529.6 636.4 529.0 636.2 528.4 636.0 527.8 635.8 527.2 635.6 526.7 635.4 526.1 635.3 525.5 635.1 524.9 634.9 524.3 634.7 523.8 634.5 523.2 634.3 522.6 634.1 522.0 633.9 521.4 633.8 520.9 633.6 520.3 633.4 519.7 633.2 519.1 633.0 518.5 632.8 518.0 632.6 517.4 632.5 516.8 632.3 516.2 632.1 515.7 631.9 515.1 631.7 514.5 631.5 513.9 631.3 513.4 631.2 512.8 631.0 512.2 630.8 511.6 630.6 511.1 630.4 510.5 630.2 509.9 630.1 509.3 629.9 508.8 629.7 508.2 629.5 507.6 629.3 507.0 629.1 506.5 629.0 505.9 628.8 505.3 628.6 504.8 628.4 504.2 628.2 503.6 628.0 503.0 627.9 502.5 627.7 501.9 627.5 501.3 627.3 500.8 627.1 500.2 626.9 499.6 626.8 499.1 626.6 498.5 626.4 497.9 626.2 497.4 626.0 496.8 625.8 496.2 625.7 495.7 625.5 495.1 625.3 494.5 625.1 494.0 624.9 493.4 624.7 492.8 624.6 492.3 624.4 491.7 624.2 491.1 624.0 490.6 623.8 490.0 623.7 489.4 623.5 488.9 623.3 488.3 623.1 487.7 622.9 487.2 622.8 486.6 622.6 486.1 622.4 485.5 622.2 484.9 622.0 484.4 621.8 483.8 621.7 483.2 621.5 482.7 621.3 482.1 621.1 481.6 620.9 481.0 620.8 480.4 620.6 479.9 620.4 479.3 620.2 478.8 620.0 478.2 619.9 477.6 619.7 477.1 619.5 476.5 619.3 476.0 619.2 475.4 619.0 474.9 618.8 474.3 618.6 473.7 618.4 473.2 618.3 472.6 618.1 472.1 617.9 471.5 617.7 471.0 617.5 470.4 617.4 469.9 617.2 469.3 617.0 468.7 616.8 468.2 616.7 467.6 616.5 467.1 616.3 466.5 616.1 466.0 615.9 465.4 615.8 464.9 615.6 464.3 615.4 463.8 615.2 463.2 615.1 462.7 614.9 462.1 614.7 461.6 614.5 461.0 614.3 460.5 614.2 459.9 614.0Z" fill="#ff7f0e" fill-opacity="0.60" stroke="none"/>
<path d="M459.9 614.0 460.5 614.2 461.0 614.3 461.6 614.5 462.1 614.7 462.7 614.9 463.2 615.1 463.8 615.2 464.3 615.4 464.9 615.6 465.4 615.8 466.0 615.9 466.5 616.1 467.1 616.3 467.6 616.5 468.2 616.7 468.7 616.8 469.3 617.0 469.9 617.2 470.4 617.4 471.0 617.5 471.5 617.7 472.1 617.9 472.6 618.1 473.2 618.3 473.7 618.4 474.3 618.6 474.9 618.8 475.4 619.0 476.0 619.2 476.5 619.3 477.1 619.5 477.6 619.7 478.2 619.9 478.8 620.0 479.3 620.2 479.9 620.4 480.4 620.6 481.0 620.8 481.6 620.9 482.1 621.1 482.7 621.3 483.2 621.5 483.8 621.7 484.4 621.8 484.9 622.0 485.5 622.2 486.1 622.4 486.6 622.6 487.2 622.8 487.7 622.9 488.3 623.1 488.9 623.3 489.4 623.5 490.0 623.7 490.6 623.8 491.1 624.0 491.7 624.2 492.3 624.4 492.8 624.6 493.4 624.7 494.0 624.9 494.5 625.1 495.1 625.3 495.7 625.5 496.2 625.7 496.8 625.8 497.4 626.0 497.9 626.2 498.5 626.4 499.1 626.6 499.6 626.8 500.2 626.9 500.8 627.1 501.3 627.3 501.9 627.5 502.5 627.7 503.0 627.9 503.6 628.0 504.2 628.2 504.8 628.4 505.3 628.6 505.9 628.8 506.5 629.0 507.0 629.1 507.6 629.3 508.2 629.5 508.8 629.7 509.3 629.9 509.9 630.1 510.5 630.2 511.1 630.4 511.6 630.6 512.2 630.8 512.8 631.0 513.4 631.2 513.9 631.3 514.5 631.5 515.1 631.7 515.7 631.9 516.2 632.1 516.8 632.3 517.4 632.5 518.0 632.6 518.5 632.8 519.1 633.0 519.7 633.2 520.3 633.4 520.9 633.6 521.4 633.8 522.0 633.9 522.6 634.1 523.2 634.3 523.8 634.5 524.3 634.7 524.9 634.9 525.5 635.1 526.1 635.3 526.7 635.4 527.2 635.6 527.8 635.8 528.4 636.0 529.0 636.2 529.6 636.4 530.2 636.6 530.7 636.8 531.3 636.9 531.9 637.1 532.5 637.3 533.1 637.5 533.7 637.7 534.2 637.9 534.8 638.1 535.4 638.3 536.0 638.4 536.6 638.6 537.2 638.8 537.8 639.0 538.4 639.2 538.9 639.4 539.5 639.6 540.1 639.8 540.7 640.0 541.3 640.1 541.9 640.3 542.5 640.5 543.1 640.7 543.6 640.9 544.2 641.1 544.8 641.3 545.4 641.5 546.0 641.7 546.6 641.8 547.2 642.0 547.8 642.2 548.4 642.4 549.0 642.6 549.6 642.8 550.2 643.0 550.7 643.2 551.3 643.4 551.9 643.6 552.5 643.8 553.1 643.9 553.7 644.1 554.3 644.3 554.9 644.5 555.5 644.7 556.1 644.9 556.7 645.1 557.3 645.3 557.9 645.5 558.5 645.7 559.1 645.9 559.7 646.0 560.3 646.2 560.9 646.4 561.5 646.6 562.1 646.8 562.7 647.0 563.3 647.2 563.9 647.4 564.5 647.6 565.1 647.8 565.7 648.0 566.3 648.2 566.9 648.4 567.5 648.6 568.1 648.7 568.7 648.9 569.3 649.1 569.9 649.3 570.5 649.5 571.1 649.7 571.7 649.9 572.3 650.1 572.9 650.3 573.5 650.5 574.1 650.7 574.7 650.9 575.3 651.1 575.9 651.3 576.5 651.5 577.1 651.7 577.7 651.9 578.3 652.0 578.9 652.2 579.6 652.4 580.2 652.6 580.8 652.8 581.4 653.0 582.0 653.2 582.6 653.4 583.2 653.6 583.8 653.8 584.4 654.0 585.0 654.2 585.6 654.4 586.3 654.6 586.9 654.8" fill="none" stroke="#ff7f0e" stroke-width="0.60" stroke-opacity="0.16"/>
<line x1="451.00" y1="622.00" x2="577.70" y2="663.70" stroke="#333" stroke-width="0.80"/>
<line x1="577.70" y1="663.70" x2="647.30" y2="592.20" stroke="#333" stroke-width="0.80"/>
<line x1="647.30" y1="592.20" x2="651.40" y2="499.00" stroke="#333" stroke-width="0.80"/>
<line x1="450.76" y1="621.58" x2="449.56" y2="624.18" stroke="#333" stroke-width="0.70"/>
<text x="447.20" y="640.10" font-size="9.08" text-anchor="middle" fill="#1a1a1a" textLength="18.78" lengthAdjust="spacingAndGlyphs">−10</text>
<line x1="481.47" y1="631.59" x2="480.27" y2="634.19" stroke="#333" stroke-width="0.70"/>
<text x="477.60" y="650.80" font-size="9.08" text-anchor="middle" fill="#1a1a1a" textLength="13.12" lengthAdjust="spacingAndGlyphs">−5</text>
<line x1="512.98" y1="641.85" x2="511.78" y2="644.45" stroke="#333" stroke-width="0.70"/>
<text x="508.00" y="661.00" font-size="9.08" text-anchor="middle" fill="#1a1a1a" textLength="5.66" lengthAdjust="spacingAndGlyphs">0</text>
<line x1="545.34" y1="652.40" x2="544.14" y2="655.00" stroke="#333" stroke-width="0.70"/>
<text x="539.40" y="671.20" font-size="9.08" text-anchor="middle" fill="#1a1a1a" textLength="5.66" lengthAdjust="spacingAndGlyphs">5</text>
<line x1="578.57" y1="663.22" x2="577.37" y2="665.82" stroke="#333" stroke-width="0.70"/>
<text x="570.50" y="681.20" font-size="9.08" text-anchor="middle" fill="#1a1a1a" textLength="11.33" lengthAdjust="spacingAndGlyphs">10</text>
<text x="500.80" y="670.50" font-size="9.08" text-anchor="middle" fill="#1a1a1a" textLength="5.65" lengthAdjust="spacingAndGlyphs"><tspan font-style="italic">q</tspan></text>
<line x1="586.86" y1="654.78" x2="589.46" y2="655.38" stroke="#333" stroke-width="0.70"/>
<text x="607.00" y="665.80" font-size="9.08" text-anchor="middle" fill="#1a1a1a" textLength="21.93" lengthAdjust="spacingAndGlyphs">AVLP</text>
<line x1="597.36" y1="644.10" x2="599.96" y2="644.70" stroke="#333" stroke-width="0.70"/>
<text x="614.40" y="654.40" font-size="9.08" text-anchor="middle" fill="#1a1a1a" textLength="21.78" lengthAdjust="spacingAndGlyphs">PVLP</text>
<line x1="607.73" y1="633.55" x2="610.33" y2="634.15" stroke="#333" stroke-width="0.70"/>
<text x="627.60" y="642.60" font-size="9.08" text-anchor="middle" fill="#1a1a1a" textLength="24.89" lengthAdjust="spacingAndGlyphs">AOTU</text>
<line x1="617.95" y1="623.15" x2="620.55" y2="623.75" stroke="#333" stroke-width="0.70"/>
<text x="633.10" y="632.20" font-size="9.08" text-anchor="middle" fill="#1a1a1a" textLength="15.69" lengthAdjust="spacingAndGlyphs">PLP</text>
<line x1="627.91" y1="613.02" x2="630.51" y2="613.62" stroke="#333" stroke-width="0.70"/>
<text x="647.20" y="621.10" font-size="9.08" text-anchor="middle" fill="#1a1a1a" textLength="21.28" lengthAdjust="spacingAndGlyphs">WED</text>
<line x1="637.53" y1="603.22" x2="640.13" y2="603.82" stroke="#333" stroke-width="0.70"/>
<text x="658.50" y="611.50" font-size="9.08" text-anchor="middle" fill="#1a1a1a" textLength="23.07" lengthAdjust="spacingAndGlyphs">VLNP</text>
<line x1="647.30" y1="592.20" x2="649.70" y2="592.20" stroke="#333" stroke-width="0.70"/>
<text x="651.30" y="597.40" font-size="9.08" text-anchor="start" fill="#1a1a1a" textLength="14.15" lengthAdjust="spacingAndGlyphs">0.0</text>
<line x1="648.32" y1="569.08" x2="650.72" y2="569.08" stroke="#333" stroke-width="0.70"/>
<text x="652.32" y="575.70" font-size="9.08" text-anchor="start" fill="#1a1a1a" textLength="14.15" lengthAdjust="spacingAndGlyphs">0.5</text>
<line x1="649.33" y1="545.95" x2="651.73" y2="545.95" stroke="#333" stroke-width="0.70"/>
<text x="653.33" y="553.20" font-size="9.08" text-anchor="start" fill="#1a1a1a" textLength="14.15" lengthAdjust="spacingAndGlyphs">1.0</text>
<line x1="650.35" y1="522.83" x2="652.75" y2="522.83" stroke="#333" stroke-width="0.70"/>
<text x="654.35" y="530.10" font-size="9.08" text-anchor="start" fill="#1a1a1a" textLength="14.15" lengthAdjust="spacingAndGlyphs">1.5</text>
<line x1="651.37" y1="499.70" x2="653.77" y2="499.70" stroke="#333" stroke-width="0.70"/>
<text x="655.37" y="506.30" font-size="9.08" text-anchor="start" fill="#1a1a1a" textLength="14.15" lengthAdjust="spacingAndGlyphs">2.0</text>
<text x="681.50" y="543.90" font-size="9.08" text-anchor="middle" fill="#1a1a1a" textLength="18.81" lengthAdjust="spacingAndGlyphs" transform="rotate(-90 681.50 543.90)"><tspan font-style="italic">C</tspan>(<tspan font-style="italic">q</tspan>)</text>
<text x="13.50" y="14.60" font-size="17.00" font-weight="bold" text-anchor="start" fill="#000">a</text>
<text x="402.20" y="14.90" font-size="17.00" font-weight="bold" text-anchor="start" fill="#000">b</text>
<text x="10.90" y="209.00" font-size="17.50" font-weight="bold" text-anchor="start" fill="#000">c</text>
<text x="212.20" y="208.90" font-size="17.50" font-weight="bold" text-anchor="start" fill="#000">d</text>
<text x="10.60" y="369.30" font-size="17.50" font-weight="bold" text-anchor="start" fill="#000">e</text>
<text x="211.60" y="370.90" font-size="17.50" font-weight="bold" text-anchor="start" fill="#000">f</text>
<text x="443.20" y="275.00" font-size="17.50" font-weight="bold" text-anchor="start" fill="#000">g</text>
<text x="443.40" y="478.90" font-size="17.50" font-weight="bold" text-anchor="start" fill="#000">h</text>
<text x="13.80" y="535.20" font-size="17.50" font-weight="bold" text-anchor="start" fill="#000">i</text>
<text x="209.80" y="535.00" font-size="17.50" font-weight="bold" text-anchor="start" fill="#000">j</text>
<text x="1.00" y="695.70" font-size="17.50" font-weight="bold" text-anchor="start" fill="#000">k</text>
<text x="239.40" y="698.30" font-size="17.50" font-weight="bold" text-anchor="start" fill="#000">l</text>
<text x="455.80" y="697.70" font-size="17.50" font-weight="bold" text-anchor="start" fill="#000">m</text>
</svg>
</body></html>
